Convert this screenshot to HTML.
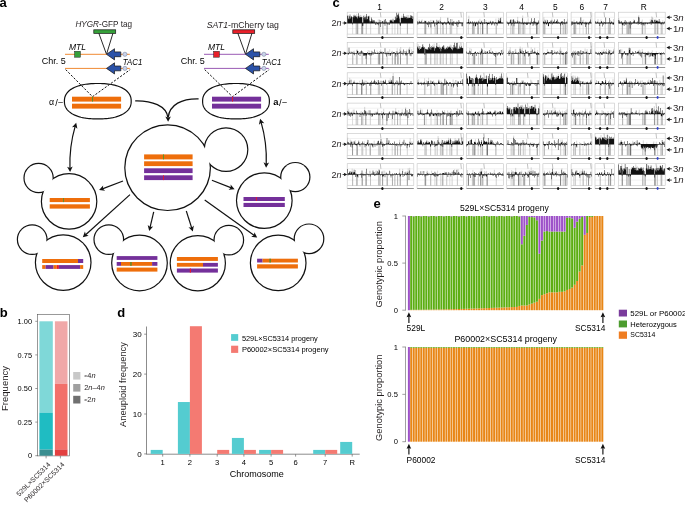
<!DOCTYPE html>
<html><head><meta charset="utf-8"><style>
html,body{margin:0;padding:0;background:#fff;overflow:hidden;}
svg{display:block;font-family:"Liberation Sans", sans-serif;}
#wrap{will-change:transform;}
</style></head><body>
<div id="wrap"><svg width="685" height="505" viewBox="0 0 685 505" font-family='"Liberation Sans", sans-serif'>
<rect width="685" height="505" fill="#fff"/>
<text x="-0.50" y="7.00" font-size="13" text-anchor="start" font-weight="bold" fill="#000" >a</text>
<text x="75.4" y="26.6" font-size="8.4" fill="#231f20" textLength="56.6" lengthAdjust="spacingAndGlyphs"><tspan font-style="italic">HYGR</tspan>-GFP tag</text>
<rect x="93.80" y="29.80" width="21.90" height="3.60" fill="#36a03a" stroke="#1a1a1a" stroke-width="0.7"/>
<line x1="98.90" y1="33.40" x2="106.40" y2="54.00" stroke="#111" stroke-width="0.9" />
<line x1="112.90" y1="33.40" x2="106.60" y2="54.00" stroke="#111" stroke-width="0.9" />
<line x1="65.00" y1="54.30" x2="129.80" y2="54.30" stroke="#f08a33" stroke-width="1.0" />
<path d="M106.50,54.30 L114.50,48.70 L114.50,51.90 L120.80,51.90 L120.80,56.70 L114.50,56.70 L114.50,59.90 Z" fill="#2b52a8" stroke="#111" stroke-width="0.7" stroke-linejoin="miter"/>
<circle cx="124.90" cy="54.30" r="2.1" fill="#c9d3ea" stroke="#6b7490" stroke-width="0.5"/>
<line x1="65.00" y1="68.40" x2="129.80" y2="68.40" stroke="#f08a33" stroke-width="1.0" />
<path d="M106.50,68.40 L114.50,62.80 L114.50,66.00 L120.80,66.00 L120.80,70.80 L114.50,70.80 L114.50,74.00 Z" fill="#2b52a8" stroke="#111" stroke-width="0.7" stroke-linejoin="miter"/>
<circle cx="124.90" cy="68.40" r="2.1" fill="#c9d3ea" stroke="#6b7490" stroke-width="0.5"/>
<rect x="74.60" y="51.30" width="5.80" height="5.90" fill="#36a03a" stroke="#222" stroke-width="0.5"/>
<text x="69.00" y="50.00" font-size="8.3" text-anchor="start" font-style="italic" textLength="17" lengthAdjust="spacingAndGlyphs">MTL</text>
<text x="41.70" y="64.00" font-size="8.6" text-anchor="start" textLength="24" lengthAdjust="spacingAndGlyphs">Chr. 5</text>
<text x="122.80" y="65.20" font-size="8.3" text-anchor="start" font-style="italic" textLength="19.5" lengthAdjust="spacingAndGlyphs">TAC1</text>
<path d="M65.70,69.6 L92.50,96.7 L130.20,69.6" fill="none" stroke="#111" stroke-width="1.0" stroke-dasharray="2.2,1.6"/>
<polygon points="131.20,101.20 131.16,102.56 131.04,103.68 130.84,104.73 130.56,105.72 130.21,106.66 129.77,107.57 129.26,108.45 128.67,109.30 128.01,110.11 127.27,110.89 126.46,111.64 125.58,112.35 124.62,113.03 123.60,113.68 122.51,114.29 121.35,114.87 120.13,115.42 118.84,115.92 117.49,116.39 116.08,116.82 114.61,117.21 113.08,117.56 111.48,117.87 109.83,118.14 108.11,118.37 106.32,118.56 104.46,118.71 102.49,118.82 100.37,118.88 97.80,118.90 95.23,118.88 93.11,118.82 91.14,118.71 89.28,118.56 87.49,118.37 85.77,118.14 84.12,117.87 82.52,117.56 80.99,117.21 79.52,116.82 78.11,116.39 76.76,115.92 75.47,115.42 74.25,114.87 73.09,114.29 72.00,113.68 70.98,113.03 70.02,112.35 69.14,111.64 68.33,110.89 67.59,110.11 66.93,109.30 66.34,108.45 65.83,107.57 65.39,106.66 65.04,105.72 64.76,104.73 64.56,103.68 64.44,102.56 64.40,101.20 64.44,99.84 64.56,98.72 64.76,97.67 65.04,96.68 65.39,95.74 65.83,94.83 66.34,93.95 66.93,93.10 67.59,92.29 68.33,91.51 69.14,90.76 70.02,90.05 70.98,89.37 72.00,88.72 73.09,88.11 74.25,87.53 75.47,86.98 76.76,86.48 78.11,86.01 79.52,85.58 80.99,85.19 82.52,84.84 84.12,84.53 85.77,84.26 87.49,84.03 89.28,83.84 91.14,83.69 93.11,83.58 95.23,83.52 97.80,83.50 100.37,83.52 102.49,83.58 104.46,83.69 106.32,83.84 108.11,84.03 109.83,84.26 111.48,84.53 113.08,84.84 114.61,85.19 116.08,85.58 117.49,86.01 118.84,86.48 120.13,86.98 121.35,87.53 122.51,88.11 123.60,88.72 124.62,89.37 125.58,90.05 126.46,90.76 127.27,91.51 128.01,92.29 128.67,93.10 129.26,93.95 129.77,94.83 130.21,95.74 130.56,96.68 130.84,97.67 131.04,98.72 131.16,99.84" fill="none" stroke="#111" stroke-width="1.2"/>
<rect x="72.00" y="96.70" width="49.10" height="4.90" fill="#ee6e0b" />
<rect x="72.00" y="103.70" width="49.10" height="4.90" fill="#ee6e0b" />
<rect x="92.00" y="96.70" width="0.90" height="4.90" fill="#4a9a2a" />
<text x="206.8" y="27.6" font-size="8.4" fill="#231f20" textLength="72.2" lengthAdjust="spacingAndGlyphs"><tspan font-style="italic">SAT1</tspan>-mCherry tag</text>
<rect x="232.80" y="29.80" width="21.90" height="3.60" fill="#e8202a" stroke="#1a1a1a" stroke-width="0.7"/>
<line x1="237.90" y1="33.40" x2="245.40" y2="54.00" stroke="#111" stroke-width="0.9" />
<line x1="251.90" y1="33.40" x2="245.60" y2="54.00" stroke="#111" stroke-width="0.9" />
<line x1="204.00" y1="54.30" x2="268.80" y2="54.30" stroke="#9a5bb5" stroke-width="1.0" />
<path d="M245.50,54.30 L253.50,48.70 L253.50,51.90 L259.80,51.90 L259.80,56.70 L253.50,56.70 L253.50,59.90 Z" fill="#2b52a8" stroke="#111" stroke-width="0.7" stroke-linejoin="miter"/>
<circle cx="263.90" cy="54.30" r="2.1" fill="#c9d3ea" stroke="#6b7490" stroke-width="0.5"/>
<line x1="204.00" y1="68.40" x2="268.80" y2="68.40" stroke="#9a5bb5" stroke-width="1.0" />
<path d="M245.50,68.40 L253.50,62.80 L253.50,66.00 L259.80,66.00 L259.80,70.80 L253.50,70.80 L253.50,74.00 Z" fill="#2b52a8" stroke="#111" stroke-width="0.7" stroke-linejoin="miter"/>
<circle cx="263.90" cy="68.40" r="2.1" fill="#c9d3ea" stroke="#6b7490" stroke-width="0.5"/>
<rect x="213.60" y="51.30" width="5.80" height="5.90" fill="#e8202a" stroke="#222" stroke-width="0.5"/>
<text x="208.00" y="50.00" font-size="8.3" text-anchor="start" font-style="italic" textLength="17" lengthAdjust="spacingAndGlyphs">MTL</text>
<text x="180.70" y="64.00" font-size="8.6" text-anchor="start" textLength="24" lengthAdjust="spacingAndGlyphs">Chr. 5</text>
<text x="261.80" y="65.20" font-size="8.3" text-anchor="start" font-style="italic" textLength="19.5" lengthAdjust="spacingAndGlyphs">TAC1</text>
<path d="M204.70,69.6 L232.50,96.7 L269.20,69.6" fill="none" stroke="#111" stroke-width="1.0" stroke-dasharray="2.2,1.6"/>
<polygon points="269.40,101.20 269.36,102.56 269.24,103.68 269.04,104.73 268.76,105.72 268.41,106.66 267.97,107.57 267.46,108.45 266.87,109.30 266.21,110.11 265.47,110.89 264.66,111.64 263.78,112.35 262.82,113.03 261.80,113.68 260.71,114.29 259.55,114.87 258.33,115.42 257.04,115.92 255.69,116.39 254.28,116.82 252.81,117.21 251.28,117.56 249.68,117.87 248.03,118.14 246.31,118.37 244.52,118.56 242.66,118.71 240.69,118.82 238.57,118.88 236.00,118.90 233.43,118.88 231.31,118.82 229.34,118.71 227.48,118.56 225.69,118.37 223.97,118.14 222.32,117.87 220.72,117.56 219.19,117.21 217.72,116.82 216.31,116.39 214.96,115.92 213.67,115.42 212.45,114.87 211.29,114.29 210.20,113.68 209.18,113.03 208.22,112.35 207.34,111.64 206.53,110.89 205.79,110.11 205.13,109.30 204.54,108.45 204.03,107.57 203.59,106.66 203.24,105.72 202.96,104.73 202.76,103.68 202.64,102.56 202.60,101.20 202.64,99.84 202.76,98.72 202.96,97.67 203.24,96.68 203.59,95.74 204.03,94.83 204.54,93.95 205.13,93.10 205.79,92.29 206.53,91.51 207.34,90.76 208.22,90.05 209.18,89.37 210.20,88.72 211.29,88.11 212.45,87.53 213.67,86.98 214.96,86.48 216.31,86.01 217.72,85.58 219.19,85.19 220.72,84.84 222.32,84.53 223.97,84.26 225.69,84.03 227.48,83.84 229.34,83.69 231.31,83.58 233.43,83.52 236.00,83.50 238.57,83.52 240.69,83.58 242.66,83.69 244.52,83.84 246.31,84.03 248.03,84.26 249.68,84.53 251.28,84.84 252.81,85.19 254.28,85.58 255.69,86.01 257.04,86.48 258.33,86.98 259.55,87.53 260.71,88.11 261.80,88.72 262.82,89.37 263.78,90.05 264.66,90.76 265.47,91.51 266.21,92.29 266.87,93.10 267.46,93.95 267.97,94.83 268.41,95.74 268.76,96.68 269.04,97.67 269.24,98.72 269.36,99.84" fill="none" stroke="#111" stroke-width="1.2"/>
<rect x="212.00" y="96.70" width="49.10" height="4.90" fill="#74309a" />
<rect x="212.00" y="103.70" width="49.10" height="4.90" fill="#74309a" />
<rect x="232.00" y="96.70" width="0.90" height="4.90" fill="#e5172b" />
<text x="49.00" y="105.30" font-size="8.8" text-anchor="start" >α</text>
<text x="55.30" y="105.60" font-size="9.4" text-anchor="start" >/</text>
<text x="58.20" y="105.30" font-size="8.2" text-anchor="start" >–</text>
<text x="273.20" y="105.30" font-size="9.4" text-anchor="start" font-weight="bold" >a</text>
<text x="279.00" y="105.60" font-size="9.4" text-anchor="start" >/</text>
<text x="282.20" y="105.30" font-size="8.2" text-anchor="start" >–</text>
<circle cx="226.00" cy="149.60" r="21.20" fill="none" stroke="#111" stroke-width="2.40"/>
<circle cx="167.60" cy="167.70" r="42.20" fill="none" stroke="#111" stroke-width="2.40"/>
<circle cx="226.00" cy="149.60" r="21.20" fill="#fff"/>
<circle cx="167.60" cy="167.70" r="42.20" fill="#fff"/>
<circle cx="38.60" cy="178.00" r="14.00" fill="none" stroke="#111" stroke-width="2.40"/>
<circle cx="69.10" cy="201.40" r="27.10" fill="none" stroke="#111" stroke-width="2.40"/>
<circle cx="38.60" cy="178.00" r="14.00" fill="#fff"/>
<circle cx="69.10" cy="201.40" r="27.10" fill="#fff"/>
<circle cx="295.30" cy="177.10" r="14.00" fill="none" stroke="#111" stroke-width="2.40"/>
<circle cx="264.30" cy="200.60" r="27.20" fill="none" stroke="#111" stroke-width="2.40"/>
<circle cx="295.30" cy="177.10" r="14.00" fill="#fff"/>
<circle cx="264.30" cy="200.60" r="27.20" fill="#fff"/>
<circle cx="32.20" cy="239.60" r="14.20" fill="none" stroke="#111" stroke-width="2.40"/>
<circle cx="63.20" cy="262.60" r="27.20" fill="none" stroke="#111" stroke-width="2.40"/>
<circle cx="32.20" cy="239.60" r="14.20" fill="#fff"/>
<circle cx="63.20" cy="262.60" r="27.20" fill="#fff"/>
<circle cx="108.80" cy="239.60" r="14.20" fill="none" stroke="#111" stroke-width="2.40"/>
<circle cx="139.50" cy="263.00" r="27.20" fill="none" stroke="#111" stroke-width="2.40"/>
<circle cx="108.80" cy="239.60" r="14.20" fill="#fff"/>
<circle cx="139.50" cy="263.00" r="27.20" fill="#fff"/>
<circle cx="228.80" cy="240.10" r="14.20" fill="none" stroke="#111" stroke-width="2.40"/>
<circle cx="197.80" cy="263.20" r="27.00" fill="none" stroke="#111" stroke-width="2.40"/>
<circle cx="228.80" cy="240.10" r="14.20" fill="#fff"/>
<circle cx="197.80" cy="263.20" r="27.00" fill="#fff"/>
<circle cx="309.00" cy="238.80" r="14.20" fill="none" stroke="#111" stroke-width="2.40"/>
<circle cx="278.20" cy="262.90" r="27.20" fill="none" stroke="#111" stroke-width="2.40"/>
<circle cx="309.00" cy="238.80" r="14.20" fill="#fff"/>
<circle cx="278.20" cy="262.90" r="27.20" fill="#fff"/>
<rect x="144.10" y="154.40" width="48.50" height="5.00" fill="#ee6e0b" />
<rect x="144.10" y="161.30" width="48.50" height="4.80" fill="#ee6e0b" />
<rect x="144.10" y="168.30" width="48.50" height="4.80" fill="#74309a" />
<rect x="144.10" y="175.30" width="48.50" height="4.80" fill="#74309a" />
<rect x="163.00" y="154.40" width="0.90" height="5.00" fill="#4a9a2a" />
<rect x="163.00" y="175.30" width="0.90" height="4.80" fill="#e5172b" />
<rect x="49.70" y="198.00" width="40.20" height="4.10" fill="#ee6e0b" />
<rect x="49.70" y="204.30" width="40.20" height="4.30" fill="#ee6e0b" />
<rect x="63.20" y="198.00" width="0.80" height="4.10" fill="#4a9a2a" />
<rect x="243.50" y="197.00" width="41.30" height="4.00" fill="#74309a" />
<rect x="243.50" y="202.90" width="41.30" height="4.10" fill="#74309a" />
<rect x="255.90" y="197.00" width="0.90" height="4.00" fill="#e5172b" />
<rect x="42.20" y="259.00" width="35.80" height="4.00" fill="#ee6e0b" />
<rect x="78.00" y="259.00" width="5.20" height="4.00" fill="#74309a" />
<rect x="42.20" y="265.10" width="3.40" height="3.80" fill="#ee6e0b" />
<rect x="45.60" y="265.10" width="8.00" height="3.80" fill="#74309a" />
<rect x="53.60" y="265.10" width="3.20" height="3.80" fill="#ee6e0b" />
<rect x="56.80" y="265.10" width="2.10" height="3.80" fill="#e5172b" />
<rect x="58.90" y="265.10" width="21.20" height="3.80" fill="#74309a" />
<rect x="80.10" y="265.10" width="3.10" height="3.80" fill="#ee6e0b" />
<rect x="116.70" y="256.10" width="40.70" height="3.80" fill="#74309a" />
<rect x="116.70" y="262.00" width="4.30" height="3.80" fill="#74309a" />
<rect x="121.00" y="262.00" width="31.10" height="3.80" fill="#ee6e0b" />
<rect x="152.10" y="262.00" width="5.30" height="3.80" fill="#74309a" />
<rect x="130.20" y="262.00" width="1.50" height="3.80" fill="#5b8a2a" />
<rect x="116.70" y="267.60" width="40.70" height="4.00" fill="#ee6e0b" />
<rect x="176.90" y="257.00" width="41.00" height="3.90" fill="#ee6e0b" />
<rect x="176.90" y="262.90" width="26.10" height="3.80" fill="#ee6e0b" />
<rect x="203.00" y="262.90" width="14.90" height="3.80" fill="#74309a" />
<rect x="176.90" y="268.50" width="41.00" height="4.10" fill="#74309a" />
<rect x="189.80" y="268.50" width="1.20" height="4.10" fill="#e5172b" />
<rect x="257.10" y="258.70" width="5.50" height="3.80" fill="#74309a" />
<rect x="262.60" y="258.70" width="35.30" height="3.80" fill="#ee6e0b" />
<rect x="269.40" y="258.70" width="1.50" height="3.80" fill="#5b8a2a" />
<rect x="257.10" y="264.30" width="40.80" height="4.20" fill="#ee6e0b" />
<line x1="123.00" y1="181.00" x2="102.37" y2="188.85" stroke="#111" stroke-width="1.2" />
<path d="M99.10,190.10 L103.15,185.56 L102.88,188.66 L105.14,190.80 Z" fill="#111"/>
<line x1="211.90" y1="180.30" x2="231.34" y2="187.92" stroke="#111" stroke-width="1.2" />
<path d="M234.60,189.20 L228.55,189.84 L230.83,187.72 L230.59,184.62 Z" fill="#111"/>
<line x1="130.00" y1="194.60" x2="85.40" y2="234.95" stroke="#111" stroke-width="1.2" />
<path d="M82.80,237.30 L84.93,231.60 L85.80,234.58 L88.68,235.75 Z" fill="#111"/>
<line x1="153.70" y1="211.80" x2="150.00" y2="227.59" stroke="#111" stroke-width="1.2" />
<path d="M149.20,231.00 L147.71,225.10 L150.12,227.06 L153.16,226.38 Z" fill="#111"/>
<line x1="186.30" y1="211.00" x2="191.74" y2="228.16" stroke="#111" stroke-width="1.2" />
<path d="M192.80,231.50 L188.50,227.20 L191.58,227.64 L193.84,225.51 Z" fill="#111"/>
<line x1="204.70" y1="200.00" x2="254.35" y2="235.56" stroke="#111" stroke-width="1.2" />
<path d="M257.20,237.60 L251.18,236.73 L253.91,235.24 L254.44,232.18 Z" fill="#111"/>
<path d="M75.22,126.16 Q69.18,146.91 69.97,168.50" fill="none" stroke="#111" stroke-width="1.2"/>
<path d="M76.20,122.80 L77.38,128.77 L75.07,126.69 L72.00,127.20 Z" fill="#111"/>
<path d="M70.10,172.00 L67.10,166.71 L69.95,167.95 L72.70,166.50 Z" fill="#111"/>
<path d="M261.08,122.16 Q267.07,142.76 266.24,164.20" fill="none" stroke="#111" stroke-width="1.2"/>
<path d="M260.10,118.80 L264.30,123.20 L261.23,122.69 L258.92,124.77 Z" fill="#111"/>
<path d="M266.10,167.70 L263.51,162.20 L266.26,163.65 L269.11,162.41 Z" fill="#111"/>
<path d="M135.2,100.8 C152,100.4 166.5,106 167.9,117.5" fill="none" stroke="#111" stroke-width="1.3"/>
<path d="M198.6,98.8 C182,98.4 169.5,104.5 168.2,117.5" fill="none" stroke="#111" stroke-width="1.3"/>
<path d="M168.10,121.80 L165.30,116.40 L168.10,117.75 L170.90,116.40 Z" fill="#111"/>
<text x="-0.30" y="316.80" font-size="13" text-anchor="start" font-weight="bold" fill="#000" >b</text>
<rect x="37.4" y="314.3" width="31.9" height="141.6" fill="none" stroke="#555" stroke-width="0.6"/>
<line x1="35.30" y1="321.30" x2="37.40" y2="321.30" stroke="#555" stroke-width="0.6" />
<text x="32.00" y="323.90" font-size="7.4" text-anchor="end" >1.00</text>
<line x1="35.30" y1="354.90" x2="37.40" y2="354.90" stroke="#555" stroke-width="0.6" />
<text x="32.00" y="357.50" font-size="7.4" text-anchor="end" >0.75</text>
<line x1="35.30" y1="388.50" x2="37.40" y2="388.50" stroke="#555" stroke-width="0.6" />
<text x="32.00" y="391.10" font-size="7.4" text-anchor="end" >0.50</text>
<line x1="35.30" y1="422.10" x2="37.40" y2="422.10" stroke="#555" stroke-width="0.6" />
<text x="32.00" y="424.70" font-size="7.4" text-anchor="end" >0.25</text>
<line x1="35.30" y1="455.70" x2="37.40" y2="455.70" stroke="#555" stroke-width="0.6" />
<text x="32.00" y="458.30" font-size="7.4" text-anchor="end" >0</text>
<rect x="39.40" y="321.30" width="13.40" height="91.39" fill="#7fd8d8" />
<rect x="39.40" y="412.69" width="13.40" height="36.96" fill="#1fbcc2" />
<rect x="39.40" y="449.65" width="13.40" height="6.05" fill="#3a8e90" />
<rect x="54.90" y="321.30" width="12.60" height="62.50" fill="#f0a8a8" />
<rect x="54.90" y="383.80" width="12.60" height="65.59" fill="#f2706a" />
<rect x="54.90" y="449.38" width="12.60" height="6.32" fill="#e34040" />
<line x1="46.10" y1="455.90" x2="46.10" y2="458.40" stroke="#555" stroke-width="0.6" />
<line x1="60.40" y1="455.90" x2="60.40" y2="458.40" stroke="#555" stroke-width="0.6" />
<rect x="73.20" y="372.00" width="7.20" height="7.60" fill="#c8c8c8" />
<rect x="73.20" y="384.00" width="7.20" height="7.60" fill="#a0a0a0" />
<rect x="73.20" y="395.80" width="7.20" height="7.70" fill="#707070" />
<text x="84.2" y="377.9" font-size="7.4" fill="#231f20"><tspan font-size="5.6">≈</tspan>4<tspan font-style="italic">n</tspan></text>
<text x="84.2" y="389.9" font-size="7.4" fill="#231f20">2<tspan font-style="italic">n</tspan>–4<tspan font-style="italic">n</tspan></text>
<text x="84.2" y="401.7" font-size="7.4" fill="#231f20"><tspan font-size="5.6">≈</tspan>2<tspan font-style="italic">n</tspan></text>
<text x="0" y="0" font-size="9.5" fill="#231f20" text-anchor="middle" transform="translate(8.4,388.5) rotate(-90)">Frequency</text>
<text x="0" y="0" font-size="7.0" fill="#231f20" text-anchor="end" transform="translate(51.0,465.0) rotate(-45)">529L×SC5314</text>
<text x="0" y="0" font-size="7.0" fill="#231f20" text-anchor="end" transform="translate(64.9,465.0) rotate(-45)">P60002×SC5314</text>
<text x="117.30" y="316.80" font-size="13" text-anchor="start" font-weight="bold" fill="#000" >d</text>
<line x1="146.50" y1="326.50" x2="146.50" y2="454.20" stroke="#666" stroke-width="0.75" />
<line x1="146.20" y1="454.20" x2="359.70" y2="454.20" stroke="#666" stroke-width="0.75" />
<line x1="144.20" y1="453.90" x2="146.50" y2="453.90" stroke="#666" stroke-width="0.7" />
<text x="141.60" y="456.70" font-size="8.0" text-anchor="end" >0</text>
<line x1="144.20" y1="414.00" x2="146.50" y2="414.00" stroke="#666" stroke-width="0.7" />
<text x="141.60" y="416.80" font-size="8.0" text-anchor="end" >10</text>
<line x1="144.20" y1="374.10" x2="146.50" y2="374.10" stroke="#666" stroke-width="0.7" />
<text x="141.60" y="376.90" font-size="8.0" text-anchor="end" >20</text>
<line x1="144.20" y1="334.20" x2="146.50" y2="334.20" stroke="#666" stroke-width="0.7" />
<text x="141.60" y="337.00" font-size="8.0" text-anchor="end" >30</text>
<rect x="150.70" y="449.91" width="12.00" height="3.99" fill="#54ccd0" />
<line x1="162.70" y1="454.20" x2="162.70" y2="456.60" stroke="#666" stroke-width="0.7" />
<text x="162.70" y="465.40" font-size="7.6" text-anchor="middle" >1</text>
<rect x="177.90" y="402.03" width="12.00" height="51.87" fill="#54ccd0" />
<rect x="189.90" y="326.22" width="12.00" height="127.68" fill="#f47a72" />
<line x1="189.90" y1="454.20" x2="189.90" y2="456.60" stroke="#666" stroke-width="0.7" />
<text x="189.90" y="465.40" font-size="7.6" text-anchor="middle" >2</text>
<rect x="217.20" y="449.91" width="12.00" height="3.99" fill="#f47a72" />
<line x1="217.20" y1="454.20" x2="217.20" y2="456.60" stroke="#666" stroke-width="0.7" />
<text x="217.20" y="465.40" font-size="7.6" text-anchor="middle" >3</text>
<rect x="231.90" y="437.94" width="12.00" height="15.96" fill="#54ccd0" />
<rect x="243.90" y="449.91" width="12.00" height="3.99" fill="#f47a72" />
<line x1="243.90" y1="454.20" x2="243.90" y2="456.60" stroke="#666" stroke-width="0.7" />
<text x="243.90" y="465.40" font-size="7.6" text-anchor="middle" >4</text>
<rect x="259.10" y="449.91" width="12.00" height="3.99" fill="#54ccd0" />
<rect x="271.10" y="449.91" width="12.00" height="3.99" fill="#f47a72" />
<line x1="271.10" y1="454.20" x2="271.10" y2="456.60" stroke="#666" stroke-width="0.7" />
<text x="271.10" y="465.40" font-size="7.6" text-anchor="middle" >5</text>
<line x1="295.60" y1="454.20" x2="295.60" y2="456.60" stroke="#666" stroke-width="0.7" />
<text x="295.60" y="465.40" font-size="7.6" text-anchor="middle" >6</text>
<rect x="313.20" y="449.91" width="12.00" height="3.99" fill="#54ccd0" />
<rect x="325.20" y="449.91" width="12.00" height="3.99" fill="#f47a72" />
<line x1="325.20" y1="454.20" x2="325.20" y2="456.60" stroke="#666" stroke-width="0.7" />
<text x="325.20" y="465.40" font-size="7.6" text-anchor="middle" >7</text>
<rect x="340.20" y="441.93" width="12.00" height="11.97" fill="#54ccd0" />
<line x1="352.20" y1="454.20" x2="352.20" y2="456.60" stroke="#666" stroke-width="0.7" />
<text x="352.20" y="465.40" font-size="7.6" text-anchor="middle" >R</text>
<rect x="231.10" y="334.10" width="7.10" height="6.70" fill="#54ccd0" />
<rect x="231.10" y="345.70" width="7.10" height="7.20" fill="#f47a72" />
<text x="241.90" y="340.50" font-size="7.5" text-anchor="start" textLength="75.9" lengthAdjust="spacingAndGlyphs">529L×SC5314 progeny</text>
<text x="241.90" y="351.80" font-size="7.5" text-anchor="start" textLength="86.7" lengthAdjust="spacingAndGlyphs">P60002×SC5314 progeny</text>
<text x="0" y="0" font-size="9.3" fill="#231f20" text-anchor="middle" transform="translate(125.6,384.5) rotate(-90)">Aneuploid frequency</text>
<text x="256.80" y="476.60" font-size="9.0" text-anchor="middle" >Chromosome</text>
<text x="373.40" y="207.70" font-size="13" text-anchor="start" font-weight="bold" fill="#000" >e</text>
<line x1="405.50" y1="215.70" x2="405.50" y2="310.50" stroke="#777" stroke-width="0.7" />
<line x1="402.30" y1="216.00" x2="405.50" y2="216.00" stroke="#777" stroke-width="0.7" />
<text x="397.90" y="218.60" font-size="7.6" text-anchor="end" >1</text>
<line x1="402.30" y1="263.10" x2="405.50" y2="263.10" stroke="#777" stroke-width="0.7" />
<text x="397.90" y="265.70" font-size="7.6" text-anchor="end" >0.5</text>
<line x1="402.30" y1="310.20" x2="405.50" y2="310.20" stroke="#777" stroke-width="0.7" />
<text x="397.90" y="312.80" font-size="7.6" text-anchor="end" >0</text>
<rect x="407.90" y="216.00" width="2.00" height="94.20" fill="#9e52c9" />
<rect x="410.20" y="309.82" width="2.01" height="0.38" fill="#e88616" />
<rect x="410.20" y="216.00" width="2.01" height="93.82" fill="#5cae12" />
<rect x="412.71" y="309.82" width="2.01" height="0.38" fill="#e88616" />
<rect x="412.71" y="216.38" width="2.01" height="93.44" fill="#5cae12" />
<rect x="412.71" y="216.00" width="2.01" height="0.38" fill="#9e52c9" />
<rect x="415.23" y="309.80" width="2.01" height="0.40" fill="#e88616" />
<rect x="415.23" y="216.00" width="2.01" height="93.80" fill="#5cae12" />
<rect x="417.74" y="309.78" width="2.01" height="0.42" fill="#e88616" />
<rect x="417.74" y="216.00" width="2.01" height="93.78" fill="#5cae12" />
<rect x="420.26" y="309.75" width="2.01" height="0.45" fill="#e88616" />
<rect x="420.26" y="216.38" width="2.01" height="93.38" fill="#5cae12" />
<rect x="420.26" y="216.00" width="2.01" height="0.38" fill="#9e52c9" />
<rect x="422.77" y="309.73" width="2.01" height="0.47" fill="#e88616" />
<rect x="422.77" y="216.00" width="2.01" height="93.73" fill="#5cae12" />
<rect x="425.29" y="309.69" width="2.01" height="0.51" fill="#e88616" />
<rect x="425.29" y="216.00" width="2.01" height="93.69" fill="#5cae12" />
<rect x="427.80" y="309.66" width="2.01" height="0.54" fill="#e88616" />
<rect x="427.80" y="216.38" width="2.01" height="93.28" fill="#5cae12" />
<rect x="427.80" y="216.00" width="2.01" height="0.38" fill="#9e52c9" />
<rect x="430.31" y="309.62" width="2.01" height="0.58" fill="#e88616" />
<rect x="430.31" y="216.00" width="2.01" height="93.62" fill="#5cae12" />
<rect x="432.83" y="309.57" width="2.01" height="0.63" fill="#e88616" />
<rect x="432.83" y="216.00" width="2.01" height="93.57" fill="#5cae12" />
<rect x="435.34" y="309.53" width="2.01" height="0.67" fill="#e88616" />
<rect x="435.34" y="216.38" width="2.01" height="93.15" fill="#5cae12" />
<rect x="435.34" y="216.00" width="2.01" height="0.38" fill="#9e52c9" />
<rect x="437.86" y="309.48" width="2.01" height="0.72" fill="#e88616" />
<rect x="437.86" y="216.00" width="2.01" height="93.48" fill="#5cae12" />
<rect x="440.37" y="309.43" width="2.01" height="0.77" fill="#e88616" />
<rect x="440.37" y="216.00" width="2.01" height="93.43" fill="#5cae12" />
<rect x="442.89" y="309.37" width="2.01" height="0.83" fill="#e88616" />
<rect x="442.89" y="216.38" width="2.01" height="93.00" fill="#5cae12" />
<rect x="442.89" y="216.00" width="2.01" height="0.38" fill="#9e52c9" />
<rect x="445.40" y="309.32" width="2.01" height="0.88" fill="#e88616" />
<rect x="445.40" y="216.00" width="2.01" height="93.32" fill="#5cae12" />
<rect x="447.91" y="309.26" width="2.01" height="0.94" fill="#e88616" />
<rect x="447.91" y="216.00" width="2.01" height="93.26" fill="#5cae12" />
<rect x="450.43" y="309.20" width="2.01" height="1.00" fill="#e88616" />
<rect x="450.43" y="216.38" width="2.01" height="92.82" fill="#5cae12" />
<rect x="450.43" y="216.00" width="2.01" height="0.38" fill="#9e52c9" />
<rect x="452.94" y="309.13" width="2.01" height="1.07" fill="#e88616" />
<rect x="452.94" y="216.00" width="2.01" height="93.13" fill="#5cae12" />
<rect x="455.46" y="309.07" width="2.01" height="1.13" fill="#e88616" />
<rect x="455.46" y="216.00" width="2.01" height="93.07" fill="#5cae12" />
<rect x="457.97" y="309.00" width="2.01" height="1.20" fill="#e88616" />
<rect x="457.97" y="216.38" width="2.01" height="92.62" fill="#5cae12" />
<rect x="457.97" y="216.00" width="2.01" height="0.38" fill="#9e52c9" />
<rect x="460.49" y="308.93" width="2.01" height="1.27" fill="#e88616" />
<rect x="460.49" y="216.00" width="2.01" height="92.93" fill="#5cae12" />
<rect x="463.00" y="308.85" width="2.01" height="1.35" fill="#e88616" />
<rect x="463.00" y="216.00" width="2.01" height="92.85" fill="#5cae12" />
<rect x="465.51" y="308.78" width="2.01" height="1.42" fill="#e88616" />
<rect x="465.51" y="216.38" width="2.01" height="92.40" fill="#5cae12" />
<rect x="465.51" y="216.00" width="2.01" height="0.38" fill="#9e52c9" />
<rect x="468.03" y="308.70" width="2.01" height="1.50" fill="#e88616" />
<rect x="468.03" y="216.00" width="2.01" height="92.70" fill="#5cae12" />
<rect x="470.54" y="308.62" width="2.01" height="1.58" fill="#e88616" />
<rect x="470.54" y="216.00" width="2.01" height="92.62" fill="#5cae12" />
<rect x="473.06" y="308.54" width="2.01" height="1.66" fill="#e88616" />
<rect x="473.06" y="216.38" width="2.01" height="92.17" fill="#5cae12" />
<rect x="473.06" y="216.00" width="2.01" height="0.38" fill="#9e52c9" />
<rect x="475.57" y="308.46" width="2.01" height="1.74" fill="#e88616" />
<rect x="475.57" y="216.00" width="2.01" height="92.46" fill="#5cae12" />
<rect x="478.09" y="308.37" width="2.01" height="1.83" fill="#e88616" />
<rect x="478.09" y="216.00" width="2.01" height="92.37" fill="#5cae12" />
<rect x="480.60" y="308.29" width="2.01" height="1.91" fill="#e88616" />
<rect x="480.60" y="216.38" width="2.01" height="91.91" fill="#5cae12" />
<rect x="480.60" y="216.00" width="2.01" height="0.38" fill="#9e52c9" />
<rect x="483.11" y="308.20" width="2.01" height="2.00" fill="#e88616" />
<rect x="483.11" y="216.00" width="2.01" height="92.20" fill="#5cae12" />
<rect x="485.63" y="308.11" width="2.01" height="2.09" fill="#e88616" />
<rect x="485.63" y="216.00" width="2.01" height="92.11" fill="#5cae12" />
<rect x="488.14" y="308.02" width="2.01" height="2.18" fill="#e88616" />
<rect x="488.14" y="216.38" width="2.01" height="91.64" fill="#5cae12" />
<rect x="488.14" y="216.00" width="2.01" height="0.38" fill="#9e52c9" />
<rect x="490.66" y="307.92" width="2.01" height="2.28" fill="#e88616" />
<rect x="490.66" y="216.00" width="2.01" height="91.92" fill="#5cae12" />
<rect x="493.17" y="307.83" width="2.01" height="2.37" fill="#e88616" />
<rect x="493.17" y="216.00" width="2.01" height="91.83" fill="#5cae12" />
<rect x="495.69" y="307.73" width="2.01" height="2.47" fill="#e88616" />
<rect x="495.69" y="216.38" width="2.01" height="91.35" fill="#5cae12" />
<rect x="495.69" y="216.00" width="2.01" height="0.38" fill="#9e52c9" />
<rect x="498.20" y="307.63" width="2.01" height="2.57" fill="#e88616" />
<rect x="498.20" y="216.00" width="2.01" height="91.63" fill="#5cae12" />
<rect x="500.71" y="307.53" width="2.01" height="2.67" fill="#e88616" />
<rect x="500.71" y="216.00" width="2.01" height="91.53" fill="#5cae12" />
<rect x="503.23" y="307.43" width="2.01" height="2.77" fill="#e88616" />
<rect x="503.23" y="216.38" width="2.01" height="91.05" fill="#5cae12" />
<rect x="503.23" y="216.00" width="2.01" height="0.38" fill="#9e52c9" />
<rect x="505.74" y="307.32" width="2.01" height="2.88" fill="#e88616" />
<rect x="505.74" y="216.00" width="2.01" height="91.32" fill="#5cae12" />
<rect x="508.26" y="307.21" width="2.01" height="2.99" fill="#e88616" />
<rect x="508.26" y="216.00" width="2.01" height="91.21" fill="#5cae12" />
<rect x="510.77" y="307.11" width="2.01" height="3.09" fill="#e88616" />
<rect x="510.77" y="216.38" width="2.01" height="90.73" fill="#5cae12" />
<rect x="510.77" y="216.00" width="2.01" height="0.38" fill="#9e52c9" />
<rect x="513.29" y="307.00" width="2.01" height="3.20" fill="#e88616" />
<rect x="513.29" y="216.00" width="2.01" height="91.00" fill="#5cae12" />
<rect x="515.80" y="306.90" width="2.01" height="3.30" fill="#e88616" />
<rect x="515.80" y="216.00" width="2.01" height="90.90" fill="#5cae12" />
<rect x="518.31" y="305.96" width="2.01" height="4.24" fill="#e88616" />
<rect x="518.31" y="216.47" width="2.01" height="89.49" fill="#5cae12" />
<rect x="518.31" y="216.00" width="2.01" height="0.47" fill="#9e52c9" />
<rect x="520.83" y="305.49" width="2.01" height="4.71" fill="#e88616" />
<rect x="520.83" y="244.26" width="2.01" height="61.23" fill="#5cae12" />
<rect x="520.83" y="216.00" width="2.01" height="28.26" fill="#9e52c9" />
<rect x="523.34" y="305.49" width="2.01" height="4.71" fill="#e88616" />
<rect x="523.34" y="235.78" width="2.01" height="69.71" fill="#5cae12" />
<rect x="523.34" y="216.00" width="2.01" height="19.78" fill="#9e52c9" />
<rect x="525.86" y="305.49" width="2.01" height="4.71" fill="#e88616" />
<rect x="525.86" y="224.95" width="2.01" height="80.54" fill="#5cae12" />
<rect x="525.86" y="216.00" width="2.01" height="8.95" fill="#9e52c9" />
<rect x="528.37" y="304.55" width="2.01" height="5.65" fill="#e88616" />
<rect x="528.37" y="216.94" width="2.01" height="87.61" fill="#5cae12" />
<rect x="528.37" y="216.00" width="2.01" height="0.94" fill="#9e52c9" />
<rect x="530.89" y="303.61" width="2.01" height="6.59" fill="#e88616" />
<rect x="530.89" y="217.13" width="2.01" height="86.48" fill="#5cae12" />
<rect x="530.89" y="216.00" width="2.01" height="1.13" fill="#9e52c9" />
<rect x="533.40" y="302.66" width="2.01" height="7.54" fill="#e88616" />
<rect x="533.40" y="217.41" width="2.01" height="85.25" fill="#5cae12" />
<rect x="533.40" y="216.00" width="2.01" height="1.41" fill="#9e52c9" />
<rect x="535.91" y="301.72" width="2.01" height="8.48" fill="#e88616" />
<rect x="535.91" y="220.24" width="2.01" height="81.48" fill="#5cae12" />
<rect x="535.91" y="216.00" width="2.01" height="4.24" fill="#9e52c9" />
<rect x="538.43" y="298.90" width="2.01" height="11.30" fill="#e88616" />
<rect x="538.43" y="253.68" width="2.01" height="45.22" fill="#5cae12" />
<rect x="538.43" y="216.00" width="2.01" height="37.68" fill="#9e52c9" />
<rect x="540.94" y="295.13" width="2.01" height="15.07" fill="#e88616" />
<rect x="540.94" y="240.49" width="2.01" height="54.64" fill="#5cae12" />
<rect x="540.94" y="216.00" width="2.01" height="24.49" fill="#9e52c9" />
<rect x="543.46" y="294.19" width="2.01" height="16.01" fill="#e88616" />
<rect x="543.46" y="231.54" width="2.01" height="62.64" fill="#5cae12" />
<rect x="543.46" y="216.00" width="2.01" height="15.54" fill="#9e52c9" />
<rect x="545.97" y="293.24" width="2.01" height="16.96" fill="#e88616" />
<rect x="545.97" y="231.07" width="2.01" height="62.17" fill="#5cae12" />
<rect x="545.97" y="216.00" width="2.01" height="15.07" fill="#9e52c9" />
<rect x="548.49" y="292.30" width="2.01" height="17.90" fill="#e88616" />
<rect x="548.49" y="231.54" width="2.01" height="60.76" fill="#5cae12" />
<rect x="548.49" y="216.00" width="2.01" height="15.54" fill="#9e52c9" />
<rect x="551.00" y="292.30" width="2.01" height="17.90" fill="#e88616" />
<rect x="551.00" y="231.54" width="2.01" height="60.76" fill="#5cae12" />
<rect x="551.00" y="216.00" width="2.01" height="15.54" fill="#9e52c9" />
<rect x="553.51" y="292.30" width="2.01" height="17.90" fill="#e88616" />
<rect x="553.51" y="231.54" width="2.01" height="60.76" fill="#5cae12" />
<rect x="553.51" y="216.00" width="2.01" height="15.54" fill="#9e52c9" />
<rect x="556.03" y="292.30" width="2.01" height="17.90" fill="#e88616" />
<rect x="556.03" y="231.54" width="2.01" height="60.76" fill="#5cae12" />
<rect x="556.03" y="216.00" width="2.01" height="15.54" fill="#9e52c9" />
<rect x="558.54" y="291.83" width="2.01" height="18.37" fill="#e88616" />
<rect x="558.54" y="231.54" width="2.01" height="60.29" fill="#5cae12" />
<rect x="558.54" y="216.00" width="2.01" height="15.54" fill="#9e52c9" />
<rect x="561.06" y="291.83" width="2.01" height="18.37" fill="#e88616" />
<rect x="561.06" y="231.54" width="2.01" height="60.29" fill="#5cae12" />
<rect x="561.06" y="216.00" width="2.01" height="15.54" fill="#9e52c9" />
<rect x="563.57" y="291.36" width="2.01" height="18.84" fill="#e88616" />
<rect x="563.57" y="231.54" width="2.01" height="59.82" fill="#5cae12" />
<rect x="563.57" y="216.00" width="2.01" height="15.54" fill="#9e52c9" />
<rect x="566.09" y="289.95" width="2.01" height="20.25" fill="#e88616" />
<rect x="566.09" y="217.88" width="2.01" height="72.06" fill="#5cae12" />
<rect x="566.09" y="216.00" width="2.01" height="1.88" fill="#9e52c9" />
<rect x="568.60" y="289.00" width="2.01" height="21.19" fill="#e88616" />
<rect x="568.60" y="217.41" width="2.01" height="71.59" fill="#5cae12" />
<rect x="568.60" y="216.00" width="2.01" height="1.41" fill="#9e52c9" />
<rect x="571.11" y="287.59" width="2.01" height="22.61" fill="#e88616" />
<rect x="571.11" y="218.35" width="2.01" height="69.24" fill="#5cae12" />
<rect x="571.11" y="216.00" width="2.01" height="2.35" fill="#9e52c9" />
<rect x="573.63" y="284.77" width="2.01" height="25.43" fill="#e88616" />
<rect x="573.63" y="227.78" width="2.01" height="56.99" fill="#5cae12" />
<rect x="573.63" y="216.00" width="2.01" height="11.78" fill="#9e52c9" />
<rect x="576.14" y="281.00" width="2.01" height="29.20" fill="#e88616" />
<rect x="576.14" y="221.65" width="2.01" height="59.35" fill="#5cae12" />
<rect x="576.14" y="216.00" width="2.01" height="5.65" fill="#9e52c9" />
<rect x="578.66" y="271.58" width="2.01" height="38.62" fill="#e88616" />
<rect x="578.66" y="218.83" width="2.01" height="52.75" fill="#5cae12" />
<rect x="578.66" y="216.00" width="2.01" height="2.83" fill="#9e52c9" />
<rect x="581.17" y="265.45" width="2.01" height="44.75" fill="#e88616" />
<rect x="581.17" y="216.94" width="2.01" height="48.51" fill="#5cae12" />
<rect x="581.17" y="216.00" width="2.01" height="0.94" fill="#9e52c9" />
<rect x="583.69" y="234.84" width="2.01" height="75.36" fill="#e88616" />
<rect x="583.69" y="216.00" width="2.01" height="18.84" fill="#9e52c9" />
<rect x="586.20" y="232.96" width="2.01" height="77.24" fill="#e88616" />
<rect x="586.20" y="216.00" width="2.01" height="16.96" fill="#5cae12" />
<rect x="588.71" y="216.94" width="2.01" height="93.26" fill="#e88616" />
<rect x="588.71" y="216.00" width="2.01" height="0.94" fill="#5cae12" />
<rect x="591.23" y="216.94" width="2.01" height="93.26" fill="#e88616" />
<rect x="591.23" y="216.00" width="2.01" height="0.94" fill="#5cae12" />
<rect x="593.74" y="216.00" width="2.01" height="94.20" fill="#e88616" />
<rect x="596.26" y="216.00" width="2.01" height="94.20" fill="#e88616" />
<rect x="598.77" y="216.00" width="2.01" height="94.20" fill="#e88616" />
<rect x="601.29" y="216.00" width="2.01" height="94.20" fill="#e88616" />
<line x1="408.90" y1="315.70" x2="408.90" y2="322.90" stroke="#111" stroke-width="1.15" />
<path d="M408.90,312.20 L406.60,317.20 L408.90,316.40 L411.20,317.20 Z" fill="#111"/>
<line x1="602.90" y1="315.70" x2="602.90" y2="322.90" stroke="#111" stroke-width="1.15" />
<path d="M602.90,312.20 L600.60,317.20 L602.90,316.40 L605.20,317.20 Z" fill="#111"/>
<text x="406.60" y="331.10" font-size="8.4" text-anchor="start" >529L</text>
<text x="605.30" y="331.10" font-size="8.4" text-anchor="end" >SC5314</text>
<text x="460.00" y="210.80" font-size="8.4" text-anchor="start" textLength="88.8" lengthAdjust="spacingAndGlyphs">529L×SC5314 progeny</text>
<text x="0" y="0" font-size="9.3" fill="#231f20" text-anchor="middle" transform="translate(382.00,264.30) rotate(-90)">Genotypic proportion</text>
<line x1="405.50" y1="346.70" x2="405.50" y2="442.00" stroke="#777" stroke-width="0.7" />
<line x1="402.30" y1="347.00" x2="405.50" y2="347.00" stroke="#777" stroke-width="0.7" />
<text x="397.90" y="349.60" font-size="7.6" text-anchor="end" >1</text>
<line x1="402.30" y1="394.35" x2="405.50" y2="394.35" stroke="#777" stroke-width="0.7" />
<text x="397.90" y="396.95" font-size="7.6" text-anchor="end" >0.5</text>
<line x1="402.30" y1="441.70" x2="405.50" y2="441.70" stroke="#777" stroke-width="0.7" />
<text x="397.90" y="444.30" font-size="7.6" text-anchor="end" >0</text>
<rect x="407.90" y="347.00" width="2.00" height="94.70" fill="#9e52c9" />
<rect x="410.20" y="347.76" width="2.01" height="93.94" fill="#e88616" />
<rect x="410.20" y="347.00" width="2.01" height="0.76" fill="#5cae12" />
<rect x="412.71" y="347.76" width="2.01" height="93.94" fill="#e88616" />
<rect x="412.71" y="347.00" width="2.01" height="0.76" fill="#5cae12" />
<rect x="415.23" y="347.76" width="2.01" height="93.94" fill="#e88616" />
<rect x="415.23" y="347.00" width="2.01" height="0.76" fill="#5cae12" />
<rect x="417.74" y="347.76" width="2.01" height="93.94" fill="#e88616" />
<rect x="417.74" y="347.00" width="2.01" height="0.76" fill="#5cae12" />
<rect x="420.26" y="347.76" width="2.01" height="93.94" fill="#e88616" />
<rect x="420.26" y="347.00" width="2.01" height="0.76" fill="#5cae12" />
<rect x="422.77" y="347.76" width="2.01" height="93.94" fill="#e88616" />
<rect x="422.77" y="347.00" width="2.01" height="0.76" fill="#5cae12" />
<rect x="425.29" y="347.76" width="2.01" height="93.94" fill="#e88616" />
<rect x="425.29" y="347.00" width="2.01" height="0.76" fill="#5cae12" />
<rect x="427.80" y="347.76" width="2.01" height="93.94" fill="#e88616" />
<rect x="427.80" y="347.00" width="2.01" height="0.76" fill="#5cae12" />
<rect x="430.31" y="347.76" width="2.01" height="93.94" fill="#e88616" />
<rect x="430.31" y="347.00" width="2.01" height="0.76" fill="#5cae12" />
<rect x="432.83" y="347.76" width="2.01" height="93.94" fill="#e88616" />
<rect x="432.83" y="347.00" width="2.01" height="0.76" fill="#5cae12" />
<rect x="435.34" y="347.76" width="2.01" height="93.94" fill="#e88616" />
<rect x="435.34" y="347.00" width="2.01" height="0.76" fill="#5cae12" />
<rect x="437.86" y="347.76" width="2.01" height="93.94" fill="#e88616" />
<rect x="437.86" y="347.00" width="2.01" height="0.76" fill="#5cae12" />
<rect x="440.37" y="347.76" width="2.01" height="93.94" fill="#e88616" />
<rect x="440.37" y="347.00" width="2.01" height="0.76" fill="#5cae12" />
<rect x="442.89" y="347.76" width="2.01" height="93.94" fill="#e88616" />
<rect x="442.89" y="347.00" width="2.01" height="0.76" fill="#5cae12" />
<rect x="445.40" y="347.76" width="2.01" height="93.94" fill="#e88616" />
<rect x="445.40" y="347.00" width="2.01" height="0.76" fill="#5cae12" />
<rect x="447.91" y="347.76" width="2.01" height="93.94" fill="#e88616" />
<rect x="447.91" y="347.00" width="2.01" height="0.76" fill="#5cae12" />
<rect x="450.43" y="347.76" width="2.01" height="93.94" fill="#e88616" />
<rect x="450.43" y="347.00" width="2.01" height="0.76" fill="#5cae12" />
<rect x="452.94" y="347.76" width="2.01" height="93.94" fill="#e88616" />
<rect x="452.94" y="347.00" width="2.01" height="0.76" fill="#5cae12" />
<rect x="455.46" y="347.76" width="2.01" height="93.94" fill="#e88616" />
<rect x="455.46" y="347.00" width="2.01" height="0.76" fill="#5cae12" />
<rect x="457.97" y="347.76" width="2.01" height="93.94" fill="#e88616" />
<rect x="457.97" y="347.00" width="2.01" height="0.76" fill="#5cae12" />
<rect x="460.49" y="347.76" width="2.01" height="93.94" fill="#e88616" />
<rect x="460.49" y="347.00" width="2.01" height="0.76" fill="#5cae12" />
<rect x="463.00" y="347.76" width="2.01" height="93.94" fill="#e88616" />
<rect x="463.00" y="347.00" width="2.01" height="0.76" fill="#5cae12" />
<rect x="465.51" y="347.76" width="2.01" height="93.94" fill="#e88616" />
<rect x="465.51" y="347.00" width="2.01" height="0.76" fill="#5cae12" />
<rect x="468.03" y="347.76" width="2.01" height="93.94" fill="#e88616" />
<rect x="468.03" y="347.00" width="2.01" height="0.76" fill="#5cae12" />
<rect x="470.54" y="347.76" width="2.01" height="93.94" fill="#e88616" />
<rect x="470.54" y="347.00" width="2.01" height="0.76" fill="#5cae12" />
<rect x="473.06" y="347.76" width="2.01" height="93.94" fill="#e88616" />
<rect x="473.06" y="347.00" width="2.01" height="0.76" fill="#5cae12" />
<rect x="475.57" y="347.76" width="2.01" height="93.94" fill="#e88616" />
<rect x="475.57" y="347.00" width="2.01" height="0.76" fill="#5cae12" />
<rect x="478.09" y="347.76" width="2.01" height="93.94" fill="#e88616" />
<rect x="478.09" y="347.00" width="2.01" height="0.76" fill="#5cae12" />
<rect x="480.60" y="347.76" width="2.01" height="93.94" fill="#e88616" />
<rect x="480.60" y="347.00" width="2.01" height="0.76" fill="#5cae12" />
<rect x="483.11" y="347.76" width="2.01" height="93.94" fill="#e88616" />
<rect x="483.11" y="347.00" width="2.01" height="0.76" fill="#5cae12" />
<rect x="485.63" y="347.76" width="2.01" height="93.94" fill="#e88616" />
<rect x="485.63" y="347.00" width="2.01" height="0.76" fill="#5cae12" />
<rect x="488.14" y="347.76" width="2.01" height="93.94" fill="#e88616" />
<rect x="488.14" y="347.00" width="2.01" height="0.76" fill="#5cae12" />
<rect x="490.66" y="347.76" width="2.01" height="93.94" fill="#e88616" />
<rect x="490.66" y="347.00" width="2.01" height="0.76" fill="#5cae12" />
<rect x="493.17" y="347.76" width="2.01" height="93.94" fill="#e88616" />
<rect x="493.17" y="347.00" width="2.01" height="0.76" fill="#5cae12" />
<rect x="495.69" y="347.76" width="2.01" height="93.94" fill="#e88616" />
<rect x="495.69" y="347.00" width="2.01" height="0.76" fill="#5cae12" />
<rect x="498.20" y="347.76" width="2.01" height="93.94" fill="#e88616" />
<rect x="498.20" y="347.00" width="2.01" height="0.76" fill="#5cae12" />
<rect x="500.71" y="347.76" width="2.01" height="93.94" fill="#e88616" />
<rect x="500.71" y="347.00" width="2.01" height="0.76" fill="#5cae12" />
<rect x="503.23" y="347.76" width="2.01" height="93.94" fill="#e88616" />
<rect x="503.23" y="347.00" width="2.01" height="0.76" fill="#5cae12" />
<rect x="505.74" y="347.76" width="2.01" height="93.94" fill="#e88616" />
<rect x="505.74" y="347.00" width="2.01" height="0.76" fill="#5cae12" />
<rect x="508.26" y="347.76" width="2.01" height="93.94" fill="#e88616" />
<rect x="508.26" y="347.00" width="2.01" height="0.76" fill="#5cae12" />
<rect x="510.77" y="347.76" width="2.01" height="93.94" fill="#e88616" />
<rect x="510.77" y="347.00" width="2.01" height="0.76" fill="#5cae12" />
<rect x="513.29" y="347.76" width="2.01" height="93.94" fill="#e88616" />
<rect x="513.29" y="347.00" width="2.01" height="0.76" fill="#5cae12" />
<rect x="515.80" y="347.76" width="2.01" height="93.94" fill="#e88616" />
<rect x="515.80" y="347.00" width="2.01" height="0.76" fill="#5cae12" />
<rect x="518.31" y="347.76" width="2.01" height="93.94" fill="#e88616" />
<rect x="518.31" y="347.00" width="2.01" height="0.76" fill="#5cae12" />
<rect x="520.83" y="347.76" width="2.01" height="93.94" fill="#e88616" />
<rect x="520.83" y="347.00" width="2.01" height="0.76" fill="#5cae12" />
<rect x="523.34" y="347.76" width="2.01" height="93.94" fill="#e88616" />
<rect x="523.34" y="347.00" width="2.01" height="0.76" fill="#5cae12" />
<rect x="525.86" y="347.76" width="2.01" height="93.94" fill="#e88616" />
<rect x="525.86" y="347.00" width="2.01" height="0.76" fill="#5cae12" />
<rect x="528.37" y="347.76" width="2.01" height="93.94" fill="#e88616" />
<rect x="528.37" y="347.00" width="2.01" height="0.76" fill="#5cae12" />
<rect x="530.89" y="347.76" width="2.01" height="93.94" fill="#e88616" />
<rect x="530.89" y="347.00" width="2.01" height="0.76" fill="#5cae12" />
<rect x="533.40" y="347.76" width="2.01" height="93.94" fill="#e88616" />
<rect x="533.40" y="347.00" width="2.01" height="0.76" fill="#5cae12" />
<rect x="535.91" y="347.76" width="2.01" height="93.94" fill="#e88616" />
<rect x="535.91" y="347.00" width="2.01" height="0.76" fill="#5cae12" />
<rect x="538.43" y="347.76" width="2.01" height="93.94" fill="#e88616" />
<rect x="538.43" y="347.00" width="2.01" height="0.76" fill="#5cae12" />
<rect x="540.94" y="347.76" width="2.01" height="93.94" fill="#e88616" />
<rect x="540.94" y="347.00" width="2.01" height="0.76" fill="#5cae12" />
<rect x="543.46" y="347.76" width="2.01" height="93.94" fill="#e88616" />
<rect x="543.46" y="347.00" width="2.01" height="0.76" fill="#5cae12" />
<rect x="545.97" y="347.76" width="2.01" height="93.94" fill="#e88616" />
<rect x="545.97" y="347.00" width="2.01" height="0.76" fill="#5cae12" />
<rect x="548.49" y="347.76" width="2.01" height="93.94" fill="#e88616" />
<rect x="548.49" y="347.00" width="2.01" height="0.76" fill="#5cae12" />
<rect x="551.00" y="347.76" width="2.01" height="93.94" fill="#e88616" />
<rect x="551.00" y="347.00" width="2.01" height="0.76" fill="#5cae12" />
<rect x="553.51" y="347.76" width="2.01" height="93.94" fill="#e88616" />
<rect x="553.51" y="347.00" width="2.01" height="0.76" fill="#5cae12" />
<rect x="556.03" y="347.76" width="2.01" height="93.94" fill="#e88616" />
<rect x="556.03" y="347.00" width="2.01" height="0.76" fill="#5cae12" />
<rect x="558.54" y="347.76" width="2.01" height="93.94" fill="#e88616" />
<rect x="558.54" y="347.00" width="2.01" height="0.76" fill="#5cae12" />
<rect x="561.06" y="347.76" width="2.01" height="93.94" fill="#e88616" />
<rect x="561.06" y="347.00" width="2.01" height="0.76" fill="#5cae12" />
<rect x="563.57" y="347.76" width="2.01" height="93.94" fill="#e88616" />
<rect x="563.57" y="347.00" width="2.01" height="0.76" fill="#5cae12" />
<rect x="566.09" y="347.76" width="2.01" height="93.94" fill="#e88616" />
<rect x="566.09" y="347.00" width="2.01" height="0.76" fill="#5cae12" />
<rect x="568.60" y="347.76" width="2.01" height="93.94" fill="#e88616" />
<rect x="568.60" y="347.00" width="2.01" height="0.76" fill="#5cae12" />
<rect x="571.11" y="347.76" width="2.01" height="93.94" fill="#e88616" />
<rect x="571.11" y="347.00" width="2.01" height="0.76" fill="#5cae12" />
<rect x="573.63" y="347.76" width="2.01" height="93.94" fill="#e88616" />
<rect x="573.63" y="347.00" width="2.01" height="0.76" fill="#5cae12" />
<rect x="576.14" y="347.76" width="2.01" height="93.94" fill="#e88616" />
<rect x="576.14" y="347.00" width="2.01" height="0.76" fill="#5cae12" />
<rect x="578.66" y="347.76" width="2.01" height="93.94" fill="#e88616" />
<rect x="578.66" y="347.00" width="2.01" height="0.76" fill="#5cae12" />
<rect x="581.17" y="347.76" width="2.01" height="93.94" fill="#e88616" />
<rect x="581.17" y="347.00" width="2.01" height="0.76" fill="#5cae12" />
<rect x="583.69" y="347.76" width="2.01" height="93.94" fill="#e88616" />
<rect x="583.69" y="347.00" width="2.01" height="0.76" fill="#5cae12" />
<rect x="586.20" y="347.76" width="2.01" height="93.94" fill="#e88616" />
<rect x="586.20" y="347.00" width="2.01" height="0.76" fill="#5cae12" />
<rect x="588.71" y="347.76" width="2.01" height="93.94" fill="#e88616" />
<rect x="588.71" y="347.00" width="2.01" height="0.76" fill="#5cae12" />
<rect x="591.23" y="347.76" width="2.01" height="93.94" fill="#e88616" />
<rect x="591.23" y="347.00" width="2.01" height="0.76" fill="#5cae12" />
<rect x="593.74" y="347.76" width="2.01" height="93.94" fill="#e88616" />
<rect x="593.74" y="347.00" width="2.01" height="0.76" fill="#5cae12" />
<rect x="596.26" y="347.76" width="2.01" height="93.94" fill="#e88616" />
<rect x="596.26" y="347.00" width="2.01" height="0.76" fill="#5cae12" />
<rect x="598.77" y="347.76" width="2.01" height="93.94" fill="#e88616" />
<rect x="598.77" y="347.00" width="2.01" height="0.76" fill="#5cae12" />
<rect x="601.29" y="347.76" width="2.01" height="93.94" fill="#e88616" />
<rect x="601.29" y="347.00" width="2.01" height="0.76" fill="#5cae12" />
<line x1="408.90" y1="447.20" x2="408.90" y2="454.40" stroke="#111" stroke-width="1.15" />
<path d="M408.90,443.70 L406.60,448.70 L408.90,447.90 L411.20,448.70 Z" fill="#111"/>
<line x1="602.90" y1="447.20" x2="602.90" y2="454.40" stroke="#111" stroke-width="1.15" />
<path d="M602.90,443.70 L600.60,448.70 L602.90,447.90 L605.20,448.70 Z" fill="#111"/>
<text x="406.60" y="462.60" font-size="8.4" text-anchor="start" >P60002</text>
<text x="605.30" y="462.60" font-size="8.4" text-anchor="end" >SC5314</text>
<text x="454.40" y="341.80" font-size="8.4" text-anchor="start" textLength="102.6" lengthAdjust="spacingAndGlyphs">P60002×SC5314 progeny</text>
<text x="0" y="0" font-size="9.3" fill="#231f20" text-anchor="middle" transform="translate(382.00,397.75) rotate(-90)">Genotypic proportion</text>
<rect x="618.80" y="309.70" width="8.20" height="6.80" fill="#7a3c9c" />
<rect x="618.80" y="320.50" width="8.20" height="6.90" fill="#4d9c2f" />
<rect x="618.80" y="331.50" width="8.20" height="7.30" fill="#ef7d22" />
<text x="630.30" y="315.90" font-size="7.4" text-anchor="start" textLength="56" lengthAdjust="spacingAndGlyphs">529L or P60002</text>
<text x="630.30" y="326.90" font-size="7.4" text-anchor="start" textLength="46.5" lengthAdjust="spacingAndGlyphs">Heterozygous</text>
<text x="630.30" y="337.40" font-size="7.4" text-anchor="start" textLength="25" lengthAdjust="spacingAndGlyphs">SC5314</text>
<text x="332.60" y="6.80" font-size="13" text-anchor="start" font-weight="bold" fill="#000" >c</text>
<text x="379.60" y="9.60" font-size="8.4" text-anchor="middle" >1</text>
<text x="441.70" y="9.60" font-size="8.4" text-anchor="middle" >2</text>
<text x="485.40" y="9.60" font-size="8.4" text-anchor="middle" >3</text>
<text x="521.60" y="9.60" font-size="8.4" text-anchor="middle" >4</text>
<text x="555.40" y="9.60" font-size="8.4" text-anchor="middle" >5</text>
<text x="581.90" y="9.60" font-size="8.4" text-anchor="middle" >6</text>
<text x="605.60" y="9.60" font-size="8.4" text-anchor="middle" >7</text>
<text x="643.70" y="9.60" font-size="8.4" text-anchor="middle" >R</text>
<text x="331.6" y="26.10" font-size="9" fill="#231f20">2<tspan font-style="italic">n</tspan></text>
<line x1="342.60" y1="23.00" x2="345.00" y2="23.00" stroke="#111" stroke-width="0.8" />
<path d="M347.3,23.00 L343.8,21.20 L344.4,23.00 L343.8,24.80 Z" fill="#111"/>
<line x1="668.50" y1="17.30" x2="671.80" y2="17.30" stroke="#111" stroke-width="0.8" />
<path d="M666.4,17.30 L670.0,15.40 L669.4,17.30 L670.0,19.20 Z" fill="#111"/>
<text x="672.9" y="20.50" font-size="9.6" fill="#231f20">3<tspan font-style="italic">n</tspan></text>
<line x1="668.50" y1="28.60" x2="671.80" y2="28.60" stroke="#111" stroke-width="0.8" />
<path d="M666.4,28.60 L670.0,26.70 L669.4,28.60 L670.0,30.50 Z" fill="#111"/>
<text x="672.9" y="31.80" font-size="9.6" fill="#231f20">1<tspan font-style="italic">n</tspan></text>
<rect x="347.20" y="12.20" width="66.60" height="21.90" fill="none" stroke="#c4c4c4" stroke-width="0.6"/>
<line x1="347.20" y1="17.30" x2="413.80" y2="17.30" stroke="#e2e2e2" stroke-width="0.5" />
<line x1="347.20" y1="28.60" x2="413.80" y2="28.60" stroke="#e2e2e2" stroke-width="0.5" />
<line x1="352.62" y1="23.00" x2="352.62" y2="34.10" stroke="#bdbdbd" stroke-width="0.5"/><line x1="356.23" y1="23.00" x2="356.23" y2="34.10" stroke="#8a8a8a" stroke-width="0.7"/><line x1="357.70" y1="23.00" x2="357.70" y2="34.10" stroke="#8a8a8a" stroke-width="0.9"/><line x1="361.62" y1="23.00" x2="361.62" y2="34.10" stroke="#8a8a8a" stroke-width="0.7"/><line x1="362.67" y1="23.00" x2="362.67" y2="34.10" stroke="#6a6a6a" stroke-width="0.7"/><line x1="366.26" y1="23.00" x2="366.26" y2="34.10" stroke="#a8a8a8" stroke-width="0.7"/><line x1="370.66" y1="23.00" x2="370.66" y2="34.10" stroke="#a8a8a8" stroke-width="0.5"/><line x1="378.40" y1="23.00" x2="378.40" y2="34.10" stroke="#bdbdbd" stroke-width="0.5"/><line x1="379.02" y1="23.00" x2="379.02" y2="34.10" stroke="#a8a8a8" stroke-width="0.9"/><line x1="379.85" y1="23.00" x2="379.85" y2="34.10" stroke="#a8a8a8" stroke-width="0.5"/><line x1="382.89" y1="23.00" x2="382.89" y2="34.10" stroke="#8a8a8a" stroke-width="0.7"/><line x1="387.10" y1="23.00" x2="387.10" y2="34.10" stroke="#6a6a6a" stroke-width="0.7"/><line x1="392.21" y1="23.00" x2="392.21" y2="34.10" stroke="#a8a8a8" stroke-width="0.5"/><line x1="394.92" y1="23.00" x2="394.92" y2="34.10" stroke="#a8a8a8" stroke-width="0.5"/><line x1="397.74" y1="23.00" x2="397.74" y2="34.10" stroke="#a8a8a8" stroke-width="0.7"/><line x1="400.31" y1="23.00" x2="400.31" y2="34.10" stroke="#8a8a8a" stroke-width="0.5"/><line x1="407.39" y1="23.00" x2="407.39" y2="34.10" stroke="#a8a8a8" stroke-width="0.9"/>
<path d="M354.2 23.0V14.2M356.7 23.0V13.8M357.7 23.0V16.0M359.7 23.0V15.6M360.2 23.0V14.9M360.7 23.0V15.3M361.7 23.0V15.6M364.2 23.0V16.5M364.7 23.0V15.2M367.7 23.0V17.1M369.7 23.0V16.6M378.2 23.0V19.7M379.2 23.0V19.1M381.2 23.0V20.7M384.2 23.0V19.2M395.2 23.0V16.5M398.2 23.0V12.5M398.7 23.0V12.5M401.7 23.0V15.6M402.7 23.0V16.6M406.7 23.0V15.7M407.2 23.0V14.9M408.7 23.0V15.0" stroke="#9a9a9a" stroke-width="0.4" fill="none"/>
<path d="M347.28 23.00L347.25 15.7H347.75L347.75 15.5H348.25L348.25 18.4H348.75L348.75 19.3H349.25L349.25 16.3H349.75L349.75 14.4H350.25L350.25 18.5H350.75L350.75 16.6H351.25L351.25 16.3H351.75L351.75 17.2H352.25L352.25 22.6H352.75L352.75 17.1H353.25L353.25 15.4H353.75L353.75 17.6H354.25L354.25 15.4H354.75L354.75 16.1H355.25L355.25 15.6H355.75L355.75 17.1H356.25L356.25 16.4H356.75L356.75 17.5H357.25L357.25 18.6H357.75L357.75 16.6H358.25L358.25 13.3H358.75L358.75 16.3H359.25L359.25 17.5H359.75L359.75 17.6H360.25L360.25 16.9H360.75L360.75 17.2H361.25L361.25 17.3H361.75L361.75 16.9H362.25L362.25 22.6H362.75L362.75 22.6H363.25L363.25 15.8H363.75L363.75 18.1H364.25L364.25 17.0H364.75L364.75 19.4H365.25L365.25 17.2H365.75L365.75 16.3H366.25L366.25 14.1H366.75L366.75 19.4H367.25L367.25 18.9H367.75L367.75 16.3H368.25L368.25 16.5H368.75L368.75 15.7H369.25L369.25 20.5H369.75L369.75 22.6H370.25L370.25 21.3H370.75L370.75 21.3H371.25L371.25 17.6H371.75L371.75 19.2H372.25L372.25 21.4H372.75L372.75 20.0H373.25L373.25 20.4H373.75L373.75 22.6H374.25L374.25 20.3H374.75L374.75 21.5H375.25L375.25 22.6H375.75L375.75 22.6H376.25L376.25 21.8H376.75L376.75 22.6H377.25L377.25 22.6H377.75L377.75 22.6H378.25L378.25 22.6H378.75L378.75 22.3H379.25L379.25 22.6H379.75L379.75 20.0H380.25L380.25 22.6H380.75L380.75 21.9H381.25L381.25 22.5H381.75L381.75 22.5H382.25L382.25 21.0H382.75L382.75 21.3H383.25L383.25 22.6H383.75L383.75 22.6H384.25L384.25 20.3H384.75L384.75 22.6H385.25L385.25 19.0H385.75L385.75 22.6H386.25L386.25 21.6H386.75L386.75 22.6H387.25L387.25 22.6H387.75L387.75 22.6H388.25L388.25 22.6H388.75L388.75 22.5H389.25L389.25 22.6H389.75L389.75 20.3H390.25L390.25 20.5H390.75L390.75 19.4H391.25L391.25 20.5H391.75L391.75 20.6H392.25L392.25 21.8H392.75L392.75 18.8H393.25L393.25 22.2H393.75L393.75 20.5H394.25L394.25 20.1H394.75L394.75 20.3H395.25L395.25 16.8H395.75L395.75 19.5H396.25L396.25 12.8H396.75L396.75 17.9H397.25L397.25 14.8H397.75L397.75 15.2H398.25L398.25 13.7H398.75L398.75 16.6H399.25L399.25 18.4H399.75L399.75 22.6H400.25L400.25 22.6H400.75L400.75 17.9H401.25L401.25 17.8H401.75L401.75 17.7H402.25L402.25 17.9H402.75L402.75 18.1H403.25L403.25 13.7H403.75L403.75 16.3H404.25L404.25 17.6H404.75L404.75 16.2H405.25L405.25 17.5H405.75L405.75 17.3H406.25L406.25 16.9H406.75L406.75 18.7H407.25L407.25 17.7H407.75L407.75 17.5H408.25L408.25 18.3H408.75L408.75 17.7H409.25L409.25 17.9H409.75L409.75 17.6H410.25L410.25 15.3H410.75L410.75 17.9H411.25L411.25 15.5H411.75L411.75 16.0H412.25L412.25 19.0H412.75L412.75 16.6H413.25L413.22 23.00ZM347.28 23.00L347.25 23.4H347.75L347.75 23.4H348.25L348.25 23.4H348.75L348.75 23.4H349.25L349.25 23.4H349.75L349.75 23.4H350.25L350.25 23.4H350.75L350.75 23.4H351.25L351.25 23.4H351.75L351.75 23.4H352.25L352.25 24.5H352.75L352.75 23.4H353.25L353.25 23.4H353.75L353.75 23.4H354.25L354.25 23.4H354.75L354.75 23.4H355.25L355.25 23.4H355.75L355.75 23.4H356.25L356.25 23.4H356.75L356.75 23.4H357.25L357.25 23.4H357.75L357.75 23.4H358.25L358.25 23.4H358.75L358.75 23.4H359.25L359.25 23.4H359.75L359.75 23.4H360.25L360.25 23.4H360.75L360.75 23.4H361.25L361.25 23.4H361.75L361.75 23.4H362.25L362.25 26.0H362.75L362.75 25.8H363.25L363.25 23.4H363.75L363.75 23.4H364.25L364.25 23.4H364.75L364.75 23.4H365.25L365.25 23.4H365.75L365.75 23.4H366.25L366.25 23.4H366.75L366.75 23.4H367.25L367.25 23.4H367.75L367.75 23.4H368.25L368.25 23.4H368.75L368.75 23.4H369.25L369.25 23.4H369.75L369.75 23.4H370.25L370.25 23.4H370.75L370.75 23.4H371.25L371.25 23.4H371.75L371.75 23.4H372.25L372.25 23.4H372.75L372.75 23.4H373.25L373.25 23.4H373.75L373.75 23.4H374.25L374.25 23.4H374.75L374.75 23.4H375.25L375.25 25.0H375.75L375.75 23.4H376.25L376.25 23.4H376.75L376.75 24.7H377.25L377.25 24.0H377.75L377.75 23.5H378.25L378.25 25.3H378.75L378.75 23.4H379.25L379.25 23.4H379.75L379.75 23.4H380.25L380.25 26.9H380.75L380.75 23.4H381.25L381.25 23.4H381.75L381.75 23.4H382.25L382.25 23.4H382.75L382.75 23.4H383.25L383.25 23.4H383.75L383.75 23.9H384.25L384.25 23.4H384.75L384.75 25.7H385.25L385.25 23.4H385.75L385.75 23.6H386.25L386.25 23.4H386.75L386.75 23.8H387.25L387.25 23.4H387.75L387.75 25.1H388.25L388.25 23.4H388.75L388.75 23.4H389.25L389.25 25.1H389.75L389.75 23.4H390.25L390.25 23.4H390.75L390.75 23.4H391.25L391.25 23.4H391.75L391.75 23.4H392.25L392.25 23.4H392.75L392.75 23.4H393.25L393.25 23.4H393.75L393.75 23.4H394.25L394.25 23.4H394.75L394.75 23.4H395.25L395.25 23.4H395.75L395.75 23.4H396.25L396.25 23.4H396.75L396.75 23.4H397.25L397.25 23.4H397.75L397.75 23.4H398.25L398.25 23.4H398.75L398.75 23.4H399.25L399.25 23.4H399.75L399.75 25.2H400.25L400.25 25.9H400.75L400.75 23.4H401.25L401.25 23.4H401.75L401.75 23.4H402.25L402.25 23.4H402.75L402.75 23.4H403.25L403.25 23.4H403.75L403.75 23.4H404.25L404.25 23.4H404.75L404.75 23.4H405.25L405.25 23.4H405.75L405.75 23.4H406.25L406.25 23.4H406.75L406.75 23.4H407.25L407.25 23.4H407.75L407.75 23.4H408.25L408.25 23.4H408.75L408.75 23.4H409.25L409.25 23.4H409.75L409.75 23.4H410.25L410.25 23.4H410.75L410.75 23.4H411.25L411.25 23.4H411.75L411.75 23.4H412.25L412.25 23.4H412.75L412.75 23.4H413.25L413.22 23.00Z" fill="#111"/>
<line x1="380.30" y1="12.20" x2="380.90" y2="17.30" stroke="#999" stroke-width="0.6"/>
<line x1="347.20" y1="37.50" x2="413.80" y2="37.50" stroke="#8a8a8a" stroke-width="0.95" />
<line x1="347.20" y1="34.10" x2="347.20" y2="37.50" stroke="#c8c8c8" stroke-width="0.6" />
<ellipse cx="382.40" cy="37.50" rx="1.15" ry="1.5" fill="#111"/>
<rect x="417.10" y="12.20" width="46.50" height="21.90" fill="none" stroke="#c4c4c4" stroke-width="0.6"/>
<line x1="417.10" y1="17.30" x2="463.60" y2="17.30" stroke="#e2e2e2" stroke-width="0.5" />
<line x1="417.10" y1="28.60" x2="463.60" y2="28.60" stroke="#e2e2e2" stroke-width="0.5" />
<line x1="424.97" y1="23.00" x2="424.97" y2="34.10" stroke="#8a8a8a" stroke-width="0.9"/><line x1="425.81" y1="23.00" x2="425.81" y2="34.10" stroke="#6a6a6a" stroke-width="0.5"/><line x1="431.08" y1="23.00" x2="431.08" y2="34.10" stroke="#8a8a8a" stroke-width="0.5"/><line x1="435.12" y1="23.00" x2="435.12" y2="34.10" stroke="#8a8a8a" stroke-width="0.5"/><line x1="437.19" y1="23.00" x2="437.19" y2="34.10" stroke="#6a6a6a" stroke-width="0.9"/><line x1="440.59" y1="23.00" x2="440.59" y2="34.10" stroke="#bdbdbd" stroke-width="0.7"/><line x1="442.40" y1="23.00" x2="442.40" y2="34.10" stroke="#a8a8a8" stroke-width="0.5"/><line x1="443.36" y1="23.00" x2="443.36" y2="34.10" stroke="#8a8a8a" stroke-width="0.5"/><line x1="446.44" y1="23.00" x2="446.44" y2="34.10" stroke="#a8a8a8" stroke-width="0.7"/><line x1="450.24" y1="23.00" x2="450.24" y2="34.10" stroke="#6a6a6a" stroke-width="0.5"/><line x1="451.68" y1="23.00" x2="451.68" y2="34.10" stroke="#bdbdbd" stroke-width="0.9"/><line x1="456.94" y1="23.00" x2="456.94" y2="34.10" stroke="#a8a8a8" stroke-width="0.5"/>
<path d="M418.6 23.0V21.3M419.1 23.0V19.5M422.1 23.0V19.3M430.6 23.0V19.9M432.1 23.0V19.9M433.1 23.0V22.0M440.1 23.0V19.2M440.6 23.0V17.2M450.1 23.0V21.7M452.6 23.0V19.2M458.1 23.0V21.7M463.1 23.0V21.9" stroke="#9a9a9a" stroke-width="0.4" fill="none"/>
<path d="M417.18 23.00L417.15 21.3H417.65L417.65 22.6H418.15L418.15 22.6H418.65L418.65 22.4H419.15L419.15 21.0H419.65L419.65 22.2H420.15L420.15 21.8H420.65L420.65 22.6H421.15L421.15 20.8H421.65L421.65 22.6H422.15L422.15 22.6H422.65L422.65 22.6H423.15L423.15 22.3H423.65L423.65 22.6H424.15L424.15 20.8H424.65L424.65 22.6H425.15L425.15 20.9H425.65L425.65 20.7H426.15L426.15 22.6H426.65L426.65 22.6H427.15L427.15 22.6H427.65L427.65 22.6H428.15L428.15 22.6H428.65L428.65 21.0H429.15L429.15 22.6H429.65L429.65 22.0H430.15L430.15 22.6H430.65L430.65 22.6H431.15L431.15 21.9H431.65L431.65 22.6H432.15L432.15 22.2H432.65L432.65 22.6H433.15L433.15 20.6H433.65L433.65 20.7H434.15L434.15 22.6H434.65L434.65 22.6H435.15L435.15 22.6H435.65L435.65 22.6H436.15L436.15 22.6H436.65L436.65 19.8H437.15L437.15 22.6H437.65L437.65 21.2H438.15L438.15 21.9H438.65L438.65 20.5H439.15L439.15 22.6H439.65L439.65 22.6H440.15L440.15 21.1H440.65L440.65 22.6H441.15L441.15 22.6H441.65L441.65 22.0H442.15L442.15 22.6H442.65L442.65 22.6H443.15L443.15 22.6H443.65L443.65 22.3H444.15L444.15 21.7H444.65L444.65 22.6H445.15L445.15 22.6H445.65L445.65 22.3H446.15L446.15 22.6H446.65L446.65 22.6H447.15L447.15 22.3H447.65L447.65 17.7H448.15L448.15 21.1H448.65L448.65 22.0H449.15L449.15 22.6H449.65L449.65 22.6H450.15L450.15 22.6H450.65L450.65 19.0H451.15L451.15 22.6H451.65L451.65 22.6H452.15L452.15 22.6H452.65L452.65 22.0H453.15L453.15 22.6H453.65L453.65 21.1H454.15L454.15 22.6H454.65L454.65 22.6H455.15L455.15 22.6H455.65L455.65 22.6H456.15L456.15 22.6H456.65L456.65 21.4H457.15L457.15 22.2H457.65L457.65 22.6H458.15L458.15 22.6H458.65L458.65 19.9H459.15L459.15 21.7H459.65L459.65 22.6H460.15L460.15 22.6H460.65L460.65 22.0H461.15L461.15 22.6H461.65L461.65 22.6H462.15L462.15 22.6H462.65L462.65 22.6H463.15L463.12 23.00ZM417.18 23.00L417.15 23.4H417.65L417.65 24.8H418.15L418.15 23.4H418.65L418.65 23.4H419.15L419.15 23.4H419.65L419.65 23.4H420.15L420.15 23.4H420.65L420.65 23.4H421.15L421.15 23.4H421.65L421.65 23.4H422.15L422.15 23.4H422.65L422.65 23.4H423.15L423.15 23.4H423.65L423.65 23.4H424.15L424.15 23.4H424.65L424.65 23.4H425.15L425.15 23.4H425.65L425.65 23.4H426.15L426.15 23.4H426.65L426.65 24.2H427.15L427.15 24.9H427.65L427.65 23.4H428.15L428.15 27.2H428.65L428.65 23.4H429.15L429.15 24.4H429.65L429.65 23.4H430.15L430.15 23.4H430.65L430.65 27.4H431.15L431.15 23.4H431.65L431.65 23.4H432.15L432.15 23.4H432.65L432.65 23.7H433.15L433.15 23.4H433.65L433.65 23.4H434.15L434.15 26.5H434.65L434.65 23.4H435.15L435.15 23.4H435.65L435.65 23.6H436.15L436.15 25.0H436.65L436.65 23.4H437.15L437.15 24.0H437.65L437.65 23.4H438.15L438.15 23.4H438.65L438.65 23.4H439.15L439.15 23.4H439.65L439.65 23.4H440.15L440.15 23.4H440.65L440.65 23.5H441.15L441.15 23.7H441.65L441.65 23.4H442.15L442.15 24.4H442.65L442.65 24.9H443.15L443.15 24.1H443.65L443.65 23.4H444.15L444.15 23.4H444.65L444.65 23.4H445.15L445.15 24.4H445.65L445.65 23.4H446.15L446.15 24.4H446.65L446.65 23.4H447.15L447.15 23.4H447.65L447.65 23.4H448.15L448.15 23.4H448.65L448.65 23.4H449.15L449.15 24.2H449.65L449.65 24.9H450.15L450.15 23.4H450.65L450.65 23.4H451.15L451.15 23.4H451.65L451.65 25.2H452.15L452.15 25.6H452.65L452.65 23.4H453.15L453.15 25.8H453.65L453.65 23.4H454.15L454.15 23.4H454.65L454.65 23.8H455.15L455.15 24.0H455.65L455.65 23.4H456.15L456.15 25.4H456.65L456.65 23.4H457.15L457.15 23.4H457.65L457.65 27.0H458.15L458.15 24.2H458.65L458.65 23.4H459.15L459.15 23.4H459.65L459.65 23.4H460.15L460.15 23.4H460.65L460.65 23.4H461.15L461.15 23.4H461.65L461.65 26.3H462.15L462.15 26.2H462.65L462.65 23.4H463.15L463.12 23.00Z" fill="#111"/>
<line x1="460.80" y1="12.20" x2="461.40" y2="17.30" stroke="#999" stroke-width="0.6"/>
<line x1="417.10" y1="37.50" x2="463.60" y2="37.50" stroke="#8a8a8a" stroke-width="0.95" />
<line x1="417.10" y1="34.10" x2="417.10" y2="37.50" stroke="#c8c8c8" stroke-width="0.6" />
<ellipse cx="461.30" cy="37.50" rx="1.15" ry="1.5" fill="#111"/>
<rect x="466.40" y="12.20" width="37.30" height="21.90" fill="none" stroke="#c4c4c4" stroke-width="0.6"/>
<line x1="466.40" y1="17.30" x2="503.70" y2="17.30" stroke="#e2e2e2" stroke-width="0.5" />
<line x1="466.40" y1="28.60" x2="503.70" y2="28.60" stroke="#e2e2e2" stroke-width="0.5" />
<line x1="468.35" y1="23.00" x2="468.35" y2="34.10" stroke="#bdbdbd" stroke-width="0.7"/><line x1="472.44" y1="23.00" x2="472.44" y2="34.10" stroke="#6a6a6a" stroke-width="0.5"/><line x1="473.44" y1="23.00" x2="473.44" y2="34.10" stroke="#a8a8a8" stroke-width="0.9"/><line x1="473.85" y1="23.00" x2="473.85" y2="34.10" stroke="#bdbdbd" stroke-width="0.7"/><line x1="474.54" y1="23.00" x2="474.54" y2="34.10" stroke="#a8a8a8" stroke-width="0.5"/><line x1="478.06" y1="23.00" x2="478.06" y2="34.10" stroke="#6a6a6a" stroke-width="0.9"/><line x1="480.58" y1="23.00" x2="480.58" y2="34.10" stroke="#a8a8a8" stroke-width="0.5"/><line x1="482.50" y1="23.00" x2="482.50" y2="34.10" stroke="#8a8a8a" stroke-width="0.9"/><line x1="482.83" y1="23.00" x2="482.83" y2="34.10" stroke="#6a6a6a" stroke-width="0.7"/><line x1="487.36" y1="23.00" x2="487.36" y2="34.10" stroke="#bdbdbd" stroke-width="0.9"/><line x1="487.08" y1="23.00" x2="487.08" y2="34.10" stroke="#8a8a8a" stroke-width="0.7"/><line x1="496.19" y1="23.00" x2="496.19" y2="34.10" stroke="#8a8a8a" stroke-width="0.7"/>
<path d="M468.9 23.0V15.7M479.4 23.0V21.2M479.9 23.0V18.8M481.4 23.0V20.9M481.9 23.0V20.2M485.9 23.0V19.9M488.9 23.0V21.2M490.4 23.0V20.4M492.4 23.0V20.9M495.9 23.0V18.6M498.4 23.0V17.9M499.4 23.0V18.4M500.4 23.0V18.7M500.9 23.0V17.0" stroke="#9a9a9a" stroke-width="0.4" fill="none"/>
<path d="M466.48 23.00L466.45 22.6H466.95L466.95 22.6H467.45L467.45 22.2H467.95L467.95 21.9H468.45L468.45 19.3H468.95L468.95 22.6H469.45L469.45 22.6H469.95L469.95 21.2H470.45L470.45 22.3H470.95L470.95 22.6H471.45L471.45 22.6H471.95L471.95 22.6H472.45L472.45 21.3H472.95L472.95 22.6H473.45L473.45 22.6H473.95L473.95 21.5H474.45L474.45 22.6H474.95L474.95 22.6H475.45L475.45 22.6H475.95L475.95 22.6H476.45L476.45 21.8H476.95L476.95 22.6H477.45L477.45 22.6H477.95L477.95 20.7H478.45L478.45 22.6H478.95L478.95 22.4H479.45L479.45 22.5H479.95L479.95 22.6H480.45L480.45 22.6H480.95L480.95 22.6H481.45L481.45 21.2H481.95L481.95 22.6H482.45L482.45 22.3H482.95L482.95 22.6H483.45L483.45 22.6H483.95L483.95 18.9H484.45L484.45 22.6H484.95L484.95 22.6H485.45L485.45 22.6H485.95L485.95 22.6H486.45L486.45 22.0H486.95L486.95 22.6H487.45L487.45 22.6H487.95L487.95 22.6H488.45L488.45 22.6H488.95L488.95 22.6H489.45L489.45 22.6H489.95L489.95 22.2H490.45L490.45 21.3H490.95L490.95 22.6H491.45L491.45 22.6H491.95L491.95 22.6H492.45L492.45 21.6H492.95L492.95 21.6H493.45L493.45 22.6H493.95L493.95 22.6H494.45L494.45 22.6H494.95L494.95 22.6H495.45L495.45 21.9H495.95L495.95 22.6H496.45L496.45 22.6H496.95L496.95 22.6H497.45L497.45 22.5H497.95L497.95 21.5H498.45L498.45 19.9H498.95L498.95 21.4H499.45L499.45 21.3H499.95L499.95 20.8H500.45L500.45 18.1H500.95L500.95 22.3H501.45L501.45 22.6H501.95L501.95 22.6H502.45L502.45 22.6H502.95L502.95 22.6H503.45L503.42 23.00ZM466.48 23.00L466.45 23.4H466.95L466.95 23.6H467.45L467.45 23.4H467.95L467.95 23.4H468.45L468.45 23.4H468.95L468.95 24.3H469.45L469.45 23.4H469.95L469.95 23.4H470.45L470.45 23.4H470.95L470.95 23.4H471.45L471.45 23.4H471.95L471.95 23.6H472.45L472.45 23.4H472.95L472.95 25.7H473.45L473.45 23.4H473.95L473.95 23.4H474.45L474.45 23.4H474.95L474.95 26.6H475.45L475.45 26.0H475.95L475.95 24.2H476.45L476.45 23.4H476.95L476.95 23.4H477.45L477.45 25.0H477.95L477.95 23.4H478.45L478.45 23.4H478.95L478.95 23.4H479.45L479.45 23.4H479.95L479.95 24.3H480.45L480.45 24.1H480.95L480.95 23.4H481.45L481.45 23.4H481.95L481.95 24.7H482.45L482.45 23.4H482.95L482.95 23.5H483.45L483.45 23.4H483.95L483.95 23.4H484.45L484.45 24.1H484.95L484.95 23.4H485.45L485.45 23.4H485.95L485.95 23.4H486.45L486.45 23.4H486.95L486.95 23.9H487.45L487.45 25.3H487.95L487.95 23.9H488.45L488.45 24.0H488.95L488.95 23.4H489.45L489.45 24.2H489.95L489.95 23.4H490.45L490.45 23.4H490.95L490.95 23.4H491.45L491.45 25.3H491.95L491.95 24.5H492.45L492.45 23.4H492.95L492.95 23.4H493.45L493.45 23.6H493.95L493.95 25.6H494.45L494.45 23.4H494.95L494.95 23.4H495.45L495.45 23.4H495.95L495.95 24.0H496.45L496.45 23.4H496.95L496.95 25.6H497.45L497.45 23.4H497.95L497.95 23.4H498.45L498.45 23.4H498.95L498.95 23.4H499.45L499.45 23.4H499.95L499.95 23.4H500.45L500.45 23.4H500.95L500.95 23.4H501.45L501.45 23.5H501.95L501.95 23.4H502.45L502.45 23.4H502.95L502.95 23.6H503.45L503.42 23.00Z" fill="#111"/>
<line x1="483.80" y1="12.20" x2="484.40" y2="17.30" stroke="#999" stroke-width="0.6"/>
<line x1="466.40" y1="37.50" x2="503.70" y2="37.50" stroke="#8a8a8a" stroke-width="0.95" />
<line x1="466.40" y1="34.10" x2="466.40" y2="37.50" stroke="#c8c8c8" stroke-width="0.6" />
<rect x="506.70" y="12.20" width="33.10" height="21.90" fill="none" stroke="#c4c4c4" stroke-width="0.6"/>
<line x1="506.70" y1="17.30" x2="539.80" y2="17.30" stroke="#e2e2e2" stroke-width="0.5" />
<line x1="506.70" y1="28.60" x2="539.80" y2="28.60" stroke="#e2e2e2" stroke-width="0.5" />
<line x1="510.89" y1="23.00" x2="510.89" y2="34.10" stroke="#a8a8a8" stroke-width="0.7"/><line x1="512.76" y1="23.00" x2="512.76" y2="34.10" stroke="#a8a8a8" stroke-width="0.9"/><line x1="513.90" y1="23.00" x2="513.90" y2="34.10" stroke="#a8a8a8" stroke-width="0.7"/><line x1="518.56" y1="23.00" x2="518.56" y2="34.10" stroke="#bdbdbd" stroke-width="0.7"/><line x1="518.96" y1="23.00" x2="518.96" y2="34.10" stroke="#6a6a6a" stroke-width="0.7"/><line x1="520.77" y1="23.00" x2="520.77" y2="34.10" stroke="#bdbdbd" stroke-width="0.9"/><line x1="523.10" y1="23.00" x2="523.10" y2="34.10" stroke="#6a6a6a" stroke-width="0.7"/><line x1="524.80" y1="23.00" x2="524.80" y2="34.10" stroke="#bdbdbd" stroke-width="0.9"/><line x1="530.04" y1="23.00" x2="530.04" y2="34.10" stroke="#bdbdbd" stroke-width="0.7"/><line x1="536.65" y1="23.00" x2="536.65" y2="34.10" stroke="#6a6a6a" stroke-width="0.9"/><line x1="537.78" y1="23.00" x2="537.78" y2="34.10" stroke="#6a6a6a" stroke-width="0.5"/>
<path d="M510.2 23.0V20.5M514.2 23.0V19.8M517.7 23.0V16.9M520.7 23.0V21.5M522.7 23.0V15.5M524.2 23.0V21.3M526.7 23.0V21.5M528.2 23.0V18.3M530.7 23.0V21.0M534.2 23.0V19.0M536.7 23.0V21.7" stroke="#9a9a9a" stroke-width="0.4" fill="none"/>
<path d="M506.78 23.00L506.75 21.6H507.25L507.25 22.6H507.75L507.75 22.6H508.25L508.25 22.6H508.75L508.75 22.6H509.25L509.25 22.6H509.75L509.75 21.7H510.25L510.25 19.8H510.75L510.75 19.5H511.25L511.25 22.6H511.75L511.75 22.6H512.25L512.25 22.6H512.75L512.75 19.8H513.25L513.25 19.3H513.75L513.75 22.6H514.25L514.25 22.6H514.75L514.75 20.9H515.25L515.25 22.2H515.75L515.75 22.5H516.25L516.25 22.6H516.75L516.75 21.9H517.25L517.25 20.5H517.75L517.75 22.6H518.25L518.25 22.5H518.75L518.75 20.9H519.25L519.25 22.3H519.75L519.75 22.2H520.25L520.25 22.6H520.75L520.75 22.6H521.25L521.25 22.6H521.75L521.75 22.6H522.25L522.25 18.2H522.75L522.75 22.4H523.25L523.25 22.6H523.75L523.75 22.6H524.25L524.25 22.3H524.75L524.75 22.6H525.25L525.25 22.6H525.75L525.75 22.6H526.25L526.25 22.6H526.75L526.75 22.6H527.25L527.25 22.6H527.75L527.75 22.2H528.25L528.25 22.6H528.75L528.75 22.6H529.25L529.25 22.6H529.75L529.75 22.6H530.25L530.25 22.6H530.75L530.75 22.6H531.25L531.25 18.2H531.75L531.75 22.6H532.25L532.25 21.9H532.75L532.75 22.6H533.25L533.25 21.2H533.75L533.75 22.6H534.25L534.25 17.9H534.75L534.75 21.4H535.25L535.25 22.3H535.75L535.75 22.6H536.25L536.25 22.6H536.75L536.75 22.6H537.25L537.25 22.6H537.75L537.75 22.6H538.25L538.25 20.5H538.75L538.75 22.6H539.25L539.22 23.00ZM506.78 23.00L506.75 23.4H507.25L507.25 23.4H507.75L507.75 23.9H508.25L508.25 25.5H508.75L508.75 23.4H509.25L509.25 23.7H509.75L509.75 23.4H510.25L510.25 23.4H510.75L510.75 23.4H511.25L511.25 25.4H511.75L511.75 23.7H512.25L512.25 23.8H512.75L512.75 23.4H513.25L513.25 23.4H513.75L513.75 26.3H514.25L514.25 23.7H514.75L514.75 23.4H515.25L515.25 23.4H515.75L515.75 23.4H516.25L516.25 23.4H516.75L516.75 23.4H517.25L517.25 23.4H517.75L517.75 23.4H518.25L518.25 23.4H518.75L518.75 23.4H519.25L519.25 23.4H519.75L519.75 23.4H520.25L520.25 23.4H520.75L520.75 23.4H521.25L521.25 23.5H521.75L521.75 24.3H522.25L522.25 23.4H522.75L522.75 23.4H523.25L523.25 24.5H523.75L523.75 24.3H524.25L524.25 23.4H524.75L524.75 23.4H525.25L525.25 23.9H525.75L525.75 23.4H526.25L526.25 25.0H526.75L526.75 24.5H527.25L527.25 24.8H527.75L527.75 23.4H528.25L528.25 23.8H528.75L528.75 23.4H529.25L529.25 23.4H529.75L529.75 24.2H530.25L530.25 24.7H530.75L530.75 23.4H531.25L531.25 23.4H531.75L531.75 23.4H532.25L532.25 23.4H532.75L532.75 25.9H533.25L533.25 23.4H533.75L533.75 24.8H534.25L534.25 23.4H534.75L534.75 23.4H535.25L535.25 23.4H535.75L535.75 25.5H536.25L536.25 23.4H536.75L536.75 24.7H537.25L537.25 24.6H537.75L537.75 24.0H538.25L538.25 23.4H538.75L538.75 23.5H539.25L539.22 23.00Z" fill="#111"/>
<line x1="527.40" y1="12.20" x2="528.00" y2="17.30" stroke="#999" stroke-width="0.6"/>
<line x1="506.70" y1="37.50" x2="539.80" y2="37.50" stroke="#8a8a8a" stroke-width="0.95" />
<line x1="506.70" y1="34.10" x2="506.70" y2="37.50" stroke="#c8c8c8" stroke-width="0.6" />
<ellipse cx="531.90" cy="37.50" rx="1.15" ry="1.5" fill="#111"/>
<rect x="542.90" y="12.20" width="24.60" height="21.90" fill="none" stroke="#c4c4c4" stroke-width="0.6"/>
<line x1="542.90" y1="17.30" x2="567.50" y2="17.30" stroke="#e2e2e2" stroke-width="0.5" />
<line x1="542.90" y1="28.60" x2="567.50" y2="28.60" stroke="#e2e2e2" stroke-width="0.5" />
<line x1="543.94" y1="23.00" x2="543.94" y2="34.10" stroke="#8a8a8a" stroke-width="0.9"/><line x1="544.89" y1="23.00" x2="544.89" y2="34.10" stroke="#a8a8a8" stroke-width="0.9"/><line x1="551.41" y1="23.00" x2="551.41" y2="34.10" stroke="#a8a8a8" stroke-width="0.5"/><line x1="560.60" y1="23.00" x2="560.60" y2="34.10" stroke="#6a6a6a" stroke-width="0.7"/><line x1="563.19" y1="23.00" x2="563.19" y2="34.10" stroke="#6a6a6a" stroke-width="0.5"/><line x1="564.98" y1="23.00" x2="564.98" y2="34.10" stroke="#a8a8a8" stroke-width="0.7"/><line x1="565.72" y1="23.00" x2="565.72" y2="34.10" stroke="#a8a8a8" stroke-width="0.9"/><line x1="565.84" y1="23.00" x2="565.84" y2="34.10" stroke="#a8a8a8" stroke-width="0.5"/>
<path d="M543.9 23.0V17.3M544.4 23.0V20.0M544.9 23.0V19.3M546.9 23.0V19.4M551.9 23.0V18.5M552.4 23.0V20.2M556.9 23.0V19.5M562.4 23.0V21.1M567.4 23.0V19.3" stroke="#9a9a9a" stroke-width="0.4" fill="none"/>
<path d="M542.98 23.00L542.95 21.9H543.45L543.45 21.2H543.95L543.95 22.6H544.45L544.45 22.0H544.95L544.95 22.3H545.45L545.45 20.4H545.95L545.95 22.6H546.45L546.45 22.6H546.95L546.95 21.7H547.45L547.45 20.1H547.95L547.95 22.6H548.45L548.45 22.6H548.95L548.95 22.0H549.45L549.45 21.9H549.95L549.95 20.8H550.45L550.45 22.6H550.95L550.95 22.6H551.45L551.45 20.5H551.95L551.95 22.6H552.45L552.45 22.6H552.95L552.95 21.9H553.45L553.45 21.2H553.95L553.95 22.6H554.45L554.45 19.5H554.95L554.95 22.5H555.45L555.45 22.1H555.95L555.95 21.4H556.45L556.45 20.9H556.95L556.95 22.6H557.45L557.45 19.5H557.95L557.95 22.6H558.45L558.45 21.7H558.95L558.95 22.6H559.45L559.45 22.6H559.95L559.95 22.6H560.45L560.45 22.6H560.95L560.95 21.4H561.45L561.45 21.7H561.95L561.95 22.6H562.45L562.45 21.2H562.95L562.95 22.6H563.45L563.45 22.2H563.95L563.95 19.0H564.45L564.45 22.6H564.95L564.95 22.6H565.45L565.45 22.5H565.95L565.95 22.5H566.45L566.45 21.6H566.95L566.95 22.6H567.45L567.42 23.00ZM542.98 23.00L542.95 23.4H543.45L543.45 23.4H543.95L543.95 24.3H544.45L544.45 23.4H544.95L544.95 23.4H545.45L545.45 23.4H545.95L545.95 24.2H546.45L546.45 24.4H546.95L546.95 23.4H547.45L547.45 23.4H547.95L547.95 26.1H548.45L548.45 26.3H548.95L548.95 23.4H549.45L549.45 23.4H549.95L549.95 23.4H550.45L550.45 23.8H550.95L550.95 23.4H551.45L551.45 23.4H551.95L551.95 24.6H552.45L552.45 23.6H552.95L552.95 23.4H553.45L553.45 23.4H553.95L553.95 23.4H554.45L554.45 23.4H554.95L554.95 23.4H555.45L555.45 23.4H555.95L555.95 23.4H556.45L556.45 23.4H556.95L556.95 23.8H557.45L557.45 23.4H557.95L557.95 23.6H558.45L558.45 23.4H558.95L558.95 23.4H559.45L559.45 23.7H559.95L559.95 23.4H560.45L560.45 25.5H560.95L560.95 23.4H561.45L561.45 23.4H561.95L561.95 25.0H562.45L562.45 23.4H562.95L562.95 23.4H563.45L563.45 23.4H563.95L563.95 23.4H564.45L564.45 24.3H564.95L564.95 23.5H565.45L565.45 23.4H565.95L565.95 23.4H566.45L566.45 23.4H566.95L566.95 23.5H567.45L567.42 23.00Z" fill="#111"/>
<line x1="552.30" y1="12.20" x2="552.90" y2="17.30" stroke="#999" stroke-width="0.6"/>
<line x1="542.90" y1="37.50" x2="567.50" y2="37.50" stroke="#8a8a8a" stroke-width="0.95" />
<line x1="542.90" y1="34.10" x2="542.90" y2="37.50" stroke="#c8c8c8" stroke-width="0.6" />
<ellipse cx="558.10" cy="37.50" rx="1.15" ry="1.5" fill="#111"/>
<rect x="571.10" y="12.20" width="20.80" height="21.90" fill="none" stroke="#c4c4c4" stroke-width="0.6"/>
<line x1="571.10" y1="17.30" x2="591.90" y2="17.30" stroke="#e2e2e2" stroke-width="0.5" />
<line x1="571.10" y1="28.60" x2="591.90" y2="28.60" stroke="#e2e2e2" stroke-width="0.5" />
<line x1="574.15" y1="23.00" x2="574.15" y2="34.10" stroke="#6a6a6a" stroke-width="0.9"/><line x1="575.70" y1="23.00" x2="575.70" y2="34.10" stroke="#8a8a8a" stroke-width="0.7"/><line x1="579.73" y1="23.00" x2="579.73" y2="34.10" stroke="#bdbdbd" stroke-width="0.5"/><line x1="583.15" y1="23.00" x2="583.15" y2="34.10" stroke="#bdbdbd" stroke-width="0.5"/><line x1="586.31" y1="23.00" x2="586.31" y2="34.10" stroke="#8a8a8a" stroke-width="0.7"/><line x1="588.50" y1="23.00" x2="588.50" y2="34.10" stroke="#6a6a6a" stroke-width="0.5"/>
<path d="M574.1 23.0V19.6M576.6 23.0V21.6M580.6 23.0V18.1M582.1 23.0V20.0M583.6 23.0V19.7M590.6 23.0V17.0" stroke="#9a9a9a" stroke-width="0.4" fill="none"/>
<path d="M571.18 23.00L571.15 22.6H571.65L571.65 21.3H572.15L572.15 22.6H572.65L572.65 21.4H573.15L573.15 22.6H573.65L573.65 22.6H574.15L574.15 22.2H574.65L574.65 22.6H575.15L575.15 22.6H575.65L575.65 22.2H576.15L576.15 22.6H576.65L576.65 20.9H577.15L577.15 22.6H577.65L577.65 22.6H578.15L578.15 22.6H578.65L578.65 22.6H579.15L579.15 21.4H579.65L579.65 22.6H580.15L580.15 22.0H580.65L580.65 17.3H581.15L581.15 22.6H581.65L581.65 22.6H582.15L582.15 21.7H582.65L582.65 22.2H583.15L583.15 22.6H583.65L583.65 22.6H584.15L584.15 22.6H584.65L584.65 22.6H585.15L585.15 22.6H585.65L585.65 21.7H586.15L586.15 22.6H586.65L586.65 22.6H587.15L587.15 22.5H587.65L587.65 22.6H588.15L588.15 22.6H588.65L588.65 22.6H589.15L589.15 22.1H589.65L589.65 21.3H590.15L590.15 19.6H590.65L590.65 22.4H591.15L591.15 22.6H591.65L591.62 23.00ZM571.18 23.00L571.15 25.6H571.65L571.65 23.4H572.15L572.15 25.0H572.65L572.65 23.4H573.15L573.15 23.6H573.65L573.65 24.3H574.15L574.15 23.4H574.65L574.65 24.0H575.15L575.15 23.4H575.65L575.65 23.4H576.15L576.15 23.4H576.65L576.65 23.4H577.15L577.15 24.5H577.65L577.65 23.7H578.15L578.15 23.7H578.65L578.65 24.6H579.15L579.15 23.4H579.65L579.65 24.7H580.15L580.15 23.4H580.65L580.65 23.4H581.15L581.15 24.8H581.65L581.65 25.3H582.15L582.15 23.4H582.65L582.65 23.4H583.15L583.15 23.4H583.65L583.65 23.6H584.15L584.15 23.4H584.65L584.65 24.3H585.15L585.15 27.1H585.65L585.65 23.4H586.15L586.15 24.6H586.65L586.65 24.3H587.15L587.15 23.4H587.65L587.65 23.6H588.15L588.15 23.8H588.65L588.65 25.1H589.15L589.15 23.4H589.65L589.65 23.4H590.15L590.15 23.4H590.65L590.65 23.4H591.15L591.15 23.4H591.65L591.62 23.00Z" fill="#111"/>
<line x1="590.60" y1="12.20" x2="591.20" y2="17.30" stroke="#999" stroke-width="0.6"/>
<line x1="571.10" y1="37.50" x2="591.90" y2="37.50" stroke="#8a8a8a" stroke-width="0.95" />
<line x1="571.10" y1="34.10" x2="571.10" y2="37.50" stroke="#c8c8c8" stroke-width="0.6" />
<ellipse cx="589.10" cy="37.50" rx="1.15" ry="1.5" fill="#111"/>
<rect x="595.00" y="12.20" width="19.50" height="21.90" fill="none" stroke="#c4c4c4" stroke-width="0.6"/>
<line x1="595.00" y1="17.30" x2="614.50" y2="17.30" stroke="#e2e2e2" stroke-width="0.5" />
<line x1="595.00" y1="28.60" x2="614.50" y2="28.60" stroke="#e2e2e2" stroke-width="0.5" />
<line x1="599.91" y1="23.00" x2="599.91" y2="34.10" stroke="#a8a8a8" stroke-width="0.9"/><line x1="605.13" y1="23.00" x2="605.13" y2="34.10" stroke="#bdbdbd" stroke-width="0.7"/><line x1="608.30" y1="23.00" x2="608.30" y2="34.10" stroke="#bdbdbd" stroke-width="0.7"/><line x1="609.05" y1="23.00" x2="609.05" y2="34.10" stroke="#a8a8a8" stroke-width="0.9"/><line x1="610.13" y1="23.00" x2="610.13" y2="34.10" stroke="#8a8a8a" stroke-width="0.5"/><line x1="610.41" y1="23.00" x2="610.41" y2="34.10" stroke="#a8a8a8" stroke-width="0.5"/>
<path d="M595.5 23.0V21.3M598.0 23.0V19.0M601.0 23.0V19.4M603.5 23.0V21.1M610.5 23.0V19.9M613.5 23.0V19.0" stroke="#9a9a9a" stroke-width="0.4" fill="none"/>
<path d="M595.08 23.00L595.05 22.6H595.55L595.55 21.3H596.05L596.05 22.4H596.55L596.55 22.6H597.05L597.05 22.2H597.55L597.55 21.4H598.05L598.05 22.6H598.55L598.55 22.6H599.05L599.05 22.6H599.55L599.55 22.6H600.05L600.05 22.6H600.55L600.55 22.6H601.05L601.05 20.9H601.55L601.55 21.7H602.05L602.05 22.6H602.55L602.55 22.6H603.05L603.05 22.6H603.55L603.55 22.6H604.05L604.05 22.6H604.55L604.55 21.9H605.05L605.05 22.6H605.55L605.55 17.6H606.05L606.05 22.6H606.55L606.55 22.6H607.05L607.05 22.6H607.55L607.55 22.6H608.05L608.05 22.6H608.55L608.55 22.3H609.05L609.05 17.9H609.55L609.55 22.5H610.05L610.05 22.6H610.55L610.55 22.6H611.05L611.05 22.2H611.55L611.55 21.3H612.05L612.05 22.6H612.55L612.55 22.6H613.05L613.05 22.6H613.55L613.55 22.6H614.05L614.02 23.00ZM595.08 23.00L595.05 23.4H595.55L595.55 23.4H596.05L596.05 23.4H596.55L596.55 23.8H597.05L597.05 23.4H597.55L597.55 23.4H598.05L598.05 23.7H598.55L598.55 23.4H599.05L599.05 23.4H599.55L599.55 26.0H600.05L600.05 23.7H600.55L600.55 23.4H601.05L601.05 23.4H601.55L601.55 23.4H602.05L602.05 26.5H602.55L602.55 23.4H603.05L603.05 24.7H603.55L603.55 23.4H604.05L604.05 23.4H604.55L604.55 23.4H605.05L605.05 24.2H605.55L605.55 23.4H606.05L606.05 23.6H606.55L606.55 23.4H607.05L607.05 23.4H607.55L607.55 23.4H608.05L608.05 23.4H608.55L608.55 23.4H609.05L609.05 23.4H609.55L609.55 23.4H610.05L610.05 24.2H610.55L610.55 23.8H611.05L611.05 23.4H611.55L611.55 23.4H612.05L612.05 23.4H612.55L612.55 24.6H613.05L613.05 25.1H613.55L613.55 24.0H614.05L614.02 23.00Z" fill="#111"/>
<line x1="604.00" y1="12.20" x2="604.60" y2="17.30" stroke="#999" stroke-width="0.6"/>
<line x1="595.00" y1="37.50" x2="614.50" y2="37.50" stroke="#8a8a8a" stroke-width="0.95" />
<line x1="595.00" y1="34.10" x2="595.00" y2="37.50" stroke="#c8c8c8" stroke-width="0.6" />
<ellipse cx="600.10" cy="37.50" rx="1.15" ry="1.5" fill="#111"/>
<ellipse cx="607.30" cy="37.50" rx="1.15" ry="1.5" fill="#111"/>
<rect x="618.30" y="12.20" width="46.90" height="21.90" fill="none" stroke="#c4c4c4" stroke-width="0.6"/>
<line x1="618.30" y1="17.30" x2="665.20" y2="17.30" stroke="#e2e2e2" stroke-width="0.5" />
<line x1="618.30" y1="28.60" x2="665.20" y2="28.60" stroke="#e2e2e2" stroke-width="0.5" />
<line x1="622.34" y1="23.00" x2="622.34" y2="34.10" stroke="#8a8a8a" stroke-width="0.7"/><line x1="627.12" y1="23.00" x2="627.12" y2="34.10" stroke="#8a8a8a" stroke-width="0.9"/><line x1="627.28" y1="23.00" x2="627.28" y2="34.10" stroke="#bdbdbd" stroke-width="0.5"/><line x1="628.78" y1="23.00" x2="628.78" y2="34.10" stroke="#6a6a6a" stroke-width="0.7"/><line x1="629.68" y1="23.00" x2="629.68" y2="34.10" stroke="#bdbdbd" stroke-width="0.9"/><line x1="630.61" y1="23.00" x2="630.61" y2="34.10" stroke="#8a8a8a" stroke-width="0.7"/><line x1="630.19" y1="23.00" x2="630.19" y2="34.10" stroke="#a8a8a8" stroke-width="0.5"/><line x1="642.25" y1="23.00" x2="642.25" y2="34.10" stroke="#8a8a8a" stroke-width="0.9"/><line x1="644.06" y1="23.00" x2="644.06" y2="34.10" stroke="#bdbdbd" stroke-width="0.5"/><line x1="645.31" y1="23.00" x2="645.31" y2="34.10" stroke="#bdbdbd" stroke-width="0.7"/><line x1="654.68" y1="23.00" x2="654.68" y2="34.10" stroke="#bdbdbd" stroke-width="0.9"/><line x1="655.84" y1="23.00" x2="655.84" y2="34.10" stroke="#6a6a6a" stroke-width="0.5"/><line x1="657.76" y1="23.00" x2="657.76" y2="34.10" stroke="#8a8a8a" stroke-width="0.9"/><line x1="661.18" y1="23.00" x2="661.18" y2="34.10" stroke="#a8a8a8" stroke-width="0.7"/><line x1="662.17" y1="23.00" x2="662.17" y2="34.10" stroke="#a8a8a8" stroke-width="0.7"/>
<path d="M618.8 23.0V18.0M621.3 23.0V21.2M633.8 23.0V19.1M638.8 23.0V15.1M641.3 23.0V20.9M642.3 23.0V19.5M650.3 23.0V19.4M651.8 23.0V16.4M652.3 23.0V17.0M652.8 23.0V18.0M655.8 23.0V18.8M662.8 23.0V20.3" stroke="#9a9a9a" stroke-width="0.4" fill="none"/>
<path d="M618.38 23.00L618.35 19.9H618.85L618.85 22.6H619.35L619.35 20.4H619.85L619.85 21.7H620.35L620.35 22.6H620.85L620.85 22.6H621.35L621.35 21.3H621.85L621.85 22.6H622.35L622.35 22.6H622.85L622.85 22.6H623.35L623.35 22.6H623.85L623.85 22.6H624.35L624.35 21.8H624.85L624.85 20.0H625.35L625.35 22.6H625.85L625.85 22.6H626.35L626.35 21.4H626.85L626.85 22.4H627.35L627.35 22.5H627.85L627.85 22.6H628.35L628.35 22.6H628.85L628.85 21.6H629.35L629.35 22.6H629.85L629.85 22.6H630.35L630.35 20.9H630.85L630.85 22.6H631.35L631.35 22.6H631.85L631.85 22.6H632.35L632.35 22.6H632.85L632.85 22.6H633.35L633.35 21.5H633.85L633.85 21.3H634.35L634.35 20.0H634.85L634.85 22.6H635.35L635.35 22.6H635.85L635.85 22.2H636.35L636.35 22.6H636.85L636.85 22.6H637.35L637.35 21.6H637.85L637.85 22.6H638.35L638.35 16.8H638.85L638.85 17.5H639.35L639.35 22.6H639.85L639.85 22.6H640.35L640.35 21.9H640.85L640.85 22.6H641.35L641.35 22.0H641.85L641.85 22.6H642.35L642.35 22.6H642.85L642.85 22.6H643.35L643.35 22.6H643.85L643.85 22.6H644.35L644.35 22.6H644.85L644.85 22.2H645.35L645.35 22.6H645.85L645.85 22.6H646.35L646.35 22.6H646.85L646.85 22.6H647.35L647.35 22.6H647.85L647.85 22.6H648.35L648.35 22.6H648.85L648.85 22.6H649.35L649.35 22.2H649.85L649.85 22.6H650.35L650.35 21.5H650.85L650.85 22.6H651.35L651.35 19.7H651.85L651.85 20.0H652.35L652.35 20.6H652.85L652.85 22.3H653.35L653.35 21.8H653.85L653.85 22.6H654.35L654.35 19.7H654.85L654.85 19.9H655.35L655.35 21.9H655.85L655.85 21.1H656.35L656.35 20.5H656.85L656.85 20.3H657.35L657.35 21.6H657.85L657.85 21.0H658.35L658.35 22.1H658.85L658.85 19.1H659.35L659.35 21.8H659.85L659.85 21.4H660.35L660.35 22.6H660.85L660.85 22.6H661.35L661.35 22.6H661.85L661.85 22.1H662.35L662.35 22.6H662.85L662.85 22.6H663.35L663.35 22.6H663.85L663.85 22.3H664.35L664.35 21.4H664.85L664.82 23.00ZM618.38 23.00L618.35 23.4H618.85L618.85 23.7H619.35L619.35 23.4H619.85L619.85 23.4H620.35L620.35 23.4H620.85L620.85 23.5H621.35L621.35 23.4H621.85L621.85 24.6H622.35L622.35 25.3H622.85L622.85 24.8H623.35L623.35 23.4H623.85L623.85 25.9H624.35L624.35 23.4H624.85L624.85 23.4H625.35L625.35 24.4H625.85L625.85 24.8H626.35L626.35 23.4H626.85L626.85 23.4H627.35L627.35 23.4H627.85L627.85 23.4H628.35L628.35 23.4H628.85L628.85 23.4H629.35L629.35 24.4H629.85L629.85 28.5H630.35L630.35 23.4H630.85L630.85 23.4H631.35L631.35 24.8H631.85L631.85 23.4H632.35L632.35 23.8H632.85L632.85 23.4H633.35L633.35 23.4H633.85L633.85 23.4H634.35L634.35 23.4H634.85L634.85 23.4H635.35L635.35 23.4H635.85L635.85 23.4H636.35L636.35 23.8H636.85L636.85 23.4H637.35L637.35 23.4H637.85L637.85 24.7H638.35L638.35 23.4H638.85L638.85 23.4H639.35L639.35 24.0H639.85L639.85 23.4H640.35L640.35 23.4H640.85L640.85 25.0H641.35L641.35 23.4H641.85L641.85 24.2H642.35L642.35 23.4H642.85L642.85 25.2H643.35L643.35 23.7H643.85L643.85 25.6H644.35L644.35 23.4H644.85L644.85 23.4H645.35L645.35 24.3H645.85L645.85 23.4H646.35L646.35 23.4H646.85L646.85 23.7H647.35L647.35 24.2H647.85L647.85 23.4H648.35L648.35 23.4H648.85L648.85 23.8H649.35L649.35 23.4H649.85L649.85 23.4H650.35L650.35 23.4H650.85L650.85 24.9H651.35L651.35 23.4H651.85L651.85 23.4H652.35L652.35 23.4H652.85L652.85 23.4H653.35L653.35 23.4H653.85L653.85 23.4H654.35L654.35 23.4H654.85L654.85 23.4H655.35L655.35 23.4H655.85L655.85 23.4H656.35L656.35 23.4H656.85L656.85 23.4H657.35L657.35 23.4H657.85L657.85 23.4H658.35L658.35 23.4H658.85L658.85 23.4H659.35L659.35 23.4H659.85L659.85 23.4H660.35L660.35 23.7H660.85L660.85 24.7H661.35L661.35 23.8H661.85L661.85 23.4H662.35L662.35 23.6H662.85L662.85 24.4H663.35L663.35 23.6H663.85L663.85 23.4H664.35L664.35 23.4H664.85L664.82 23.00Z" fill="#111"/>
<line x1="656.00" y1="12.20" x2="656.60" y2="17.30" stroke="#999" stroke-width="0.6"/>
<line x1="618.30" y1="37.50" x2="665.20" y2="37.50" stroke="#8a8a8a" stroke-width="0.95" />
<line x1="618.30" y1="34.10" x2="618.30" y2="37.50" stroke="#c8c8c8" stroke-width="0.6" />
<ellipse cx="646.60" cy="37.50" rx="1.15" ry="1.5" fill="#111"/>
<ellipse cx="657.6" cy="37.50" rx="1.0" ry="1.4" fill="#3344cc"/>
<text x="331.6" y="56.40" font-size="9" fill="#231f20">2<tspan font-style="italic">n</tspan></text>
<line x1="342.60" y1="53.30" x2="345.00" y2="53.30" stroke="#111" stroke-width="0.8" />
<path d="M347.3,53.30 L343.8,51.50 L344.4,53.30 L343.8,55.10 Z" fill="#111"/>
<line x1="668.50" y1="47.60" x2="671.80" y2="47.60" stroke="#111" stroke-width="0.8" />
<path d="M666.4,47.60 L670.0,45.70 L669.4,47.60 L670.0,49.50 Z" fill="#111"/>
<text x="672.9" y="50.80" font-size="9.6" fill="#231f20">3<tspan font-style="italic">n</tspan></text>
<line x1="668.50" y1="58.90" x2="671.80" y2="58.90" stroke="#111" stroke-width="0.8" />
<path d="M666.4,58.90 L670.0,57.00 L669.4,58.90 L670.0,60.80 Z" fill="#111"/>
<text x="672.9" y="62.10" font-size="9.6" fill="#231f20">1<tspan font-style="italic">n</tspan></text>
<rect x="347.20" y="42.50" width="66.60" height="21.90" fill="none" stroke="#c4c4c4" stroke-width="0.6"/>
<line x1="347.20" y1="47.60" x2="413.80" y2="47.60" stroke="#e2e2e2" stroke-width="0.5" />
<line x1="347.20" y1="58.90" x2="413.80" y2="58.90" stroke="#e2e2e2" stroke-width="0.5" />
<line x1="352.75" y1="53.30" x2="352.75" y2="64.40" stroke="#8a8a8a" stroke-width="0.7"/><line x1="356.41" y1="53.30" x2="356.41" y2="64.40" stroke="#a8a8a8" stroke-width="0.7"/><line x1="357.23" y1="53.30" x2="357.23" y2="64.40" stroke="#bdbdbd" stroke-width="0.9"/><line x1="361.83" y1="53.30" x2="361.83" y2="64.40" stroke="#bdbdbd" stroke-width="0.7"/><line x1="362.61" y1="53.30" x2="362.61" y2="64.40" stroke="#bdbdbd" stroke-width="0.7"/><line x1="366.37" y1="53.30" x2="366.37" y2="64.40" stroke="#8a8a8a" stroke-width="0.9"/><line x1="370.69" y1="53.30" x2="370.69" y2="64.40" stroke="#a8a8a8" stroke-width="0.9"/><line x1="378.36" y1="53.30" x2="378.36" y2="64.40" stroke="#8a8a8a" stroke-width="0.7"/><line x1="379.40" y1="53.30" x2="379.40" y2="64.40" stroke="#6a6a6a" stroke-width="0.9"/><line x1="379.99" y1="53.30" x2="379.99" y2="64.40" stroke="#bdbdbd" stroke-width="0.7"/><line x1="382.78" y1="53.30" x2="382.78" y2="64.40" stroke="#6a6a6a" stroke-width="0.9"/><line x1="387.07" y1="53.30" x2="387.07" y2="64.40" stroke="#8a8a8a" stroke-width="0.5"/><line x1="392.35" y1="53.30" x2="392.35" y2="64.40" stroke="#6a6a6a" stroke-width="0.5"/><line x1="395.10" y1="53.30" x2="395.10" y2="64.40" stroke="#6a6a6a" stroke-width="0.9"/><line x1="397.93" y1="53.30" x2="397.93" y2="64.40" stroke="#6a6a6a" stroke-width="0.9"/><line x1="400.47" y1="53.30" x2="400.47" y2="64.40" stroke="#6a6a6a" stroke-width="0.7"/><line x1="407.10" y1="53.30" x2="407.10" y2="64.40" stroke="#8a8a8a" stroke-width="0.9"/>
<path d="M351.2 53.3V51.9M353.2 53.3V51.0M354.2 53.3V50.7M362.7 53.3V52.2M368.2 53.3V50.0M369.7 53.3V50.5M371.7 53.3V50.5M377.2 53.3V50.6M380.7 53.3V49.2M386.7 53.3V51.7M389.7 53.3V49.2M392.2 53.3V50.7M396.2 53.3V51.2M397.2 53.3V48.2M399.7 53.3V48.8M400.7 53.3V47.0M406.7 53.3V49.5M408.7 53.3V50.0M409.7 53.3V46.9M411.7 53.3V49.3" stroke="#9a9a9a" stroke-width="0.4" fill="none"/>
<path d="M347.28 53.30L347.25 52.8H347.75L347.75 52.9H348.25L348.25 52.9H348.75L348.75 47.8H349.25L349.25 52.8H349.75L349.75 51.7H350.25L350.25 52.9H350.75L350.75 52.9H351.25L351.25 51.8H351.75L351.75 52.9H352.25L352.25 52.1H352.75L352.75 52.9H353.25L353.25 52.9H353.75L353.75 52.2H354.25L354.25 52.9H354.75L354.75 52.9H355.25L355.25 52.9H355.75L355.75 52.9H356.25L356.25 52.9H356.75L356.75 49.7H357.25L357.25 50.9H357.75L357.75 51.1H358.25L358.25 52.9H358.75L358.75 52.9H359.25L359.25 52.3H359.75L359.75 52.9H360.25L360.25 51.5H360.75L360.75 52.9H361.25L361.25 50.6H361.75L361.75 51.1H362.25L362.25 52.9H362.75L362.75 52.3H363.25L363.25 52.9H363.75L363.75 52.9H364.25L364.25 52.9H364.75L364.75 52.9H365.25L365.25 52.9H365.75L365.75 52.9H366.25L366.25 52.9H366.75L366.75 52.9H367.25L367.25 51.9H367.75L367.75 52.9H368.25L368.25 52.9H368.75L368.75 52.9H369.25L369.25 52.9H369.75L369.75 52.9H370.25L370.25 52.9H370.75L370.75 52.9H371.25L371.25 52.9H371.75L371.75 51.2H372.25L372.25 52.4H372.75L372.75 52.9H373.25L373.25 52.2H373.75L373.75 52.7H374.25L374.25 49.5H374.75L374.75 52.9H375.25L375.25 52.3H375.75L375.75 52.9H376.25L376.25 52.9H376.75L376.75 52.9H377.25L377.25 52.9H377.75L377.75 52.0H378.25L378.25 52.9H378.75L378.75 52.9H379.25L379.25 52.9H379.75L379.75 51.2H380.25L380.25 51.9H380.75L380.75 52.9H381.25L381.25 51.9H381.75L381.75 51.6H382.25L382.25 52.9H382.75L382.75 52.2H383.25L383.25 51.9H383.75L383.75 52.7H384.25L384.25 52.9H384.75L384.75 48.2H385.25L385.25 52.9H385.75L385.75 52.5H386.25L386.25 52.9H386.75L386.75 52.9H387.25L387.25 52.9H387.75L387.75 51.4H388.25L388.25 52.9H388.75L388.75 52.9H389.25L389.25 52.9H389.75L389.75 52.9H390.25L390.25 52.9H390.75L390.75 52.9H391.25L391.25 52.7H391.75L391.75 51.8H392.25L392.25 52.9H392.75L392.75 52.9H393.25L393.25 52.1H393.75L393.75 52.0H394.25L394.25 52.3H394.75L394.75 52.9H395.25L395.25 52.9H395.75L395.75 52.9H396.25L396.25 52.9H396.75L396.75 51.3H397.25L397.25 52.9H397.75L397.75 52.7H398.25L398.25 52.9H398.75L398.75 52.6H399.25L399.25 52.3H399.75L399.75 52.8H400.25L400.25 50.8H400.75L400.75 52.9H401.25L401.25 52.9H401.75L401.75 51.6H402.25L402.25 52.9H402.75L402.75 52.9H403.25L403.25 49.4H403.75L403.75 52.9H404.25L404.25 52.9H404.75L404.75 51.1H405.25L405.25 52.9H405.75L405.75 52.9H406.25L406.25 51.4H406.75L406.75 52.9H407.25L407.25 52.9H407.75L407.75 52.9H408.25L408.25 52.9H408.75L408.75 48.7H409.25L409.25 50.1H409.75L409.75 52.9H410.25L410.25 52.9H410.75L410.75 52.9H411.25L411.25 52.5H411.75L411.75 52.9H412.25L412.25 52.9H412.75L412.75 51.1H413.25L413.22 53.30ZM347.28 53.30L347.25 53.6H347.75L347.75 54.4H348.25L348.25 54.4H348.75L348.75 53.6H349.25L349.25 53.6H349.75L349.75 53.6H350.25L350.25 53.8H350.75L350.75 53.6H351.25L351.25 53.6H351.75L351.75 53.6H352.25L352.25 53.6H352.75L352.75 53.6H353.25L353.25 54.3H353.75L353.75 53.6H354.25L354.25 55.2H354.75L354.75 53.7H355.25L355.25 53.6H355.75L355.75 53.6H356.25L356.25 54.3H356.75L356.75 53.6H357.25L357.25 53.6H357.75L357.75 53.6H358.25L358.25 54.9H358.75L358.75 53.6H359.25L359.25 53.6H359.75L359.75 56.0H360.25L360.25 53.6H360.75L360.75 53.6H361.25L361.25 53.6H361.75L361.75 53.6H362.25L362.25 53.6H362.75L362.75 53.6H363.25L363.25 55.4H363.75L363.75 55.9H364.25L364.25 55.5H364.75L364.75 54.5H365.25L365.25 55.5H365.75L365.75 58.7H366.25L366.25 55.6H366.75L366.75 54.7H367.25L367.25 53.6H367.75L367.75 53.6H368.25L368.25 54.6H368.75L368.75 54.7H369.25L369.25 54.3H369.75L369.75 55.8H370.25L370.25 53.6H370.75L370.75 54.2H371.25L371.25 55.5H371.75L371.75 53.6H372.25L372.25 53.6H372.75L372.75 54.9H373.25L373.25 53.6H373.75L373.75 53.6H374.25L374.25 53.6H374.75L374.75 54.1H375.25L375.25 53.6H375.75L375.75 53.9H376.25L376.25 53.6H376.75L376.75 53.8H377.25L377.25 53.9H377.75L377.75 53.6H378.25L378.25 53.6H378.75L378.75 53.8H379.25L379.25 54.0H379.75L379.75 53.6H380.25L380.25 53.6H380.75L380.75 53.8H381.25L381.25 53.6H381.75L381.75 53.6H382.25L382.25 53.6H382.75L382.75 53.6H383.25L383.25 53.6H383.75L383.75 53.6H384.25L384.25 53.6H384.75L384.75 53.6H385.25L385.25 54.3H385.75L385.75 53.6H386.25L386.25 56.5H386.75L386.75 53.6H387.25L387.25 54.2H387.75L387.75 53.6H388.25L388.25 53.9H388.75L388.75 55.8H389.25L389.25 53.6H389.75L389.75 54.3H390.25L390.25 55.9H390.75L390.75 54.5H391.25L391.25 53.6H391.75L391.75 53.6H392.25L392.25 53.6H392.75L392.75 54.0H393.25L393.25 53.6H393.75L393.75 53.6H394.25L394.25 53.6H394.75L394.75 53.6H395.25L395.25 54.5H395.75L395.75 56.4H396.25L396.25 53.6H396.75L396.75 53.6H397.25L397.25 54.8H397.75L397.75 53.6H398.25L398.25 53.7H398.75L398.75 53.6H399.25L399.25 53.6H399.75L399.75 53.6H400.25L400.25 53.6H400.75L400.75 53.6H401.25L401.25 53.9H401.75L401.75 53.6H402.25L402.25 53.7H402.75L402.75 55.3H403.25L403.25 53.6H403.75L403.75 53.6H404.25L404.25 53.6H404.75L404.75 53.6H405.25L405.25 54.6H405.75L405.75 55.7H406.25L406.25 53.6H406.75L406.75 55.2H407.25L407.25 53.6H407.75L407.75 53.6H408.25L408.25 53.6H408.75L408.75 53.6H409.25L409.25 53.6H409.75L409.75 55.5H410.25L410.25 53.6H410.75L410.75 56.2H411.25L411.25 53.6H411.75L411.75 54.2H412.25L412.25 53.8H412.75L412.75 53.6H413.25L413.22 53.30Z" fill="#111"/>
<line x1="380.30" y1="42.50" x2="380.90" y2="47.60" stroke="#999" stroke-width="0.6"/>
<line x1="347.20" y1="67.50" x2="413.80" y2="67.50" stroke="#8a8a8a" stroke-width="0.95" />
<line x1="347.20" y1="64.40" x2="347.20" y2="67.50" stroke="#c8c8c8" stroke-width="0.6" />
<ellipse cx="382.40" cy="67.50" rx="1.15" ry="1.5" fill="#111"/>
<rect x="417.10" y="42.50" width="46.50" height="21.90" fill="none" stroke="#c4c4c4" stroke-width="0.6"/>
<line x1="417.10" y1="47.60" x2="463.60" y2="47.60" stroke="#e2e2e2" stroke-width="0.5" />
<line x1="417.10" y1="58.90" x2="463.60" y2="58.90" stroke="#e2e2e2" stroke-width="0.5" />
<line x1="424.95" y1="53.30" x2="424.95" y2="64.40" stroke="#bdbdbd" stroke-width="0.9"/><line x1="426.04" y1="53.30" x2="426.04" y2="64.40" stroke="#6a6a6a" stroke-width="0.9"/><line x1="430.77" y1="53.30" x2="430.77" y2="64.40" stroke="#6a6a6a" stroke-width="0.5"/><line x1="434.90" y1="53.30" x2="434.90" y2="64.40" stroke="#6a6a6a" stroke-width="0.5"/><line x1="437.11" y1="53.30" x2="437.11" y2="64.40" stroke="#a8a8a8" stroke-width="0.7"/><line x1="440.25" y1="53.30" x2="440.25" y2="64.40" stroke="#a8a8a8" stroke-width="0.9"/><line x1="441.94" y1="53.30" x2="441.94" y2="64.40" stroke="#bdbdbd" stroke-width="0.5"/><line x1="443.25" y1="53.30" x2="443.25" y2="64.40" stroke="#bdbdbd" stroke-width="0.9"/><line x1="446.33" y1="53.30" x2="446.33" y2="64.40" stroke="#6a6a6a" stroke-width="0.5"/><line x1="450.35" y1="53.30" x2="450.35" y2="64.40" stroke="#a8a8a8" stroke-width="0.7"/><line x1="452.12" y1="53.30" x2="452.12" y2="64.40" stroke="#8a8a8a" stroke-width="0.5"/><line x1="457.17" y1="53.30" x2="457.17" y2="64.40" stroke="#bdbdbd" stroke-width="0.9"/>
<path d="M418.1 53.3V44.0M418.6 53.3V45.8M423.1 53.3V44.0M430.1 53.3V45.2M432.6 53.3V44.8M434.1 53.3V43.5M439.1 53.3V44.6M441.1 53.3V48.7M444.1 53.3V45.3M444.6 53.3V46.5M450.1 53.3V44.6M451.1 53.3V44.8M456.6 53.3V42.8M459.6 53.3V44.7" stroke="#9a9a9a" stroke-width="0.4" fill="none"/>
<path d="M417.18 53.30L417.15 46.6H417.65L417.65 47.6H418.15L418.15 48.9H418.65L418.65 48.1H419.15L419.15 49.9H419.65L419.65 46.1H420.15L420.15 48.7H420.65L420.65 48.9H421.15L421.15 47.7H421.65L421.65 47.0H422.15L422.15 44.6H422.65L422.65 46.9H423.15L423.15 46.4H423.65L423.65 48.1H424.15L424.15 47.0H424.65L424.65 52.9H425.15L425.15 49.0H425.65L425.65 48.5H426.15L426.15 49.3H426.65L426.65 49.6H427.15L427.15 48.8H427.65L427.65 50.1H428.15L428.15 47.0H428.65L428.65 47.7H429.15L429.15 43.8H429.65L429.65 48.8H430.15L430.15 47.0H430.65L430.65 49.7H431.15L431.15 46.3H431.65L431.65 47.9H432.15L432.15 47.1H432.65L432.65 47.6H433.15L433.15 47.5H433.65L433.65 46.6H434.15L434.15 50.7H434.65L434.65 47.5H435.15L435.15 48.2H435.65L435.65 48.2H436.15L436.15 46.2H436.65L436.65 43.0H437.15L437.15 46.7H437.65L437.65 47.2H438.15L438.15 47.6H438.65L438.65 46.9H439.15L439.15 48.8H439.65L439.65 46.8H440.15L440.15 47.7H440.65L440.65 51.2H441.15L441.15 49.0H441.65L441.65 47.5H442.15L442.15 47.0H442.65L442.65 46.1H443.15L443.15 45.2H443.65L443.65 47.8H444.15L444.15 49.6H444.65L444.65 48.4H445.15L445.15 48.8H445.65L445.65 49.6H446.15L446.15 47.9H446.65L446.65 47.3H447.15L447.15 48.7H447.65L447.65 46.3H448.15L448.15 47.6H448.65L448.65 47.2H449.15L449.15 46.6H449.65L449.65 47.2H450.15L450.15 48.1H450.65L450.65 46.7H451.15L451.15 49.2H451.65L451.65 48.8H452.15L452.15 50.3H452.65L452.65 47.1H453.15L453.15 48.3H453.65L453.65 45.0H454.15L454.15 42.8H454.65L454.65 47.5H455.15L455.15 47.6H455.65L455.65 46.3H456.15L456.15 42.9H456.65L456.65 48.4H457.15L457.15 42.8H457.65L457.65 49.2H458.15L458.15 48.2H458.65L458.65 49.1H459.15L459.15 46.4H459.65L459.65 48.8H460.15L460.15 47.6H460.65L460.65 47.2H461.15L461.15 45.9H461.65L461.65 47.5H462.15L462.15 48.1H462.65L462.65 48.3H463.15L463.12 53.30ZM417.18 53.30L417.15 53.6H417.65L417.65 53.6H418.15L418.15 53.6H418.65L418.65 53.6H419.15L419.15 53.6H419.65L419.65 53.6H420.15L420.15 53.6H420.65L420.65 53.6H421.15L421.15 53.6H421.65L421.65 53.6H422.15L422.15 53.6H422.65L422.65 53.6H423.15L423.15 53.6H423.65L423.65 53.6H424.15L424.15 53.6H424.65L424.65 55.1H425.15L425.15 53.6H425.65L425.65 53.6H426.15L426.15 53.6H426.65L426.65 53.6H427.15L427.15 53.6H427.65L427.65 53.6H428.15L428.15 53.6H428.65L428.65 53.6H429.15L429.15 53.6H429.65L429.65 53.6H430.15L430.15 53.6H430.65L430.65 53.6H431.15L431.15 53.6H431.65L431.65 53.6H432.15L432.15 53.6H432.65L432.65 53.6H433.15L433.15 53.6H433.65L433.65 53.6H434.15L434.15 53.6H434.65L434.65 53.6H435.15L435.15 53.6H435.65L435.65 53.6H436.15L436.15 53.6H436.65L436.65 53.6H437.15L437.15 53.6H437.65L437.65 53.6H438.15L438.15 53.6H438.65L438.65 53.6H439.15L439.15 53.6H439.65L439.65 53.6H440.15L440.15 53.6H440.65L440.65 53.6H441.15L441.15 53.6H441.65L441.65 53.6H442.15L442.15 53.6H442.65L442.65 53.6H443.15L443.15 53.6H443.65L443.65 53.6H444.15L444.15 53.6H444.65L444.65 53.6H445.15L445.15 53.6H445.65L445.65 53.6H446.15L446.15 53.6H446.65L446.65 53.6H447.15L447.15 53.6H447.65L447.65 53.6H448.15L448.15 53.6H448.65L448.65 53.6H449.15L449.15 53.6H449.65L449.65 53.6H450.15L450.15 53.6H450.65L450.65 53.6H451.15L451.15 53.6H451.65L451.65 53.6H452.15L452.15 53.6H452.65L452.65 53.6H453.15L453.15 53.6H453.65L453.65 53.6H454.15L454.15 53.6H454.65L454.65 53.6H455.15L455.15 53.6H455.65L455.65 53.6H456.15L456.15 53.6H456.65L456.65 53.6H457.15L457.15 53.6H457.65L457.65 53.6H458.15L458.15 53.6H458.65L458.65 53.6H459.15L459.15 53.6H459.65L459.65 53.6H460.15L460.15 53.6H460.65L460.65 53.6H461.15L461.15 53.6H461.65L461.65 53.6H462.15L462.15 53.6H462.65L462.65 53.6H463.15L463.12 53.30Z" fill="#111"/>
<line x1="460.80" y1="42.50" x2="461.40" y2="47.60" stroke="#999" stroke-width="0.6"/>
<line x1="417.10" y1="67.50" x2="463.60" y2="67.50" stroke="#8a8a8a" stroke-width="0.95" />
<line x1="417.10" y1="64.40" x2="417.10" y2="67.50" stroke="#c8c8c8" stroke-width="0.6" />
<ellipse cx="461.30" cy="67.50" rx="1.15" ry="1.5" fill="#111"/>
<rect x="466.40" y="42.50" width="37.30" height="21.90" fill="none" stroke="#c4c4c4" stroke-width="0.6"/>
<line x1="466.40" y1="47.60" x2="503.70" y2="47.60" stroke="#e2e2e2" stroke-width="0.5" />
<line x1="466.40" y1="58.90" x2="503.70" y2="58.90" stroke="#e2e2e2" stroke-width="0.5" />
<line x1="468.89" y1="53.30" x2="468.89" y2="64.40" stroke="#a8a8a8" stroke-width="0.7"/><line x1="472.29" y1="53.30" x2="472.29" y2="64.40" stroke="#bdbdbd" stroke-width="0.5"/><line x1="473.71" y1="53.30" x2="473.71" y2="64.40" stroke="#8a8a8a" stroke-width="0.7"/><line x1="474.23" y1="53.30" x2="474.23" y2="64.40" stroke="#a8a8a8" stroke-width="0.7"/><line x1="474.70" y1="53.30" x2="474.70" y2="64.40" stroke="#8a8a8a" stroke-width="0.9"/><line x1="478.45" y1="53.30" x2="478.45" y2="64.40" stroke="#bdbdbd" stroke-width="0.7"/><line x1="480.88" y1="53.30" x2="480.88" y2="64.40" stroke="#8a8a8a" stroke-width="0.9"/><line x1="482.19" y1="53.30" x2="482.19" y2="64.40" stroke="#bdbdbd" stroke-width="0.7"/><line x1="482.65" y1="53.30" x2="482.65" y2="64.40" stroke="#8a8a8a" stroke-width="0.9"/><line x1="487.34" y1="53.30" x2="487.34" y2="64.40" stroke="#bdbdbd" stroke-width="0.5"/><line x1="487.24" y1="53.30" x2="487.24" y2="64.40" stroke="#bdbdbd" stroke-width="0.5"/><line x1="495.86" y1="53.30" x2="495.86" y2="64.40" stroke="#8a8a8a" stroke-width="0.9"/>
<path d="M469.9 53.3V48.0M471.4 53.3V48.8M479.9 53.3V50.8M484.4 53.3V50.3M486.4 53.3V51.6M490.9 53.3V48.1M493.4 53.3V52.2M495.9 53.3V51.3M502.4 53.3V49.5M503.4 53.3V50.6" stroke="#9a9a9a" stroke-width="0.4" fill="none"/>
<path d="M466.48 53.30L466.45 51.5H466.95L466.95 52.9H467.45L467.45 52.7H467.95L467.95 52.9H468.45L468.45 52.5H468.95L468.95 52.9H469.45L469.45 50.7H469.95L469.95 52.9H470.45L470.45 51.2H470.95L470.95 52.7H471.45L471.45 52.9H471.95L471.95 52.9H472.45L472.45 52.9H472.95L472.95 52.9H473.45L473.45 52.9H473.95L473.95 52.9H474.45L474.45 52.3H474.95L474.95 52.0H475.45L475.45 51.6H475.95L475.95 52.9H476.45L476.45 52.9H476.95L476.95 52.9H477.45L477.45 52.0H477.95L477.95 52.5H478.45L478.45 52.9H478.95L478.95 52.9H479.45L479.45 52.9H479.95L479.95 52.0H480.45L480.45 52.9H480.95L480.95 50.8H481.45L481.45 48.6H481.95L481.95 52.9H482.45L482.45 49.6H482.95L482.95 52.9H483.45L483.45 52.7H483.95L483.95 52.9H484.45L484.45 52.6H484.95L484.95 51.2H485.45L485.45 52.9H485.95L485.95 52.9H486.45L486.45 52.6H486.95L486.95 51.2H487.45L487.45 51.8H487.95L487.95 52.9H488.45L488.45 52.9H488.95L488.95 49.9H489.45L489.45 52.6H489.95L489.95 52.8H490.45L490.45 51.9H490.95L490.95 52.9H491.45L491.45 52.5H491.95L491.95 52.8H492.45L492.45 51.2H492.95L492.95 52.9H493.45L493.45 52.7H493.95L493.95 52.9H494.45L494.45 52.9H494.95L494.95 52.9H495.45L495.45 52.9H495.95L495.95 52.9H496.45L496.45 52.7H496.95L496.95 52.8H497.45L497.45 52.9H497.95L497.95 52.9H498.45L498.45 52.2H498.95L498.95 52.4H499.45L499.45 52.2H499.95L499.95 52.9H500.45L500.45 52.9H500.95L500.95 50.0H501.45L501.45 52.9H501.95L501.95 52.9H502.45L502.45 52.9H502.95L502.95 52.5H503.45L503.42 53.30ZM466.48 53.30L466.45 53.6H466.95L466.95 53.6H467.45L467.45 53.6H467.95L467.95 54.3H468.45L468.45 53.6H468.95L468.95 53.6H469.45L469.45 53.6H469.95L469.95 54.8H470.45L470.45 53.6H470.95L470.95 53.6H471.45L471.45 54.0H471.95L471.95 53.6H472.45L472.45 55.9H472.95L472.95 53.6H473.45L473.45 53.9H473.95L473.95 53.9H474.45L474.45 53.6H474.95L474.95 53.6H475.45L475.45 53.6H475.95L475.95 56.1H476.45L476.45 53.6H476.95L476.95 53.6H477.45L477.45 53.6H477.95L477.95 53.6H478.45L478.45 53.9H478.95L478.95 53.6H479.45L479.45 53.6H479.95L479.95 53.6H480.45L480.45 54.8H480.95L480.95 53.6H481.45L481.45 53.6H481.95L481.95 53.6H482.45L482.45 53.6H482.95L482.95 54.0H483.45L483.45 53.6H483.95L483.95 53.6H484.45L484.45 53.6H484.95L484.95 53.6H485.45L485.45 53.9H485.95L485.95 53.6H486.45L486.45 53.6H486.95L486.95 53.6H487.45L487.45 53.6H487.95L487.95 53.6H488.45L488.45 53.6H488.95L488.95 53.6H489.45L489.45 53.6H489.95L489.95 53.6H490.45L490.45 53.6H490.95L490.95 53.9H491.45L491.45 53.6H491.95L491.95 53.6H492.45L492.45 53.6H492.95L492.95 54.7H493.45L493.45 53.6H493.95L493.95 56.0H494.45L494.45 54.0H494.95L494.95 53.7H495.45L495.45 56.9H495.95L495.95 54.4H496.45L496.45 53.6H496.95L496.95 53.6H497.45L497.45 55.5H497.95L497.95 54.4H498.45L498.45 53.6H498.95L498.95 53.6H499.45L499.45 53.6H499.95L499.95 55.4H500.45L500.45 55.3H500.95L500.95 53.6H501.45L501.45 53.6H501.95L501.95 54.9H502.45L502.45 53.6H502.95L502.95 53.6H503.45L503.42 53.30Z" fill="#111"/>
<line x1="483.80" y1="42.50" x2="484.40" y2="47.60" stroke="#999" stroke-width="0.6"/>
<line x1="466.40" y1="67.50" x2="503.70" y2="67.50" stroke="#8a8a8a" stroke-width="0.95" />
<line x1="466.40" y1="64.40" x2="466.40" y2="67.50" stroke="#c8c8c8" stroke-width="0.6" />
<rect x="506.70" y="42.50" width="33.10" height="21.90" fill="none" stroke="#c4c4c4" stroke-width="0.6"/>
<line x1="506.70" y1="47.60" x2="539.80" y2="47.60" stroke="#e2e2e2" stroke-width="0.5" />
<line x1="506.70" y1="58.90" x2="539.80" y2="58.90" stroke="#e2e2e2" stroke-width="0.5" />
<line x1="511.29" y1="53.30" x2="511.29" y2="64.40" stroke="#8a8a8a" stroke-width="0.9"/><line x1="512.84" y1="53.30" x2="512.84" y2="64.40" stroke="#a8a8a8" stroke-width="0.5"/><line x1="513.74" y1="53.30" x2="513.74" y2="64.40" stroke="#a8a8a8" stroke-width="0.9"/><line x1="518.29" y1="53.30" x2="518.29" y2="64.40" stroke="#6a6a6a" stroke-width="0.5"/><line x1="518.85" y1="53.30" x2="518.85" y2="64.40" stroke="#6a6a6a" stroke-width="0.7"/><line x1="520.37" y1="53.30" x2="520.37" y2="64.40" stroke="#a8a8a8" stroke-width="0.7"/><line x1="523.11" y1="53.30" x2="523.11" y2="64.40" stroke="#a8a8a8" stroke-width="0.9"/><line x1="525.05" y1="53.30" x2="525.05" y2="64.40" stroke="#8a8a8a" stroke-width="0.9"/><line x1="529.96" y1="53.30" x2="529.96" y2="64.40" stroke="#a8a8a8" stroke-width="0.9"/><line x1="537.15" y1="53.30" x2="537.15" y2="64.40" stroke="#6a6a6a" stroke-width="0.7"/><line x1="537.73" y1="53.30" x2="537.73" y2="64.40" stroke="#6a6a6a" stroke-width="0.7"/>
<path d="M509.2 53.3V49.5M510.2 53.3V47.2M512.2 53.3V51.7M515.2 53.3V49.5M515.7 53.3V48.9M516.2 53.3V51.7M520.2 53.3V46.5M520.7 53.3V49.0M522.2 53.3V47.8M531.2 53.3V47.4M531.7 53.3V50.5M534.7 53.3V47.8M537.7 53.3V49.9" stroke="#9a9a9a" stroke-width="0.4" fill="none"/>
<path d="M506.78 53.30L506.75 52.9H507.25L507.25 52.9H507.75L507.75 52.9H508.25L508.25 51.4H508.75L508.75 52.9H509.25L509.25 52.9H509.75L509.75 50.4H510.25L510.25 52.9H510.75L510.75 52.3H511.25L511.25 52.9H511.75L511.75 52.9H512.25L512.25 52.9H512.75L512.75 51.0H513.25L513.25 52.8H513.75L513.75 52.9H514.25L514.25 52.9H514.75L514.75 52.9H515.25L515.25 52.2H515.75L515.75 52.9H516.25L516.25 52.9H516.75L516.75 52.5H517.25L517.25 52.9H517.75L517.75 52.9H518.25L518.25 51.9H518.75L518.75 52.9H519.25L519.25 52.9H519.75L519.75 48.7H520.25L520.25 50.8H520.75L520.75 52.0H521.25L521.25 52.8H521.75L521.75 50.6H522.25L522.25 52.9H522.75L522.75 52.9H523.25L523.25 51.0H523.75L523.75 52.9H524.25L524.25 52.9H524.75L524.75 52.9H525.25L525.25 49.8H525.75L525.75 51.8H526.25L526.25 52.3H526.75L526.75 52.0H527.25L527.25 52.9H527.75L527.75 51.0H528.25L528.25 52.9H528.75L528.75 52.9H529.25L529.25 52.9H529.75L529.75 52.9H530.25L530.25 52.9H530.75L530.75 51.0H531.25L531.25 52.9H531.75L531.75 52.9H532.25L532.25 49.5H532.75L532.75 52.9H533.25L533.25 52.1H533.75L533.75 52.6H534.25L534.25 51.6H534.75L534.75 51.6H535.25L535.25 52.6H535.75L535.75 52.4H536.25L536.25 52.9H536.75L536.75 52.9H537.25L537.25 51.9H537.75L537.75 52.9H538.25L538.25 52.9H538.75L538.75 52.9H539.25L539.22 53.30ZM506.78 53.30L506.75 53.6H507.25L507.25 53.6H507.75L507.75 53.6H508.25L508.25 53.6H508.75L508.75 55.8H509.25L509.25 53.9H509.75L509.75 53.6H510.25L510.25 53.6H510.75L510.75 53.6H511.25L511.25 53.6H511.75L511.75 53.6H512.25L512.25 54.2H512.75L512.75 53.6H513.25L513.25 53.6H513.75L513.75 53.9H514.25L514.25 53.6H514.75L514.75 54.1H515.25L515.25 53.6H515.75L515.75 53.9H516.25L516.25 53.7H516.75L516.75 53.6H517.25L517.25 54.2H517.75L517.75 53.6H518.25L518.25 53.6H518.75L518.75 53.8H519.25L519.25 53.6H519.75L519.75 53.6H520.25L520.25 53.6H520.75L520.75 53.6H521.25L521.25 53.6H521.75L521.75 53.6H522.25L522.25 53.8H522.75L522.75 54.3H523.25L523.25 53.6H523.75L523.75 53.7H524.25L524.25 56.2H524.75L524.75 53.7H525.25L525.25 53.6H525.75L525.75 53.6H526.25L526.25 53.6H526.75L526.75 53.6H527.25L527.25 53.6H527.75L527.75 53.6H528.25L528.25 56.4H528.75L528.75 54.4H529.25L529.25 55.7H529.75L529.75 53.6H530.25L530.25 54.0H530.75L530.75 53.6H531.25L531.25 54.0H531.75L531.75 53.6H532.25L532.25 53.6H532.75L532.75 53.6H533.25L533.25 53.6H533.75L533.75 53.6H534.25L534.25 53.6H534.75L534.75 53.6H535.25L535.25 53.6H535.75L535.75 53.6H536.25L536.25 55.0H536.75L536.75 55.0H537.25L537.25 53.6H537.75L537.75 54.4H538.25L538.25 54.6H538.75L538.75 55.0H539.25L539.22 53.30Z" fill="#111"/>
<line x1="527.40" y1="42.50" x2="528.00" y2="47.60" stroke="#999" stroke-width="0.6"/>
<line x1="506.70" y1="67.50" x2="539.80" y2="67.50" stroke="#8a8a8a" stroke-width="0.95" />
<line x1="506.70" y1="64.40" x2="506.70" y2="67.50" stroke="#c8c8c8" stroke-width="0.6" />
<ellipse cx="531.90" cy="67.50" rx="1.15" ry="1.5" fill="#111"/>
<rect x="542.90" y="42.50" width="24.60" height="21.90" fill="none" stroke="#c4c4c4" stroke-width="0.6"/>
<line x1="542.90" y1="47.60" x2="567.50" y2="47.60" stroke="#e2e2e2" stroke-width="0.5" />
<line x1="542.90" y1="58.90" x2="567.50" y2="58.90" stroke="#e2e2e2" stroke-width="0.5" />
<line x1="544.31" y1="53.30" x2="544.31" y2="64.40" stroke="#a8a8a8" stroke-width="0.7"/><line x1="544.93" y1="53.30" x2="544.93" y2="64.40" stroke="#a8a8a8" stroke-width="0.5"/><line x1="551.83" y1="53.30" x2="551.83" y2="64.40" stroke="#a8a8a8" stroke-width="0.7"/><line x1="560.39" y1="53.30" x2="560.39" y2="64.40" stroke="#8a8a8a" stroke-width="0.5"/><line x1="563.20" y1="53.30" x2="563.20" y2="64.40" stroke="#bdbdbd" stroke-width="0.9"/><line x1="564.96" y1="53.30" x2="564.96" y2="64.40" stroke="#bdbdbd" stroke-width="0.7"/><line x1="565.81" y1="53.30" x2="565.81" y2="64.40" stroke="#6a6a6a" stroke-width="0.9"/><line x1="565.81" y1="53.30" x2="565.81" y2="64.40" stroke="#6a6a6a" stroke-width="0.7"/>
<path d="M547.4 53.3V49.3M554.4 53.3V50.1M555.4 53.3V51.4M559.4 53.3V49.7M560.4 53.3V47.4M560.9 53.3V49.6M561.4 53.3V51.2M561.9 53.3V51.3" stroke="#9a9a9a" stroke-width="0.4" fill="none"/>
<path d="M542.98 53.30L542.95 52.9H543.45L543.45 52.9H543.95L543.95 52.4H544.45L544.45 52.9H544.95L544.95 52.9H545.45L545.45 52.9H545.95L545.95 52.9H546.45L546.45 52.9H546.95L546.95 52.5H547.45L547.45 51.9H547.95L547.95 52.3H548.45L548.45 51.7H548.95L548.95 52.5H549.45L549.45 52.5H549.95L549.95 52.9H550.45L550.45 52.1H550.95L550.95 49.9H551.45L551.45 52.4H551.95L551.95 50.3H552.45L552.45 52.9H552.95L552.95 52.9H553.45L553.45 52.9H553.95L553.95 52.9H554.45L554.45 52.0H554.95L554.95 52.9H555.45L555.45 52.6H555.95L555.95 52.9H556.45L556.45 51.9H556.95L556.95 51.3H557.45L557.45 52.9H557.95L557.95 52.9H558.45L558.45 52.5H558.95L558.95 52.9H559.45L559.45 52.9H559.95L559.95 51.2H560.45L560.45 52.9H560.95L560.95 52.9H561.45L561.45 52.9H561.95L561.95 52.9H562.45L562.45 52.9H562.95L562.95 52.4H563.45L563.45 52.9H563.95L563.95 52.9H564.45L564.45 52.9H564.95L564.95 52.2H565.45L565.45 52.4H565.95L565.95 52.9H566.45L566.45 51.2H566.95L566.95 52.3H567.45L567.42 53.30ZM542.98 53.30L542.95 53.6H543.45L543.45 54.7H543.95L543.95 53.6H544.45L544.45 53.6H544.95L544.95 53.6H545.45L545.45 55.0H545.95L545.95 54.1H546.45L546.45 54.8H546.95L546.95 53.6H547.45L547.45 53.6H547.95L547.95 53.6H548.45L548.45 53.6H548.95L548.95 53.6H549.45L549.45 53.6H549.95L549.95 53.6H550.45L550.45 53.6H550.95L550.95 53.6H551.45L551.45 53.6H551.95L551.95 53.6H552.45L552.45 55.0H552.95L552.95 54.2H553.45L553.45 53.6H553.95L553.95 53.6H554.45L554.45 53.6H554.95L554.95 53.6H555.45L555.45 53.6H555.95L555.95 54.3H556.45L556.45 53.6H556.95L556.95 53.6H557.45L557.45 53.6H557.95L557.95 53.6H558.45L558.45 53.6H558.95L558.95 53.6H559.45L559.45 54.4H559.95L559.95 53.6H560.45L560.45 53.6H560.95L560.95 54.5H561.45L561.45 53.6H561.95L561.95 53.9H562.45L562.45 54.9H562.95L562.95 53.6H563.45L563.45 54.9H563.95L563.95 53.6H564.45L564.45 53.6H564.95L564.95 53.6H565.45L565.45 53.6H565.95L565.95 54.0H566.45L566.45 53.6H566.95L566.95 53.6H567.45L567.42 53.30Z" fill="#111"/>
<line x1="552.30" y1="42.50" x2="552.90" y2="47.60" stroke="#999" stroke-width="0.6"/>
<line x1="542.90" y1="67.50" x2="567.50" y2="67.50" stroke="#8a8a8a" stroke-width="0.95" />
<line x1="542.90" y1="64.40" x2="542.90" y2="67.50" stroke="#c8c8c8" stroke-width="0.6" />
<ellipse cx="558.10" cy="67.50" rx="1.15" ry="1.5" fill="#111"/>
<rect x="571.10" y="42.50" width="20.80" height="21.90" fill="none" stroke="#c4c4c4" stroke-width="0.6"/>
<line x1="571.10" y1="47.60" x2="591.90" y2="47.60" stroke="#e2e2e2" stroke-width="0.5" />
<line x1="571.10" y1="58.90" x2="591.90" y2="58.90" stroke="#e2e2e2" stroke-width="0.5" />
<line x1="574.24" y1="53.30" x2="574.24" y2="64.40" stroke="#6a6a6a" stroke-width="0.7"/><line x1="575.75" y1="53.30" x2="575.75" y2="64.40" stroke="#a8a8a8" stroke-width="0.7"/><line x1="580.19" y1="53.30" x2="580.19" y2="64.40" stroke="#6a6a6a" stroke-width="0.7"/><line x1="583.10" y1="53.30" x2="583.10" y2="64.40" stroke="#8a8a8a" stroke-width="0.5"/><line x1="586.83" y1="53.30" x2="586.83" y2="64.40" stroke="#6a6a6a" stroke-width="0.9"/><line x1="588.44" y1="53.30" x2="588.44" y2="64.40" stroke="#8a8a8a" stroke-width="0.5"/>
<path d="M573.6 53.3V50.4M574.6 53.3V52.0M575.6 53.3V50.4M579.6 53.3V51.1M580.6 53.3V50.6M585.1 53.3V48.5M587.1 53.3V49.1M588.6 53.3V52.3M590.6 53.3V51.6M591.1 53.3V46.1" stroke="#9a9a9a" stroke-width="0.4" fill="none"/>
<path d="M571.18 53.30L571.15 52.9H571.65L571.65 52.9H572.15L572.15 52.9H572.65L572.65 51.7H573.15L573.15 52.9H573.65L573.65 52.9H574.15L574.15 52.9H574.65L574.65 51.5H575.15L575.15 52.9H575.65L575.65 52.9H576.15L576.15 52.9H576.65L576.65 52.2H577.15L577.15 52.9H577.65L577.65 51.1H578.15L578.15 51.3H578.65L578.65 52.9H579.15L579.15 52.3H579.65L579.65 52.9H580.15L580.15 52.9H580.65L580.65 50.3H581.15L581.15 52.9H581.65L581.65 52.9H582.15L582.15 52.9H582.65L582.65 51.1H583.15L583.15 51.5H583.65L583.65 52.9H584.15L584.15 52.9H584.65L584.65 52.3H585.15L585.15 52.4H585.65L585.65 52.9H586.15L586.15 51.8H586.65L586.65 51.7H587.15L587.15 52.9H587.65L587.65 52.9H588.15L588.15 52.9H588.65L588.65 52.9H589.15L589.15 52.9H589.65L589.65 52.9H590.15L590.15 52.9H590.65L590.65 49.3H591.15L591.15 52.9H591.65L591.62 53.30ZM571.18 53.30L571.15 55.7H571.65L571.65 54.2H572.15L572.15 57.4H572.65L572.65 53.6H573.15L573.15 55.3H573.65L573.65 53.6H574.15L574.15 53.6H574.65L574.65 53.6H575.15L575.15 54.6H575.65L575.65 55.0H576.15L576.15 53.6H576.65L576.65 53.6H577.15L577.15 55.2H577.65L577.65 53.6H578.15L578.15 53.6H578.65L578.65 56.1H579.15L579.15 53.6H579.65L579.65 53.6H580.15L580.15 53.8H580.65L580.65 53.6H581.15L581.15 53.8H581.65L581.65 55.0H582.15L582.15 54.0H582.65L582.65 53.6H583.15L583.15 53.6H583.65L583.65 53.6H584.15L584.15 53.6H584.65L584.65 53.6H585.15L585.15 53.6H585.65L585.65 53.6H586.15L586.15 53.6H586.65L586.65 53.6H587.15L587.15 53.6H587.65L587.65 53.7H588.15L588.15 53.6H588.65L588.65 53.8H589.15L589.15 54.4H589.65L589.65 54.1H590.15L590.15 53.6H590.65L590.65 53.6H591.15L591.15 53.7H591.65L591.62 53.30Z" fill="#111"/>
<line x1="590.60" y1="42.50" x2="591.20" y2="47.60" stroke="#999" stroke-width="0.6"/>
<line x1="571.10" y1="67.50" x2="591.90" y2="67.50" stroke="#8a8a8a" stroke-width="0.95" />
<line x1="571.10" y1="64.40" x2="571.10" y2="67.50" stroke="#c8c8c8" stroke-width="0.6" />
<ellipse cx="589.10" cy="67.50" rx="1.15" ry="1.5" fill="#111"/>
<rect x="595.00" y="42.50" width="19.50" height="21.90" fill="none" stroke="#c4c4c4" stroke-width="0.6"/>
<line x1="595.00" y1="47.60" x2="614.50" y2="47.60" stroke="#e2e2e2" stroke-width="0.5" />
<line x1="595.00" y1="58.90" x2="614.50" y2="58.90" stroke="#e2e2e2" stroke-width="0.5" />
<line x1="599.98" y1="53.30" x2="599.98" y2="64.40" stroke="#bdbdbd" stroke-width="0.9"/><line x1="605.18" y1="53.30" x2="605.18" y2="64.40" stroke="#a8a8a8" stroke-width="0.5"/><line x1="608.14" y1="53.30" x2="608.14" y2="64.40" stroke="#8a8a8a" stroke-width="0.9"/><line x1="609.17" y1="53.30" x2="609.17" y2="64.40" stroke="#bdbdbd" stroke-width="0.5"/><line x1="610.19" y1="53.30" x2="610.19" y2="64.40" stroke="#8a8a8a" stroke-width="0.5"/><line x1="610.70" y1="53.30" x2="610.70" y2="64.40" stroke="#bdbdbd" stroke-width="0.5"/>
<path d="M599.0 53.3V51.4M601.5 53.3V52.3M602.0 53.3V50.3M604.0 53.3V49.3M606.5 53.3V48.9M608.0 53.3V52.0M608.5 53.3V49.0M610.0 53.3V49.8M611.0 53.3V50.2M613.5 53.3V48.8" stroke="#9a9a9a" stroke-width="0.4" fill="none"/>
<path d="M595.08 53.30L595.05 52.9H595.55L595.55 51.7H596.05L596.05 52.9H596.55L596.55 52.3H597.05L597.05 52.9H597.55L597.55 52.9H598.05L598.05 52.5H598.55L598.55 52.9H599.05L599.05 52.9H599.55L599.55 52.9H600.05L600.05 51.9H600.55L600.55 52.0H601.05L601.05 52.9H601.55L601.55 52.9H602.05L602.05 52.9H602.55L602.55 52.1H603.05L603.05 51.5H603.55L603.55 52.6H604.05L604.05 52.0H604.55L604.55 52.9H605.05L605.05 51.6H605.55L605.55 52.9H606.05L606.05 52.1H606.55L606.55 52.9H607.05L607.05 52.9H607.55L607.55 52.9H608.05L608.05 51.3H608.55L608.55 52.9H609.05L609.05 50.3H609.55L609.55 52.2H610.05L610.05 52.9H610.55L610.55 52.9H611.05L611.05 52.9H611.55L611.55 52.9H612.05L612.05 51.7H612.55L612.55 52.9H613.05L613.05 52.8H613.55L613.55 50.8H614.05L614.02 53.30ZM595.08 53.30L595.05 53.6H595.55L595.55 53.6H596.05L596.05 53.7H596.55L596.55 53.6H597.05L597.05 53.6H597.55L597.55 55.0H598.05L598.05 53.6H598.55L598.55 54.5H599.05L599.05 53.6H599.55L599.55 55.3H600.05L600.05 53.6H600.55L600.55 53.6H601.05L601.05 55.0H601.55L601.55 54.3H602.05L602.05 55.1H602.55L602.55 53.6H603.05L603.05 53.6H603.55L603.55 53.6H604.05L604.05 53.6H604.55L604.55 53.6H605.05L605.05 53.6H605.55L605.55 53.6H606.05L606.05 53.6H606.55L606.55 54.1H607.05L607.05 53.6H607.55L607.55 53.6H608.05L608.05 53.6H608.55L608.55 54.8H609.05L609.05 53.6H609.55L609.55 53.6H610.05L610.05 53.6H610.55L610.55 55.0H611.05L611.05 53.9H611.55L611.55 54.4H612.05L612.05 53.6H612.55L612.55 53.6H613.05L613.05 53.6H613.55L613.55 53.6H614.05L614.02 53.30Z" fill="#111"/>
<line x1="604.00" y1="42.50" x2="604.60" y2="47.60" stroke="#999" stroke-width="0.6"/>
<line x1="595.00" y1="67.50" x2="614.50" y2="67.50" stroke="#8a8a8a" stroke-width="0.95" />
<line x1="595.00" y1="64.40" x2="595.00" y2="67.50" stroke="#c8c8c8" stroke-width="0.6" />
<ellipse cx="600.10" cy="67.50" rx="1.15" ry="1.5" fill="#111"/>
<ellipse cx="607.30" cy="67.50" rx="1.15" ry="1.5" fill="#111"/>
<rect x="618.30" y="42.50" width="46.90" height="21.90" fill="none" stroke="#c4c4c4" stroke-width="0.6"/>
<line x1="618.30" y1="47.60" x2="665.20" y2="47.60" stroke="#e2e2e2" stroke-width="0.5" />
<line x1="618.30" y1="58.90" x2="665.20" y2="58.90" stroke="#e2e2e2" stroke-width="0.5" />
<line x1="622.57" y1="53.30" x2="622.57" y2="64.40" stroke="#8a8a8a" stroke-width="0.7"/><line x1="626.84" y1="53.30" x2="626.84" y2="64.40" stroke="#a8a8a8" stroke-width="0.5"/><line x1="627.33" y1="53.30" x2="627.33" y2="64.40" stroke="#a8a8a8" stroke-width="0.7"/><line x1="628.48" y1="53.30" x2="628.48" y2="64.40" stroke="#bdbdbd" stroke-width="0.5"/><line x1="629.73" y1="53.30" x2="629.73" y2="64.40" stroke="#a8a8a8" stroke-width="0.7"/><line x1="630.49" y1="53.30" x2="630.49" y2="64.40" stroke="#6a6a6a" stroke-width="0.5"/><line x1="630.47" y1="53.30" x2="630.47" y2="64.40" stroke="#bdbdbd" stroke-width="0.9"/><line x1="642.56" y1="53.30" x2="642.56" y2="64.40" stroke="#a8a8a8" stroke-width="0.5"/><line x1="644.22" y1="53.30" x2="644.22" y2="64.40" stroke="#bdbdbd" stroke-width="0.5"/><line x1="645.64" y1="53.30" x2="645.64" y2="64.40" stroke="#6a6a6a" stroke-width="0.9"/><line x1="654.60" y1="53.30" x2="654.60" y2="64.40" stroke="#8a8a8a" stroke-width="0.9"/><line x1="655.57" y1="53.30" x2="655.57" y2="64.40" stroke="#6a6a6a" stroke-width="0.9"/><line x1="657.46" y1="53.30" x2="657.46" y2="64.40" stroke="#bdbdbd" stroke-width="0.9"/><line x1="661.18" y1="53.30" x2="661.18" y2="64.40" stroke="#8a8a8a" stroke-width="0.9"/><line x1="661.86" y1="53.30" x2="661.86" y2="64.40" stroke="#bdbdbd" stroke-width="0.7"/>
<path d="M621.8 53.3V49.3M623.8 53.3V51.7M624.3 53.3V51.5M628.8 53.3V51.4M629.3 53.3V46.9M639.3 53.3V49.6M640.3 53.3V50.6M642.3 53.3V49.0M643.8 53.3V52.0M647.8 53.3V51.6M648.3 53.3V51.1M652.3 53.3V50.3M656.3 53.3V51.3" stroke="#9a9a9a" stroke-width="0.4" fill="none"/>
<path d="M618.38 53.30L618.35 52.9H618.85L618.85 52.9H619.35L619.35 50.1H619.85L619.85 49.6H620.35L620.35 52.9H620.85L620.85 52.9H621.35L621.35 52.9H621.85L621.85 52.9H622.35L622.35 52.9H622.85L622.85 52.9H623.35L623.35 52.9H623.85L623.85 52.6H624.35L624.35 51.1H624.85L624.85 52.9H625.35L625.35 52.9H625.85L625.85 52.9H626.35L626.35 52.9H626.85L626.85 52.9H627.35L627.35 52.9H627.85L627.85 52.9H628.35L628.35 52.9H628.85L628.85 48.1H629.35L629.35 50.1H629.85L629.85 48.3H630.35L630.35 52.9H630.85L630.85 52.9H631.35L631.35 52.9H631.85L631.85 52.9H632.35L632.35 51.6H632.85L632.85 52.9H633.35L633.35 52.2H633.85L633.85 52.9H634.35L634.35 52.9H634.85L634.85 52.9H635.35L635.35 51.1H635.85L635.85 52.9H636.35L636.35 52.5H636.85L636.85 52.2H637.35L637.35 51.9H637.85L637.85 50.7H638.35L638.35 51.8H638.85L638.85 52.9H639.35L639.35 52.4H639.85L639.85 52.4H640.35L640.35 52.9H640.85L640.85 51.9H641.35L641.35 52.9H641.85L641.85 52.7H642.35L642.35 51.7H642.85L642.85 52.9H643.35L643.35 52.9H643.85L643.85 52.8H644.35L644.35 52.9H644.85L644.85 52.9H645.35L645.35 52.5H645.85L645.85 52.9H646.35L646.35 52.9H646.85L646.85 52.9H647.35L647.35 52.9H647.85L647.85 52.5H648.35L648.35 52.9H648.85L648.85 52.9H649.35L649.35 52.7H649.85L649.85 52.8H650.35L650.35 52.9H650.85L650.85 52.9H651.35L651.35 52.4H651.85L651.85 52.9H652.35L652.35 52.9H652.85L652.85 52.9H653.35L653.35 52.9H653.85L653.85 52.9H654.35L654.35 52.9H654.85L654.85 52.9H655.35L655.35 52.9H655.85L655.85 52.9H656.35L656.35 52.9H656.85L656.85 52.9H657.35L657.35 52.9H657.85L657.85 52.9H658.35L658.35 52.9H658.85L658.85 52.4H659.35L659.35 52.9H659.85L659.85 52.9H660.35L660.35 52.9H660.85L660.85 52.9H661.35L661.35 52.4H661.85L661.85 52.9H662.35L662.35 52.9H662.85L662.85 52.9H663.35L663.35 52.3H663.85L663.85 52.9H664.35L664.35 52.9H664.85L664.82 53.30ZM618.38 53.30L618.35 53.6H618.85L618.85 53.6H619.35L619.35 53.6H619.85L619.85 53.6H620.35L620.35 53.6H620.85L620.85 53.6H621.35L621.35 58.6H621.85L621.85 54.4H622.35L622.35 56.5H622.85L622.85 53.6H623.35L623.35 54.5H623.85L623.85 53.6H624.35L624.35 53.6H624.85L624.85 53.6H625.35L625.35 54.9H625.85L625.85 55.0H626.35L626.35 53.6H626.85L626.85 53.6H627.35L627.35 55.5H627.85L627.85 55.3H628.35L628.35 53.6H628.85L628.85 53.6H629.35L629.35 53.6H629.85L629.85 53.6H630.35L630.35 54.3H630.85L630.85 54.2H631.35L631.35 55.0H631.85L631.85 54.0H632.35L632.35 53.6H632.85L632.85 55.9H633.35L633.35 53.6H633.85L633.85 53.9H634.35L634.35 53.6H634.85L634.85 53.6H635.35L635.35 53.6H635.85L635.85 53.6H636.35L636.35 53.6H636.85L636.85 53.6H637.35L637.35 53.6H637.85L637.85 53.6H638.35L638.35 53.6H638.85L638.85 55.3H639.35L639.35 53.6H639.85L639.85 53.6H640.35L640.35 56.3H640.85L640.85 53.6H641.35L641.35 57.5H641.85L641.85 53.6H642.35L642.35 53.6H642.85L642.85 53.6H643.35L643.35 54.0H643.85L643.85 53.6H644.35L644.35 53.9H644.85L644.85 56.7H645.35L645.35 53.6H645.85L645.85 54.2H646.35L646.35 54.9H646.85L646.85 55.5H647.35L647.35 54.9H647.85L647.85 53.6H648.35L648.35 55.1H648.85L648.85 57.2H649.35L649.35 53.6H649.85L649.85 53.6H650.35L650.35 56.5H650.85L650.85 55.4H651.35L651.35 53.6H651.85L651.85 56.3H652.35L652.35 56.3H652.85L652.85 56.7H653.35L653.35 54.6H653.85L653.85 54.7H654.35L654.35 55.0H654.85L654.85 56.1H655.35L655.35 58.9H655.85L655.85 54.5H656.35L656.35 54.2H656.85L656.85 53.9H657.35L657.35 54.5H657.85L657.85 54.1H658.35L658.35 53.6H658.85L658.85 53.6H659.35L659.35 53.6H659.85L659.85 55.1H660.35L660.35 54.3H660.85L660.85 54.9H661.35L661.35 53.6H661.85L661.85 53.6H662.35L662.35 54.3H662.85L662.85 53.6H663.35L663.35 53.6H663.85L663.85 54.7H664.35L664.35 53.6H664.85L664.82 53.30Z" fill="#111"/>
<line x1="656.00" y1="42.50" x2="656.60" y2="47.60" stroke="#999" stroke-width="0.6"/>
<line x1="618.30" y1="67.50" x2="665.20" y2="67.50" stroke="#8a8a8a" stroke-width="0.95" />
<line x1="618.30" y1="64.40" x2="618.30" y2="67.50" stroke="#c8c8c8" stroke-width="0.6" />
<ellipse cx="646.60" cy="67.50" rx="1.15" ry="1.5" fill="#111"/>
<ellipse cx="657.6" cy="67.50" rx="1.0" ry="1.4" fill="#3344cc"/>
<text x="331.6" y="86.70" font-size="9" fill="#231f20">2<tspan font-style="italic">n</tspan></text>
<line x1="342.60" y1="83.60" x2="345.00" y2="83.60" stroke="#111" stroke-width="0.8" />
<path d="M347.3,83.60 L343.8,81.80 L344.4,83.60 L343.8,85.40 Z" fill="#111"/>
<line x1="668.50" y1="77.90" x2="671.80" y2="77.90" stroke="#111" stroke-width="0.8" />
<path d="M666.4,77.90 L670.0,76.00 L669.4,77.90 L670.0,79.80 Z" fill="#111"/>
<text x="672.9" y="81.10" font-size="9.6" fill="#231f20">3<tspan font-style="italic">n</tspan></text>
<line x1="668.50" y1="89.20" x2="671.80" y2="89.20" stroke="#111" stroke-width="0.8" />
<path d="M666.4,89.20 L670.0,87.30 L669.4,89.20 L670.0,91.10 Z" fill="#111"/>
<text x="672.9" y="92.40" font-size="9.6" fill="#231f20">1<tspan font-style="italic">n</tspan></text>
<rect x="347.20" y="72.80" width="66.60" height="21.90" fill="none" stroke="#c4c4c4" stroke-width="0.6"/>
<line x1="347.20" y1="77.90" x2="413.80" y2="77.90" stroke="#e2e2e2" stroke-width="0.5" />
<line x1="347.20" y1="89.20" x2="413.80" y2="89.20" stroke="#e2e2e2" stroke-width="0.5" />
<line x1="352.45" y1="83.60" x2="352.45" y2="94.70" stroke="#a8a8a8" stroke-width="0.7"/><line x1="356.61" y1="83.60" x2="356.61" y2="94.70" stroke="#a8a8a8" stroke-width="0.9"/><line x1="357.44" y1="83.60" x2="357.44" y2="94.70" stroke="#a8a8a8" stroke-width="0.5"/><line x1="361.67" y1="83.60" x2="361.67" y2="94.70" stroke="#6a6a6a" stroke-width="0.9"/><line x1="362.44" y1="83.60" x2="362.44" y2="94.70" stroke="#a8a8a8" stroke-width="0.5"/><line x1="366.32" y1="83.60" x2="366.32" y2="94.70" stroke="#8a8a8a" stroke-width="0.7"/><line x1="370.74" y1="83.60" x2="370.74" y2="94.70" stroke="#6a6a6a" stroke-width="0.7"/><line x1="378.34" y1="83.60" x2="378.34" y2="94.70" stroke="#a8a8a8" stroke-width="0.7"/><line x1="379.47" y1="83.60" x2="379.47" y2="94.70" stroke="#a8a8a8" stroke-width="0.5"/><line x1="379.82" y1="83.60" x2="379.82" y2="94.70" stroke="#bdbdbd" stroke-width="0.7"/><line x1="382.94" y1="83.60" x2="382.94" y2="94.70" stroke="#6a6a6a" stroke-width="0.5"/><line x1="387.31" y1="83.60" x2="387.31" y2="94.70" stroke="#bdbdbd" stroke-width="0.5"/><line x1="392.24" y1="83.60" x2="392.24" y2="94.70" stroke="#8a8a8a" stroke-width="0.9"/><line x1="394.79" y1="83.60" x2="394.79" y2="94.70" stroke="#bdbdbd" stroke-width="0.9"/><line x1="397.44" y1="83.60" x2="397.44" y2="94.70" stroke="#8a8a8a" stroke-width="0.7"/><line x1="400.23" y1="83.60" x2="400.23" y2="94.70" stroke="#6a6a6a" stroke-width="0.9"/><line x1="407.10" y1="83.60" x2="407.10" y2="94.70" stroke="#bdbdbd" stroke-width="0.7"/>
<path d="M348.2 83.6V80.8M349.7 83.6V77.8M354.2 83.6V80.1M359.7 83.6V80.7M362.2 83.6V79.4M363.2 83.6V81.7M364.2 83.6V80.6M365.7 83.6V80.6M366.7 83.6V80.8M373.2 83.6V82.2M377.2 83.6V80.0M390.2 83.6V78.4M390.7 83.6V80.1M392.2 83.6V79.2M393.2 83.6V73.1M396.2 83.6V80.6M406.2 83.6V82.5M410.2 83.6V81.8" stroke="#9a9a9a" stroke-width="0.4" fill="none"/>
<path d="M347.28 83.60L347.25 83.2H347.75L347.75 83.2H348.25L348.25 83.2H348.75L348.75 83.2H349.25L349.25 80.5H349.75L349.75 83.2H350.25L350.25 83.2H350.75L350.75 79.8H351.25L351.25 83.2H351.75L351.75 83.2H352.25L352.25 83.2H352.75L352.75 82.7H353.25L353.25 81.7H353.75L353.75 83.2H354.25L354.25 81.8H354.75L354.75 83.2H355.25L355.25 83.2H355.75L355.75 82.6H356.25L356.25 83.1H356.75L356.75 83.2H357.25L357.25 82.8H357.75L357.75 82.7H358.25L358.25 83.2H358.75L358.75 83.2H359.25L359.25 83.2H359.75L359.75 83.2H360.25L360.25 83.1H360.75L360.75 83.2H361.25L361.25 83.2H361.75L361.75 82.5H362.25L362.25 79.8H362.75L362.75 83.2H363.25L363.25 83.2H363.75L363.75 82.3H364.25L364.25 83.2H364.75L364.75 83.2H365.25L365.25 83.2H365.75L365.75 83.2H366.25L366.25 83.2H366.75L366.75 83.2H367.25L367.25 82.8H367.75L367.75 82.3H368.25L368.25 83.2H368.75L368.75 83.2H369.25L369.25 83.2H369.75L369.75 82.6H370.25L370.25 82.3H370.75L370.75 83.2H371.25L371.25 80.8H371.75L371.75 83.1H372.25L372.25 82.6H372.75L372.75 83.2H373.25L373.25 81.4H373.75L373.75 83.2H374.25L374.25 79.8H374.75L374.75 80.9H375.25L375.25 83.2H375.75L375.75 82.6H376.25L376.25 82.1H376.75L376.75 83.2H377.25L377.25 83.2H377.75L377.75 83.2H378.25L378.25 80.0H378.75L378.75 81.8H379.25L379.25 83.2H379.75L379.75 83.1H380.25L380.25 83.2H380.75L380.75 80.8H381.25L381.25 83.2H381.75L381.75 83.2H382.25L382.25 83.2H382.75L382.75 81.0H383.25L383.25 80.4H383.75L383.75 83.2H384.25L384.25 82.0H384.75L384.75 81.4H385.25L385.25 79.8H385.75L385.75 83.2H386.25L386.25 83.2H386.75L386.75 83.2H387.25L387.25 83.2H387.75L387.75 83.2H388.25L388.25 83.2H388.75L388.75 80.6H389.25L389.25 82.4H389.75L389.75 82.0H390.25L390.25 82.7H390.75L390.75 81.6H391.25L391.25 80.1H391.75L391.75 81.7H392.25L392.25 82.9H392.75L392.75 76.1H393.25L393.25 82.5H393.75L393.75 83.2H394.25L394.25 83.2H394.75L394.75 83.2H395.25L395.25 81.9H395.75L395.75 83.2H396.25L396.25 83.2H396.75L396.75 80.5H397.25L397.25 83.2H397.75L397.75 81.8H398.25L398.25 83.2H398.75L398.75 83.2H399.25L399.25 77.1H399.75L399.75 83.2H400.25L400.25 81.4H400.75L400.75 83.2H401.25L401.25 80.6H401.75L401.75 83.2H402.25L402.25 83.2H402.75L402.75 82.8H403.25L403.25 82.8H403.75L403.75 83.2H404.25L404.25 83.2H404.75L404.75 83.2H405.25L405.25 83.2H405.75L405.75 83.2H406.25L406.25 83.2H406.75L406.75 83.2H407.25L407.25 83.0H407.75L407.75 83.0H408.25L408.25 83.2H408.75L408.75 83.2H409.25L409.25 83.2H409.75L409.75 83.2H410.25L410.25 83.2H410.75L410.75 81.0H411.25L411.25 83.2H411.75L411.75 83.2H412.25L412.25 83.2H412.75L412.75 83.2H413.25L413.22 83.60ZM347.28 83.60L347.25 85.9H347.75L347.75 83.9H348.25L348.25 84.7H348.75L348.75 84.4H349.25L349.25 83.9H349.75L349.75 83.9H350.25L350.25 84.6H350.75L350.75 83.9H351.25L351.25 84.6H351.75L351.75 83.9H352.25L352.25 86.0H352.75L352.75 83.9H353.25L353.25 83.9H353.75L353.75 84.0H354.25L354.25 83.9H354.75L354.75 83.9H355.25L355.25 83.9H355.75L355.75 83.9H356.25L356.25 83.9H356.75L356.75 84.2H357.25L357.25 83.9H357.75L357.75 83.9H358.25L358.25 83.9H358.75L358.75 84.3H359.25L359.25 83.9H359.75L359.75 84.5H360.25L360.25 83.9H360.75L360.75 84.9H361.25L361.25 85.1H361.75L361.75 83.9H362.25L362.25 83.9H362.75L362.75 85.7H363.25L363.25 85.5H363.75L363.75 83.9H364.25L364.25 84.9H364.75L364.75 83.9H365.25L365.25 84.5H365.75L365.75 83.9H366.25L366.25 83.9H366.75L366.75 83.9H367.25L367.25 83.9H367.75L367.75 83.9H368.25L368.25 83.9H368.75L368.75 83.9H369.25L369.25 85.7H369.75L369.75 83.9H370.25L370.25 83.9H370.75L370.75 85.8H371.25L371.25 83.9H371.75L371.75 83.9H372.25L372.25 83.9H372.75L372.75 83.9H373.25L373.25 83.9H373.75L373.75 83.9H374.25L374.25 83.9H374.75L374.75 83.9H375.25L375.25 84.7H375.75L375.75 83.9H376.25L376.25 83.9H376.75L376.75 84.7H377.25L377.25 83.9H377.75L377.75 84.9H378.25L378.25 83.9H378.75L378.75 83.9H379.25L379.25 83.9H379.75L379.75 83.9H380.25L380.25 83.9H380.75L380.75 83.9H381.25L381.25 85.8H381.75L381.75 84.3H382.25L382.25 84.1H382.75L382.75 83.9H383.25L383.25 83.9H383.75L383.75 83.9H384.25L384.25 83.9H384.75L384.75 83.9H385.25L385.25 83.9H385.75L385.75 84.0H386.25L386.25 84.7H386.75L386.75 83.9H387.25L387.25 84.0H387.75L387.75 84.0H388.25L388.25 83.9H388.75L388.75 83.9H389.25L389.25 83.9H389.75L389.75 83.9H390.25L390.25 83.9H390.75L390.75 83.9H391.25L391.25 83.9H391.75L391.75 83.9H392.25L392.25 83.9H392.75L392.75 83.9H393.25L393.25 83.9H393.75L393.75 85.4H394.25L394.25 84.6H394.75L394.75 83.9H395.25L395.25 83.9H395.75L395.75 84.6H396.25L396.25 83.9H396.75L396.75 83.9H397.25L397.25 83.9H397.75L397.75 83.9H398.25L398.25 85.3H398.75L398.75 84.5H399.25L399.25 83.9H399.75L399.75 85.2H400.25L400.25 83.9H400.75L400.75 83.9H401.25L401.25 83.9H401.75L401.75 83.9H402.25L402.25 83.9H402.75L402.75 83.9H403.25L403.25 83.9H403.75L403.75 85.1H404.25L404.25 85.2H404.75L404.75 84.2H405.25L405.25 84.2H405.75L405.75 83.9H406.25L406.25 84.2H406.75L406.75 83.9H407.25L407.25 83.9H407.75L407.75 83.9H408.25L408.25 83.9H408.75L408.75 83.9H409.25L409.25 84.8H409.75L409.75 83.9H410.25L410.25 83.9H410.75L410.75 83.9H411.25L411.25 84.3H411.75L411.75 83.9H412.25L412.25 83.9H412.75L412.75 83.9H413.25L413.22 83.60Z" fill="#111"/>
<line x1="380.30" y1="72.80" x2="380.90" y2="77.90" stroke="#999" stroke-width="0.6"/>
<line x1="347.20" y1="97.50" x2="413.80" y2="97.50" stroke="#8a8a8a" stroke-width="0.95" />
<line x1="347.20" y1="94.70" x2="347.20" y2="97.50" stroke="#c8c8c8" stroke-width="0.6" />
<ellipse cx="382.40" cy="97.50" rx="1.15" ry="1.5" fill="#111"/>
<rect x="417.10" y="72.80" width="46.50" height="21.90" fill="none" stroke="#c4c4c4" stroke-width="0.6"/>
<line x1="417.10" y1="77.90" x2="463.60" y2="77.90" stroke="#e2e2e2" stroke-width="0.5" />
<line x1="417.10" y1="89.20" x2="463.60" y2="89.20" stroke="#e2e2e2" stroke-width="0.5" />
<line x1="424.46" y1="83.60" x2="424.46" y2="94.70" stroke="#8a8a8a" stroke-width="0.5"/><line x1="425.62" y1="83.60" x2="425.62" y2="94.70" stroke="#bdbdbd" stroke-width="0.5"/><line x1="430.94" y1="83.60" x2="430.94" y2="94.70" stroke="#a8a8a8" stroke-width="0.9"/><line x1="435.03" y1="83.60" x2="435.03" y2="94.70" stroke="#a8a8a8" stroke-width="0.7"/><line x1="437.10" y1="83.60" x2="437.10" y2="94.70" stroke="#a8a8a8" stroke-width="0.5"/><line x1="440.70" y1="83.60" x2="440.70" y2="94.70" stroke="#bdbdbd" stroke-width="0.7"/><line x1="441.98" y1="83.60" x2="441.98" y2="94.70" stroke="#6a6a6a" stroke-width="0.9"/><line x1="443.36" y1="83.60" x2="443.36" y2="94.70" stroke="#6a6a6a" stroke-width="0.7"/><line x1="446.72" y1="83.60" x2="446.72" y2="94.70" stroke="#6a6a6a" stroke-width="0.7"/><line x1="450.16" y1="83.60" x2="450.16" y2="94.70" stroke="#a8a8a8" stroke-width="0.5"/><line x1="451.94" y1="83.60" x2="451.94" y2="94.70" stroke="#8a8a8a" stroke-width="0.5"/><line x1="457.21" y1="83.60" x2="457.21" y2="94.70" stroke="#8a8a8a" stroke-width="0.5"/>
<path d="M417.6 83.6V80.1M418.6 83.6V79.1M419.1 83.6V81.9M420.6 83.6V82.1M421.1 83.6V81.6M424.6 83.6V78.3M426.6 83.6V80.3M427.1 83.6V81.9M428.6 83.6V77.8M431.6 83.6V81.1M433.6 83.6V80.4M436.6 83.6V82.4M439.6 83.6V81.0M441.1 83.6V80.5M444.6 83.6V79.7M446.1 83.6V80.2M453.1 83.6V79.5M454.6 83.6V81.8M455.6 83.6V80.0M456.1 83.6V80.0M457.6 83.6V80.8M461.1 83.6V79.7" stroke="#9a9a9a" stroke-width="0.4" fill="none"/>
<path d="M417.18 83.60L417.15 82.6H417.65L417.65 83.2H418.15L418.15 82.1H418.65L418.65 83.2H419.15L419.15 83.2H419.65L419.65 83.2H420.15L420.15 83.2H420.65L420.65 82.8H421.15L421.15 83.2H421.65L421.65 82.5H422.15L422.15 83.2H422.65L422.65 83.2H423.15L423.15 82.5H423.65L423.65 83.2H424.15L424.15 81.8H424.65L424.65 83.2H425.15L425.15 83.2H425.65L425.65 83.2H426.15L426.15 83.2H426.65L426.65 83.2H427.15L427.15 83.2H427.65L427.65 81.2H428.15L428.15 81.0H428.65L428.65 83.2H429.15L429.15 83.2H429.65L429.65 83.2H430.15L430.15 83.2H430.65L430.65 80.4H431.15L431.15 83.0H431.65L431.65 83.2H432.15L432.15 81.9H432.65L432.65 80.9H433.15L433.15 83.0H433.65L433.65 83.2H434.15L434.15 83.2H434.65L434.65 82.6H435.15L435.15 83.2H435.65L435.65 83.2H436.15L436.15 83.2H436.65L436.65 83.2H437.15L437.15 83.2H437.65L437.65 83.2H438.15L438.15 81.4H438.65L438.65 79.7H439.15L439.15 82.4H439.65L439.65 83.0H440.15L440.15 83.2H440.65L440.65 83.2H441.15L441.15 83.2H441.65L441.65 82.0H442.15L442.15 83.2H442.65L442.65 83.2H443.15L443.15 83.2H443.65L443.65 83.2H444.15L444.15 83.2H444.65L444.65 78.7H445.15L445.15 83.2H445.65L445.65 83.2H446.15L446.15 80.8H446.65L446.65 82.4H447.15L447.15 82.0H447.65L447.65 83.2H448.15L448.15 83.2H448.65L448.65 83.2H449.15L449.15 82.0H449.65L449.65 83.2H450.15L450.15 82.1H450.65L450.65 83.2H451.15L451.15 83.2H451.65L451.65 83.2H452.15L452.15 83.2H452.65L452.65 83.1H453.15L453.15 83.2H453.65L453.65 83.2H454.15L454.15 83.2H454.65L454.65 83.2H455.15L455.15 83.2H455.65L455.65 83.0H456.15L456.15 83.2H456.65L456.65 83.2H457.15L457.15 83.2H457.65L457.65 81.8H458.15L458.15 81.4H458.65L458.65 83.2H459.15L459.15 82.9H459.65L459.65 83.2H460.15L460.15 80.9H460.65L460.65 83.2H461.15L461.15 83.2H461.65L461.65 82.9H462.15L462.15 79.3H462.65L462.65 83.2H463.15L463.12 83.60ZM417.18 83.60L417.15 83.9H417.65L417.65 84.6H418.15L418.15 83.9H418.65L418.65 85.1H419.15L419.15 83.9H419.65L419.65 83.9H420.15L420.15 83.9H420.65L420.65 83.9H421.15L421.15 85.2H421.65L421.65 83.9H422.15L422.15 83.9H422.65L422.65 84.4H423.15L423.15 83.9H423.65L423.65 85.0H424.15L424.15 83.9H424.65L424.65 83.9H425.15L425.15 83.9H425.65L425.65 84.6H426.15L426.15 84.0H426.65L426.65 84.3H427.15L427.15 86.6H427.65L427.65 83.9H428.15L428.15 83.9H428.65L428.65 85.9H429.15L429.15 84.3H429.65L429.65 83.9H430.15L430.15 83.9H430.65L430.65 83.9H431.15L431.15 83.9H431.65L431.65 83.9H432.15L432.15 83.9H432.65L432.65 83.9H433.15L433.15 83.9H433.65L433.65 84.9H434.15L434.15 86.1H434.65L434.65 83.9H435.15L435.15 84.1H435.65L435.65 83.9H436.15L436.15 84.6H436.65L436.65 83.9H437.15L437.15 84.2H437.65L437.65 84.1H438.15L438.15 83.9H438.65L438.65 83.9H439.15L439.15 83.9H439.65L439.65 83.9H440.15L440.15 83.9H440.65L440.65 84.2H441.15L441.15 83.9H441.65L441.65 83.9H442.15L442.15 83.9H442.65L442.65 83.9H443.15L443.15 84.2H443.65L443.65 85.8H444.15L444.15 84.7H444.65L444.65 83.9H445.15L445.15 85.0H445.65L445.65 83.9H446.15L446.15 83.9H446.65L446.65 83.9H447.15L447.15 83.9H447.65L447.65 83.9H448.15L448.15 85.7H448.65L448.65 83.9H449.15L449.15 83.9H449.65L449.65 83.9H450.15L450.15 83.9H450.65L450.65 83.9H451.15L451.15 86.6H451.65L451.65 83.9H452.15L452.15 84.1H452.65L452.65 83.9H453.15L453.15 87.6H453.65L453.65 85.8H454.15L454.15 84.4H454.65L454.65 83.9H455.15L455.15 83.9H455.65L455.65 83.9H456.15L456.15 84.3H456.65L456.65 85.6H457.15L457.15 86.9H457.65L457.65 83.9H458.15L458.15 83.9H458.65L458.65 83.9H459.15L459.15 83.9H459.65L459.65 83.9H460.15L460.15 83.9H460.65L460.65 83.9H461.15L461.15 84.0H461.65L461.65 83.9H462.15L462.15 83.9H462.65L462.65 85.4H463.15L463.12 83.60Z" fill="#111"/>
<line x1="460.80" y1="72.80" x2="461.40" y2="77.90" stroke="#999" stroke-width="0.6"/>
<line x1="417.10" y1="97.50" x2="463.60" y2="97.50" stroke="#8a8a8a" stroke-width="0.95" />
<line x1="417.10" y1="94.70" x2="417.10" y2="97.50" stroke="#c8c8c8" stroke-width="0.6" />
<ellipse cx="461.30" cy="97.50" rx="1.15" ry="1.5" fill="#111"/>
<rect x="466.40" y="72.80" width="37.30" height="21.90" fill="none" stroke="#c4c4c4" stroke-width="0.6"/>
<line x1="466.40" y1="77.90" x2="503.70" y2="77.90" stroke="#e2e2e2" stroke-width="0.5" />
<line x1="466.40" y1="89.20" x2="503.70" y2="89.20" stroke="#e2e2e2" stroke-width="0.5" />
<line x1="468.41" y1="83.60" x2="468.41" y2="94.70" stroke="#a8a8a8" stroke-width="0.5"/><line x1="472.17" y1="83.60" x2="472.17" y2="94.70" stroke="#a8a8a8" stroke-width="0.7"/><line x1="473.95" y1="83.60" x2="473.95" y2="94.70" stroke="#8a8a8a" stroke-width="0.9"/><line x1="473.85" y1="83.60" x2="473.85" y2="94.70" stroke="#bdbdbd" stroke-width="0.7"/><line x1="474.72" y1="83.60" x2="474.72" y2="94.70" stroke="#8a8a8a" stroke-width="0.9"/><line x1="478.16" y1="83.60" x2="478.16" y2="94.70" stroke="#a8a8a8" stroke-width="0.7"/><line x1="480.46" y1="83.60" x2="480.46" y2="94.70" stroke="#bdbdbd" stroke-width="0.5"/><line x1="482.50" y1="83.60" x2="482.50" y2="94.70" stroke="#a8a8a8" stroke-width="0.9"/><line x1="482.67" y1="83.60" x2="482.67" y2="94.70" stroke="#bdbdbd" stroke-width="0.5"/><line x1="487.37" y1="83.60" x2="487.37" y2="94.70" stroke="#bdbdbd" stroke-width="0.7"/><line x1="487.33" y1="83.60" x2="487.33" y2="94.70" stroke="#8a8a8a" stroke-width="0.7"/><line x1="495.85" y1="83.60" x2="495.85" y2="94.70" stroke="#6a6a6a" stroke-width="0.5"/>
<path d="M467.4 83.6V76.1M474.9 83.6V80.1M475.4 83.6V76.5M480.4 83.6V75.6M480.9 83.6V74.5M482.4 83.6V79.0M485.9 83.6V76.1M487.9 83.6V81.7M490.9 83.6V78.4M499.9 83.6V75.9M500.9 83.6V75.9M501.4 83.6V76.5M502.4 83.6V76.4" stroke="#9a9a9a" stroke-width="0.4" fill="none"/>
<path d="M466.48 83.60L466.45 73.7H466.95L466.95 78.9H467.45L467.45 78.1H467.95L467.95 83.2H468.45L468.45 83.2H468.95L468.95 76.3H469.45L469.45 76.3H469.95L469.95 77.5H470.45L470.45 80.1H470.95L470.95 79.9H471.45L471.45 78.1H471.95L471.95 83.2H472.45L472.45 78.1H472.95L472.95 78.8H473.45L473.45 83.2H473.95L473.95 83.2H474.45L474.45 83.2H474.95L474.95 77.7H475.45L475.45 78.3H475.95L475.95 74.5H476.45L476.45 77.3H476.95L476.95 77.5H477.45L477.45 78.4H477.95L477.95 83.2H478.45L478.45 79.0H478.95L478.95 78.2H479.45L479.45 78.2H479.95L479.95 78.9H480.45L480.45 75.6H480.95L480.95 78.3H481.45L481.45 78.3H481.95L481.95 81.0H482.45L482.45 77.6H482.95L482.95 77.8H483.45L483.45 79.4H483.95L483.95 79.2H484.45L484.45 78.4H484.95L484.95 79.0H485.45L485.45 79.1H485.95L485.95 79.1H486.45L486.45 75.6H486.95L486.95 83.2H487.45L487.45 83.2H487.95L487.95 76.0H488.45L488.45 78.6H488.95L488.95 80.2H489.45L489.45 73.8H489.95L489.95 77.9H490.45L490.45 80.3H490.95L490.95 80.1H491.45L491.45 78.4H491.95L491.95 73.9H492.45L492.45 77.7H492.95L492.95 78.0H493.45L493.45 80.6H493.95L493.95 77.8H494.45L494.45 76.1H494.95L494.95 78.2H495.45L495.45 83.2H495.95L495.95 79.7H496.45L496.45 77.1H496.95L496.95 80.1H497.45L497.45 78.9H497.95L497.95 79.0H498.45L498.45 78.6H498.95L498.95 78.5H499.45L499.45 78.1H499.95L499.95 77.7H500.45L500.45 78.5H500.95L500.95 78.8H501.45L501.45 73.5H501.95L501.95 78.0H502.45L502.45 78.6H502.95L502.95 79.3H503.45L503.42 83.60ZM466.48 83.60L466.45 83.9H466.95L466.95 83.9H467.45L467.45 83.9H467.95L467.95 84.4H468.45L468.45 85.9H468.95L468.95 83.9H469.45L469.45 83.9H469.95L469.95 83.9H470.45L470.45 83.9H470.95L470.95 83.9H471.45L471.45 83.9H471.95L471.95 86.4H472.45L472.45 83.9H472.95L472.95 83.9H473.45L473.45 84.3H473.95L473.95 84.2H474.45L474.45 86.1H474.95L474.95 83.9H475.45L475.45 83.9H475.95L475.95 83.9H476.45L476.45 83.9H476.95L476.95 83.9H477.45L477.45 83.9H477.95L477.95 86.0H478.45L478.45 83.9H478.95L478.95 83.9H479.45L479.45 83.9H479.95L479.95 83.9H480.45L480.45 83.9H480.95L480.95 83.9H481.45L481.45 83.9H481.95L481.95 83.9H482.45L482.45 83.9H482.95L482.95 83.9H483.45L483.45 83.9H483.95L483.95 83.9H484.45L484.45 83.9H484.95L484.95 83.9H485.45L485.45 83.9H485.95L485.95 83.9H486.45L486.45 83.9H486.95L486.95 86.4H487.45L487.45 86.6H487.95L487.95 83.9H488.45L488.45 83.9H488.95L488.95 83.9H489.45L489.45 83.9H489.95L489.95 83.9H490.45L490.45 83.9H490.95L490.95 83.9H491.45L491.45 83.9H491.95L491.95 83.9H492.45L492.45 83.9H492.95L492.95 83.9H493.45L493.45 83.9H493.95L493.95 83.9H494.45L494.45 83.9H494.95L494.95 83.9H495.45L495.45 85.1H495.95L495.95 83.9H496.45L496.45 83.9H496.95L496.95 83.9H497.45L497.45 83.9H497.95L497.95 83.9H498.45L498.45 83.9H498.95L498.95 83.9H499.45L499.45 83.9H499.95L499.95 83.9H500.45L500.45 83.9H500.95L500.95 83.9H501.45L501.45 83.9H501.95L501.95 83.9H502.45L502.45 83.9H502.95L502.95 83.9H503.45L503.42 83.60Z" fill="#111"/>
<line x1="483.80" y1="72.80" x2="484.40" y2="77.90" stroke="#999" stroke-width="0.6"/>
<line x1="466.40" y1="97.50" x2="503.70" y2="97.50" stroke="#8a8a8a" stroke-width="0.95" />
<line x1="466.40" y1="94.70" x2="466.40" y2="97.50" stroke="#c8c8c8" stroke-width="0.6" />
<rect x="506.70" y="72.80" width="33.10" height="21.90" fill="none" stroke="#c4c4c4" stroke-width="0.6"/>
<line x1="506.70" y1="77.90" x2="539.80" y2="77.90" stroke="#e2e2e2" stroke-width="0.5" />
<line x1="506.70" y1="89.20" x2="539.80" y2="89.20" stroke="#e2e2e2" stroke-width="0.5" />
<line x1="510.84" y1="83.60" x2="510.84" y2="94.70" stroke="#6a6a6a" stroke-width="0.7"/><line x1="512.54" y1="83.60" x2="512.54" y2="94.70" stroke="#8a8a8a" stroke-width="0.9"/><line x1="513.86" y1="83.60" x2="513.86" y2="94.70" stroke="#bdbdbd" stroke-width="0.9"/><line x1="518.34" y1="83.60" x2="518.34" y2="94.70" stroke="#a8a8a8" stroke-width="0.9"/><line x1="519.19" y1="83.60" x2="519.19" y2="94.70" stroke="#bdbdbd" stroke-width="0.5"/><line x1="520.43" y1="83.60" x2="520.43" y2="94.70" stroke="#bdbdbd" stroke-width="0.9"/><line x1="523.59" y1="83.60" x2="523.59" y2="94.70" stroke="#bdbdbd" stroke-width="0.5"/><line x1="524.62" y1="83.60" x2="524.62" y2="94.70" stroke="#a8a8a8" stroke-width="0.9"/><line x1="529.51" y1="83.60" x2="529.51" y2="94.70" stroke="#a8a8a8" stroke-width="0.7"/><line x1="537.01" y1="83.60" x2="537.01" y2="94.70" stroke="#8a8a8a" stroke-width="0.9"/><line x1="537.54" y1="83.60" x2="537.54" y2="94.70" stroke="#8a8a8a" stroke-width="0.5"/>
<path d="M507.2 83.6V76.5M512.7 83.6V80.8M513.2 83.6V81.8M521.7 83.6V80.4M522.7 83.6V81.0M530.7 83.6V79.7M531.7 83.6V80.5M538.7 83.6V80.0" stroke="#9a9a9a" stroke-width="0.4" fill="none"/>
<path d="M506.78 83.60L506.75 77.7H507.25L507.25 77.8H507.75L507.75 83.2H508.25L508.25 82.2H508.75L508.75 82.0H509.25L509.25 83.2H509.75L509.75 83.2H510.25L510.25 83.2H510.75L510.75 82.5H511.25L511.25 82.8H511.75L511.75 83.2H512.25L512.25 83.2H512.75L512.75 83.2H513.25L513.25 83.2H513.75L513.75 83.2H514.25L514.25 81.5H514.75L514.75 83.2H515.25L515.25 83.0H515.75L515.75 83.2H516.25L516.25 78.0H516.75L516.75 78.1H517.25L517.25 82.9H517.75L517.75 82.4H518.25L518.25 83.2H518.75L518.75 83.2H519.25L519.25 83.0H519.75L519.75 83.2H520.25L520.25 82.5H520.75L520.75 83.2H521.25L521.25 83.0H521.75L521.75 82.6H522.25L522.25 82.6H522.75L522.75 80.6H523.25L523.25 83.2H523.75L523.75 82.7H524.25L524.25 83.2H524.75L524.75 82.1H525.25L525.25 83.2H525.75L525.75 83.2H526.25L526.25 83.2H526.75L526.75 83.2H527.25L527.25 82.2H527.75L527.75 83.2H528.25L528.25 83.2H528.75L528.75 83.2H529.25L529.25 83.2H529.75L529.75 83.2H530.25L530.25 83.2H530.75L530.75 83.2H531.25L531.25 83.2H531.75L531.75 82.5H532.25L532.25 83.2H532.75L532.75 83.2H533.25L533.25 83.2H533.75L533.75 83.1H534.25L534.25 83.2H534.75L534.75 83.2H535.25L535.25 83.0H535.75L535.75 83.2H536.25L536.25 83.2H536.75L536.75 83.2H537.25L537.25 83.2H537.75L537.75 80.0H538.25L538.25 83.2H538.75L538.75 83.2H539.25L539.22 83.60ZM506.78 83.60L506.75 83.9H507.25L507.25 83.9H507.75L507.75 83.9H508.25L508.25 83.9H508.75L508.75 83.9H509.25L509.25 85.0H509.75L509.75 84.6H510.25L510.25 83.9H510.75L510.75 83.9H511.25L511.25 83.9H511.75L511.75 83.9H512.25L512.25 85.3H512.75L512.75 83.9H513.25L513.25 85.2H513.75L513.75 84.8H514.25L514.25 83.9H514.75L514.75 85.1H515.25L515.25 83.9H515.75L515.75 85.4H516.25L516.25 83.9H516.75L516.75 83.9H517.25L517.25 83.9H517.75L517.75 83.9H518.25L518.25 83.9H518.75L518.75 83.9H519.25L519.25 83.9H519.75L519.75 86.4H520.25L520.25 83.9H520.75L520.75 84.3H521.25L521.25 83.9H521.75L521.75 83.9H522.25L522.25 83.9H522.75L522.75 83.9H523.25L523.25 83.9H523.75L523.75 83.9H524.25L524.25 84.3H524.75L524.75 83.9H525.25L525.25 84.7H525.75L525.75 85.9H526.25L526.25 86.0H526.75L526.75 84.1H527.25L527.25 83.9H527.75L527.75 85.0H528.25L528.25 85.8H528.75L528.75 83.9H529.25L529.25 85.9H529.75L529.75 86.0H530.25L530.25 85.6H530.75L530.75 84.3H531.25L531.25 83.9H531.75L531.75 83.9H532.25L532.25 83.9H532.75L532.75 83.9H533.25L533.25 83.9H533.75L533.75 83.9H534.25L534.25 84.6H534.75L534.75 83.9H535.25L535.25 83.9H535.75L535.75 86.1H536.25L536.25 84.1H536.75L536.75 84.1H537.25L537.25 84.6H537.75L537.75 83.9H538.25L538.25 84.0H538.75L538.75 84.8H539.25L539.22 83.60Z" fill="#111"/>
<line x1="527.40" y1="72.80" x2="528.00" y2="77.90" stroke="#999" stroke-width="0.6"/>
<line x1="506.70" y1="97.50" x2="539.80" y2="97.50" stroke="#8a8a8a" stroke-width="0.95" />
<line x1="506.70" y1="94.70" x2="506.70" y2="97.50" stroke="#c8c8c8" stroke-width="0.6" />
<ellipse cx="531.90" cy="97.50" rx="1.15" ry="1.5" fill="#111"/>
<rect x="542.90" y="72.80" width="24.60" height="21.90" fill="none" stroke="#c4c4c4" stroke-width="0.6"/>
<line x1="542.90" y1="77.90" x2="567.50" y2="77.90" stroke="#e2e2e2" stroke-width="0.5" />
<line x1="542.90" y1="89.20" x2="567.50" y2="89.20" stroke="#e2e2e2" stroke-width="0.5" />
<line x1="544.08" y1="83.60" x2="544.08" y2="94.70" stroke="#bdbdbd" stroke-width="0.7"/><line x1="544.77" y1="83.60" x2="544.77" y2="94.70" stroke="#bdbdbd" stroke-width="0.9"/><line x1="551.60" y1="83.60" x2="551.60" y2="94.70" stroke="#8a8a8a" stroke-width="0.5"/><line x1="560.34" y1="83.60" x2="560.34" y2="94.70" stroke="#bdbdbd" stroke-width="0.9"/><line x1="563.69" y1="83.60" x2="563.69" y2="94.70" stroke="#bdbdbd" stroke-width="0.5"/><line x1="565.09" y1="83.60" x2="565.09" y2="94.70" stroke="#8a8a8a" stroke-width="0.9"/><line x1="565.64" y1="83.60" x2="565.64" y2="94.70" stroke="#a8a8a8" stroke-width="0.9"/><line x1="565.52" y1="83.60" x2="565.52" y2="94.70" stroke="#6a6a6a" stroke-width="0.5"/>
<path d="M544.4 83.6V81.4M544.9 83.6V75.6M547.4 83.6V76.4M548.4 83.6V74.6M551.9 83.6V78.0M552.4 83.6V74.2M556.4 83.6V75.6M558.4 83.6V73.9M560.9 83.6V73.1M563.4 83.6V75.0M564.9 83.6V73.1M565.4 83.6V82.2M567.4 83.6V75.5" stroke="#9a9a9a" stroke-width="0.4" fill="none"/>
<path d="M542.98 83.60L542.95 76.8H543.45L543.45 74.2H543.95L543.95 83.2H544.45L544.45 78.4H544.95L544.95 76.5H545.45L545.45 75.0H545.95L545.95 75.8H546.45L546.45 80.6H546.95L546.95 77.5H547.45L547.45 78.8H547.95L547.95 77.7H548.45L548.45 77.9H548.95L548.95 78.6H549.45L549.45 79.6H549.95L549.95 79.7H550.45L550.45 78.4H550.95L550.95 73.5H551.45L551.45 80.2H551.95L551.95 76.5H552.45L552.45 76.9H552.95L552.95 75.6H553.45L553.45 76.9H553.95L553.95 76.9H554.45L554.45 79.5H554.95L554.95 77.5H555.45L555.45 79.2H555.95L555.95 78.7H556.45L556.45 77.2H556.95L556.95 77.9H557.45L557.45 76.6H557.95L557.95 76.1H558.45L558.45 76.1H558.95L558.95 78.4H559.45L559.45 78.9H559.95L559.95 78.4H560.45L560.45 74.3H560.95L560.95 77.1H561.45L561.45 73.1H561.95L561.95 76.0H562.45L562.45 77.9H562.95L562.95 76.5H563.45L563.45 77.8H563.95L563.95 77.8H564.45L564.45 73.7H564.95L564.95 83.2H565.45L565.45 83.2H565.95L565.95 77.3H566.45L566.45 76.7H566.95L566.95 78.1H567.45L567.42 83.60ZM542.98 83.60L542.95 83.9H543.45L543.45 83.9H543.95L543.95 85.7H544.45L544.45 83.9H544.95L544.95 83.9H545.45L545.45 83.9H545.95L545.95 83.9H546.45L546.45 83.9H546.95L546.95 83.9H547.45L547.45 83.9H547.95L547.95 83.9H548.45L548.45 83.9H548.95L548.95 83.9H549.45L549.45 83.9H549.95L549.95 83.9H550.45L550.45 83.9H550.95L550.95 83.9H551.45L551.45 83.9H551.95L551.95 83.9H552.45L552.45 83.9H552.95L552.95 83.9H553.45L553.45 83.9H553.95L553.95 83.9H554.45L554.45 83.9H554.95L554.95 83.9H555.45L555.45 83.9H555.95L555.95 83.9H556.45L556.45 83.9H556.95L556.95 83.9H557.45L557.45 83.9H557.95L557.95 83.9H558.45L558.45 83.9H558.95L558.95 83.9H559.45L559.45 83.9H559.95L559.95 83.9H560.45L560.45 83.9H560.95L560.95 83.9H561.45L561.45 83.9H561.95L561.95 83.9H562.45L562.45 83.9H562.95L562.95 83.9H563.45L563.45 83.9H563.95L563.95 83.9H564.45L564.45 83.9H564.95L564.95 86.5H565.45L565.45 84.3H565.95L565.95 83.9H566.45L566.45 83.9H566.95L566.95 83.9H567.45L567.42 83.60Z" fill="#111"/>
<line x1="552.30" y1="72.80" x2="552.90" y2="77.90" stroke="#999" stroke-width="0.6"/>
<line x1="542.90" y1="97.50" x2="567.50" y2="97.50" stroke="#8a8a8a" stroke-width="0.95" />
<line x1="542.90" y1="94.70" x2="542.90" y2="97.50" stroke="#c8c8c8" stroke-width="0.6" />
<ellipse cx="558.10" cy="97.50" rx="1.15" ry="1.5" fill="#111"/>
<rect x="571.10" y="72.80" width="20.80" height="21.90" fill="none" stroke="#c4c4c4" stroke-width="0.6"/>
<line x1="571.10" y1="77.90" x2="591.90" y2="77.90" stroke="#e2e2e2" stroke-width="0.5" />
<line x1="571.10" y1="89.20" x2="591.90" y2="89.20" stroke="#e2e2e2" stroke-width="0.5" />
<line x1="573.99" y1="83.60" x2="573.99" y2="94.70" stroke="#bdbdbd" stroke-width="0.9"/><line x1="575.52" y1="83.60" x2="575.52" y2="94.70" stroke="#a8a8a8" stroke-width="0.5"/><line x1="580.17" y1="83.60" x2="580.17" y2="94.70" stroke="#a8a8a8" stroke-width="0.5"/><line x1="582.87" y1="83.60" x2="582.87" y2="94.70" stroke="#a8a8a8" stroke-width="0.5"/><line x1="586.85" y1="83.60" x2="586.85" y2="94.70" stroke="#6a6a6a" stroke-width="0.7"/><line x1="588.70" y1="83.60" x2="588.70" y2="94.70" stroke="#6a6a6a" stroke-width="0.9"/>
<path d="M573.1 83.6V75.3M575.1 83.6V75.7M577.6 83.6V76.2M579.1 83.6V77.5M580.1 83.6V80.5M583.1 83.6V81.2M583.6 83.6V81.0M585.6 83.6V81.7M590.6 83.6V80.4M591.1 83.6V78.9" stroke="#9a9a9a" stroke-width="0.4" fill="none"/>
<path d="M571.18 83.60L571.15 81.0H571.65L571.65 76.3H572.15L572.15 80.1H572.65L572.65 77.8H573.15L573.15 81.6H573.65L573.65 81.2H574.15L574.15 79.5H574.65L574.65 79.5H575.15L575.15 82.0H575.65L575.65 77.7H576.15L576.15 81.2H576.65L576.65 78.2H577.15L577.15 79.9H577.65L577.65 77.6H578.15L578.15 81.3H578.65L578.65 80.4H579.15L579.15 83.2H579.65L579.65 83.2H580.15L580.15 83.2H580.65L580.65 81.1H581.15L581.15 83.2H581.65L581.65 83.2H582.15L582.15 81.6H582.65L582.65 82.3H583.15L583.15 83.2H583.65L583.65 83.2H584.15L584.15 82.7H584.65L584.65 83.2H585.15L585.15 83.2H585.65L585.65 83.2H586.15L586.15 82.2H586.65L586.65 82.7H587.15L587.15 81.8H587.65L587.65 82.7H588.15L588.15 82.7H588.65L588.65 83.2H589.15L589.15 83.2H589.65L589.65 81.9H590.15L590.15 83.2H590.65L590.65 80.5H591.15L591.15 81.9H591.65L591.62 83.60ZM571.18 83.60L571.15 83.9H571.65L571.65 83.9H572.15L572.15 83.9H572.65L572.65 83.9H573.15L573.15 83.9H573.65L573.65 83.9H574.15L574.15 83.9H574.65L574.65 83.9H575.15L575.15 83.9H575.65L575.65 83.9H576.15L576.15 83.9H576.65L576.65 83.9H577.15L577.15 83.9H577.65L577.65 83.9H578.15L578.15 83.9H578.65L578.65 83.9H579.15L579.15 83.9H579.65L579.65 85.0H580.15L580.15 86.4H580.65L580.65 83.9H581.15L581.15 83.9H581.65L581.65 83.9H582.15L582.15 83.9H582.65L582.65 83.9H583.15L583.15 84.3H583.65L583.65 84.0H584.15L584.15 83.9H584.65L584.65 84.8H585.15L585.15 83.9H585.65L585.65 83.9H586.15L586.15 83.9H586.65L586.65 83.9H587.15L587.15 83.9H587.65L587.65 83.9H588.15L588.15 83.9H588.65L588.65 84.1H589.15L589.15 84.1H589.65L589.65 83.9H590.15L590.15 84.2H590.65L590.65 83.9H591.15L591.15 83.9H591.65L591.62 83.60Z" fill="#111"/>
<line x1="590.60" y1="72.80" x2="591.20" y2="77.90" stroke="#999" stroke-width="0.6"/>
<line x1="571.10" y1="97.50" x2="591.90" y2="97.50" stroke="#8a8a8a" stroke-width="0.95" />
<line x1="571.10" y1="94.70" x2="571.10" y2="97.50" stroke="#c8c8c8" stroke-width="0.6" />
<ellipse cx="589.10" cy="97.50" rx="1.15" ry="1.5" fill="#111"/>
<rect x="595.00" y="72.80" width="19.50" height="21.90" fill="none" stroke="#c4c4c4" stroke-width="0.6"/>
<line x1="595.00" y1="77.90" x2="614.50" y2="77.90" stroke="#e2e2e2" stroke-width="0.5" />
<line x1="595.00" y1="89.20" x2="614.50" y2="89.20" stroke="#e2e2e2" stroke-width="0.5" />
<line x1="600.28" y1="83.60" x2="600.28" y2="94.70" stroke="#6a6a6a" stroke-width="0.5"/><line x1="605.16" y1="83.60" x2="605.16" y2="94.70" stroke="#8a8a8a" stroke-width="0.9"/><line x1="608.41" y1="83.60" x2="608.41" y2="94.70" stroke="#bdbdbd" stroke-width="0.5"/><line x1="608.63" y1="83.60" x2="608.63" y2="94.70" stroke="#a8a8a8" stroke-width="0.5"/><line x1="610.12" y1="83.60" x2="610.12" y2="94.70" stroke="#bdbdbd" stroke-width="0.7"/><line x1="610.63" y1="83.60" x2="610.63" y2="94.70" stroke="#bdbdbd" stroke-width="0.9"/>
<path d="M596.5 83.6V80.0M597.0 83.6V80.9M601.5 83.6V81.0M605.5 83.6V78.0M609.5 83.6V79.8M613.0 83.6V78.9" stroke="#9a9a9a" stroke-width="0.4" fill="none"/>
<path d="M595.08 83.60L595.05 83.2H595.55L595.55 82.7H596.05L596.05 83.1H596.55L596.55 83.0H597.05L597.05 83.2H597.55L597.55 83.2H598.05L598.05 82.6H598.55L598.55 81.0H599.05L599.05 83.0H599.55L599.55 83.2H600.05L600.05 83.2H600.55L600.55 83.2H601.05L601.05 83.1H601.55L601.55 83.2H602.05L602.05 81.1H602.55L602.55 81.2H603.05L603.05 83.2H603.55L603.55 81.9H604.05L604.05 82.9H604.55L604.55 83.2H605.05L605.05 81.7H605.55L605.55 80.1H606.05L606.05 83.2H606.55L606.55 83.2H607.05L607.05 83.1H607.55L607.55 83.1H608.05L608.05 83.2H608.55L608.55 81.4H609.05L609.05 83.2H609.55L609.55 83.2H610.05L610.05 83.2H610.55L610.55 82.0H611.05L611.05 83.2H611.55L611.55 83.2H612.05L612.05 83.2H612.55L612.55 82.7H613.05L613.05 82.8H613.55L613.55 83.2H614.05L614.02 83.60ZM595.08 83.60L595.05 84.7H595.55L595.55 83.9H596.05L596.05 83.9H596.55L596.55 83.9H597.05L597.05 84.0H597.55L597.55 83.9H598.05L598.05 83.9H598.55L598.55 83.9H599.05L599.05 83.9H599.55L599.55 83.9H600.05L600.05 85.1H600.55L600.55 85.0H601.05L601.05 83.9H601.55L601.55 85.5H602.05L602.05 83.9H602.55L602.55 83.9H603.05L603.05 84.5H603.55L603.55 83.9H604.05L604.05 83.9H604.55L604.55 84.2H605.05L605.05 83.9H605.55L605.55 83.9H606.05L606.05 85.0H606.55L606.55 84.2H607.05L607.05 83.9H607.55L607.55 83.9H608.05L608.05 86.3H608.55L608.55 83.9H609.05L609.05 88.8H609.55L609.55 83.9H610.05L610.05 84.1H610.55L610.55 83.9H611.05L611.05 83.9H611.55L611.55 85.7H612.05L612.05 84.5H612.55L612.55 83.9H613.05L613.05 83.9H613.55L613.55 84.4H614.05L614.02 83.60Z" fill="#111"/>
<line x1="604.00" y1="72.80" x2="604.60" y2="77.90" stroke="#999" stroke-width="0.6"/>
<line x1="595.00" y1="97.50" x2="614.50" y2="97.50" stroke="#8a8a8a" stroke-width="0.95" />
<line x1="595.00" y1="94.70" x2="595.00" y2="97.50" stroke="#c8c8c8" stroke-width="0.6" />
<ellipse cx="600.10" cy="97.50" rx="1.15" ry="1.5" fill="#111"/>
<ellipse cx="607.30" cy="97.50" rx="1.15" ry="1.5" fill="#111"/>
<rect x="618.30" y="72.80" width="46.90" height="21.90" fill="none" stroke="#c4c4c4" stroke-width="0.6"/>
<line x1="618.30" y1="77.90" x2="665.20" y2="77.90" stroke="#e2e2e2" stroke-width="0.5" />
<line x1="618.30" y1="89.20" x2="665.20" y2="89.20" stroke="#e2e2e2" stroke-width="0.5" />
<line x1="622.53" y1="83.60" x2="622.53" y2="94.70" stroke="#a8a8a8" stroke-width="0.7"/><line x1="626.98" y1="83.60" x2="626.98" y2="94.70" stroke="#bdbdbd" stroke-width="0.9"/><line x1="627.35" y1="83.60" x2="627.35" y2="94.70" stroke="#6a6a6a" stroke-width="0.7"/><line x1="628.51" y1="83.60" x2="628.51" y2="94.70" stroke="#bdbdbd" stroke-width="0.5"/><line x1="629.75" y1="83.60" x2="629.75" y2="94.70" stroke="#a8a8a8" stroke-width="0.9"/><line x1="630.31" y1="83.60" x2="630.31" y2="94.70" stroke="#bdbdbd" stroke-width="0.9"/><line x1="630.56" y1="83.60" x2="630.56" y2="94.70" stroke="#bdbdbd" stroke-width="0.5"/><line x1="642.48" y1="83.60" x2="642.48" y2="94.70" stroke="#a8a8a8" stroke-width="0.7"/><line x1="643.81" y1="83.60" x2="643.81" y2="94.70" stroke="#8a8a8a" stroke-width="0.7"/><line x1="645.27" y1="83.60" x2="645.27" y2="94.70" stroke="#bdbdbd" stroke-width="0.7"/><line x1="654.59" y1="83.60" x2="654.59" y2="94.70" stroke="#8a8a8a" stroke-width="0.7"/><line x1="655.64" y1="83.60" x2="655.64" y2="94.70" stroke="#bdbdbd" stroke-width="0.5"/><line x1="657.57" y1="83.60" x2="657.57" y2="94.70" stroke="#8a8a8a" stroke-width="0.9"/><line x1="661.08" y1="83.60" x2="661.08" y2="94.70" stroke="#8a8a8a" stroke-width="0.5"/><line x1="662.34" y1="83.60" x2="662.34" y2="94.70" stroke="#bdbdbd" stroke-width="0.7"/>
<path d="M626.3 83.6V77.4M630.3 83.6V80.6M637.3 83.6V79.8M640.3 83.6V80.7M640.8 83.6V80.6M642.3 83.6V80.3M647.8 83.6V80.7M648.8 83.6V79.6M651.3 83.6V81.1M654.3 83.6V80.2M656.3 83.6V81.5M659.8 83.6V79.8M660.3 83.6V81.9" stroke="#9a9a9a" stroke-width="0.4" fill="none"/>
<path d="M618.38 83.60L618.35 83.2H618.85L618.85 83.2H619.35L619.35 83.2H619.85L619.85 81.9H620.35L620.35 81.0H620.85L620.85 83.2H621.35L621.35 83.2H621.85L621.85 82.0H622.35L622.35 83.2H622.85L622.85 83.2H623.35L623.35 83.2H623.85L623.85 80.2H624.35L624.35 81.7H624.85L624.85 82.4H625.35L625.35 81.8H625.85L625.85 80.4H626.35L626.35 78.6H626.85L626.85 83.2H627.35L627.35 82.7H627.85L627.85 83.2H628.35L628.35 82.6H628.85L628.85 83.2H629.35L629.35 81.5H629.85L629.85 83.2H630.35L630.35 82.7H630.85L630.85 83.2H631.35L631.35 81.4H631.85L631.85 83.2H632.35L632.35 82.5H632.85L632.85 83.2H633.35L633.35 83.2H633.85L633.85 83.2H634.35L634.35 82.2H634.85L634.85 83.2H635.35L635.35 79.1H635.85L635.85 82.9H636.35L636.35 83.1H636.85L636.85 83.2H637.35L637.35 81.9H637.85L637.85 81.4H638.35L638.35 83.2H638.85L638.85 83.2H639.35L639.35 83.2H639.85L639.85 82.6H640.35L640.35 83.2H640.85L640.85 83.2H641.35L641.35 83.2H641.85L641.85 83.2H642.35L642.35 83.2H642.85L642.85 82.8H643.35L643.35 82.5H643.85L643.85 82.4H644.35L644.35 83.2H644.85L644.85 82.0H645.35L645.35 83.2H645.85L645.85 83.2H646.35L646.35 83.2H646.85L646.85 83.2H647.35L647.35 82.6H647.85L647.85 82.7H648.35L648.35 82.3H648.85L648.85 82.4H649.35L649.35 83.2H649.85L649.85 83.2H650.35L650.35 79.9H650.85L650.85 82.5H651.35L651.35 80.9H651.85L651.85 83.2H652.35L652.35 78.1H652.85L652.85 81.3H653.35L653.35 83.2H653.85L653.85 83.2H654.35L654.35 80.2H654.85L654.85 80.5H655.35L655.35 83.0H655.85L655.85 83.2H656.35L656.35 82.9H656.85L656.85 81.6H657.35L657.35 83.2H657.85L657.85 83.2H658.35L658.35 83.2H658.85L658.85 83.2H659.35L659.35 83.2H659.85L659.85 83.2H660.35L660.35 83.2H660.85L660.85 83.2H661.35L661.35 82.8H661.85L661.85 83.2H662.35L662.35 83.2H662.85L662.85 75.5H663.35L663.35 83.2H663.85L663.85 83.2H664.35L664.35 83.2H664.85L664.82 83.60ZM618.38 83.60L618.35 87.1H618.85L618.85 84.0H619.35L619.35 83.9H619.85L619.85 83.9H620.35L620.35 83.9H620.85L620.85 84.1H621.35L621.35 85.2H621.85L621.85 83.9H622.35L622.35 83.9H622.85L622.85 85.5H623.35L623.35 83.9H623.85L623.85 83.9H624.35L624.35 83.9H624.85L624.85 83.9H625.35L625.35 83.9H625.85L625.85 83.9H626.35L626.35 83.9H626.85L626.85 83.9H627.35L627.35 83.9H627.85L627.85 83.9H628.35L628.35 83.9H628.85L628.85 87.0H629.35L629.35 83.9H629.85L629.85 83.9H630.35L630.35 83.9H630.85L630.85 84.4H631.35L631.35 83.9H631.85L631.85 87.9H632.35L632.35 83.9H632.85L632.85 83.9H633.35L633.35 83.9H633.85L633.85 85.5H634.35L634.35 83.9H634.85L634.85 84.4H635.35L635.35 83.9H635.85L635.85 83.9H636.35L636.35 83.9H636.85L636.85 83.9H637.35L637.35 83.9H637.85L637.85 83.9H638.35L638.35 86.1H638.85L638.85 83.9H639.35L639.35 84.8H639.85L639.85 83.9H640.35L640.35 83.9H640.85L640.85 87.0H641.35L641.35 83.9H641.85L641.85 84.1H642.35L642.35 84.0H642.85L642.85 83.9H643.35L643.35 83.9H643.85L643.85 83.9H644.35L644.35 84.9H644.85L644.85 83.9H645.35L645.35 84.6H645.85L645.85 84.9H646.35L646.35 83.9H646.85L646.85 84.5H647.35L647.35 83.9H647.85L647.85 83.9H648.35L648.35 83.9H648.85L648.85 83.9H649.35L649.35 84.7H649.85L649.85 84.0H650.35L650.35 83.9H650.85L650.85 83.9H651.35L651.35 83.9H651.85L651.85 83.9H652.35L652.35 83.9H652.85L652.85 83.9H653.35L653.35 86.0H653.85L653.85 84.4H654.35L654.35 83.9H654.85L654.85 83.9H655.35L655.35 83.9H655.85L655.85 85.3H656.35L656.35 83.9H656.85L656.85 83.9H657.35L657.35 83.9H657.85L657.85 85.0H658.35L658.35 84.2H658.85L658.85 85.8H659.35L659.35 83.9H659.85L659.85 84.2H660.35L660.35 85.0H660.85L660.85 84.3H661.35L661.35 83.9H661.85L661.85 84.4H662.35L662.35 85.5H662.85L662.85 83.9H663.35L663.35 86.2H663.85L663.85 83.9H664.35L664.35 85.8H664.85L664.82 83.60Z" fill="#111"/>
<line x1="656.00" y1="72.80" x2="656.60" y2="77.90" stroke="#999" stroke-width="0.6"/>
<line x1="618.30" y1="97.50" x2="665.20" y2="97.50" stroke="#8a8a8a" stroke-width="0.95" />
<line x1="618.30" y1="94.70" x2="618.30" y2="97.50" stroke="#c8c8c8" stroke-width="0.6" />
<ellipse cx="646.60" cy="97.50" rx="1.15" ry="1.5" fill="#111"/>
<ellipse cx="657.6" cy="97.50" rx="1.0" ry="1.4" fill="#3344cc"/>
<text x="331.6" y="117.00" font-size="9" fill="#231f20">2<tspan font-style="italic">n</tspan></text>
<line x1="342.60" y1="113.90" x2="345.00" y2="113.90" stroke="#111" stroke-width="0.8" />
<path d="M347.3,113.90 L343.8,112.10 L344.4,113.90 L343.8,115.70 Z" fill="#111"/>
<line x1="668.50" y1="108.20" x2="671.80" y2="108.20" stroke="#111" stroke-width="0.8" />
<path d="M666.4,108.20 L670.0,106.30 L669.4,108.20 L670.0,110.10 Z" fill="#111"/>
<text x="672.9" y="111.40" font-size="9.6" fill="#231f20">3<tspan font-style="italic">n</tspan></text>
<line x1="668.50" y1="119.50" x2="671.80" y2="119.50" stroke="#111" stroke-width="0.8" />
<path d="M666.4,119.50 L670.0,117.60 L669.4,119.50 L670.0,121.40 Z" fill="#111"/>
<text x="672.9" y="122.70" font-size="9.6" fill="#231f20">1<tspan font-style="italic">n</tspan></text>
<rect x="347.20" y="103.10" width="66.60" height="21.90" fill="none" stroke="#c4c4c4" stroke-width="0.6"/>
<line x1="347.20" y1="108.20" x2="413.80" y2="108.20" stroke="#e2e2e2" stroke-width="0.5" />
<line x1="347.20" y1="119.50" x2="413.80" y2="119.50" stroke="#e2e2e2" stroke-width="0.5" />
<line x1="352.52" y1="113.90" x2="352.52" y2="125.00" stroke="#bdbdbd" stroke-width="0.5"/><line x1="356.23" y1="113.90" x2="356.23" y2="125.00" stroke="#a8a8a8" stroke-width="0.7"/><line x1="357.68" y1="113.90" x2="357.68" y2="125.00" stroke="#8a8a8a" stroke-width="0.5"/><line x1="361.82" y1="113.90" x2="361.82" y2="125.00" stroke="#6a6a6a" stroke-width="0.7"/><line x1="362.83" y1="113.90" x2="362.83" y2="125.00" stroke="#bdbdbd" stroke-width="0.9"/><line x1="365.83" y1="113.90" x2="365.83" y2="125.00" stroke="#8a8a8a" stroke-width="0.9"/><line x1="370.35" y1="113.90" x2="370.35" y2="125.00" stroke="#bdbdbd" stroke-width="0.7"/><line x1="378.70" y1="113.90" x2="378.70" y2="125.00" stroke="#a8a8a8" stroke-width="0.9"/><line x1="379.41" y1="113.90" x2="379.41" y2="125.00" stroke="#bdbdbd" stroke-width="0.7"/><line x1="380.32" y1="113.90" x2="380.32" y2="125.00" stroke="#a8a8a8" stroke-width="0.5"/><line x1="382.74" y1="113.90" x2="382.74" y2="125.00" stroke="#6a6a6a" stroke-width="0.5"/><line x1="386.82" y1="113.90" x2="386.82" y2="125.00" stroke="#8a8a8a" stroke-width="0.7"/><line x1="392.20" y1="113.90" x2="392.20" y2="125.00" stroke="#a8a8a8" stroke-width="0.5"/><line x1="394.72" y1="113.90" x2="394.72" y2="125.00" stroke="#8a8a8a" stroke-width="0.5"/><line x1="397.55" y1="113.90" x2="397.55" y2="125.00" stroke="#6a6a6a" stroke-width="0.5"/><line x1="400.18" y1="113.90" x2="400.18" y2="125.00" stroke="#bdbdbd" stroke-width="0.9"/><line x1="407.54" y1="113.90" x2="407.54" y2="125.00" stroke="#8a8a8a" stroke-width="0.7"/>
<path d="M348.7 113.9V109.1M351.7 113.9V111.6M353.2 113.9V109.7M354.2 113.9V109.5M360.2 113.9V112.3M361.2 113.9V111.0M362.2 113.9V112.7M364.2 113.9V111.4M364.7 113.9V106.9M367.7 113.9V111.7M368.7 113.9V110.1M375.2 113.9V111.7M377.2 113.9V111.1M377.7 113.9V108.8M381.7 113.9V111.1M383.7 113.9V108.9M394.7 113.9V111.3M395.7 113.9V108.2M398.7 113.9V110.3M401.2 113.9V112.8M402.2 113.9V109.3M404.7 113.9V111.6M405.7 113.9V107.4M410.2 113.9V110.4M410.7 113.9V112.9" stroke="#9a9a9a" stroke-width="0.4" fill="none"/>
<path d="M347.28 113.90L347.25 111.1H347.75L347.75 113.6H348.25L348.25 111.8H348.75L348.75 111.8H349.25L349.25 113.6H349.75L349.75 113.2H350.25L350.25 113.6H350.75L350.75 112.3H351.25L351.25 112.8H351.75L351.75 113.6H352.25L352.25 113.6H352.75L352.75 112.7H353.25L353.25 113.6H353.75L353.75 112.4H354.25L354.25 113.1H354.75L354.75 113.2H355.25L355.25 113.6H355.75L355.75 113.6H356.25L356.25 110.7H356.75L356.75 113.6H357.25L357.25 112.8H357.75L357.75 113.1H358.25L358.25 113.6H358.75L358.75 113.5H359.25L359.25 112.9H359.75L359.75 113.6H360.25L360.25 113.6H360.75L360.75 113.4H361.25L361.25 113.6H361.75L361.75 113.6H362.25L362.25 112.2H362.75L362.75 113.2H363.25L363.25 113.6H363.75L363.75 113.6H364.25L364.25 110.0H364.75L364.75 113.6H365.25L365.25 110.8H365.75L365.75 111.5H366.25L366.25 113.6H366.75L366.75 113.6H367.25L367.25 113.6H367.75L367.75 113.6H368.25L368.25 113.6H368.75L368.75 113.6H369.25L369.25 113.6H369.75L369.75 110.3H370.25L370.25 113.6H370.75L370.75 113.6H371.25L371.25 113.6H371.75L371.75 113.6H372.25L372.25 113.6H372.75L372.75 113.6H373.25L373.25 113.6H373.75L373.75 113.6H374.25L374.25 113.6H374.75L374.75 113.6H375.25L375.25 113.5H375.75L375.75 113.6H376.25L376.25 112.5H376.75L376.75 113.6H377.25L377.25 112.2H377.75L377.75 113.4H378.25L378.25 113.6H378.75L378.75 113.2H379.25L379.25 113.6H379.75L379.75 113.2H380.25L380.25 113.6H380.75L380.75 113.6H381.25L381.25 113.6H381.75L381.75 113.6H382.25L382.25 113.6H382.75L382.75 113.1H383.25L383.25 112.1H383.75L383.75 113.6H384.25L384.25 113.6H384.75L384.75 113.6H385.25L385.25 113.6H385.75L385.75 113.6H386.25L386.25 113.6H386.75L386.75 113.6H387.25L387.25 113.6H387.75L387.75 113.6H388.25L388.25 113.6H388.75L388.75 112.6H389.25L389.25 111.5H389.75L389.75 113.6H390.25L390.25 113.6H390.75L390.75 113.6H391.25L391.25 113.6H391.75L391.75 113.6H392.25L392.25 113.6H392.75L392.75 110.8H393.25L393.25 113.6H393.75L393.75 113.6H394.25L394.25 113.4H394.75L394.75 113.6H395.25L395.25 111.7H395.75L395.75 111.6H396.25L396.25 112.4H396.75L396.75 112.0H397.25L397.25 113.6H397.75L397.75 112.9H398.25L398.25 113.6H398.75L398.75 113.2H399.25L399.25 113.6H399.75L399.75 113.6H400.25L400.25 113.3H400.75L400.75 113.6H401.25L401.25 113.6H401.75L401.75 112.2H402.25L402.25 113.6H402.75L402.75 113.6H403.25L403.25 113.6H403.75L403.75 113.6H404.25L404.25 112.8H404.75L404.75 113.6H405.25L405.25 108.8H405.75L405.75 113.6H406.25L406.25 113.6H406.75L406.75 110.2H407.25L407.25 113.6H407.75L407.75 113.6H408.25L408.25 112.2H408.75L408.75 113.6H409.25L409.25 109.1H409.75L409.75 112.9H410.25L410.25 113.6H410.75L410.75 113.6H411.25L411.25 113.6H411.75L411.75 113.2H412.25L412.25 113.6H412.75L412.75 113.6H413.25L413.22 113.90ZM347.28 113.90L347.25 114.2H347.75L347.75 115.8H348.25L348.25 114.2H348.75L348.75 114.2H349.25L349.25 116.1H349.75L349.75 114.2H350.25L350.25 116.8H350.75L350.75 114.2H351.25L351.25 114.2H351.75L351.75 115.8H352.25L352.25 115.7H352.75L352.75 114.2H353.25L353.25 114.2H353.75L353.75 114.2H354.25L354.25 114.2H354.75L354.75 114.2H355.25L355.25 114.2H355.75L355.75 114.2H356.25L356.25 114.2H356.75L356.75 114.2H357.25L357.25 114.2H357.75L357.75 114.2H358.25L358.25 114.5H358.75L358.75 114.2H359.25L359.25 114.2H359.75L359.75 117.1H360.25L360.25 114.8H360.75L360.75 114.2H361.25L361.25 114.2H361.75L361.75 115.0H362.25L362.25 114.2H362.75L362.75 114.2H363.25L363.25 115.6H363.75L363.75 114.2H364.25L364.25 114.2H364.75L364.75 115.7H365.25L365.25 114.2H365.75L365.75 114.2H366.25L366.25 115.7H366.75L366.75 114.2H367.25L367.25 114.2H367.75L367.75 114.4H368.25L368.25 114.3H368.75L368.75 115.3H369.25L369.25 114.6H369.75L369.75 114.2H370.25L370.25 115.4H370.75L370.75 114.2H371.25L371.25 114.7H371.75L371.75 117.0H372.25L372.25 116.0H372.75L372.75 114.4H373.25L373.25 114.2H373.75L373.75 114.7H374.25L374.25 114.9H374.75L374.75 114.2H375.25L375.25 114.2H375.75L375.75 115.1H376.25L376.25 114.2H376.75L376.75 114.8H377.25L377.25 114.2H377.75L377.75 114.2H378.25L378.25 115.2H378.75L378.75 114.2H379.25L379.25 115.2H379.75L379.75 114.2H380.25L380.25 114.2H380.75L380.75 114.2H381.25L381.25 115.3H381.75L381.75 115.1H382.25L382.25 118.4H382.75L382.75 114.2H383.25L383.25 114.2H383.75L383.75 115.1H384.25L384.25 115.3H384.75L384.75 114.7H385.25L385.25 114.2H385.75L385.75 114.2H386.25L386.25 114.2H386.75L386.75 120.9H387.25L387.25 114.2H387.75L387.75 115.3H388.25L388.25 118.0H388.75L388.75 114.2H389.25L389.25 114.2H389.75L389.75 114.4H390.25L390.25 114.2H390.75L390.75 115.4H391.25L391.25 114.2H391.75L391.75 114.2H392.25L392.25 119.0H392.75L392.75 114.2H393.25L393.25 114.4H393.75L393.75 115.3H394.25L394.25 114.2H394.75L394.75 114.4H395.25L395.25 114.2H395.75L395.75 114.2H396.25L396.25 114.2H396.75L396.75 114.2H397.25L397.25 115.2H397.75L397.75 114.2H398.25L398.25 114.2H398.75L398.75 114.2H399.25L399.25 114.4H399.75L399.75 116.2H400.25L400.25 114.2H400.75L400.75 114.9H401.25L401.25 115.9H401.75L401.75 114.2H402.25L402.25 114.3H402.75L402.75 114.4H403.25L403.25 115.4H403.75L403.75 114.3H404.25L404.25 114.2H404.75L404.75 115.7H405.25L405.25 114.2H405.75L405.75 116.3H406.25L406.25 115.5H406.75L406.75 114.2H407.25L407.25 114.2H407.75L407.75 118.1H408.25L408.25 114.2H408.75L408.75 114.3H409.25L409.25 114.2H409.75L409.75 114.2H410.25L410.25 115.9H410.75L410.75 114.2H411.25L411.25 114.8H411.75L411.75 114.2H412.25L412.25 114.2H412.75L412.75 116.0H413.25L413.22 113.90Z" fill="#111"/>
<line x1="380.30" y1="103.10" x2="380.90" y2="108.20" stroke="#999" stroke-width="0.6"/>
<line x1="347.20" y1="128.50" x2="413.80" y2="128.50" stroke="#8a8a8a" stroke-width="0.95" />
<line x1="347.20" y1="125.00" x2="347.20" y2="128.50" stroke="#c8c8c8" stroke-width="0.6" />
<ellipse cx="382.40" cy="128.50" rx="1.15" ry="1.5" fill="#111"/>
<rect x="417.10" y="103.10" width="46.50" height="21.90" fill="none" stroke="#c4c4c4" stroke-width="0.6"/>
<line x1="417.10" y1="108.20" x2="463.60" y2="108.20" stroke="#e2e2e2" stroke-width="0.5" />
<line x1="417.10" y1="119.50" x2="463.60" y2="119.50" stroke="#e2e2e2" stroke-width="0.5" />
<line x1="424.43" y1="113.90" x2="424.43" y2="125.00" stroke="#6a6a6a" stroke-width="0.7"/><line x1="426.15" y1="113.90" x2="426.15" y2="125.00" stroke="#bdbdbd" stroke-width="0.5"/><line x1="431.00" y1="113.90" x2="431.00" y2="125.00" stroke="#bdbdbd" stroke-width="0.7"/><line x1="435.05" y1="113.90" x2="435.05" y2="125.00" stroke="#a8a8a8" stroke-width="0.5"/><line x1="437.23" y1="113.90" x2="437.23" y2="125.00" stroke="#6a6a6a" stroke-width="0.7"/><line x1="440.46" y1="113.90" x2="440.46" y2="125.00" stroke="#a8a8a8" stroke-width="0.9"/><line x1="442.36" y1="113.90" x2="442.36" y2="125.00" stroke="#8a8a8a" stroke-width="0.5"/><line x1="443.36" y1="113.90" x2="443.36" y2="125.00" stroke="#8a8a8a" stroke-width="0.9"/><line x1="446.50" y1="113.90" x2="446.50" y2="125.00" stroke="#8a8a8a" stroke-width="0.9"/><line x1="450.26" y1="113.90" x2="450.26" y2="125.00" stroke="#6a6a6a" stroke-width="0.9"/><line x1="451.99" y1="113.90" x2="451.99" y2="125.00" stroke="#6a6a6a" stroke-width="0.9"/><line x1="456.94" y1="113.90" x2="456.94" y2="125.00" stroke="#bdbdbd" stroke-width="0.5"/>
<path d="M418.6 113.9V110.7M419.6 113.9V111.8M420.6 113.9V108.5M421.6 113.9V112.6M422.1 113.9V109.6M432.6 113.9V111.6M435.1 113.9V112.6M437.1 113.9V109.9M444.6 113.9V110.2M447.6 113.9V110.5M448.6 113.9V112.2M450.6 113.9V111.2M451.1 113.9V110.5M456.1 113.9V111.8M457.6 113.9V108.6M459.6 113.9V110.8" stroke="#9a9a9a" stroke-width="0.4" fill="none"/>
<path d="M417.18 113.90L417.15 113.4H417.65L417.65 110.7H418.15L418.15 113.6H418.65L418.65 113.6H419.15L419.15 113.6H419.65L419.65 113.6H420.15L420.15 110.2H420.65L420.65 112.7H421.15L421.15 113.6H421.65L421.65 113.3H422.15L422.15 113.6H422.65L422.65 113.6H423.15L423.15 113.6H423.65L423.65 113.6H424.15L424.15 113.6H424.65L424.65 113.6H425.15L425.15 113.6H425.65L425.65 113.0H426.15L426.15 112.4H426.65L426.65 113.6H427.15L427.15 109.6H427.65L427.65 112.0H428.15L428.15 113.6H428.65L428.65 113.1H429.15L429.15 113.6H429.65L429.65 113.6H430.15L430.15 113.6H430.65L430.65 112.1H431.15L431.15 109.4H431.65L431.65 113.6H432.15L432.15 113.6H432.65L432.65 113.6H433.15L433.15 113.6H433.65L433.65 113.6H434.15L434.15 113.6H434.65L434.65 113.6H435.15L435.15 113.0H435.65L435.65 113.6H436.15L436.15 113.6H436.65L436.65 113.6H437.15L437.15 113.6H437.65L437.65 112.9H438.15L438.15 113.6H438.65L438.65 112.6H439.15L439.15 113.6H439.65L439.65 113.6H440.15L440.15 113.2H440.65L440.65 113.6H441.15L441.15 113.6H441.65L441.65 113.6H442.15L442.15 110.8H442.65L442.65 113.4H443.15L443.15 112.1H443.65L443.65 112.5H444.15L444.15 113.6H444.65L444.65 112.4H445.15L445.15 113.6H445.65L445.65 113.6H446.15L446.15 113.6H446.65L446.65 113.6H447.15L447.15 113.6H447.65L447.65 113.2H448.15L448.15 113.6H448.65L448.65 113.6H449.15L449.15 112.8H449.65L449.65 113.6H450.15L450.15 113.6H450.65L450.65 113.3H451.15L451.15 113.4H451.65L451.65 113.6H452.15L452.15 113.6H452.65L452.65 113.6H453.15L453.15 113.6H453.65L453.65 113.6H454.15L454.15 113.0H454.65L454.65 113.0H455.15L455.15 113.6H455.65L455.65 113.6H456.15L456.15 111.1H456.65L456.65 113.6H457.15L457.15 111.5H457.65L457.65 113.6H458.15L458.15 113.6H458.65L458.65 113.6H459.15L459.15 113.6H459.65L459.65 110.1H460.15L460.15 113.6H460.65L460.65 113.6H461.15L461.15 110.7H461.65L461.65 113.6H462.15L462.15 113.1H462.65L462.65 113.6H463.15L463.12 113.90ZM417.18 113.90L417.15 114.2H417.65L417.65 114.2H418.15L418.15 115.2H418.65L418.65 114.2H419.15L419.15 115.0H419.65L419.65 114.3H420.15L420.15 114.2H420.65L420.65 114.2H421.15L421.15 114.8H421.65L421.65 114.2H422.15L422.15 115.5H422.65L422.65 114.2H423.15L423.15 115.0H423.65L423.65 115.1H424.15L424.15 114.4H424.65L424.65 114.4H425.15L425.15 114.2H425.65L425.65 114.2H426.15L426.15 114.2H426.65L426.65 114.5H427.15L427.15 114.2H427.65L427.65 114.2H428.15L428.15 114.2H428.65L428.65 114.2H429.15L429.15 115.8H429.65L429.65 116.9H430.15L430.15 115.9H430.65L430.65 114.2H431.15L431.15 114.2H431.65L431.65 114.2H432.15L432.15 114.3H432.65L432.65 115.4H433.15L433.15 116.0H433.65L433.65 116.1H434.15L434.15 114.2H434.65L434.65 115.6H435.15L435.15 114.2H435.65L435.65 115.3H436.15L436.15 115.6H436.65L436.65 116.3H437.15L437.15 114.2H437.65L437.65 114.2H438.15L438.15 116.3H438.65L438.65 114.2H439.15L439.15 114.2H439.65L439.65 116.4H440.15L440.15 114.2H440.65L440.65 115.6H441.15L441.15 114.5H441.65L441.65 114.8H442.15L442.15 114.2H442.65L442.65 114.2H443.15L443.15 114.2H443.65L443.65 114.2H444.15L444.15 114.8H444.65L444.65 114.2H445.15L445.15 114.2H445.65L445.65 114.3H446.15L446.15 114.2H446.65L446.65 114.2H447.15L447.15 116.6H447.65L447.65 114.2H448.15L448.15 116.0H448.65L448.65 114.2H449.15L449.15 114.2H449.65L449.65 116.3H450.15L450.15 117.1H450.65L450.65 114.2H451.15L451.15 114.2H451.65L451.65 115.1H452.15L452.15 115.6H452.65L452.65 114.3H453.15L453.15 114.8H453.65L453.65 114.8H454.15L454.15 114.2H454.65L454.65 114.2H455.15L455.15 114.2H455.65L455.65 114.7H456.15L456.15 114.2H456.65L456.65 116.8H457.15L457.15 114.2H457.65L457.65 114.8H458.15L458.15 115.9H458.65L458.65 114.2H459.15L459.15 115.1H459.65L459.65 114.2H460.15L460.15 114.6H460.65L460.65 114.2H461.15L461.15 114.2H461.65L461.65 114.2H462.15L462.15 114.2H462.65L462.65 115.1H463.15L463.12 113.90Z" fill="#111"/>
<line x1="460.80" y1="103.10" x2="461.40" y2="108.20" stroke="#999" stroke-width="0.6"/>
<line x1="417.10" y1="128.50" x2="463.60" y2="128.50" stroke="#8a8a8a" stroke-width="0.95" />
<line x1="417.10" y1="125.00" x2="417.10" y2="128.50" stroke="#c8c8c8" stroke-width="0.6" />
<ellipse cx="461.30" cy="128.50" rx="1.15" ry="1.5" fill="#111"/>
<rect x="466.40" y="103.10" width="37.30" height="21.90" fill="none" stroke="#c4c4c4" stroke-width="0.6"/>
<line x1="466.40" y1="108.20" x2="503.70" y2="108.20" stroke="#e2e2e2" stroke-width="0.5" />
<line x1="466.40" y1="119.50" x2="503.70" y2="119.50" stroke="#e2e2e2" stroke-width="0.5" />
<line x1="468.58" y1="113.90" x2="468.58" y2="125.00" stroke="#8a8a8a" stroke-width="0.9"/><line x1="472.27" y1="113.90" x2="472.27" y2="125.00" stroke="#8a8a8a" stroke-width="0.9"/><line x1="473.67" y1="113.90" x2="473.67" y2="125.00" stroke="#a8a8a8" stroke-width="0.5"/><line x1="474.04" y1="113.90" x2="474.04" y2="125.00" stroke="#a8a8a8" stroke-width="0.7"/><line x1="474.63" y1="113.90" x2="474.63" y2="125.00" stroke="#8a8a8a" stroke-width="0.5"/><line x1="478.03" y1="113.90" x2="478.03" y2="125.00" stroke="#6a6a6a" stroke-width="0.7"/><line x1="480.55" y1="113.90" x2="480.55" y2="125.00" stroke="#bdbdbd" stroke-width="0.5"/><line x1="482.36" y1="113.90" x2="482.36" y2="125.00" stroke="#6a6a6a" stroke-width="0.7"/><line x1="482.71" y1="113.90" x2="482.71" y2="125.00" stroke="#bdbdbd" stroke-width="0.9"/><line x1="487.09" y1="113.90" x2="487.09" y2="125.00" stroke="#a8a8a8" stroke-width="0.7"/><line x1="487.15" y1="113.90" x2="487.15" y2="125.00" stroke="#bdbdbd" stroke-width="0.7"/><line x1="495.84" y1="113.90" x2="495.84" y2="125.00" stroke="#bdbdbd" stroke-width="0.5"/>
<path d="M466.9 113.9V110.1M473.4 113.9V112.5M476.9 113.9V112.6M477.9 113.9V111.3M478.9 113.9V110.9M483.9 113.9V111.6M494.9 113.9V110.0M495.4 113.9V110.1M496.9 113.9V110.8M501.9 113.9V111.5" stroke="#9a9a9a" stroke-width="0.4" fill="none"/>
<path d="M466.48 113.90L466.45 112.6H466.95L466.95 113.2H467.45L467.45 113.6H467.95L467.95 111.3H468.45L468.45 113.6H468.95L468.95 113.6H469.45L469.45 113.6H469.95L469.95 113.6H470.45L470.45 113.6H470.95L470.95 113.6H471.45L471.45 113.6H471.95L471.95 112.8H472.45L472.45 113.6H472.95L472.95 113.6H473.45L473.45 113.6H473.95L473.95 113.6H474.45L474.45 113.6H474.95L474.95 111.5H475.45L475.45 112.0H475.95L475.95 113.6H476.45L476.45 113.6H476.95L476.95 113.6H477.45L477.45 113.3H477.95L477.95 111.4H478.45L478.45 113.6H478.95L478.95 113.6H479.45L479.45 113.6H479.95L479.95 113.6H480.45L480.45 113.6H480.95L480.95 113.6H481.45L481.45 112.5H481.95L481.95 112.8H482.45L482.45 108.7H482.95L482.95 111.2H483.45L483.45 113.6H483.95L483.95 113.6H484.45L484.45 113.6H484.95L484.95 113.5H485.45L485.45 113.6H485.95L485.95 113.6H486.45L486.45 113.0H486.95L486.95 111.6H487.45L487.45 113.1H487.95L487.95 112.2H488.45L488.45 112.2H488.95L488.95 111.5H489.45L489.45 113.1H489.95L489.95 112.0H490.45L490.45 111.2H490.95L490.95 113.6H491.45L491.45 112.8H491.95L491.95 113.6H492.45L492.45 113.6H492.95L492.95 112.2H493.45L493.45 113.0H493.95L493.95 112.5H494.45L494.45 111.6H494.95L494.95 111.2H495.45L495.45 113.6H495.95L495.95 113.6H496.45L496.45 113.6H496.95L496.95 113.1H497.45L497.45 112.2H497.95L497.95 113.4H498.45L498.45 112.0H498.95L498.95 111.2H499.45L499.45 113.2H499.95L499.95 111.1H500.45L500.45 111.7H500.95L500.95 113.3H501.45L501.45 113.6H501.95L501.95 111.4H502.45L502.45 112.0H502.95L502.95 112.9H503.45L503.42 113.90ZM466.48 113.90L466.45 114.2H466.95L466.95 114.2H467.45L467.45 115.2H467.95L467.95 114.2H468.45L468.45 114.9H468.95L468.95 114.2H469.45L469.45 114.8H469.95L469.95 114.2H470.45L470.45 115.2H470.95L470.95 114.3H471.45L471.45 115.4H471.95L471.95 114.2H472.45L472.45 115.1H472.95L472.95 114.9H473.45L473.45 116.0H473.95L473.95 114.2H474.45L474.45 115.5H474.95L474.95 114.2H475.45L475.45 114.2H475.95L475.95 114.2H476.45L476.45 115.1H476.95L476.95 114.8H477.45L477.45 114.2H477.95L477.95 114.2H478.45L478.45 115.5H478.95L478.95 115.6H479.45L479.45 116.3H479.95L479.95 114.2H480.45L480.45 114.2H480.95L480.95 114.4H481.45L481.45 114.2H481.95L481.95 114.2H482.45L482.45 114.2H482.95L482.95 114.2H483.45L483.45 114.7H483.95L483.95 114.2H484.45L484.45 114.4H484.95L484.95 114.2H485.45L485.45 114.2H485.95L485.95 114.7H486.45L486.45 114.2H486.95L486.95 114.2H487.45L487.45 114.2H487.95L487.95 114.2H488.45L488.45 114.2H488.95L488.95 114.2H489.45L489.45 114.2H489.95L489.95 114.2H490.45L490.45 114.2H490.95L490.95 114.7H491.45L491.45 114.2H491.95L491.95 114.6H492.45L492.45 116.6H492.95L492.95 114.2H493.45L493.45 114.2H493.95L493.95 114.2H494.45L494.45 114.2H494.95L494.95 114.2H495.45L495.45 116.0H495.95L495.95 114.7H496.45L496.45 114.2H496.95L496.95 114.2H497.45L497.45 114.2H497.95L497.95 114.2H498.45L498.45 114.2H498.95L498.95 114.2H499.45L499.45 114.2H499.95L499.95 114.2H500.45L500.45 114.2H500.95L500.95 114.2H501.45L501.45 114.4H501.95L501.95 114.2H502.45L502.45 114.2H502.95L502.95 114.2H503.45L503.42 113.90Z" fill="#111"/>
<line x1="483.80" y1="103.10" x2="484.40" y2="108.20" stroke="#999" stroke-width="0.6"/>
<line x1="466.40" y1="128.50" x2="503.70" y2="128.50" stroke="#8a8a8a" stroke-width="0.95" />
<line x1="466.40" y1="125.00" x2="466.40" y2="128.50" stroke="#c8c8c8" stroke-width="0.6" />
<rect x="506.70" y="103.10" width="33.10" height="21.90" fill="none" stroke="#c4c4c4" stroke-width="0.6"/>
<line x1="506.70" y1="108.20" x2="539.80" y2="108.20" stroke="#e2e2e2" stroke-width="0.5" />
<line x1="506.70" y1="119.50" x2="539.80" y2="119.50" stroke="#e2e2e2" stroke-width="0.5" />
<line x1="510.82" y1="113.90" x2="510.82" y2="125.00" stroke="#bdbdbd" stroke-width="0.9"/><line x1="512.76" y1="113.90" x2="512.76" y2="125.00" stroke="#bdbdbd" stroke-width="0.9"/><line x1="514.19" y1="113.90" x2="514.19" y2="125.00" stroke="#a8a8a8" stroke-width="0.7"/><line x1="518.56" y1="113.90" x2="518.56" y2="125.00" stroke="#8a8a8a" stroke-width="0.7"/><line x1="519.09" y1="113.90" x2="519.09" y2="125.00" stroke="#8a8a8a" stroke-width="0.9"/><line x1="520.48" y1="113.90" x2="520.48" y2="125.00" stroke="#a8a8a8" stroke-width="0.9"/><line x1="523.46" y1="113.90" x2="523.46" y2="125.00" stroke="#a8a8a8" stroke-width="0.9"/><line x1="524.81" y1="113.90" x2="524.81" y2="125.00" stroke="#a8a8a8" stroke-width="0.5"/><line x1="529.52" y1="113.90" x2="529.52" y2="125.00" stroke="#8a8a8a" stroke-width="0.5"/><line x1="536.71" y1="113.90" x2="536.71" y2="125.00" stroke="#a8a8a8" stroke-width="0.9"/><line x1="537.65" y1="113.90" x2="537.65" y2="125.00" stroke="#8a8a8a" stroke-width="0.7"/>
<path d="M510.7 113.9V110.5M522.2 113.9V104.8M522.7 113.9V105.8M526.2 113.9V106.8M534.7 113.9V107.1M537.7 113.9V110.8M539.2 113.9V105.9" stroke="#9a9a9a" stroke-width="0.4" fill="none"/>
<path d="M506.78 113.90L506.75 107.9H507.25L507.25 106.0H507.75L507.75 108.6H508.25L508.25 109.5H508.75L508.75 107.4H509.25L509.25 109.3H509.75L509.75 107.7H510.25L510.25 113.6H510.75L510.75 113.6H511.25L511.25 109.4H511.75L511.75 108.9H512.25L512.25 113.6H512.75L512.75 113.6H513.25L513.25 107.3H513.75L513.75 109.1H514.25L514.25 107.0H514.75L514.75 107.6H515.25L515.25 110.4H515.75L515.75 106.8H516.25L516.25 107.0H516.75L516.75 108.3H517.25L517.25 108.3H517.75L517.75 103.4H518.25L518.25 108.4H518.75L518.75 113.6H519.25L519.25 107.0H519.75L519.75 106.8H520.25L520.25 108.9H520.75L520.75 105.6H521.25L521.25 107.1H521.75L521.75 108.5H522.25L522.25 109.6H522.75L522.75 108.3H523.25L523.25 108.9H523.75L523.75 107.2H524.25L524.25 113.6H524.75L524.75 113.6H525.25L525.25 104.6H525.75L525.75 109.2H526.25L526.25 107.0H526.75L526.75 108.7H527.25L527.25 107.3H527.75L527.75 109.2H528.25L528.25 108.1H528.75L528.75 108.3H529.25L529.25 113.6H529.75L529.75 106.6H530.25L530.25 108.8H530.75L530.75 108.7H531.25L531.25 106.1H531.75L531.75 105.7H532.25L532.25 108.4H532.75L532.75 106.8H533.25L533.25 107.2H533.75L533.75 107.3H534.25L534.25 110.8H534.75L534.75 104.8H535.25L535.25 108.5H535.75L535.75 108.7H536.25L536.25 113.6H536.75L536.75 113.6H537.25L537.25 113.6H537.75L537.75 113.6H538.25L538.25 108.1H538.75L538.75 108.8H539.25L539.22 113.90ZM506.78 113.90L506.75 114.2H507.25L507.25 114.2H507.75L507.75 114.2H508.25L508.25 114.2H508.75L508.75 114.2H509.25L509.25 114.2H509.75L509.75 114.2H510.25L510.25 114.7H510.75L510.75 116.6H511.25L511.25 114.2H511.75L511.75 114.2H512.25L512.25 115.8H512.75L512.75 116.5H513.25L513.25 114.2H513.75L513.75 114.2H514.25L514.25 114.2H514.75L514.75 114.2H515.25L515.25 114.2H515.75L515.75 114.2H516.25L516.25 114.2H516.75L516.75 114.2H517.25L517.25 114.2H517.75L517.75 114.2H518.25L518.25 114.2H518.75L518.75 116.8H519.25L519.25 114.2H519.75L519.75 114.2H520.25L520.25 114.2H520.75L520.75 114.2H521.25L521.25 114.2H521.75L521.75 114.2H522.25L522.25 114.2H522.75L522.75 114.2H523.25L523.25 114.2H523.75L523.75 114.2H524.25L524.25 116.6H524.75L524.75 116.5H525.25L525.25 114.2H525.75L525.75 114.2H526.25L526.25 114.2H526.75L526.75 114.2H527.25L527.25 114.2H527.75L527.75 114.2H528.25L528.25 114.2H528.75L528.75 114.2H529.25L529.25 114.8H529.75L529.75 114.2H530.25L530.25 114.2H530.75L530.75 114.2H531.25L531.25 114.2H531.75L531.75 114.2H532.25L532.25 114.2H532.75L532.75 114.2H533.25L533.25 114.2H533.75L533.75 114.2H534.25L534.25 114.2H534.75L534.75 114.2H535.25L535.25 114.2H535.75L535.75 114.2H536.25L536.25 114.4H536.75L536.75 115.3H537.25L537.25 114.6H537.75L537.75 114.5H538.25L538.25 114.2H538.75L538.75 114.2H539.25L539.22 113.90Z" fill="#111"/>
<line x1="527.40" y1="103.10" x2="528.00" y2="108.20" stroke="#999" stroke-width="0.6"/>
<line x1="506.70" y1="128.50" x2="539.80" y2="128.50" stroke="#8a8a8a" stroke-width="0.95" />
<line x1="506.70" y1="125.00" x2="506.70" y2="128.50" stroke="#c8c8c8" stroke-width="0.6" />
<ellipse cx="531.90" cy="128.50" rx="1.15" ry="1.5" fill="#111"/>
<rect x="542.90" y="103.10" width="24.60" height="21.90" fill="none" stroke="#c4c4c4" stroke-width="0.6"/>
<line x1="542.90" y1="108.20" x2="567.50" y2="108.20" stroke="#e2e2e2" stroke-width="0.5" />
<line x1="542.90" y1="119.50" x2="567.50" y2="119.50" stroke="#e2e2e2" stroke-width="0.5" />
<line x1="544.20" y1="113.90" x2="544.20" y2="125.00" stroke="#bdbdbd" stroke-width="0.5"/><line x1="544.71" y1="113.90" x2="544.71" y2="125.00" stroke="#a8a8a8" stroke-width="0.7"/><line x1="551.81" y1="113.90" x2="551.81" y2="125.00" stroke="#bdbdbd" stroke-width="0.5"/><line x1="560.35" y1="113.90" x2="560.35" y2="125.00" stroke="#bdbdbd" stroke-width="0.9"/><line x1="563.64" y1="113.90" x2="563.64" y2="125.00" stroke="#6a6a6a" stroke-width="0.5"/><line x1="564.79" y1="113.90" x2="564.79" y2="125.00" stroke="#8a8a8a" stroke-width="0.5"/><line x1="565.70" y1="113.90" x2="565.70" y2="125.00" stroke="#8a8a8a" stroke-width="0.9"/><line x1="565.98" y1="113.90" x2="565.98" y2="125.00" stroke="#8a8a8a" stroke-width="0.5"/>
<path d="M544.9 113.9V110.1M548.9 113.9V110.8M549.9 113.9V109.9M552.9 113.9V109.4M554.4 113.9V112.1M554.9 113.9V107.6M557.4 113.9V111.2M558.4 113.9V111.7M559.4 113.9V109.8M562.4 113.9V110.7M564.4 113.9V111.1M565.9 113.9V110.2M566.4 113.9V112.0M566.9 113.9V109.2" stroke="#9a9a9a" stroke-width="0.4" fill="none"/>
<path d="M542.98 113.90L542.95 113.6H543.45L543.45 113.6H543.95L543.95 113.4H544.45L544.45 113.6H544.95L544.95 113.6H545.45L545.45 113.6H545.95L545.95 113.6H546.45L546.45 112.6H546.95L546.95 113.6H547.45L547.45 109.9H547.95L547.95 113.5H548.45L548.45 113.6H548.95L548.95 113.6H549.45L549.45 112.8H549.95L549.95 113.6H550.45L550.45 112.7H550.95L550.95 113.6H551.45L551.45 110.5H551.95L551.95 113.6H552.45L552.45 113.0H552.95L552.95 111.9H553.45L553.45 113.6H553.95L553.95 113.3H554.45L554.45 111.4H554.95L554.95 112.4H555.45L555.45 110.6H555.95L555.95 112.6H556.45L556.45 113.6H556.95L556.95 112.6H557.45L557.45 113.6H557.95L557.95 113.6H558.45L558.45 113.6H558.95L558.95 113.6H559.45L559.45 113.6H559.95L559.95 113.6H560.45L560.45 111.8H560.95L560.95 113.6H561.45L561.45 113.6H561.95L561.95 113.6H562.45L562.45 113.6H562.95L562.95 113.6H563.45L563.45 113.4H563.95L563.95 113.3H564.45L564.45 113.6H564.95L564.95 112.5H565.45L565.45 113.6H565.95L565.95 113.6H566.45L566.45 112.9H566.95L566.95 113.6H567.45L567.42 113.90ZM542.98 113.90L542.95 114.7H543.45L543.45 114.9H543.95L543.95 114.2H544.45L544.45 116.1H544.95L544.95 114.2H545.45L545.45 115.0H545.95L545.95 115.0H546.45L546.45 114.2H546.95L546.95 114.2H547.45L547.45 114.2H547.95L547.95 114.2H548.45L548.45 117.7H548.95L548.95 114.2H549.45L549.45 114.2H549.95L549.95 114.4H550.45L550.45 114.2H550.95L550.95 114.2H551.45L551.45 114.2H551.95L551.95 115.3H552.45L552.45 114.2H552.95L552.95 114.2H553.45L553.45 114.3H553.95L553.95 114.2H554.45L554.45 114.2H554.95L554.95 114.2H555.45L555.45 114.2H555.95L555.95 114.2H556.45L556.45 116.4H556.95L556.95 114.2H557.45L557.45 116.8H557.95L557.95 116.2H558.45L558.45 114.9H558.95L558.95 114.2H559.45L559.45 114.3H559.95L559.95 114.8H560.45L560.45 114.2H560.95L560.95 114.8H561.45L561.45 114.2H561.95L561.95 116.6H562.45L562.45 116.8H562.95L562.95 115.6H563.45L563.45 114.2H563.95L563.95 114.2H564.45L564.45 114.2H564.95L564.95 114.2H565.45L565.45 114.2H565.95L565.95 114.2H566.45L566.45 114.2H566.95L566.95 114.2H567.45L567.42 113.90Z" fill="#111"/>
<line x1="552.30" y1="103.10" x2="552.90" y2="108.20" stroke="#999" stroke-width="0.6"/>
<line x1="542.90" y1="128.50" x2="567.50" y2="128.50" stroke="#8a8a8a" stroke-width="0.95" />
<line x1="542.90" y1="125.00" x2="542.90" y2="128.50" stroke="#c8c8c8" stroke-width="0.6" />
<ellipse cx="558.10" cy="128.50" rx="1.15" ry="1.5" fill="#111"/>
<rect x="571.10" y="103.10" width="20.80" height="21.90" fill="none" stroke="#c4c4c4" stroke-width="0.6"/>
<line x1="571.10" y1="108.20" x2="591.90" y2="108.20" stroke="#e2e2e2" stroke-width="0.5" />
<line x1="571.10" y1="119.50" x2="591.90" y2="119.50" stroke="#e2e2e2" stroke-width="0.5" />
<line x1="574.05" y1="113.90" x2="574.05" y2="125.00" stroke="#bdbdbd" stroke-width="0.9"/><line x1="575.66" y1="113.90" x2="575.66" y2="125.00" stroke="#6a6a6a" stroke-width="0.9"/><line x1="579.91" y1="113.90" x2="579.91" y2="125.00" stroke="#6a6a6a" stroke-width="0.5"/><line x1="582.87" y1="113.90" x2="582.87" y2="125.00" stroke="#a8a8a8" stroke-width="0.7"/><line x1="586.46" y1="113.90" x2="586.46" y2="125.00" stroke="#6a6a6a" stroke-width="0.7"/><line x1="588.95" y1="113.90" x2="588.95" y2="125.00" stroke="#bdbdbd" stroke-width="0.7"/>
<path d="M571.6 113.9V109.9M578.6 113.9V111.8M579.6 113.9V111.4M581.6 113.9V111.9M582.6 113.9V110.3M585.1 113.9V111.3M585.6 113.9V108.8M587.6 113.9V112.3M590.1 113.9V110.2" stroke="#9a9a9a" stroke-width="0.4" fill="none"/>
<path d="M571.18 113.90L571.15 112.9H571.65L571.65 113.6H572.15L572.15 113.6H572.65L572.65 113.6H573.15L573.15 109.9H573.65L573.65 109.2H574.15L574.15 112.7H574.65L574.65 113.6H575.15L575.15 113.6H575.65L575.65 113.6H576.15L576.15 112.2H576.65L576.65 113.6H577.15L577.15 113.6H577.65L577.65 113.6H578.15L578.15 113.6H578.65L578.65 112.9H579.15L579.15 113.6H579.65L579.65 112.1H580.15L580.15 113.6H580.65L580.65 112.8H581.15L581.15 113.6H581.65L581.65 113.6H582.15L582.15 113.6H582.65L582.65 113.6H583.15L583.15 113.6H583.65L583.65 113.6H584.15L584.15 112.3H584.65L584.65 113.6H585.15L585.15 110.8H585.65L585.65 113.6H586.15L586.15 113.6H586.65L586.65 113.6H587.15L587.15 113.3H587.65L587.65 113.6H588.15L588.15 113.6H588.65L588.65 113.6H589.15L589.15 113.6H589.65L589.65 111.4H590.15L590.15 112.9H590.65L590.65 113.6H591.15L591.15 113.3H591.65L591.62 113.90ZM571.18 113.90L571.15 114.2H571.65L571.65 114.2H572.15L572.15 114.2H572.65L572.65 116.0H573.15L573.15 114.2H573.65L573.65 114.2H574.15L574.15 114.2H574.65L574.65 116.8H575.15L575.15 114.9H575.65L575.65 115.0H576.15L576.15 114.2H576.65L576.65 114.2H577.15L577.15 116.0H577.65L577.65 114.2H578.15L578.15 114.7H578.65L578.65 114.2H579.15L579.15 116.5H579.65L579.65 114.2H580.15L580.15 114.2H580.65L580.65 114.2H581.15L581.15 114.6H581.65L581.65 115.0H582.15L582.15 114.2H582.65L582.65 115.1H583.15L583.15 114.2H583.65L583.65 116.6H584.15L584.15 114.2H584.65L584.65 114.4H585.15L585.15 114.2H585.65L585.65 114.2H586.15L586.15 117.9H586.65L586.65 114.7H587.15L587.15 114.2H587.65L587.65 114.4H588.15L588.15 116.0H588.65L588.65 115.4H589.15L589.15 114.8H589.65L589.65 114.2H590.15L590.15 114.2H590.65L590.65 115.2H591.15L591.15 114.2H591.65L591.62 113.90Z" fill="#111"/>
<line x1="590.60" y1="103.10" x2="591.20" y2="108.20" stroke="#999" stroke-width="0.6"/>
<line x1="571.10" y1="128.50" x2="591.90" y2="128.50" stroke="#8a8a8a" stroke-width="0.95" />
<line x1="571.10" y1="125.00" x2="571.10" y2="128.50" stroke="#c8c8c8" stroke-width="0.6" />
<ellipse cx="589.10" cy="128.50" rx="1.15" ry="1.5" fill="#111"/>
<rect x="595.00" y="103.10" width="19.50" height="21.90" fill="none" stroke="#c4c4c4" stroke-width="0.6"/>
<line x1="595.00" y1="108.20" x2="614.50" y2="108.20" stroke="#e2e2e2" stroke-width="0.5" />
<line x1="595.00" y1="119.50" x2="614.50" y2="119.50" stroke="#e2e2e2" stroke-width="0.5" />
<line x1="600.19" y1="113.90" x2="600.19" y2="125.00" stroke="#8a8a8a" stroke-width="0.7"/><line x1="605.27" y1="113.90" x2="605.27" y2="125.00" stroke="#6a6a6a" stroke-width="0.7"/><line x1="608.54" y1="113.90" x2="608.54" y2="125.00" stroke="#a8a8a8" stroke-width="0.9"/><line x1="609.09" y1="113.90" x2="609.09" y2="125.00" stroke="#bdbdbd" stroke-width="0.7"/><line x1="610.30" y1="113.90" x2="610.30" y2="125.00" stroke="#a8a8a8" stroke-width="0.7"/><line x1="610.46" y1="113.90" x2="610.46" y2="125.00" stroke="#a8a8a8" stroke-width="0.9"/>
<path d="M598.0 113.9V111.7M602.0 113.9V110.0M603.0 113.9V111.2M603.5 113.9V111.3M605.0 113.9V112.0M608.0 113.9V111.1M611.0 113.9V110.9M611.5 113.9V110.6" stroke="#9a9a9a" stroke-width="0.4" fill="none"/>
<path d="M595.08 113.90L595.05 113.6H595.55L595.55 113.6H596.05L596.05 112.4H596.55L596.55 110.4H597.05L597.05 112.6H597.55L597.55 113.6H598.05L598.05 113.4H598.55L598.55 113.3H599.05L599.05 113.5H599.55L599.55 113.6H600.05L600.05 113.4H600.55L600.55 113.6H601.05L601.05 113.6H601.55L601.55 113.6H602.05L602.05 113.6H602.55L602.55 113.6H603.05L603.05 113.6H603.55L603.55 113.0H604.05L604.05 113.3H604.55L604.55 113.6H605.05L605.05 113.6H605.55L605.55 113.0H606.05L606.05 113.6H606.55L606.55 113.6H607.05L607.05 113.6H607.55L607.55 113.6H608.05L608.05 113.1H608.55L608.55 113.6H609.05L609.05 113.5H609.55L609.55 113.6H610.05L610.05 113.6H610.55L610.55 113.6H611.05L611.05 113.5H611.55L611.55 113.6H612.05L612.05 112.0H612.55L612.55 113.6H613.05L613.05 113.6H613.55L613.55 111.3H614.05L614.02 113.90ZM595.08 113.90L595.05 115.1H595.55L595.55 115.2H596.05L596.05 114.2H596.55L596.55 114.2H597.05L597.05 114.2H597.55L597.55 115.1H598.05L598.05 114.2H598.55L598.55 114.2H599.05L599.05 114.2H599.55L599.55 114.5H600.05L600.05 114.2H600.55L600.55 114.2H601.05L601.05 115.2H601.55L601.55 114.2H602.05L602.05 114.9H602.55L602.55 114.3H603.05L603.05 114.3H603.55L603.55 114.2H604.05L604.05 114.2H604.55L604.55 114.7H605.05L605.05 114.8H605.55L605.55 114.2H606.05L606.05 116.5H606.55L606.55 114.6H607.05L607.05 115.1H607.55L607.55 115.4H608.05L608.05 114.2H608.55L608.55 114.4H609.05L609.05 114.2H609.55L609.55 114.4H610.05L610.05 114.5H610.55L610.55 119.1H611.05L611.05 114.2H611.55L611.55 114.4H612.05L612.05 114.2H612.55L612.55 114.2H613.05L613.05 117.9H613.55L613.55 114.2H614.05L614.02 113.90Z" fill="#111"/>
<line x1="604.00" y1="103.10" x2="604.60" y2="108.20" stroke="#999" stroke-width="0.6"/>
<line x1="595.00" y1="128.50" x2="614.50" y2="128.50" stroke="#8a8a8a" stroke-width="0.95" />
<line x1="595.00" y1="125.00" x2="595.00" y2="128.50" stroke="#c8c8c8" stroke-width="0.6" />
<ellipse cx="600.10" cy="128.50" rx="1.15" ry="1.5" fill="#111"/>
<ellipse cx="607.30" cy="128.50" rx="1.15" ry="1.5" fill="#111"/>
<rect x="618.30" y="103.10" width="46.90" height="21.90" fill="none" stroke="#c4c4c4" stroke-width="0.6"/>
<line x1="618.30" y1="108.20" x2="665.20" y2="108.20" stroke="#e2e2e2" stroke-width="0.5" />
<line x1="618.30" y1="119.50" x2="665.20" y2="119.50" stroke="#e2e2e2" stroke-width="0.5" />
<line x1="622.63" y1="113.90" x2="622.63" y2="125.00" stroke="#8a8a8a" stroke-width="0.7"/><line x1="627.04" y1="113.90" x2="627.04" y2="125.00" stroke="#a8a8a8" stroke-width="0.5"/><line x1="627.50" y1="113.90" x2="627.50" y2="125.00" stroke="#bdbdbd" stroke-width="0.9"/><line x1="628.54" y1="113.90" x2="628.54" y2="125.00" stroke="#8a8a8a" stroke-width="0.5"/><line x1="629.64" y1="113.90" x2="629.64" y2="125.00" stroke="#6a6a6a" stroke-width="0.9"/><line x1="630.47" y1="113.90" x2="630.47" y2="125.00" stroke="#bdbdbd" stroke-width="0.7"/><line x1="630.45" y1="113.90" x2="630.45" y2="125.00" stroke="#6a6a6a" stroke-width="0.9"/><line x1="642.80" y1="113.90" x2="642.80" y2="125.00" stroke="#a8a8a8" stroke-width="0.9"/><line x1="644.33" y1="113.90" x2="644.33" y2="125.00" stroke="#8a8a8a" stroke-width="0.9"/><line x1="645.59" y1="113.90" x2="645.59" y2="125.00" stroke="#6a6a6a" stroke-width="0.5"/><line x1="654.48" y1="113.90" x2="654.48" y2="125.00" stroke="#8a8a8a" stroke-width="0.9"/><line x1="655.98" y1="113.90" x2="655.98" y2="125.00" stroke="#bdbdbd" stroke-width="0.5"/><line x1="657.73" y1="113.90" x2="657.73" y2="125.00" stroke="#6a6a6a" stroke-width="0.7"/><line x1="661.29" y1="113.90" x2="661.29" y2="125.00" stroke="#a8a8a8" stroke-width="0.7"/><line x1="662.22" y1="113.90" x2="662.22" y2="125.00" stroke="#8a8a8a" stroke-width="0.7"/>
<path d="M621.8 113.9V112.2M623.3 113.9V112.7M624.3 113.9V112.0M625.3 113.9V112.9M627.3 113.9V110.9M630.8 113.9V111.7M634.3 113.9V112.4M638.8 113.9V112.0M639.3 113.9V109.7M644.8 113.9V111.2M645.3 113.9V112.0M646.3 113.9V110.1M646.8 113.9V109.6M650.8 113.9V112.7M652.3 113.9V109.5M653.3 113.9V110.1M654.3 113.9V106.1M656.8 113.9V107.3M661.8 113.9V110.6" stroke="#9a9a9a" stroke-width="0.4" fill="none"/>
<path d="M618.38 113.90L618.35 113.6H618.85L618.85 113.6H619.35L619.35 112.3H619.85L619.85 113.6H620.35L620.35 113.6H620.85L620.85 112.6H621.35L621.35 113.6H621.85L621.85 112.0H622.35L622.35 113.6H622.85L622.85 113.6H623.35L623.35 112.6H623.85L623.85 113.6H624.35L624.35 112.3H624.85L624.85 113.6H625.35L625.35 113.6H625.85L625.85 113.6H626.35L626.35 113.6H626.85L626.85 113.6H627.35L627.35 113.6H627.85L627.85 113.4H628.35L628.35 113.6H628.85L628.85 113.6H629.35L629.35 113.6H629.85L629.85 113.6H630.35L630.35 113.6H630.85L630.85 108.2H631.35L631.35 112.4H631.85L631.85 113.6H632.35L632.35 111.9H632.85L632.85 113.6H633.35L633.35 113.2H633.85L633.85 113.6H634.35L634.35 113.6H634.85L634.85 113.6H635.35L635.35 112.4H635.85L635.85 110.5H636.35L636.35 113.2H636.85L636.85 113.1H637.35L637.35 113.6H637.85L637.85 113.6H638.35L638.35 113.6H638.85L638.85 113.4H639.35L639.35 113.6H639.85L639.85 113.6H640.35L640.35 113.6H640.85L640.85 113.3H641.35L641.35 113.2H641.85L641.85 113.5H642.35L642.35 112.7H642.85L642.85 113.6H643.35L643.35 113.6H643.85L643.85 113.6H644.35L644.35 113.6H644.85L644.85 113.3H645.35L645.35 110.6H645.85L645.85 113.3H646.35L646.35 111.4H646.85L646.85 111.4H647.35L647.35 112.6H647.85L647.85 113.4H648.35L648.35 113.6H648.85L648.85 113.2H649.35L649.35 110.9H649.85L649.85 113.6H650.35L650.35 113.6H650.85L650.85 112.2H651.35L651.35 108.5H651.85L651.85 111.0H652.35L652.35 108.0H652.85L652.85 112.9H653.35L653.35 113.6H653.85L653.85 109.5H654.35L654.35 113.6H654.85L654.85 111.0H655.35L655.35 110.7H655.85L655.85 113.5H656.35L656.35 109.5H656.85L656.85 110.3H657.35L657.35 111.2H657.85L657.85 112.8H658.35L658.35 106.2H658.85L658.85 111.3H659.35L659.35 112.2H659.85L659.85 113.0H660.35L660.35 108.1H660.85L660.85 113.6H661.35L661.35 113.6H661.85L661.85 113.6H662.35L662.35 110.2H662.85L662.85 113.6H663.35L663.35 113.6H663.85L663.85 112.8H664.35L664.35 113.3H664.85L664.82 113.90ZM618.38 113.90L618.35 114.2H618.85L618.85 114.8H619.35L619.35 114.2H619.85L619.85 115.3H620.35L620.35 114.2H620.85L620.85 114.2H621.35L621.35 114.4H621.85L621.85 114.2H622.35L622.35 117.9H622.85L622.85 114.2H623.35L623.35 114.2H623.85L623.85 115.3H624.35L624.35 114.2H624.85L624.85 115.8H625.35L625.35 114.7H625.85L625.85 115.0H626.35L626.35 116.8H626.85L626.85 114.4H627.35L627.35 114.7H627.85L627.85 114.2H628.35L628.35 114.2H628.85L628.85 114.5H629.35L629.35 114.2H629.85L629.85 114.5H630.35L630.35 114.3H630.85L630.85 114.2H631.35L631.35 114.2H631.85L631.85 114.5H632.35L632.35 114.2H632.85L632.85 114.2H633.35L633.35 114.2H633.85L633.85 114.5H634.35L634.35 114.3H634.85L634.85 114.2H635.35L635.35 114.2H635.85L635.85 114.2H636.35L636.35 114.2H636.85L636.85 114.2H637.35L637.35 114.4H637.85L637.85 114.2H638.35L638.35 114.2H638.85L638.85 114.2H639.35L639.35 115.5H639.85L639.85 114.4H640.35L640.35 114.3H640.85L640.85 114.2H641.35L641.35 114.2H641.85L641.85 114.2H642.35L642.35 114.2H642.85L642.85 114.6H643.35L643.35 114.3H643.85L643.85 114.2H644.35L644.35 114.2H644.85L644.85 114.2H645.35L645.35 114.2H645.85L645.85 114.2H646.35L646.35 114.2H646.85L646.85 114.2H647.35L647.35 114.2H647.85L647.85 114.2H648.35L648.35 114.2H648.85L648.85 114.2H649.35L649.35 114.2H649.85L649.85 114.2H650.35L650.35 114.4H650.85L650.85 114.2H651.35L651.35 114.2H651.85L651.85 114.2H652.35L652.35 114.2H652.85L652.85 114.2H653.35L653.35 114.2H653.85L653.85 114.2H654.35L654.35 115.2H654.85L654.85 114.2H655.35L655.35 114.2H655.85L655.85 114.2H656.35L656.35 114.2H656.85L656.85 114.2H657.35L657.35 114.2H657.85L657.85 114.2H658.35L658.35 114.2H658.85L658.85 114.2H659.35L659.35 114.2H659.85L659.85 114.2H660.35L660.35 114.2H660.85L660.85 116.1H661.35L661.35 116.2H661.85L661.85 116.6H662.35L662.35 114.2H662.85L662.85 114.7H663.35L663.35 115.3H663.85L663.85 114.2H664.35L664.35 114.2H664.85L664.82 113.90Z" fill="#111"/>
<line x1="656.00" y1="103.10" x2="656.60" y2="108.20" stroke="#999" stroke-width="0.6"/>
<line x1="618.30" y1="128.50" x2="665.20" y2="128.50" stroke="#8a8a8a" stroke-width="0.95" />
<line x1="618.30" y1="125.00" x2="618.30" y2="128.50" stroke="#c8c8c8" stroke-width="0.6" />
<ellipse cx="646.60" cy="128.50" rx="1.15" ry="1.5" fill="#111"/>
<ellipse cx="657.6" cy="128.50" rx="1.0" ry="1.4" fill="#3344cc"/>
<text x="331.6" y="147.30" font-size="9" fill="#231f20">2<tspan font-style="italic">n</tspan></text>
<line x1="342.60" y1="144.20" x2="345.00" y2="144.20" stroke="#111" stroke-width="0.8" />
<path d="M347.3,144.20 L343.8,142.40 L344.4,144.20 L343.8,146.00 Z" fill="#111"/>
<line x1="668.50" y1="138.50" x2="671.80" y2="138.50" stroke="#111" stroke-width="0.8" />
<path d="M666.4,138.50 L670.0,136.60 L669.4,138.50 L670.0,140.40 Z" fill="#111"/>
<text x="672.9" y="141.70" font-size="9.6" fill="#231f20">3<tspan font-style="italic">n</tspan></text>
<line x1="668.50" y1="149.80" x2="671.80" y2="149.80" stroke="#111" stroke-width="0.8" />
<path d="M666.4,149.80 L670.0,147.90 L669.4,149.80 L670.0,151.70 Z" fill="#111"/>
<text x="672.9" y="153.00" font-size="9.6" fill="#231f20">1<tspan font-style="italic">n</tspan></text>
<rect x="347.20" y="133.40" width="66.60" height="21.90" fill="none" stroke="#c4c4c4" stroke-width="0.6"/>
<line x1="347.20" y1="138.50" x2="413.80" y2="138.50" stroke="#e2e2e2" stroke-width="0.5" />
<line x1="347.20" y1="149.80" x2="413.80" y2="149.80" stroke="#e2e2e2" stroke-width="0.5" />
<line x1="352.55" y1="144.20" x2="352.55" y2="155.30" stroke="#8a8a8a" stroke-width="0.9"/><line x1="356.59" y1="144.20" x2="356.59" y2="155.30" stroke="#bdbdbd" stroke-width="0.7"/><line x1="357.29" y1="144.20" x2="357.29" y2="155.30" stroke="#8a8a8a" stroke-width="0.9"/><line x1="361.71" y1="144.20" x2="361.71" y2="155.30" stroke="#a8a8a8" stroke-width="0.5"/><line x1="362.75" y1="144.20" x2="362.75" y2="155.30" stroke="#8a8a8a" stroke-width="0.5"/><line x1="366.09" y1="144.20" x2="366.09" y2="155.30" stroke="#bdbdbd" stroke-width="0.9"/><line x1="370.21" y1="144.20" x2="370.21" y2="155.30" stroke="#8a8a8a" stroke-width="0.9"/><line x1="378.46" y1="144.20" x2="378.46" y2="155.30" stroke="#a8a8a8" stroke-width="0.5"/><line x1="379.29" y1="144.20" x2="379.29" y2="155.30" stroke="#bdbdbd" stroke-width="0.5"/><line x1="380.12" y1="144.20" x2="380.12" y2="155.30" stroke="#a8a8a8" stroke-width="0.9"/><line x1="383.10" y1="144.20" x2="383.10" y2="155.30" stroke="#a8a8a8" stroke-width="0.9"/><line x1="386.96" y1="144.20" x2="386.96" y2="155.30" stroke="#bdbdbd" stroke-width="0.5"/><line x1="392.22" y1="144.20" x2="392.22" y2="155.30" stroke="#a8a8a8" stroke-width="0.5"/><line x1="395.09" y1="144.20" x2="395.09" y2="155.30" stroke="#8a8a8a" stroke-width="0.9"/><line x1="397.56" y1="144.20" x2="397.56" y2="155.30" stroke="#6a6a6a" stroke-width="0.5"/><line x1="400.41" y1="144.20" x2="400.41" y2="155.30" stroke="#6a6a6a" stroke-width="0.5"/><line x1="407.32" y1="144.20" x2="407.32" y2="155.30" stroke="#a8a8a8" stroke-width="0.5"/>
<path d="M347.7 144.2V137.7M350.2 144.2V139.6M350.7 144.2V142.7M351.2 144.2V140.6M352.2 144.2V141.9M353.2 144.2V141.0M354.2 144.2V141.0M355.2 144.2V140.1M356.7 144.2V142.9M358.7 144.2V140.1M359.7 144.2V141.7M360.7 144.2V143.1M364.2 144.2V141.3M367.7 144.2V139.6M371.7 144.2V143.2M374.2 144.2V140.7M382.7 144.2V143.2M386.7 144.2V140.4M388.7 144.2V139.9M399.7 144.2V139.7M402.2 144.2V142.2M407.7 144.2V143.0M409.7 144.2V141.2M410.2 144.2V138.2M411.7 144.2V141.4M413.2 144.2V141.5" stroke="#9a9a9a" stroke-width="0.4" fill="none"/>
<path d="M347.28 144.20L347.25 141.7H347.75L347.75 143.6H348.25L348.25 141.9H348.75L348.75 143.4H349.25L349.25 143.7H349.75L349.75 143.0H350.25L350.25 143.9H350.75L350.75 141.8H351.25L351.25 141.7H351.75L351.75 143.9H352.25L352.25 143.9H352.75L352.75 142.5H353.25L353.25 143.9H353.75L353.75 143.9H354.25L354.25 141.5H354.75L354.75 142.7H355.25L355.25 143.9H355.75L355.75 143.9H356.25L356.25 143.9H356.75L356.75 143.9H357.25L357.25 143.0H357.75L357.75 143.9H358.25L358.25 141.6H358.75L358.75 142.6H359.25L359.25 143.9H359.75L359.75 143.9H360.25L360.25 143.9H360.75L360.75 143.9H361.25L361.25 142.9H361.75L361.75 143.9H362.25L362.25 141.6H362.75L362.75 143.3H363.25L363.25 143.6H363.75L363.75 143.9H364.25L364.25 143.4H364.75L364.75 143.9H365.25L365.25 143.9H365.75L365.75 143.9H366.25L366.25 143.9H366.75L366.75 142.7H367.25L367.25 142.6H367.75L367.75 140.0H368.25L368.25 143.9H368.75L368.75 143.9H369.25L369.25 143.5H369.75L369.75 143.5H370.25L370.25 143.9H370.75L370.75 143.2H371.25L371.25 143.9H371.75L371.75 143.1H372.25L372.25 143.9H372.75L372.75 143.9H373.25L373.25 143.9H373.75L373.75 143.4H374.25L374.25 143.9H374.75L374.75 143.9H375.25L375.25 143.8H375.75L375.75 143.9H376.25L376.25 143.4H376.75L376.75 143.9H377.25L377.25 142.8H377.75L377.75 141.1H378.25L378.25 140.7H378.75L378.75 143.9H379.25L379.25 142.9H379.75L379.75 143.9H380.25L380.25 141.6H380.75L380.75 138.9H381.25L381.25 143.9H381.75L381.75 141.8H382.25L382.25 143.9H382.75L382.75 143.9H383.25L383.25 143.5H383.75L383.75 143.9H384.25L384.25 143.9H384.75L384.75 143.9H385.25L385.25 143.7H385.75L385.75 143.9H386.25L386.25 143.2H386.75L386.75 137.9H387.25L387.25 143.6H387.75L387.75 143.4H388.25L388.25 142.8H388.75L388.75 140.5H389.25L389.25 143.9H389.75L389.75 143.9H390.25L390.25 142.9H390.75L390.75 143.9H391.25L391.25 143.9H391.75L391.75 143.9H392.25L392.25 143.0H392.75L392.75 143.5H393.25L393.25 143.9H393.75L393.75 143.9H394.25L394.25 141.5H394.75L394.75 143.9H395.25L395.25 143.9H395.75L395.75 143.7H396.25L396.25 143.9H396.75L396.75 143.3H397.25L397.25 143.9H397.75L397.75 143.9H398.25L398.25 143.9H398.75L398.75 143.9H399.25L399.25 142.6H399.75L399.75 143.9H400.25L400.25 143.9H400.75L400.75 143.9H401.25L401.25 143.9H401.75L401.75 143.9H402.25L402.25 143.9H402.75L402.75 141.7H403.25L403.25 143.7H403.75L403.75 139.7H404.25L404.25 143.9H404.75L404.75 143.9H405.25L405.25 142.8H405.75L405.75 143.5H406.25L406.25 143.9H406.75L406.75 143.9H407.25L407.25 143.9H407.75L407.75 143.9H408.25L408.25 143.9H408.75L408.75 143.9H409.25L409.25 143.9H409.75L409.75 142.1H410.25L410.25 143.2H410.75L410.75 143.3H411.25L411.25 143.9H411.75L411.75 143.5H412.25L412.25 143.0H412.75L412.75 143.9H413.25L413.22 144.20ZM347.28 144.20L347.25 144.6H347.75L347.75 144.6H348.25L348.25 144.6H348.75L348.75 144.6H349.25L349.25 144.6H349.75L349.75 144.6H350.25L350.25 146.7H350.75L350.75 144.6H351.25L351.25 144.6H351.75L351.75 147.4H352.25L352.25 144.8H352.75L352.75 144.6H353.25L353.25 144.6H353.75L353.75 144.6H354.25L354.25 144.6H354.75L354.75 144.6H355.25L355.25 144.9H355.75L355.75 145.3H356.25L356.25 145.5H356.75L356.75 144.7H357.25L357.25 144.6H357.75L357.75 144.6H358.25L358.25 144.6H358.75L358.75 144.6H359.25L359.25 145.1H359.75L359.75 146.4H360.25L360.25 144.6H360.75L360.75 144.6H361.25L361.25 144.6H361.75L361.75 144.6H362.25L362.25 144.6H362.75L362.75 144.6H363.25L363.25 144.6H363.75L363.75 144.6H364.25L364.25 144.6H364.75L364.75 147.2H365.25L365.25 145.2H365.75L365.75 144.8H366.25L366.25 145.9H366.75L366.75 144.6H367.25L367.25 144.6H367.75L367.75 144.6H368.25L368.25 146.2H368.75L368.75 144.7H369.25L369.25 144.6H369.75L369.75 144.6H370.25L370.25 144.6H370.75L370.75 144.6H371.25L371.25 145.2H371.75L371.75 144.6H372.25L372.25 146.4H372.75L372.75 147.4H373.25L373.25 144.6H373.75L373.75 144.6H374.25L374.25 144.6H374.75L374.75 146.8H375.25L375.25 144.6H375.75L375.75 144.6H376.25L376.25 144.6H376.75L376.75 145.8H377.25L377.25 144.6H377.75L377.75 144.6H378.25L378.25 144.6H378.75L378.75 145.1H379.25L379.25 144.6H379.75L379.75 144.6H380.25L380.25 144.6H380.75L380.75 144.6H381.25L381.25 144.6H381.75L381.75 144.6H382.25L382.25 146.9H382.75L382.75 145.8H383.25L383.25 144.6H383.75L383.75 145.8H384.25L384.25 145.4H384.75L384.75 144.6H385.25L385.25 144.6H385.75L385.75 145.0H386.25L386.25 144.6H386.75L386.75 144.6H387.25L387.25 144.6H387.75L387.75 144.6H388.25L388.25 144.6H388.75L388.75 144.6H389.25L389.25 144.8H389.75L389.75 144.7H390.25L390.25 144.6H390.75L390.75 145.1H391.25L391.25 144.6H391.75L391.75 144.9H392.25L392.25 144.6H392.75L392.75 144.6H393.25L393.25 144.9H393.75L393.75 144.6H394.25L394.25 144.6H394.75L394.75 145.6H395.25L395.25 144.7H395.75L395.75 144.6H396.25L396.25 146.1H396.75L396.75 144.6H397.25L397.25 144.6H397.75L397.75 144.7H398.25L398.25 144.6H398.75L398.75 146.2H399.25L399.25 144.6H399.75L399.75 144.6H400.25L400.25 144.6H400.75L400.75 146.6H401.25L401.25 144.6H401.75L401.75 145.3H402.25L402.25 144.6H402.75L402.75 144.6H403.25L403.25 144.6H403.75L403.75 144.6H404.25L404.25 144.6H404.75L404.75 145.9H405.25L405.25 144.6H405.75L405.75 144.6H406.25L406.25 144.6H406.75L406.75 148.3H407.25L407.25 145.4H407.75L407.75 145.3H408.25L408.25 144.6H408.75L408.75 144.6H409.25L409.25 147.2H409.75L409.75 144.6H410.25L410.25 144.6H410.75L410.75 144.6H411.25L411.25 144.7H411.75L411.75 144.6H412.25L412.25 144.6H412.75L412.75 144.6H413.25L413.22 144.20Z" fill="#111"/>
<line x1="380.30" y1="133.40" x2="380.90" y2="138.50" stroke="#999" stroke-width="0.6"/>
<line x1="347.20" y1="158.50" x2="413.80" y2="158.50" stroke="#8a8a8a" stroke-width="0.95" />
<line x1="347.20" y1="155.30" x2="347.20" y2="158.50" stroke="#c8c8c8" stroke-width="0.6" />
<ellipse cx="382.40" cy="158.50" rx="1.15" ry="1.5" fill="#111"/>
<rect x="417.10" y="133.40" width="46.50" height="21.90" fill="none" stroke="#c4c4c4" stroke-width="0.6"/>
<line x1="417.10" y1="138.50" x2="463.60" y2="138.50" stroke="#e2e2e2" stroke-width="0.5" />
<line x1="417.10" y1="149.80" x2="463.60" y2="149.80" stroke="#e2e2e2" stroke-width="0.5" />
<line x1="424.90" y1="144.20" x2="424.90" y2="155.30" stroke="#bdbdbd" stroke-width="0.9"/><line x1="426.11" y1="144.20" x2="426.11" y2="155.30" stroke="#6a6a6a" stroke-width="0.5"/><line x1="430.62" y1="144.20" x2="430.62" y2="155.30" stroke="#8a8a8a" stroke-width="0.5"/><line x1="435.14" y1="144.20" x2="435.14" y2="155.30" stroke="#bdbdbd" stroke-width="0.9"/><line x1="437.19" y1="144.20" x2="437.19" y2="155.30" stroke="#bdbdbd" stroke-width="0.9"/><line x1="440.39" y1="144.20" x2="440.39" y2="155.30" stroke="#bdbdbd" stroke-width="0.9"/><line x1="442.05" y1="144.20" x2="442.05" y2="155.30" stroke="#a8a8a8" stroke-width="0.9"/><line x1="442.94" y1="144.20" x2="442.94" y2="155.30" stroke="#8a8a8a" stroke-width="0.7"/><line x1="446.88" y1="144.20" x2="446.88" y2="155.30" stroke="#a8a8a8" stroke-width="0.5"/><line x1="449.95" y1="144.20" x2="449.95" y2="155.30" stroke="#a8a8a8" stroke-width="0.7"/><line x1="451.77" y1="144.20" x2="451.77" y2="155.30" stroke="#6a6a6a" stroke-width="0.5"/><line x1="457.13" y1="144.20" x2="457.13" y2="155.30" stroke="#bdbdbd" stroke-width="0.9"/>
<path d="M421.1 144.2V139.2M421.6 144.2V139.2M425.1 144.2V141.7M428.6 144.2V141.5M433.6 144.2V142.4M436.1 144.2V141.7M437.1 144.2V143.2M437.6 144.2V143.2M438.1 144.2V136.1M438.6 144.2V138.1M441.1 144.2V141.4M441.6 144.2V139.7M444.1 144.2V140.0M448.1 144.2V140.6M448.6 144.2V137.8M449.1 144.2V138.9M452.1 144.2V141.6M455.1 144.2V138.1M455.6 144.2V141.4M456.6 144.2V139.7M458.6 144.2V140.1" stroke="#9a9a9a" stroke-width="0.4" fill="none"/>
<path d="M417.18 144.20L417.15 141.3H417.65L417.65 143.2H418.15L418.15 140.6H418.65L418.65 142.2H419.15L419.15 143.0H419.65L419.65 142.3H420.15L420.15 139.4H420.65L420.65 140.6H421.15L421.15 140.8H421.65L421.65 142.4H422.15L422.15 143.7H422.65L422.65 143.9H423.15L423.15 142.1H423.65L423.65 143.3H424.15L424.15 143.7H424.65L424.65 143.9H425.15L425.15 142.3H425.65L425.65 143.1H426.15L426.15 141.8H426.65L426.65 140.4H427.15L427.15 142.7H427.65L427.65 143.3H428.15L428.15 143.1H428.65L428.65 141.7H429.15L429.15 142.0H429.65L429.65 142.4H430.15L430.15 143.9H430.65L430.65 143.9H431.15L431.15 140.5H431.65L431.65 140.6H432.15L432.15 141.3H432.65L432.65 143.9H433.15L433.15 143.9H433.65L433.65 143.7H434.15L434.15 141.5H434.65L434.65 143.9H435.15L435.15 143.9H435.65L435.65 143.6H436.15L436.15 143.9H436.65L436.65 143.9H437.15L437.15 143.9H437.65L437.65 140.1H438.15L438.15 141.8H438.65L438.65 143.9H439.15L439.15 142.4H439.65L439.65 143.9H440.15L440.15 143.9H440.65L440.65 143.9H441.15L441.15 142.8H441.65L441.65 143.9H442.15L442.15 139.9H442.65L442.65 143.9H443.15L443.15 142.8H443.65L443.65 142.5H444.15L444.15 141.3H444.65L444.65 143.1H445.15L445.15 143.1H445.65L445.65 141.4H446.15L446.15 142.3H446.65L446.65 140.4H447.15L447.15 141.7H447.65L447.65 141.7H448.15L448.15 139.9H448.65L448.65 141.3H449.15L449.15 143.5H449.65L449.65 142.9H450.15L450.15 138.6H450.65L450.65 140.0H451.15L451.15 143.9H451.65L451.65 143.9H452.15L452.15 143.0H452.65L452.65 141.2H453.15L453.15 143.2H453.65L453.65 141.4H454.15L454.15 142.7H454.65L454.65 140.8H455.15L455.15 142.6H455.65L455.65 140.3H456.15L456.15 140.8H456.65L456.65 142.2H457.15L457.15 140.8H457.65L457.65 140.6H458.15L458.15 142.6H458.65L458.65 138.5H459.15L459.15 141.2H459.65L459.65 142.2H460.15L460.15 143.3H460.65L460.65 143.9H461.15L461.15 143.9H461.65L461.65 137.6H462.15L462.15 141.3H462.65L462.65 141.6H463.15L463.12 144.20ZM417.18 144.20L417.15 144.6H417.65L417.65 144.6H418.15L418.15 144.6H418.65L418.65 144.6H419.15L419.15 144.6H419.65L419.65 144.6H420.15L420.15 144.6H420.65L420.65 144.6H421.15L421.15 144.6H421.65L421.65 144.6H422.15L422.15 144.6H422.65L422.65 146.3H423.15L423.15 144.6H423.65L423.65 144.6H424.15L424.15 144.6H424.65L424.65 144.9H425.15L425.15 144.6H425.65L425.65 144.6H426.15L426.15 144.6H426.65L426.65 144.6H427.15L427.15 144.6H427.65L427.65 144.6H428.15L428.15 144.6H428.65L428.65 144.6H429.15L429.15 144.6H429.65L429.65 144.6H430.15L430.15 147.0H430.65L430.65 146.0H431.15L431.15 144.6H431.65L431.65 144.6H432.15L432.15 144.6H432.65L432.65 145.2H433.15L433.15 144.6H433.65L433.65 144.6H434.15L434.15 144.6H434.65L434.65 147.0H435.15L435.15 146.1H435.65L435.65 144.6H436.15L436.15 145.2H436.65L436.65 146.1H437.15L437.15 145.2H437.65L437.65 144.6H438.15L438.15 144.6H438.65L438.65 144.6H439.15L439.15 144.6H439.65L439.65 144.6H440.15L440.15 144.9H440.65L440.65 146.0H441.15L441.15 144.6H441.65L441.65 146.2H442.15L442.15 144.6H442.65L442.65 147.1H443.15L443.15 144.6H443.65L443.65 144.6H444.15L444.15 144.6H444.65L444.65 144.6H445.15L445.15 144.6H445.65L445.65 144.6H446.15L446.15 144.6H446.65L446.65 144.6H447.15L447.15 144.6H447.65L447.65 144.6H448.15L448.15 144.6H448.65L448.65 144.6H449.15L449.15 144.6H449.65L449.65 144.6H450.15L450.15 144.6H450.65L450.65 144.6H451.15L451.15 145.3H451.65L451.65 147.0H452.15L452.15 144.6H452.65L452.65 144.6H453.15L453.15 144.6H453.65L453.65 144.6H454.15L454.15 144.6H454.65L454.65 144.6H455.15L455.15 144.6H455.65L455.65 144.6H456.15L456.15 144.6H456.65L456.65 144.6H457.15L457.15 144.6H457.65L457.65 144.6H458.15L458.15 144.6H458.65L458.65 144.6H459.15L459.15 144.6H459.65L459.65 144.6H460.15L460.15 144.6H460.65L460.65 144.6H461.15L461.15 145.1H461.65L461.65 144.6H462.15L462.15 144.6H462.65L462.65 144.6H463.15L463.12 144.20Z" fill="#111"/>
<line x1="460.80" y1="133.40" x2="461.40" y2="138.50" stroke="#999" stroke-width="0.6"/>
<line x1="417.10" y1="158.50" x2="463.60" y2="158.50" stroke="#8a8a8a" stroke-width="0.95" />
<line x1="417.10" y1="155.30" x2="417.10" y2="158.50" stroke="#c8c8c8" stroke-width="0.6" />
<ellipse cx="461.30" cy="158.50" rx="1.15" ry="1.5" fill="#111"/>
<rect x="466.40" y="133.40" width="37.30" height="21.90" fill="none" stroke="#c4c4c4" stroke-width="0.6"/>
<line x1="466.40" y1="138.50" x2="503.70" y2="138.50" stroke="#e2e2e2" stroke-width="0.5" />
<line x1="466.40" y1="149.80" x2="503.70" y2="149.80" stroke="#e2e2e2" stroke-width="0.5" />
<line x1="468.88" y1="144.20" x2="468.88" y2="155.30" stroke="#bdbdbd" stroke-width="0.9"/><line x1="472.73" y1="144.20" x2="472.73" y2="155.30" stroke="#6a6a6a" stroke-width="0.5"/><line x1="473.72" y1="144.20" x2="473.72" y2="155.30" stroke="#8a8a8a" stroke-width="0.5"/><line x1="473.99" y1="144.20" x2="473.99" y2="155.30" stroke="#bdbdbd" stroke-width="0.5"/><line x1="474.83" y1="144.20" x2="474.83" y2="155.30" stroke="#6a6a6a" stroke-width="0.9"/><line x1="478.16" y1="144.20" x2="478.16" y2="155.30" stroke="#bdbdbd" stroke-width="0.7"/><line x1="480.53" y1="144.20" x2="480.53" y2="155.30" stroke="#a8a8a8" stroke-width="0.5"/><line x1="482.26" y1="144.20" x2="482.26" y2="155.30" stroke="#8a8a8a" stroke-width="0.9"/><line x1="482.63" y1="144.20" x2="482.63" y2="155.30" stroke="#bdbdbd" stroke-width="0.9"/><line x1="487.09" y1="144.20" x2="487.09" y2="155.30" stroke="#6a6a6a" stroke-width="0.9"/><line x1="487.45" y1="144.20" x2="487.45" y2="155.30" stroke="#6a6a6a" stroke-width="0.9"/><line x1="495.90" y1="144.20" x2="495.90" y2="155.30" stroke="#8a8a8a" stroke-width="0.7"/>
<path d="M469.4 144.2V140.8M475.4 144.2V139.3M480.9 144.2V142.0M483.9 144.2V134.2M490.9 144.2V139.3M495.9 144.2V141.9M497.4 144.2V143.0" stroke="#9a9a9a" stroke-width="0.4" fill="none"/>
<path d="M466.48 144.20L466.45 143.9H466.95L466.95 143.9H467.45L467.45 143.9H467.95L467.95 141.2H468.45L468.45 141.5H468.95L468.95 143.9H469.45L469.45 143.2H469.95L469.95 139.9H470.45L470.45 143.8H470.95L470.95 139.3H471.45L471.45 139.8H471.95L471.95 143.0H472.45L472.45 143.9H472.95L472.95 143.9H473.45L473.45 143.9H473.95L473.95 142.0H474.45L474.45 141.8H474.95L474.95 143.0H475.45L475.45 141.9H475.95L475.95 143.8H476.45L476.45 143.9H476.95L476.95 142.3H477.45L477.45 143.2H477.95L477.95 143.9H478.45L478.45 138.8H478.95L478.95 140.7H479.45L479.45 142.3H479.95L479.95 143.9H480.45L480.45 143.9H480.95L480.95 142.1H481.45L481.45 140.3H481.95L481.95 143.9H482.45L482.45 143.9H482.95L482.95 142.7H483.45L483.45 137.3H483.95L483.95 141.3H484.45L484.45 140.8H484.95L484.95 142.2H485.45L485.45 141.8H485.95L485.95 142.0H486.45L486.45 141.2H486.95L486.95 142.2H487.45L487.45 143.8H487.95L487.95 138.1H488.45L488.45 142.5H488.95L488.95 142.5H489.45L489.45 143.9H489.95L489.95 140.6H490.45L490.45 142.5H490.95L490.95 140.3H491.45L491.45 141.9H491.95L491.95 140.4H492.45L492.45 143.5H492.95L492.95 143.9H493.45L493.45 142.6H493.95L493.95 143.5H494.45L494.45 143.9H494.95L494.95 143.9H495.45L495.45 143.9H495.95L495.95 143.9H496.45L496.45 142.8H496.95L496.95 143.9H497.45L497.45 141.2H497.95L497.95 142.6H498.45L498.45 143.9H498.95L498.95 143.9H499.45L499.45 143.9H499.95L499.95 143.0H500.45L500.45 143.6H500.95L500.95 143.1H501.45L501.45 143.5H501.95L501.95 143.9H502.45L502.45 143.9H502.95L502.95 143.9H503.45L503.42 144.20ZM466.48 144.20L466.45 146.6H466.95L466.95 145.0H467.45L467.45 145.4H467.95L467.95 144.6H468.45L468.45 144.6H468.95L468.95 144.6H469.45L469.45 144.6H469.95L469.95 144.6H470.45L470.45 144.6H470.95L470.95 144.6H471.45L471.45 144.6H471.95L471.95 144.6H472.45L472.45 144.6H472.95L472.95 144.6H473.45L473.45 145.0H473.95L473.95 144.6H474.45L474.45 144.6H474.95L474.95 144.6H475.45L475.45 144.6H475.95L475.95 144.6H476.45L476.45 144.6H476.95L476.95 144.6H477.45L477.45 144.6H477.95L477.95 146.3H478.45L478.45 144.6H478.95L478.95 144.6H479.45L479.45 144.6H479.95L479.95 147.2H480.45L480.45 145.5H480.95L480.95 144.6H481.45L481.45 144.6H481.95L481.95 146.0H482.45L482.45 145.8H482.95L482.95 144.6H483.45L483.45 144.6H483.95L483.95 144.6H484.45L484.45 144.6H484.95L484.95 144.6H485.45L485.45 144.6H485.95L485.95 144.6H486.45L486.45 144.6H486.95L486.95 144.6H487.45L487.45 144.6H487.95L487.95 144.6H488.45L488.45 144.6H488.95L488.95 144.6H489.45L489.45 144.6H489.95L489.95 144.6H490.45L490.45 144.6H490.95L490.95 144.6H491.45L491.45 144.6H491.95L491.95 144.6H492.45L492.45 144.6H492.95L492.95 145.0H493.45L493.45 144.6H493.95L493.95 144.6H494.45L494.45 145.1H494.95L494.95 146.5H495.45L495.45 144.6H495.95L495.95 144.6H496.45L496.45 144.6H496.95L496.95 144.6H497.45L497.45 144.6H497.95L497.95 144.6H498.45L498.45 144.6H498.95L498.95 145.3H499.45L499.45 144.6H499.95L499.95 144.6H500.45L500.45 144.6H500.95L500.95 144.6H501.45L501.45 144.6H501.95L501.95 144.6H502.45L502.45 145.0H502.95L502.95 145.6H503.45L503.42 144.20Z" fill="#111"/>
<line x1="483.80" y1="133.40" x2="484.40" y2="138.50" stroke="#999" stroke-width="0.6"/>
<line x1="466.40" y1="158.50" x2="503.70" y2="158.50" stroke="#8a8a8a" stroke-width="0.95" />
<line x1="466.40" y1="155.30" x2="466.40" y2="158.50" stroke="#c8c8c8" stroke-width="0.6" />
<rect x="506.70" y="133.40" width="33.10" height="21.90" fill="none" stroke="#c4c4c4" stroke-width="0.6"/>
<line x1="506.70" y1="138.50" x2="539.80" y2="138.50" stroke="#e2e2e2" stroke-width="0.5" />
<line x1="506.70" y1="149.80" x2="539.80" y2="149.80" stroke="#e2e2e2" stroke-width="0.5" />
<line x1="511.18" y1="144.20" x2="511.18" y2="155.30" stroke="#8a8a8a" stroke-width="0.5"/><line x1="512.78" y1="144.20" x2="512.78" y2="155.30" stroke="#bdbdbd" stroke-width="0.7"/><line x1="513.98" y1="144.20" x2="513.98" y2="155.30" stroke="#6a6a6a" stroke-width="0.7"/><line x1="518.50" y1="144.20" x2="518.50" y2="155.30" stroke="#a8a8a8" stroke-width="0.9"/><line x1="518.86" y1="144.20" x2="518.86" y2="155.30" stroke="#bdbdbd" stroke-width="0.7"/><line x1="520.58" y1="144.20" x2="520.58" y2="155.30" stroke="#a8a8a8" stroke-width="0.9"/><line x1="523.28" y1="144.20" x2="523.28" y2="155.30" stroke="#bdbdbd" stroke-width="0.9"/><line x1="525.07" y1="144.20" x2="525.07" y2="155.30" stroke="#bdbdbd" stroke-width="0.7"/><line x1="529.89" y1="144.20" x2="529.89" y2="155.30" stroke="#a8a8a8" stroke-width="0.7"/><line x1="536.96" y1="144.20" x2="536.96" y2="155.30" stroke="#a8a8a8" stroke-width="0.5"/><line x1="537.44" y1="144.20" x2="537.44" y2="155.30" stroke="#6a6a6a" stroke-width="0.5"/>
<path d="M508.7 144.2V142.2M513.7 144.2V135.6M520.7 144.2V141.8M526.7 144.2V139.1M531.2 144.2V143.1M532.2 144.2V142.3M533.7 144.2V142.8M539.2 144.2V141.8" stroke="#9a9a9a" stroke-width="0.4" fill="none"/>
<path d="M506.78 144.20L506.75 143.9H507.25L507.25 143.4H507.75L507.75 140.3H508.25L508.25 143.9H508.75L508.75 143.9H509.25L509.25 143.9H509.75L509.75 143.9H510.25L510.25 143.9H510.75L510.75 143.9H511.25L511.25 141.9H511.75L511.75 143.5H512.25L512.25 142.9H512.75L512.75 143.9H513.25L513.25 137.7H513.75L513.75 143.9H514.25L514.25 139.1H514.75L514.75 143.9H515.25L515.25 140.1H515.75L515.75 143.0H516.25L516.25 143.5H516.75L516.75 142.1H517.25L517.25 143.6H517.75L517.75 142.7H518.25L518.25 143.9H518.75L518.75 143.1H519.25L519.25 143.6H519.75L519.75 143.9H520.25L520.25 143.1H520.75L520.75 143.9H521.25L521.25 143.0H521.75L521.75 142.5H522.25L522.25 143.9H522.75L522.75 140.1H523.25L523.25 142.8H523.75L523.75 143.9H524.25L524.25 142.6H524.75L524.75 143.9H525.25L525.25 143.0H525.75L525.75 143.9H526.25L526.25 142.5H526.75L526.75 143.2H527.25L527.25 143.9H527.75L527.75 143.9H528.25L528.25 143.9H528.75L528.75 143.2H529.25L529.25 143.9H529.75L529.75 143.9H530.25L530.25 142.7H530.75L530.75 143.9H531.25L531.25 143.9H531.75L531.75 143.9H532.25L532.25 143.9H532.75L532.75 143.9H533.25L533.25 143.9H533.75L533.75 143.2H534.25L534.25 143.8H534.75L534.75 143.9H535.25L535.25 143.9H535.75L535.75 143.9H536.25L536.25 143.9H536.75L536.75 143.8H537.25L537.25 143.9H537.75L537.75 143.9H538.25L538.25 143.4H538.75L538.75 143.9H539.25L539.22 144.20ZM506.78 144.20L506.75 144.7H507.25L507.25 144.6H507.75L507.75 144.6H508.25L508.25 145.1H508.75L508.75 144.6H509.25L509.25 144.9H509.75L509.75 144.6H510.25L510.25 144.6H510.75L510.75 145.5H511.25L511.25 144.6H511.75L511.75 144.6H512.25L512.25 144.6H512.75L512.75 146.0H513.25L513.25 144.6H513.75L513.75 144.6H514.25L514.25 144.6H514.75L514.75 144.6H515.25L515.25 144.6H515.75L515.75 144.6H516.25L516.25 144.6H516.75L516.75 144.6H517.25L517.25 144.6H517.75L517.75 144.6H518.25L518.25 145.9H518.75L518.75 144.6H519.25L519.25 144.6H519.75L519.75 145.3H520.25L520.25 144.6H520.75L520.75 145.8H521.25L521.25 144.6H521.75L521.75 144.6H522.25L522.25 144.6H522.75L522.75 144.6H523.25L523.25 144.6H523.75L523.75 145.2H524.25L524.25 144.6H524.75L524.75 145.1H525.25L525.25 144.6H525.75L525.75 144.6H526.25L526.25 144.6H526.75L526.75 144.6H527.25L527.25 144.6H527.75L527.75 145.3H528.25L528.25 145.0H528.75L528.75 144.6H529.25L529.25 147.0H529.75L529.75 144.6H530.25L530.25 144.6H530.75L530.75 145.0H531.25L531.25 145.5H531.75L531.75 144.7H532.25L532.25 145.1H532.75L532.75 146.9H533.25L533.25 146.3H533.75L533.75 144.6H534.25L534.25 144.6H534.75L534.75 145.2H535.25L535.25 144.6H535.75L535.75 144.6H536.25L536.25 148.0H536.75L536.75 144.6H537.25L537.25 146.9H537.75L537.75 144.9H538.25L538.25 144.6H538.75L538.75 145.2H539.25L539.22 144.20Z" fill="#111"/>
<line x1="527.40" y1="133.40" x2="528.00" y2="138.50" stroke="#999" stroke-width="0.6"/>
<line x1="506.70" y1="158.50" x2="539.80" y2="158.50" stroke="#8a8a8a" stroke-width="0.95" />
<line x1="506.70" y1="155.30" x2="506.70" y2="158.50" stroke="#c8c8c8" stroke-width="0.6" />
<ellipse cx="531.90" cy="158.50" rx="1.15" ry="1.5" fill="#111"/>
<rect x="542.90" y="133.40" width="24.60" height="21.90" fill="none" stroke="#c4c4c4" stroke-width="0.6"/>
<line x1="542.90" y1="138.50" x2="567.50" y2="138.50" stroke="#e2e2e2" stroke-width="0.5" />
<line x1="542.90" y1="149.80" x2="567.50" y2="149.80" stroke="#e2e2e2" stroke-width="0.5" />
<line x1="544.38" y1="144.20" x2="544.38" y2="155.30" stroke="#6a6a6a" stroke-width="0.5"/><line x1="544.36" y1="144.20" x2="544.36" y2="155.30" stroke="#bdbdbd" stroke-width="0.9"/><line x1="551.82" y1="144.20" x2="551.82" y2="155.30" stroke="#bdbdbd" stroke-width="0.5"/><line x1="560.69" y1="144.20" x2="560.69" y2="155.30" stroke="#bdbdbd" stroke-width="0.9"/><line x1="563.39" y1="144.20" x2="563.39" y2="155.30" stroke="#bdbdbd" stroke-width="0.5"/><line x1="565.17" y1="144.20" x2="565.17" y2="155.30" stroke="#8a8a8a" stroke-width="0.9"/><line x1="565.62" y1="144.20" x2="565.62" y2="155.30" stroke="#a8a8a8" stroke-width="0.9"/><line x1="565.57" y1="144.20" x2="565.57" y2="155.30" stroke="#8a8a8a" stroke-width="0.5"/>
<path d="M546.9 144.2V141.8M554.9 144.2V142.1M555.4 144.2V142.1M557.4 144.2V140.4M560.9 144.2V139.6M562.4 144.2V139.6" stroke="#9a9a9a" stroke-width="0.4" fill="none"/>
<path d="M542.98 144.20L542.95 141.4H543.45L543.45 143.9H543.95L543.95 143.9H544.45L544.45 143.9H544.95L544.95 143.9H545.45L545.45 143.9H545.95L545.95 143.9H546.45L546.45 143.7H546.95L546.95 143.9H547.45L547.45 143.9H547.95L547.95 141.6H548.45L548.45 143.9H548.95L548.95 143.7H549.45L549.45 140.9H549.95L549.95 143.9H550.45L550.45 143.9H550.95L550.95 143.6H551.45L551.45 142.8H551.95L551.95 143.9H552.45L552.45 143.0H552.95L552.95 143.9H553.45L553.45 143.9H553.95L553.95 140.2H554.45L554.45 143.9H554.95L554.95 143.9H555.45L555.45 143.9H555.95L555.95 143.1H556.45L556.45 143.9H556.95L556.95 143.6H557.45L557.45 143.7H557.95L557.95 143.9H558.45L558.45 139.0H558.95L558.95 143.9H559.45L559.45 143.2H559.95L559.95 143.9H560.45L560.45 143.1H560.95L560.95 142.4H561.45L561.45 142.2H561.95L561.95 141.8H562.45L562.45 143.9H562.95L562.95 143.9H563.45L563.45 143.0H563.95L563.95 142.5H564.45L564.45 143.9H564.95L564.95 143.0H565.45L565.45 143.5H565.95L565.95 141.8H566.45L566.45 143.9H566.95L566.95 143.7H567.45L567.42 144.20ZM542.98 144.20L542.95 144.6H543.45L543.45 144.7H543.95L543.95 145.2H544.45L544.45 146.3H544.95L544.95 144.7H545.45L545.45 146.0H545.95L545.95 144.8H546.45L546.45 144.6H546.95L546.95 145.0H547.45L547.45 145.4H547.95L547.95 144.6H548.45L548.45 149.3H548.95L548.95 144.6H549.45L549.45 144.6H549.95L549.95 144.9H550.45L550.45 144.7H550.95L550.95 144.6H551.45L551.45 144.6H551.95L551.95 145.5H552.45L552.45 144.6H552.95L552.95 145.1H553.45L553.45 144.6H553.95L553.95 144.6H554.45L554.45 145.9H554.95L554.95 144.6H555.45L555.45 147.4H555.95L555.95 144.6H556.45L556.45 144.9H556.95L556.95 144.6H557.45L557.45 144.6H557.95L557.95 150.1H558.45L558.45 144.6H558.95L558.95 145.7H559.45L559.45 144.6H559.95L559.95 146.3H560.45L560.45 144.6H560.95L560.95 144.6H561.45L561.45 144.6H561.95L561.95 144.6H562.45L562.45 145.3H562.95L562.95 144.7H563.45L563.45 144.6H563.95L563.95 144.6H564.45L564.45 146.3H564.95L564.95 144.6H565.45L565.45 144.6H565.95L565.95 144.6H566.45L566.45 144.9H566.95L566.95 144.6H567.45L567.42 144.20Z" fill="#111"/>
<line x1="552.30" y1="133.40" x2="552.90" y2="138.50" stroke="#999" stroke-width="0.6"/>
<line x1="542.90" y1="158.50" x2="567.50" y2="158.50" stroke="#8a8a8a" stroke-width="0.95" />
<line x1="542.90" y1="155.30" x2="542.90" y2="158.50" stroke="#c8c8c8" stroke-width="0.6" />
<ellipse cx="558.10" cy="158.50" rx="1.15" ry="1.5" fill="#111"/>
<rect x="571.10" y="133.40" width="20.80" height="21.90" fill="none" stroke="#c4c4c4" stroke-width="0.6"/>
<line x1="571.10" y1="138.50" x2="591.90" y2="138.50" stroke="#e2e2e2" stroke-width="0.5" />
<line x1="571.10" y1="149.80" x2="591.90" y2="149.80" stroke="#e2e2e2" stroke-width="0.5" />
<line x1="573.75" y1="144.20" x2="573.75" y2="155.30" stroke="#6a6a6a" stroke-width="0.5"/><line x1="575.29" y1="144.20" x2="575.29" y2="155.30" stroke="#a8a8a8" stroke-width="0.9"/><line x1="579.88" y1="144.20" x2="579.88" y2="155.30" stroke="#a8a8a8" stroke-width="0.9"/><line x1="583.06" y1="144.20" x2="583.06" y2="155.30" stroke="#bdbdbd" stroke-width="0.5"/><line x1="586.32" y1="144.20" x2="586.32" y2="155.30" stroke="#bdbdbd" stroke-width="0.7"/><line x1="588.63" y1="144.20" x2="588.63" y2="155.30" stroke="#a8a8a8" stroke-width="0.7"/>
<path d="M576.6 144.2V140.7M579.6 144.2V142.0M584.1 144.2V141.2M584.6 144.2V141.8M588.6 144.2V142.4M591.6 144.2V141.1" stroke="#9a9a9a" stroke-width="0.4" fill="none"/>
<path d="M571.18 144.20L571.15 143.9H571.65L571.65 143.8H572.15L572.15 143.9H572.65L572.65 143.9H573.15L573.15 143.3H573.65L573.65 143.9H574.15L574.15 142.0H574.65L574.65 143.9H575.15L575.15 143.9H575.65L575.65 143.9H576.15L576.15 143.9H576.65L576.65 143.9H577.15L577.15 143.7H577.65L577.65 143.9H578.15L578.15 143.9H578.65L578.65 143.9H579.15L579.15 143.9H579.65L579.65 143.9H580.15L580.15 143.9H580.65L580.65 143.3H581.15L581.15 143.9H581.65L581.65 143.9H582.15L582.15 143.9H582.65L582.65 143.9H583.15L583.15 143.9H583.65L583.65 143.9H584.15L584.15 143.9H584.65L584.65 143.4H585.15L585.15 143.3H585.65L585.65 143.9H586.15L586.15 143.7H586.65L586.65 143.9H587.15L587.15 143.1H587.65L587.65 143.7H588.15L588.15 143.9H588.65L588.65 143.1H589.15L589.15 143.9H589.65L589.65 143.9H590.15L590.15 142.7H590.65L590.65 141.5H591.15L591.15 143.9H591.65L591.62 144.20ZM571.18 144.20L571.15 146.0H571.65L571.65 144.6H572.15L572.15 144.6H572.65L572.65 144.6H573.15L573.15 144.6H573.65L573.65 145.8H574.15L574.15 144.6H574.65L574.65 144.7H575.15L575.15 144.8H575.65L575.65 144.7H576.15L576.15 146.6H576.65L576.65 147.4H577.15L577.15 144.6H577.65L577.65 144.6H578.15L578.15 144.6H578.65L578.65 144.6H579.15L579.15 144.6H579.65L579.65 144.6H580.15L580.15 144.6H580.65L580.65 144.6H581.15L581.15 144.6H581.65L581.65 145.2H582.15L582.15 144.7H582.65L582.65 145.1H583.15L583.15 144.6H583.65L583.65 144.6H584.15L584.15 145.9H584.65L584.65 144.6H585.15L585.15 144.6H585.65L585.65 145.4H586.15L586.15 144.6H586.65L586.65 145.4H587.15L587.15 144.6H587.65L587.65 144.6H588.15L588.15 144.8H588.65L588.65 144.6H589.15L589.15 144.6H589.65L589.65 144.6H590.15L590.15 144.6H590.65L590.65 144.6H591.15L591.15 144.9H591.65L591.62 144.20Z" fill="#111"/>
<line x1="590.60" y1="133.40" x2="591.20" y2="138.50" stroke="#999" stroke-width="0.6"/>
<line x1="571.10" y1="158.50" x2="591.90" y2="158.50" stroke="#8a8a8a" stroke-width="0.95" />
<line x1="571.10" y1="155.30" x2="571.10" y2="158.50" stroke="#c8c8c8" stroke-width="0.6" />
<ellipse cx="589.10" cy="158.50" rx="1.15" ry="1.5" fill="#111"/>
<rect x="595.00" y="133.40" width="19.50" height="21.90" fill="none" stroke="#c4c4c4" stroke-width="0.6"/>
<line x1="595.00" y1="138.50" x2="614.50" y2="138.50" stroke="#e2e2e2" stroke-width="0.5" />
<line x1="595.00" y1="149.80" x2="614.50" y2="149.80" stroke="#e2e2e2" stroke-width="0.5" />
<line x1="599.86" y1="144.20" x2="599.86" y2="155.30" stroke="#a8a8a8" stroke-width="0.7"/><line x1="605.36" y1="144.20" x2="605.36" y2="155.30" stroke="#a8a8a8" stroke-width="0.9"/><line x1="608.67" y1="144.20" x2="608.67" y2="155.30" stroke="#8a8a8a" stroke-width="0.7"/><line x1="608.89" y1="144.20" x2="608.89" y2="155.30" stroke="#a8a8a8" stroke-width="0.9"/><line x1="610.01" y1="144.20" x2="610.01" y2="155.30" stroke="#6a6a6a" stroke-width="0.5"/><line x1="610.29" y1="144.20" x2="610.29" y2="155.30" stroke="#a8a8a8" stroke-width="0.7"/>
<path d="M601.0 144.2V135.1M607.0 144.2V134.7" stroke="#9a9a9a" stroke-width="0.4" fill="none"/>
<path d="M595.08 144.20L595.05 137.5H595.55L595.55 136.4H596.05L596.05 139.7H596.55L596.55 137.6H597.05L597.05 138.9H597.55L597.55 139.3H598.05L598.05 137.8H598.55L598.55 139.3H599.05L599.05 137.6H599.55L599.55 143.9H600.05L600.05 137.8H600.55L600.55 138.8H601.05L601.05 140.2H601.55L601.55 138.9H602.05L602.05 137.9H602.55L602.55 136.9H603.05L603.05 137.6H603.55L603.55 138.6H604.05L604.05 139.3H604.55L604.55 137.1H605.05L605.05 140.0H605.55L605.55 137.6H606.05L606.05 140.2H606.55L606.55 138.3H607.05L607.05 139.0H607.55L607.55 134.8H608.05L608.05 138.5H608.55L608.55 143.9H609.05L609.05 136.5H609.55L609.55 139.0H610.05L610.05 138.8H610.55L610.55 137.2H611.05L611.05 139.1H611.55L611.55 136.7H612.05L612.05 139.1H612.55L612.55 138.2H613.05L613.05 139.1H613.55L613.55 137.6H614.05L614.02 144.20ZM595.08 144.20L595.05 144.6H595.55L595.55 144.6H596.05L596.05 144.6H596.55L596.55 144.6H597.05L597.05 144.6H597.55L597.55 144.6H598.05L598.05 144.6H598.55L598.55 144.6H599.05L599.05 144.6H599.55L599.55 145.4H600.05L600.05 144.6H600.55L600.55 144.6H601.05L601.05 144.6H601.55L601.55 144.6H602.05L602.05 144.6H602.55L602.55 144.6H603.05L603.05 144.6H603.55L603.55 144.6H604.05L604.05 144.6H604.55L604.55 144.6H605.05L605.05 144.6H605.55L605.55 144.6H606.05L606.05 144.6H606.55L606.55 144.6H607.05L607.05 144.6H607.55L607.55 144.6H608.05L608.05 144.6H608.55L608.55 147.0H609.05L609.05 144.6H609.55L609.55 144.6H610.05L610.05 144.6H610.55L610.55 144.6H611.05L611.05 144.6H611.55L611.55 144.6H612.05L612.05 144.6H612.55L612.55 144.6H613.05L613.05 144.6H613.55L613.55 144.6H614.05L614.02 144.20Z" fill="#111"/>
<line x1="604.00" y1="133.40" x2="604.60" y2="138.50" stroke="#999" stroke-width="0.6"/>
<line x1="595.00" y1="158.50" x2="614.50" y2="158.50" stroke="#8a8a8a" stroke-width="0.95" />
<line x1="595.00" y1="155.30" x2="595.00" y2="158.50" stroke="#c8c8c8" stroke-width="0.6" />
<ellipse cx="600.10" cy="158.50" rx="1.15" ry="1.5" fill="#111"/>
<ellipse cx="607.30" cy="158.50" rx="1.15" ry="1.5" fill="#111"/>
<rect x="618.30" y="133.40" width="46.90" height="21.90" fill="none" stroke="#c4c4c4" stroke-width="0.6"/>
<line x1="618.30" y1="138.50" x2="665.20" y2="138.50" stroke="#e2e2e2" stroke-width="0.5" />
<line x1="618.30" y1="149.80" x2="665.20" y2="149.80" stroke="#e2e2e2" stroke-width="0.5" />
<line x1="622.10" y1="144.20" x2="622.10" y2="155.30" stroke="#6a6a6a" stroke-width="0.9"/><line x1="627.09" y1="144.20" x2="627.09" y2="155.30" stroke="#bdbdbd" stroke-width="0.5"/><line x1="627.78" y1="144.20" x2="627.78" y2="155.30" stroke="#8a8a8a" stroke-width="0.7"/><line x1="628.33" y1="144.20" x2="628.33" y2="155.30" stroke="#bdbdbd" stroke-width="0.9"/><line x1="629.97" y1="144.20" x2="629.97" y2="155.30" stroke="#6a6a6a" stroke-width="0.5"/><line x1="630.40" y1="144.20" x2="630.40" y2="155.30" stroke="#6a6a6a" stroke-width="0.9"/><line x1="630.72" y1="144.20" x2="630.72" y2="155.30" stroke="#6a6a6a" stroke-width="0.9"/><line x1="642.51" y1="144.20" x2="642.51" y2="155.30" stroke="#bdbdbd" stroke-width="0.7"/><line x1="644.11" y1="144.20" x2="644.11" y2="155.30" stroke="#bdbdbd" stroke-width="0.9"/><line x1="645.50" y1="144.20" x2="645.50" y2="155.30" stroke="#a8a8a8" stroke-width="0.9"/><line x1="654.74" y1="144.20" x2="654.74" y2="155.30" stroke="#6a6a6a" stroke-width="0.9"/><line x1="655.56" y1="144.20" x2="655.56" y2="155.30" stroke="#a8a8a8" stroke-width="0.5"/><line x1="657.61" y1="144.20" x2="657.61" y2="155.30" stroke="#a8a8a8" stroke-width="0.5"/><line x1="660.98" y1="144.20" x2="660.98" y2="155.30" stroke="#6a6a6a" stroke-width="0.5"/><line x1="662.25" y1="144.20" x2="662.25" y2="155.30" stroke="#8a8a8a" stroke-width="0.9"/>
<path d="M620.3 144.2V142.2M623.3 144.2V142.1M630.3 144.2V142.9M632.8 144.2V140.8M633.8 144.2V142.2M635.8 144.2V141.2M636.8 144.2V142.5M637.8 144.2V142.3M643.3 144.2V140.4M646.8 144.2V142.4M653.3 144.2V142.7M653.8 144.2V141.4M656.3 144.2V141.7" stroke="#9a9a9a" stroke-width="0.4" fill="none"/>
<path d="M618.38 144.20L618.35 143.9H618.85L618.85 142.8H619.35L619.35 143.9H619.85L619.85 143.9H620.35L620.35 142.3H620.85L620.85 140.6H621.35L621.35 142.1H621.85L621.85 141.9H622.35L622.35 143.9H622.85L622.85 143.9H623.35L623.35 143.9H623.85L623.85 143.9H624.35L624.35 141.4H624.85L624.85 143.9H625.35L625.35 143.9H625.85L625.85 143.9H626.35L626.35 143.9H626.85L626.85 143.9H627.35L627.35 140.9H627.85L627.85 143.7H628.35L628.35 143.9H628.85L628.85 143.9H629.35L629.35 143.0H629.85L629.85 143.9H630.35L630.35 143.9H630.85L630.85 143.9H631.35L631.35 143.8H631.85L631.85 143.9H632.35L632.35 143.9H632.85L632.85 142.8H633.35L633.35 143.9H633.85L633.85 143.9H634.35L634.35 142.0H634.85L634.85 143.7H635.35L635.35 143.8H635.85L635.85 143.9H636.35L636.35 143.9H636.85L636.85 140.2H637.35L637.35 143.9H637.85L637.85 143.0H638.35L638.35 143.9H638.85L638.85 142.5H639.35L639.35 142.5H639.85L639.85 143.3H640.35L640.35 143.9H640.85L640.85 143.9H641.35L641.35 143.9H641.85L641.85 143.9H642.35L642.35 143.9H642.85L642.85 143.9H643.35L643.35 143.9H643.85L643.85 143.9H644.35L644.35 143.9H644.85L644.85 143.9H645.35L645.35 143.9H645.85L645.85 143.9H646.35L646.35 143.9H646.85L646.85 143.9H647.35L647.35 143.9H647.85L647.85 143.9H648.35L648.35 143.9H648.85L648.85 143.9H649.35L649.35 143.9H649.85L649.85 143.9H650.35L650.35 143.9H650.85L650.85 143.9H651.35L651.35 143.9H651.85L651.85 143.9H652.35L652.35 143.9H652.85L652.85 143.9H653.35L653.35 143.9H653.85L653.85 143.9H654.35L654.35 143.9H654.85L654.85 143.9H655.35L655.35 143.9H655.85L655.85 143.9H656.35L656.35 143.9H656.85L656.85 143.9H657.35L657.35 143.9H657.85L657.85 143.9H658.35L658.35 143.9H658.85L658.85 143.9H659.35L659.35 142.0H659.85L659.85 142.9H660.35L660.35 143.7H660.85L660.85 143.9H661.35L661.35 143.9H661.85L661.85 140.1H662.35L662.35 142.1H662.85L662.85 143.9H663.35L663.35 142.6H663.85L663.85 141.6H664.35L664.35 143.9H664.85L664.82 144.20ZM618.38 144.20L618.35 144.6H618.85L618.85 144.6H619.35L619.35 144.6H619.85L619.85 145.5H620.35L620.35 144.6H620.85L620.85 144.6H621.35L621.35 144.6H621.85L621.85 144.6H622.35L622.35 145.2H622.85L622.85 144.6H623.35L623.35 144.6H623.85L623.85 144.6H624.35L624.35 144.6H624.85L624.85 144.6H625.35L625.35 146.6H625.85L625.85 145.7H626.35L626.35 144.6H626.85L626.85 144.8H627.35L627.35 144.6H627.85L627.85 144.6H628.35L628.35 144.6H628.85L628.85 144.6H629.35L629.35 144.6H629.85L629.85 144.6H630.35L630.35 145.8H630.85L630.85 145.9H631.35L631.35 144.6H631.85L631.85 145.6H632.35L632.35 144.6H632.85L632.85 144.6H633.35L633.35 145.2H633.85L633.85 144.6H634.35L634.35 144.6H634.85L634.85 144.6H635.35L635.35 144.6H635.85L635.85 144.9H636.35L636.35 145.4H636.85L636.85 144.6H637.35L637.35 146.3H637.85L637.85 144.6H638.35L638.35 144.6H638.85L638.85 144.6H639.35L639.35 144.6H639.85L639.85 144.6H640.35L640.35 144.6H640.85L640.85 147.3H641.35L641.35 148.5H641.85L641.85 148.4H642.35L642.35 148.2H642.85L642.85 149.4H643.35L643.35 146.5H643.85L643.85 147.6H644.35L644.35 148.2H644.85L644.85 151.4H645.35L645.35 146.8H645.85L645.85 148.3H646.35L646.35 147.8H646.85L646.85 147.3H647.35L647.35 147.1H647.85L647.85 148.7H648.35L648.35 147.6H648.85L648.85 147.4H649.35L649.35 148.1H649.85L649.85 147.9H650.35L650.35 149.3H650.85L650.85 146.7H651.35L651.35 147.6H651.85L651.85 148.0H652.35L652.35 147.9H652.85L652.85 148.0H653.35L653.35 148.5H653.85L653.85 146.8H654.35L654.35 150.2H654.85L654.85 147.3H655.35L655.35 145.6H655.85L655.85 147.5H656.35L656.35 148.3H656.85L656.85 144.6H657.35L657.35 146.5H657.85L657.85 144.6H658.35L658.35 144.8H658.85L658.85 144.8H659.35L659.35 144.6H659.85L659.85 144.6H660.35L660.35 144.6H660.85L660.85 144.9H661.35L661.35 144.6H661.85L661.85 144.6H662.35L662.35 144.6H662.85L662.85 144.7H663.35L663.35 144.6H663.85L663.85 144.6H664.35L664.35 147.1H664.85L664.82 144.20Z" fill="#111"/>
<line x1="656.00" y1="133.40" x2="656.60" y2="138.50" stroke="#999" stroke-width="0.6"/>
<line x1="618.30" y1="158.50" x2="665.20" y2="158.50" stroke="#8a8a8a" stroke-width="0.95" />
<line x1="618.30" y1="155.30" x2="618.30" y2="158.50" stroke="#c8c8c8" stroke-width="0.6" />
<ellipse cx="646.60" cy="158.50" rx="1.15" ry="1.5" fill="#111"/>
<ellipse cx="657.6" cy="158.50" rx="1.0" ry="1.4" fill="#3344cc"/>
<text x="331.6" y="177.60" font-size="9" fill="#231f20">2<tspan font-style="italic">n</tspan></text>
<line x1="342.60" y1="174.50" x2="345.00" y2="174.50" stroke="#111" stroke-width="0.8" />
<path d="M347.3,174.50 L343.8,172.70 L344.4,174.50 L343.8,176.30 Z" fill="#111"/>
<line x1="668.50" y1="168.80" x2="671.80" y2="168.80" stroke="#111" stroke-width="0.8" />
<path d="M666.4,168.80 L670.0,166.90 L669.4,168.80 L670.0,170.70 Z" fill="#111"/>
<text x="672.9" y="172.00" font-size="9.6" fill="#231f20">3<tspan font-style="italic">n</tspan></text>
<line x1="668.50" y1="180.10" x2="671.80" y2="180.10" stroke="#111" stroke-width="0.8" />
<path d="M666.4,180.10 L670.0,178.20 L669.4,180.10 L670.0,182.00 Z" fill="#111"/>
<text x="672.9" y="183.30" font-size="9.6" fill="#231f20">1<tspan font-style="italic">n</tspan></text>
<rect x="347.20" y="163.70" width="66.60" height="21.90" fill="none" stroke="#c4c4c4" stroke-width="0.6"/>
<line x1="347.20" y1="168.80" x2="413.80" y2="168.80" stroke="#e2e2e2" stroke-width="0.5" />
<line x1="347.20" y1="180.10" x2="413.80" y2="180.10" stroke="#e2e2e2" stroke-width="0.5" />
<line x1="352.63" y1="174.50" x2="352.63" y2="185.60" stroke="#6a6a6a" stroke-width="0.5"/><line x1="356.46" y1="174.50" x2="356.46" y2="185.60" stroke="#8a8a8a" stroke-width="0.5"/><line x1="357.20" y1="174.50" x2="357.20" y2="185.60" stroke="#a8a8a8" stroke-width="0.9"/><line x1="361.61" y1="174.50" x2="361.61" y2="185.60" stroke="#a8a8a8" stroke-width="0.5"/><line x1="362.52" y1="174.50" x2="362.52" y2="185.60" stroke="#8a8a8a" stroke-width="0.7"/><line x1="366.09" y1="174.50" x2="366.09" y2="185.60" stroke="#6a6a6a" stroke-width="0.9"/><line x1="370.50" y1="174.50" x2="370.50" y2="185.60" stroke="#a8a8a8" stroke-width="0.7"/><line x1="378.59" y1="174.50" x2="378.59" y2="185.60" stroke="#bdbdbd" stroke-width="0.9"/><line x1="379.26" y1="174.50" x2="379.26" y2="185.60" stroke="#a8a8a8" stroke-width="0.7"/><line x1="380.20" y1="174.50" x2="380.20" y2="185.60" stroke="#a8a8a8" stroke-width="0.7"/><line x1="382.61" y1="174.50" x2="382.61" y2="185.60" stroke="#8a8a8a" stroke-width="0.9"/><line x1="387.16" y1="174.50" x2="387.16" y2="185.60" stroke="#8a8a8a" stroke-width="0.9"/><line x1="392.46" y1="174.50" x2="392.46" y2="185.60" stroke="#8a8a8a" stroke-width="0.7"/><line x1="394.86" y1="174.50" x2="394.86" y2="185.60" stroke="#6a6a6a" stroke-width="0.5"/><line x1="397.61" y1="174.50" x2="397.61" y2="185.60" stroke="#a8a8a8" stroke-width="0.9"/><line x1="400.23" y1="174.50" x2="400.23" y2="185.60" stroke="#6a6a6a" stroke-width="0.7"/><line x1="407.33" y1="174.50" x2="407.33" y2="185.60" stroke="#6a6a6a" stroke-width="0.7"/>
<path d="M350.7 174.5V171.9M352.2 174.5V168.7M352.7 174.5V171.2M353.7 174.5V170.3M354.2 174.5V169.0M355.7 174.5V173.0M361.7 174.5V172.8M363.7 174.5V172.8M365.7 174.5V171.8M369.7 174.5V170.8M370.2 174.5V170.7M371.2 174.5V172.9M372.7 174.5V171.6M373.7 174.5V172.3M375.7 174.5V170.7M376.7 174.5V170.5M383.2 174.5V170.6M384.7 174.5V170.6M386.2 174.5V172.4M390.2 174.5V171.4M399.7 174.5V168.8M402.7 174.5V168.9M405.7 174.5V171.5M406.2 174.5V172.3M407.2 174.5V171.3M408.2 174.5V168.3M409.7 174.5V167.8" stroke="#9a9a9a" stroke-width="0.4" fill="none"/>
<path d="M347.28 174.50L347.25 169.0H347.75L347.75 174.2H348.25L348.25 173.1H348.75L348.75 173.2H349.25L349.25 172.3H349.75L349.75 171.1H350.25L350.25 173.8H350.75L350.75 173.1H351.25L351.25 171.7H351.75L351.75 172.0H352.25L352.25 174.2H352.75L352.75 173.4H353.25L353.25 172.6H353.75L353.75 172.1H354.25L354.25 172.2H354.75L354.75 170.0H355.25L355.25 174.2H355.75L355.75 173.6H356.25L356.25 174.2H356.75L356.75 174.2H357.25L357.25 174.2H357.75L357.75 174.2H358.25L358.25 174.2H358.75L358.75 174.2H359.25L359.25 174.2H359.75L359.75 174.2H360.25L360.25 174.1H360.75L360.75 173.2H361.25L361.25 174.2H361.75L361.75 170.6H362.25L362.25 173.8H362.75L362.75 174.2H363.25L363.25 174.2H363.75L363.75 174.2H364.25L364.25 174.2H364.75L364.75 174.2H365.25L365.25 174.2H365.75L365.75 174.2H366.25L366.25 168.8H366.75L366.75 174.2H367.25L367.25 173.8H367.75L367.75 173.7H368.25L368.25 174.2H368.75L368.75 174.2H369.25L369.25 174.2H369.75L369.75 174.1H370.25L370.25 174.2H370.75L370.75 174.2H371.25L371.25 174.2H371.75L371.75 173.2H372.25L372.25 174.2H372.75L372.75 170.5H373.25L373.25 173.8H373.75L373.75 172.1H374.25L374.25 174.2H374.75L374.75 173.7H375.25L375.25 174.2H375.75L375.75 173.9H376.25L376.25 173.3H376.75L376.75 174.2H377.25L377.25 171.2H377.75L377.75 174.2H378.25L378.25 172.6H378.75L378.75 169.6H379.25L379.25 170.6H379.75L379.75 174.2H380.25L380.25 174.2H380.75L380.75 174.1H381.25L381.25 174.2H381.75L381.75 171.4H382.25L382.25 174.2H382.75L382.75 174.2H383.25L383.25 174.2H383.75L383.75 174.0H384.25L384.25 174.0H384.75L384.75 174.2H385.25L385.25 173.8H385.75L385.75 174.2H386.25L386.25 172.7H386.75L386.75 174.2H387.25L387.25 174.2H387.75L387.75 173.4H388.25L388.25 174.2H388.75L388.75 174.2H389.25L389.25 170.7H389.75L389.75 174.2H390.25L390.25 174.2H390.75L390.75 174.2H391.25L391.25 174.2H391.75L391.75 174.2H392.25L392.25 173.6H392.75L392.75 174.2H393.25L393.25 174.2H393.75L393.75 174.2H394.25L394.25 173.2H394.75L394.75 174.2H395.25L395.25 174.2H395.75L395.75 173.2H396.25L396.25 173.0H396.75L396.75 174.2H397.25L397.25 174.0H397.75L397.75 174.2H398.25L398.25 173.7H398.75L398.75 174.2H399.25L399.25 172.7H399.75L399.75 174.2H400.25L400.25 174.2H400.75L400.75 173.6H401.25L401.25 174.2H401.75L401.75 174.2H402.25L402.25 171.1H402.75L402.75 174.2H403.25L403.25 174.2H403.75L403.75 173.9H404.25L404.25 174.2H404.75L404.75 172.3H405.25L405.25 174.2H405.75L405.75 173.4H406.25L406.25 174.2H406.75L406.75 173.5H407.25L407.25 172.9H407.75L407.75 171.8H408.25L408.25 174.0H408.75L408.75 174.2H409.25L409.25 170.6H409.75L409.75 174.2H410.25L410.25 174.2H410.75L410.75 173.3H411.25L411.25 174.2H411.75L411.75 174.2H412.25L412.25 174.2H412.75L412.75 173.9H413.25L413.22 174.50ZM347.28 174.50L347.25 174.8H347.75L347.75 175.4H348.25L348.25 174.8H348.75L348.75 174.8H349.25L349.25 174.8H349.75L349.75 174.8H350.25L350.25 174.8H350.75L350.75 174.8H351.25L351.25 174.8H351.75L351.75 174.8H352.25L352.25 175.3H352.75L352.75 174.8H353.25L353.25 174.8H353.75L353.75 174.8H354.25L354.25 174.8H354.75L354.75 174.8H355.25L355.25 177.1H355.75L355.75 174.8H356.25L356.25 174.8H356.75L356.75 176.4H357.25L357.25 176.6H357.75L357.75 177.4H358.25L358.25 174.8H358.75L358.75 174.8H359.25L359.25 174.8H359.75L359.75 175.2H360.25L360.25 174.8H360.75L360.75 174.8H361.25L361.25 177.8H361.75L361.75 174.8H362.25L362.25 174.8H362.75L362.75 175.5H363.25L363.25 175.6H363.75L363.75 175.0H364.25L364.25 175.6H364.75L364.75 175.0H365.25L365.25 175.6H365.75L365.75 174.8H366.25L366.25 174.8H366.75L366.75 174.8H367.25L367.25 174.8H367.75L367.75 174.8H368.25L368.25 174.9H368.75L368.75 176.4H369.25L369.25 174.8H369.75L369.75 174.8H370.25L370.25 176.6H370.75L370.75 174.8H371.25L371.25 174.8H371.75L371.75 174.8H372.25L372.25 174.8H372.75L372.75 174.8H373.25L373.25 174.8H373.75L373.75 174.8H374.25L374.25 176.0H374.75L374.75 174.8H375.25L375.25 175.6H375.75L375.75 174.8H376.25L376.25 174.8H376.75L376.75 175.2H377.25L377.25 174.8H377.75L377.75 175.1H378.25L378.25 174.8H378.75L378.75 174.8H379.25L379.25 174.8H379.75L379.75 174.8H380.25L380.25 175.6H380.75L380.75 174.8H381.25L381.25 175.0H381.75L381.75 174.8H382.25L382.25 176.5H382.75L382.75 176.7H383.25L383.25 176.0H383.75L383.75 174.8H384.25L384.25 174.8H384.75L384.75 177.2H385.25L385.25 174.8H385.75L385.75 174.8H386.25L386.25 174.8H386.75L386.75 175.0H387.25L387.25 175.1H387.75L387.75 174.8H388.25L388.25 175.3H388.75L388.75 174.8H389.25L389.25 174.8H389.75L389.75 174.8H390.25L390.25 175.5H390.75L390.75 177.5H391.25L391.25 174.8H391.75L391.75 176.0H392.25L392.25 174.8H392.75L392.75 174.8H393.25L393.25 175.5H393.75L393.75 174.8H394.25L394.25 174.8H394.75L394.75 174.8H395.25L395.25 175.2H395.75L395.75 174.8H396.25L396.25 174.8H396.75L396.75 175.0H397.25L397.25 174.8H397.75L397.75 174.8H398.25L398.25 174.8H398.75L398.75 174.8H399.25L399.25 174.8H399.75L399.75 176.4H400.25L400.25 176.2H400.75L400.75 174.8H401.25L401.25 174.8H401.75L401.75 174.8H402.25L402.25 174.8H402.75L402.75 176.9H403.25L403.25 174.8H403.75L403.75 174.8H404.25L404.25 176.0H404.75L404.75 174.8H405.25L405.25 174.8H405.75L405.75 174.8H406.25L406.25 175.2H406.75L406.75 174.8H407.25L407.25 174.8H407.75L407.75 174.8H408.25L408.25 174.8H408.75L408.75 179.9H409.25L409.25 174.8H409.75L409.75 174.8H410.25L410.25 174.9H410.75L410.75 174.8H411.25L411.25 176.3H411.75L411.75 176.3H412.25L412.25 176.2H412.75L412.75 174.8H413.25L413.22 174.50Z" fill="#111"/>
<line x1="380.30" y1="163.70" x2="380.90" y2="168.80" stroke="#999" stroke-width="0.6"/>
<line x1="347.20" y1="188.50" x2="413.80" y2="188.50" stroke="#8a8a8a" stroke-width="0.95" />
<line x1="347.20" y1="185.60" x2="347.20" y2="188.50" stroke="#c8c8c8" stroke-width="0.6" />
<ellipse cx="382.40" cy="188.50" rx="1.15" ry="1.5" fill="#111"/>
<rect x="417.10" y="163.70" width="46.50" height="21.90" fill="none" stroke="#c4c4c4" stroke-width="0.6"/>
<line x1="417.10" y1="168.80" x2="463.60" y2="168.80" stroke="#e2e2e2" stroke-width="0.5" />
<line x1="417.10" y1="180.10" x2="463.60" y2="180.10" stroke="#e2e2e2" stroke-width="0.5" />
<line x1="424.99" y1="174.50" x2="424.99" y2="185.60" stroke="#a8a8a8" stroke-width="0.9"/><line x1="425.67" y1="174.50" x2="425.67" y2="185.60" stroke="#6a6a6a" stroke-width="0.7"/><line x1="430.72" y1="174.50" x2="430.72" y2="185.60" stroke="#a8a8a8" stroke-width="0.9"/><line x1="434.93" y1="174.50" x2="434.93" y2="185.60" stroke="#bdbdbd" stroke-width="0.7"/><line x1="436.77" y1="174.50" x2="436.77" y2="185.60" stroke="#8a8a8a" stroke-width="0.7"/><line x1="440.74" y1="174.50" x2="440.74" y2="185.60" stroke="#a8a8a8" stroke-width="0.5"/><line x1="442.37" y1="174.50" x2="442.37" y2="185.60" stroke="#a8a8a8" stroke-width="0.7"/><line x1="442.90" y1="174.50" x2="442.90" y2="185.60" stroke="#a8a8a8" stroke-width="0.9"/><line x1="446.74" y1="174.50" x2="446.74" y2="185.60" stroke="#bdbdbd" stroke-width="0.9"/><line x1="449.81" y1="174.50" x2="449.81" y2="185.60" stroke="#bdbdbd" stroke-width="0.5"/><line x1="452.13" y1="174.50" x2="452.13" y2="185.60" stroke="#bdbdbd" stroke-width="0.7"/><line x1="457.38" y1="174.50" x2="457.38" y2="185.60" stroke="#bdbdbd" stroke-width="0.9"/>
<path d="M422.6 174.5V171.1M426.6 174.5V172.2M427.1 174.5V170.6M427.6 174.5V171.4M429.1 174.5V172.7M431.6 174.5V170.7M437.6 174.5V170.6M444.6 174.5V171.6M446.6 174.5V171.9M451.6 174.5V171.8M454.6 174.5V169.3M457.6 174.5V173.3M458.1 174.5V169.1M459.1 174.5V172.2" stroke="#9a9a9a" stroke-width="0.4" fill="none"/>
<path d="M417.18 174.50L417.15 174.2H417.65L417.65 173.0H418.15L418.15 174.1H418.65L418.65 173.1H419.15L419.15 174.2H419.65L419.65 173.7H420.15L420.15 174.2H420.65L420.65 171.2H421.15L421.15 173.8H421.65L421.65 174.2H422.15L422.15 174.2H422.65L422.65 174.2H423.15L423.15 174.2H423.65L423.65 171.1H424.15L424.15 174.2H424.65L424.65 174.2H425.15L425.15 174.2H425.65L425.65 174.2H426.15L426.15 174.2H426.65L426.65 174.1H427.15L427.15 173.0H427.65L427.65 174.2H428.15L428.15 173.8H428.65L428.65 174.2H429.15L429.15 174.2H429.65L429.65 173.7H430.15L430.15 174.2H430.65L430.65 174.2H431.15L431.15 174.2H431.65L431.65 174.2H432.15L432.15 173.2H432.65L432.65 173.2H433.15L433.15 173.1H433.65L433.65 174.2H434.15L434.15 174.2H434.65L434.65 171.7H435.15L435.15 174.2H435.65L435.65 172.8H436.15L436.15 174.2H436.65L436.65 174.2H437.15L437.15 174.2H437.65L437.65 174.2H438.15L438.15 174.2H438.65L438.65 173.9H439.15L439.15 174.2H439.65L439.65 173.4H440.15L440.15 174.2H440.65L440.65 173.2H441.15L441.15 174.2H441.65L441.65 174.2H442.15L442.15 173.1H442.65L442.65 173.6H443.15L443.15 173.0H443.65L443.65 172.9H444.15L444.15 173.8H444.65L444.65 173.6H445.15L445.15 173.6H445.65L445.65 172.0H446.15L446.15 174.2H446.65L446.65 172.7H447.15L447.15 174.2H447.65L447.65 174.2H448.15L448.15 172.3H448.65L448.65 174.0H449.15L449.15 174.2H449.65L449.65 172.7H450.15L450.15 173.6H450.65L450.65 174.2H451.15L451.15 174.1H451.65L451.65 173.7H452.15L452.15 174.2H452.65L452.65 171.8H453.15L453.15 170.3H453.65L453.65 174.2H454.15L454.15 172.1H454.65L454.65 174.1H455.15L455.15 172.3H455.65L455.65 173.0H456.15L456.15 174.2H456.65L456.65 169.8H457.15L457.15 174.2H457.65L457.65 173.0H458.15L458.15 171.9H458.65L458.65 174.1H459.15L459.15 173.6H459.65L459.65 174.2H460.15L460.15 174.2H460.65L460.65 174.2H461.15L461.15 173.1H461.65L461.65 174.2H462.15L462.15 174.1H462.65L462.65 173.8H463.15L463.12 174.50ZM417.18 174.50L417.15 176.7H417.65L417.65 174.8H418.15L418.15 174.8H418.65L418.65 174.8H419.15L419.15 175.5H419.65L419.65 174.8H420.15L420.15 175.1H420.65L420.65 174.8H421.15L421.15 174.8H421.65L421.65 174.8H422.15L422.15 175.5H422.65L422.65 175.1H423.15L423.15 174.8H423.65L423.65 174.8H424.15L424.15 174.8H424.65L424.65 176.5H425.15L425.15 175.2H425.65L425.65 175.3H426.15L426.15 175.4H426.65L426.65 174.8H427.15L427.15 174.8H427.65L427.65 175.7H428.15L428.15 174.8H428.65L428.65 175.0H429.15L429.15 174.8H429.65L429.65 174.8H430.15L430.15 175.0H430.65L430.65 175.0H431.15L431.15 175.0H431.65L431.65 175.3H432.15L432.15 174.8H432.65L432.65 174.8H433.15L433.15 174.8H433.65L433.65 175.9H434.15L434.15 176.5H434.65L434.65 174.8H435.15L435.15 176.7H435.65L435.65 174.8H436.15L436.15 174.9H436.65L436.65 176.0H437.15L437.15 175.4H437.65L437.65 176.6H438.15L438.15 175.6H438.65L438.65 174.8H439.15L439.15 175.0H439.65L439.65 174.8H440.15L440.15 174.8H440.65L440.65 174.8H441.15L441.15 174.8H441.65L441.65 174.8H442.15L442.15 174.8H442.65L442.65 174.8H443.15L443.15 174.8H443.65L443.65 174.8H444.15L444.15 174.8H444.65L444.65 174.8H445.15L445.15 174.8H445.65L445.65 174.8H446.15L446.15 175.1H446.65L446.65 174.8H447.15L447.15 174.8H447.65L447.65 176.9H448.15L448.15 174.8H448.65L448.65 174.8H449.15L449.15 174.8H449.65L449.65 174.8H450.15L450.15 174.8H450.65L450.65 176.5H451.15L451.15 174.8H451.65L451.65 174.8H452.15L452.15 174.8H452.65L452.65 174.8H453.15L453.15 174.8H453.65L453.65 175.8H454.15L454.15 174.8H454.65L454.65 174.8H455.15L455.15 174.8H455.65L455.65 174.8H456.15L456.15 174.8H456.65L456.65 174.8H457.15L457.15 174.8H457.65L457.65 174.8H458.15L458.15 174.8H458.65L458.65 174.8H459.15L459.15 174.8H459.65L459.65 174.8H460.15L460.15 176.4H460.65L460.65 175.2H461.15L461.15 174.8H461.65L461.65 177.4H462.15L462.15 174.8H462.65L462.65 174.8H463.15L463.12 174.50Z" fill="#111"/>
<line x1="460.80" y1="163.70" x2="461.40" y2="168.80" stroke="#999" stroke-width="0.6"/>
<line x1="417.10" y1="188.50" x2="463.60" y2="188.50" stroke="#8a8a8a" stroke-width="0.95" />
<line x1="417.10" y1="185.60" x2="417.10" y2="188.50" stroke="#c8c8c8" stroke-width="0.6" />
<ellipse cx="461.30" cy="188.50" rx="1.15" ry="1.5" fill="#111"/>
<rect x="466.40" y="163.70" width="37.30" height="21.90" fill="none" stroke="#c4c4c4" stroke-width="0.6"/>
<line x1="466.40" y1="168.80" x2="503.70" y2="168.80" stroke="#e2e2e2" stroke-width="0.5" />
<line x1="466.40" y1="180.10" x2="503.70" y2="180.10" stroke="#e2e2e2" stroke-width="0.5" />
<line x1="468.38" y1="174.50" x2="468.38" y2="185.60" stroke="#6a6a6a" stroke-width="0.9"/><line x1="472.38" y1="174.50" x2="472.38" y2="185.60" stroke="#8a8a8a" stroke-width="0.5"/><line x1="473.45" y1="174.50" x2="473.45" y2="185.60" stroke="#6a6a6a" stroke-width="0.5"/><line x1="474.37" y1="174.50" x2="474.37" y2="185.60" stroke="#8a8a8a" stroke-width="0.9"/><line x1="474.62" y1="174.50" x2="474.62" y2="185.60" stroke="#bdbdbd" stroke-width="0.5"/><line x1="478.36" y1="174.50" x2="478.36" y2="185.60" stroke="#a8a8a8" stroke-width="0.7"/><line x1="480.58" y1="174.50" x2="480.58" y2="185.60" stroke="#8a8a8a" stroke-width="0.9"/><line x1="482.05" y1="174.50" x2="482.05" y2="185.60" stroke="#a8a8a8" stroke-width="0.9"/><line x1="482.87" y1="174.50" x2="482.87" y2="185.60" stroke="#a8a8a8" stroke-width="0.9"/><line x1="487.04" y1="174.50" x2="487.04" y2="185.60" stroke="#6a6a6a" stroke-width="0.7"/><line x1="487.53" y1="174.50" x2="487.53" y2="185.60" stroke="#8a8a8a" stroke-width="0.5"/><line x1="496.24" y1="174.50" x2="496.24" y2="185.60" stroke="#bdbdbd" stroke-width="0.7"/>
<path d="M467.4 174.5V170.0M472.9 174.5V169.9M479.4 174.5V171.8M479.9 174.5V171.6M480.9 174.5V168.5M481.9 174.5V168.3M484.4 174.5V170.9M485.9 174.5V171.8M486.4 174.5V170.9M489.9 174.5V172.5M493.4 174.5V172.6M494.4 174.5V169.8M495.4 174.5V173.1M503.4 174.5V171.3" stroke="#9a9a9a" stroke-width="0.4" fill="none"/>
<path d="M466.48 174.50L466.45 174.2H466.95L466.95 173.6H467.45L467.45 174.1H467.95L467.95 174.2H468.45L468.45 174.2H468.95L468.95 173.1H469.45L469.45 174.2H469.95L469.95 174.2H470.45L470.45 174.2H470.95L470.95 174.2H471.45L471.45 173.5H471.95L471.95 174.2H472.45L472.45 173.0H472.95L472.95 174.2H473.45L473.45 173.8H473.95L473.95 174.2H474.45L474.45 171.9H474.95L474.95 174.2H475.45L475.45 172.9H475.95L475.95 173.2H476.45L476.45 174.2H476.95L476.95 174.2H477.45L477.45 174.1H477.95L477.95 174.1H478.45L478.45 173.1H478.95L478.95 174.2H479.45L479.45 174.2H479.95L479.95 174.2H480.45L480.45 171.7H480.95L480.95 171.4H481.45L481.45 171.4H481.95L481.95 174.2H482.45L482.45 174.2H482.95L482.95 174.2H483.45L483.45 174.2H483.95L483.95 174.2H484.45L484.45 173.4H484.95L484.95 174.2H485.45L485.45 174.2H485.95L485.95 174.2H486.45L486.45 174.2H486.95L486.95 173.7H487.45L487.45 174.2H487.95L487.95 173.0H488.45L488.45 174.2H488.95L488.95 174.2H489.45L489.45 174.2H489.95L489.95 174.0H490.45L490.45 172.6H490.95L490.95 173.6H491.45L491.45 174.2H491.95L491.95 173.2H492.45L492.45 174.2H492.95L492.95 174.2H493.45L493.45 174.2H493.95L493.95 173.4H494.45L494.45 173.7H494.95L494.95 174.2H495.45L495.45 174.2H495.95L495.95 174.2H496.45L496.45 174.2H496.95L496.95 174.2H497.45L497.45 173.3H497.95L497.95 172.8H498.45L498.45 174.2H498.95L498.95 171.9H499.45L499.45 173.9H499.95L499.95 173.8H500.45L500.45 173.3H500.95L500.95 174.2H501.45L501.45 174.2H501.95L501.95 174.2H502.45L502.45 173.3H502.95L502.95 174.2H503.45L503.42 174.50ZM466.48 174.50L466.45 174.8H466.95L466.95 174.8H467.45L467.45 174.8H467.95L467.95 175.0H468.45L468.45 174.8H468.95L468.95 174.8H469.45L469.45 175.6H469.95L469.95 174.8H470.45L470.45 177.9H470.95L470.95 174.8H471.45L471.45 174.8H471.95L471.95 174.8H472.45L472.45 174.8H472.95L472.95 176.3H473.45L473.45 174.8H473.95L473.95 177.1H474.45L474.45 174.8H474.95L474.95 177.1H475.45L475.45 174.8H475.95L475.95 174.8H476.45L476.45 175.1H476.95L476.95 175.0H477.45L477.45 174.8H477.95L477.95 174.8H478.45L478.45 174.8H478.95L478.95 176.6H479.45L479.45 175.2H479.95L479.95 175.7H480.45L480.45 174.8H480.95L480.95 174.8H481.45L481.45 174.8H481.95L481.95 174.8H482.45L482.45 178.1H482.95L482.95 175.8H483.45L483.45 175.5H483.95L483.95 176.3H484.45L484.45 174.8H484.95L484.95 175.8H485.45L485.45 174.9H485.95L485.95 176.9H486.45L486.45 176.1H486.95L486.95 174.8H487.45L487.45 174.8H487.95L487.95 174.8H488.45L488.45 174.8H488.95L488.95 174.8H489.45L489.45 174.8H489.95L489.95 174.8H490.45L490.45 174.8H490.95L490.95 174.8H491.45L491.45 175.0H491.95L491.95 174.8H492.45L492.45 175.6H492.95L492.95 175.1H493.45L493.45 175.7H493.95L493.95 174.8H494.45L494.45 174.8H494.95L494.95 174.8H495.45L495.45 176.7H495.95L495.95 178.1H496.45L496.45 174.8H496.95L496.95 174.9H497.45L497.45 174.8H497.95L497.95 174.8H498.45L498.45 176.5H498.95L498.95 174.8H499.45L499.45 174.8H499.95L499.95 174.8H500.45L500.45 174.8H500.95L500.95 175.0H501.45L501.45 175.5H501.95L501.95 175.9H502.45L502.45 174.8H502.95L502.95 175.8H503.45L503.42 174.50Z" fill="#111"/>
<line x1="483.80" y1="163.70" x2="484.40" y2="168.80" stroke="#999" stroke-width="0.6"/>
<line x1="466.40" y1="188.50" x2="503.70" y2="188.50" stroke="#8a8a8a" stroke-width="0.95" />
<line x1="466.40" y1="185.60" x2="466.40" y2="188.50" stroke="#c8c8c8" stroke-width="0.6" />
<rect x="506.70" y="163.70" width="33.10" height="21.90" fill="none" stroke="#c4c4c4" stroke-width="0.6"/>
<line x1="506.70" y1="168.80" x2="539.80" y2="168.80" stroke="#e2e2e2" stroke-width="0.5" />
<line x1="506.70" y1="180.10" x2="539.80" y2="180.10" stroke="#e2e2e2" stroke-width="0.5" />
<line x1="511.11" y1="174.50" x2="511.11" y2="185.60" stroke="#bdbdbd" stroke-width="0.7"/><line x1="512.61" y1="174.50" x2="512.61" y2="185.60" stroke="#bdbdbd" stroke-width="0.5"/><line x1="513.96" y1="174.50" x2="513.96" y2="185.60" stroke="#6a6a6a" stroke-width="0.7"/><line x1="518.50" y1="174.50" x2="518.50" y2="185.60" stroke="#a8a8a8" stroke-width="0.9"/><line x1="518.83" y1="174.50" x2="518.83" y2="185.60" stroke="#6a6a6a" stroke-width="0.9"/><line x1="520.91" y1="174.50" x2="520.91" y2="185.60" stroke="#8a8a8a" stroke-width="0.5"/><line x1="523.37" y1="174.50" x2="523.37" y2="185.60" stroke="#8a8a8a" stroke-width="0.7"/><line x1="524.68" y1="174.50" x2="524.68" y2="185.60" stroke="#6a6a6a" stroke-width="0.7"/><line x1="529.57" y1="174.50" x2="529.57" y2="185.60" stroke="#8a8a8a" stroke-width="0.7"/><line x1="537.09" y1="174.50" x2="537.09" y2="185.60" stroke="#a8a8a8" stroke-width="0.7"/><line x1="537.61" y1="174.50" x2="537.61" y2="185.60" stroke="#a8a8a8" stroke-width="0.7"/>
<path d="M507.2 174.5V172.0M508.2 174.5V173.2M508.7 174.5V171.6M509.7 174.5V173.4M511.7 174.5V170.0M514.7 174.5V172.5M515.7 174.5V167.9M517.7 174.5V172.8M520.2 174.5V171.2M521.7 174.5V170.6M525.2 174.5V171.3M528.2 174.5V170.6M529.2 174.5V171.1M529.7 174.5V170.2M531.2 174.5V167.3M532.7 174.5V172.1M534.7 174.5V171.2M538.7 174.5V172.2" stroke="#9a9a9a" stroke-width="0.4" fill="none"/>
<path d="M506.78 174.50L506.75 173.7H507.25L507.25 173.6H507.75L507.75 174.2H508.25L508.25 174.2H508.75L508.75 172.2H509.25L509.25 174.2H509.75L509.75 174.2H510.25L510.25 174.2H510.75L510.75 174.2H511.25L511.25 172.4H511.75L511.75 174.2H512.25L512.25 174.2H512.75L512.75 171.4H513.25L513.25 174.2H513.75L513.75 174.2H514.25L514.25 174.2H514.75L514.75 171.9H515.25L515.25 171.8H515.75L515.75 172.7H516.25L516.25 172.0H516.75L516.75 174.2H517.25L517.25 174.2H517.75L517.75 174.2H518.25L518.25 173.8H518.75L518.75 173.4H519.25L519.25 172.1H519.75L519.75 174.2H520.25L520.25 174.2H520.75L520.75 172.3H521.25L521.25 174.2H521.75L521.75 174.2H522.25L522.25 174.2H522.75L522.75 173.9H523.25L523.25 173.5H523.75L523.75 174.2H524.25L524.25 174.2H524.75L524.75 174.2H525.25L525.25 172.0H525.75L525.75 173.5H526.25L526.25 174.2H526.75L526.75 172.7H527.25L527.25 174.2H527.75L527.75 174.2H528.25L528.25 174.2H528.75L528.75 174.0H529.25L529.25 171.9H529.75L529.75 173.4H530.25L530.25 173.6H530.75L530.75 171.0H531.25L531.25 173.2H531.75L531.75 174.2H532.25L532.25 174.2H532.75L532.75 170.4H533.25L533.25 174.2H533.75L533.75 174.1H534.25L534.25 174.2H534.75L534.75 171.2H535.25L535.25 174.2H535.75L535.75 173.5H536.25L536.25 173.9H536.75L536.75 172.9H537.25L537.25 174.2H537.75L537.75 174.2H538.25L538.25 173.4H538.75L538.75 173.5H539.25L539.22 174.50ZM506.78 174.50L506.75 174.8H507.25L507.25 174.8H507.75L507.75 174.8H508.25L508.25 178.3H508.75L508.75 174.8H509.25L509.25 178.4H509.75L509.75 174.8H510.25L510.25 174.9H510.75L510.75 176.9H511.25L511.25 174.8H511.75L511.75 178.7H512.25L512.25 176.8H512.75L512.75 174.8H513.25L513.25 176.1H513.75L513.75 175.1H514.25L514.25 176.3H514.75L514.75 174.8H515.25L515.25 174.8H515.75L515.75 174.8H516.25L516.25 174.8H516.75L516.75 175.0H517.25L517.25 175.1H517.75L517.75 176.3H518.25L518.25 174.8H518.75L518.75 174.8H519.25L519.25 174.8H519.75L519.75 174.8H520.25L520.25 174.8H520.75L520.75 174.8H521.25L521.25 174.8H521.75L521.75 174.8H522.25L522.25 177.1H522.75L522.75 174.8H523.25L523.25 174.8H523.75L523.75 174.8H524.25L524.25 176.0H524.75L524.75 175.4H525.25L525.25 174.8H525.75L525.75 174.8H526.25L526.25 174.8H526.75L526.75 174.8H527.25L527.25 176.0H527.75L527.75 177.9H528.25L528.25 177.0H528.75L528.75 174.8H529.25L529.25 174.8H529.75L529.75 174.8H530.25L530.25 174.8H530.75L530.75 174.8H531.25L531.25 174.8H531.75L531.75 174.8H532.25L532.25 176.1H532.75L532.75 174.8H533.25L533.25 176.0H533.75L533.75 174.8H534.25L534.25 177.4H534.75L534.75 174.8H535.25L535.25 175.9H535.75L535.75 174.8H536.25L536.25 174.8H536.75L536.75 174.8H537.25L537.25 175.3H537.75L537.75 177.0H538.25L538.25 174.8H538.75L538.75 174.8H539.25L539.22 174.50Z" fill="#111"/>
<line x1="527.40" y1="163.70" x2="528.00" y2="168.80" stroke="#999" stroke-width="0.6"/>
<line x1="506.70" y1="188.50" x2="539.80" y2="188.50" stroke="#8a8a8a" stroke-width="0.95" />
<line x1="506.70" y1="185.60" x2="506.70" y2="188.50" stroke="#c8c8c8" stroke-width="0.6" />
<ellipse cx="531.90" cy="188.50" rx="1.15" ry="1.5" fill="#111"/>
<rect x="542.90" y="163.70" width="24.60" height="21.90" fill="none" stroke="#c4c4c4" stroke-width="0.6"/>
<line x1="542.90" y1="168.80" x2="567.50" y2="168.80" stroke="#e2e2e2" stroke-width="0.5" />
<line x1="542.90" y1="180.10" x2="567.50" y2="180.10" stroke="#e2e2e2" stroke-width="0.5" />
<line x1="543.99" y1="174.50" x2="543.99" y2="185.60" stroke="#bdbdbd" stroke-width="0.9"/><line x1="544.91" y1="174.50" x2="544.91" y2="185.60" stroke="#6a6a6a" stroke-width="0.7"/><line x1="551.66" y1="174.50" x2="551.66" y2="185.60" stroke="#a8a8a8" stroke-width="0.7"/><line x1="560.58" y1="174.50" x2="560.58" y2="185.60" stroke="#6a6a6a" stroke-width="0.9"/><line x1="563.20" y1="174.50" x2="563.20" y2="185.60" stroke="#8a8a8a" stroke-width="0.5"/><line x1="565.02" y1="174.50" x2="565.02" y2="185.60" stroke="#6a6a6a" stroke-width="0.5"/><line x1="565.65" y1="174.50" x2="565.65" y2="185.60" stroke="#a8a8a8" stroke-width="0.7"/><line x1="565.96" y1="174.50" x2="565.96" y2="185.60" stroke="#8a8a8a" stroke-width="0.7"/>
<path d="M544.4 174.5V170.6M545.9 174.5V173.1M549.4 174.5V170.6M549.9 174.5V171.5M551.9 174.5V171.9M553.9 174.5V171.4M554.4 174.5V172.3M555.9 174.5V171.0M558.9 174.5V171.8M561.9 174.5V168.2M563.9 174.5V171.1M564.4 174.5V172.3M564.9 174.5V171.6" stroke="#9a9a9a" stroke-width="0.4" fill="none"/>
<path d="M542.98 174.50L542.95 174.2H543.45L543.45 173.0H543.95L543.95 174.2H544.45L544.45 172.8H544.95L544.95 174.2H545.45L545.45 174.2H545.95L545.95 173.0H546.45L546.45 173.5H546.95L546.95 174.2H547.45L547.45 172.3H547.95L547.95 173.5H548.45L548.45 173.8H548.95L548.95 174.2H549.45L549.45 174.2H549.95L549.95 173.5H550.45L550.45 173.5H550.95L550.95 172.4H551.45L551.45 174.2H551.95L551.95 172.0H552.45L552.45 168.8H552.95L552.95 174.2H553.45L553.45 173.6H553.95L553.95 174.2H554.45L554.45 174.2H554.95L554.95 173.3H555.45L555.45 172.7H555.95L555.95 174.2H556.45L556.45 171.5H556.95L556.95 174.2H557.45L557.45 173.6H557.95L557.95 174.2H558.45L558.45 174.2H558.95L558.95 174.2H559.45L559.45 174.2H559.95L559.95 174.2H560.45L560.45 174.2H560.95L560.95 174.2H561.45L561.45 169.8H561.95L561.95 174.1H562.45L562.45 172.7H562.95L562.95 171.7H563.45L563.45 174.2H563.95L563.95 173.8H564.45L564.45 172.9H564.95L564.95 173.4H565.45L565.45 173.2H565.95L565.95 174.2H566.45L566.45 174.0H566.95L566.95 174.2H567.45L567.42 174.50ZM542.98 174.50L542.95 175.4H543.45L543.45 174.8H543.95L543.95 175.9H544.45L544.45 174.8H544.95L544.95 174.8H545.45L545.45 175.3H545.95L545.95 174.8H546.45L546.45 174.8H546.95L546.95 174.8H547.45L547.45 174.8H547.95L547.95 174.8H548.45L548.45 174.8H548.95L548.95 174.8H549.45L549.45 174.8H549.95L549.95 174.8H550.45L550.45 174.8H550.95L550.95 174.8H551.45L551.45 179.2H551.95L551.95 174.8H552.45L552.45 174.8H552.95L552.95 175.7H553.45L553.45 174.8H553.95L553.95 174.8H554.45L554.45 175.5H554.95L554.95 174.8H555.45L555.45 174.8H555.95L555.95 176.6H556.45L556.45 174.8H556.95L556.95 175.3H557.45L557.45 174.8H557.95L557.95 174.8H558.45L558.45 175.5H558.95L558.95 176.3H559.45L559.45 174.8H559.95L559.95 175.1H560.45L560.45 175.0H560.95L560.95 175.5H561.45L561.45 174.8H561.95L561.95 174.8H562.45L562.45 174.8H562.95L562.95 174.8H563.45L563.45 175.3H563.95L563.95 174.8H564.45L564.45 174.8H564.95L564.95 174.8H565.45L565.45 174.8H565.95L565.95 174.8H566.45L566.45 174.8H566.95L566.95 177.4H567.45L567.42 174.50Z" fill="#111"/>
<line x1="552.30" y1="163.70" x2="552.90" y2="168.80" stroke="#999" stroke-width="0.6"/>
<line x1="542.90" y1="188.50" x2="567.50" y2="188.50" stroke="#8a8a8a" stroke-width="0.95" />
<line x1="542.90" y1="185.60" x2="542.90" y2="188.50" stroke="#c8c8c8" stroke-width="0.6" />
<ellipse cx="558.10" cy="188.50" rx="1.15" ry="1.5" fill="#111"/>
<rect x="571.10" y="163.70" width="20.80" height="21.90" fill="none" stroke="#c4c4c4" stroke-width="0.6"/>
<line x1="571.10" y1="168.80" x2="591.90" y2="168.80" stroke="#e2e2e2" stroke-width="0.5" />
<line x1="571.10" y1="180.10" x2="591.90" y2="180.10" stroke="#e2e2e2" stroke-width="0.5" />
<line x1="573.80" y1="174.50" x2="573.80" y2="185.60" stroke="#bdbdbd" stroke-width="0.7"/><line x1="575.29" y1="174.50" x2="575.29" y2="185.60" stroke="#bdbdbd" stroke-width="0.9"/><line x1="580.18" y1="174.50" x2="580.18" y2="185.60" stroke="#bdbdbd" stroke-width="0.5"/><line x1="583.15" y1="174.50" x2="583.15" y2="185.60" stroke="#8a8a8a" stroke-width="0.7"/><line x1="586.53" y1="174.50" x2="586.53" y2="185.60" stroke="#bdbdbd" stroke-width="0.7"/><line x1="588.54" y1="174.50" x2="588.54" y2="185.60" stroke="#6a6a6a" stroke-width="0.7"/>
<path d="M572.6 174.5V172.8M579.6 174.5V172.0M580.1 174.5V170.6M581.6 174.5V170.9M582.6 174.5V169.0M586.6 174.5V171.6" stroke="#9a9a9a" stroke-width="0.4" fill="none"/>
<path d="M571.18 174.50L571.15 174.2H571.65L571.65 169.2H572.15L572.15 174.2H572.65L572.65 172.0H573.15L573.15 173.9H573.65L573.65 173.4H574.15L574.15 174.2H574.65L574.65 174.2H575.15L575.15 172.3H575.65L575.65 170.8H576.15L576.15 174.2H576.65L576.65 170.5H577.15L577.15 173.1H577.65L577.65 172.9H578.15L578.15 173.0H578.65L578.65 173.2H579.15L579.15 174.2H579.65L579.65 174.2H580.15L580.15 174.2H580.65L580.65 174.2H581.15L581.15 173.7H581.65L581.65 173.5H582.15L582.15 172.4H582.65L582.65 170.8H583.15L583.15 172.8H583.65L583.65 174.2H584.15L584.15 170.8H584.65L584.65 173.5H585.15L585.15 174.2H585.65L585.65 173.4H586.15L586.15 173.2H586.65L586.65 174.2H587.15L587.15 174.1H587.65L587.65 174.2H588.15L588.15 174.2H588.65L588.65 173.9H589.15L589.15 174.1H589.65L589.65 174.2H590.15L590.15 173.9H590.65L590.65 171.7H591.15L591.15 174.2H591.65L591.62 174.50ZM571.18 174.50L571.15 175.3H571.65L571.65 174.8H572.15L572.15 176.4H572.65L572.65 174.8H573.15L573.15 174.8H573.65L573.65 174.8H574.15L574.15 174.8H574.65L574.65 175.9H575.15L575.15 174.8H575.65L575.65 174.8H576.15L576.15 174.8H576.65L576.65 174.8H577.15L577.15 174.8H577.65L577.65 174.8H578.15L578.15 174.8H578.65L578.65 174.8H579.15L579.15 175.9H579.65L579.65 177.7H580.15L580.15 174.8H580.65L580.65 175.5H581.15L581.15 174.8H581.65L581.65 174.8H582.15L582.15 174.8H582.65L582.65 174.8H583.15L583.15 174.8H583.65L583.65 174.8H584.15L584.15 174.8H584.65L584.65 174.8H585.15L585.15 175.8H585.65L585.65 174.8H586.15L586.15 174.8H586.65L586.65 176.6H587.15L587.15 174.8H587.65L587.65 177.6H588.15L588.15 174.8H588.65L588.65 174.8H589.15L589.15 174.8H589.65L589.65 178.3H590.15L590.15 174.8H590.65L590.65 174.8H591.15L591.15 176.6H591.65L591.62 174.50Z" fill="#111"/>
<line x1="590.60" y1="163.70" x2="591.20" y2="168.80" stroke="#999" stroke-width="0.6"/>
<line x1="571.10" y1="188.50" x2="591.90" y2="188.50" stroke="#8a8a8a" stroke-width="0.95" />
<line x1="571.10" y1="185.60" x2="571.10" y2="188.50" stroke="#c8c8c8" stroke-width="0.6" />
<ellipse cx="589.10" cy="188.50" rx="1.15" ry="1.5" fill="#111"/>
<rect x="595.00" y="163.70" width="19.50" height="21.90" fill="none" stroke="#c4c4c4" stroke-width="0.6"/>
<line x1="595.00" y1="168.80" x2="614.50" y2="168.80" stroke="#e2e2e2" stroke-width="0.5" />
<line x1="595.00" y1="180.10" x2="614.50" y2="180.10" stroke="#e2e2e2" stroke-width="0.5" />
<line x1="600.23" y1="174.50" x2="600.23" y2="185.60" stroke="#6a6a6a" stroke-width="0.5"/><line x1="605.31" y1="174.50" x2="605.31" y2="185.60" stroke="#bdbdbd" stroke-width="0.5"/><line x1="608.66" y1="174.50" x2="608.66" y2="185.60" stroke="#8a8a8a" stroke-width="0.7"/><line x1="608.72" y1="174.50" x2="608.72" y2="185.60" stroke="#a8a8a8" stroke-width="0.7"/><line x1="610.43" y1="174.50" x2="610.43" y2="185.60" stroke="#a8a8a8" stroke-width="0.9"/><line x1="610.66" y1="174.50" x2="610.66" y2="185.60" stroke="#8a8a8a" stroke-width="0.7"/>
<path d="M596.0 174.5V173.3M602.0 174.5V171.9M605.0 174.5V171.6M607.5 174.5V172.9M609.0 174.5V172.2M609.5 174.5V172.8" stroke="#9a9a9a" stroke-width="0.4" fill="none"/>
<path d="M595.08 174.50L595.05 174.2H595.55L595.55 174.2H596.05L596.05 174.0H596.55L596.55 174.2H597.05L597.05 173.4H597.55L597.55 173.6H598.05L598.05 174.2H598.55L598.55 174.2H599.05L599.05 172.5H599.55L599.55 172.8H600.05L600.05 174.1H600.55L600.55 174.2H601.05L601.05 172.2H601.55L601.55 173.5H602.05L602.05 174.2H602.55L602.55 174.2H603.05L603.05 173.7H603.55L603.55 174.2H604.05L604.05 169.9H604.55L604.55 173.0H605.05L605.05 173.9H605.55L605.55 174.2H606.05L606.05 174.2H606.55L606.55 174.2H607.05L607.05 174.1H607.55L607.55 172.1H608.05L608.05 174.2H608.55L608.55 174.2H609.05L609.05 174.2H609.55L609.55 173.4H610.05L610.05 174.2H610.55L610.55 174.2H611.05L611.05 174.2H611.55L611.55 169.0H612.05L612.05 174.2H612.55L612.55 173.8H613.05L613.05 174.2H613.55L613.55 173.6H614.05L614.02 174.50ZM595.08 174.50L595.05 175.0H595.55L595.55 174.8H596.05L596.05 174.8H596.55L596.55 174.8H597.05L597.05 174.8H597.55L597.55 174.8H598.05L598.05 176.5H598.55L598.55 174.9H599.05L599.05 174.8H599.55L599.55 174.8H600.05L600.05 174.8H600.55L600.55 175.0H601.05L601.05 174.8H601.55L601.55 174.8H602.05L602.05 175.4H602.55L602.55 176.1H603.05L603.05 174.8H603.55L603.55 175.7H604.05L604.05 174.8H604.55L604.55 174.8H605.05L605.05 174.8H605.55L605.55 175.4H606.05L606.05 176.1H606.55L606.55 174.8H607.05L607.05 174.8H607.55L607.55 174.8H608.05L608.05 175.3H608.55L608.55 175.2H609.05L609.05 174.8H609.55L609.55 174.8H610.05L610.05 176.3H610.55L610.55 176.0H611.05L611.05 174.8H611.55L611.55 174.8H612.05L612.05 174.8H612.55L612.55 174.8H613.05L613.05 175.4H613.55L613.55 174.8H614.05L614.02 174.50Z" fill="#111"/>
<line x1="604.00" y1="163.70" x2="604.60" y2="168.80" stroke="#999" stroke-width="0.6"/>
<line x1="595.00" y1="188.50" x2="614.50" y2="188.50" stroke="#8a8a8a" stroke-width="0.95" />
<line x1="595.00" y1="185.60" x2="595.00" y2="188.50" stroke="#c8c8c8" stroke-width="0.6" />
<ellipse cx="600.10" cy="188.50" rx="1.15" ry="1.5" fill="#111"/>
<ellipse cx="607.30" cy="188.50" rx="1.15" ry="1.5" fill="#111"/>
<rect x="618.30" y="163.70" width="46.90" height="21.90" fill="none" stroke="#c4c4c4" stroke-width="0.6"/>
<line x1="618.30" y1="168.80" x2="665.20" y2="168.80" stroke="#e2e2e2" stroke-width="0.5" />
<line x1="618.30" y1="180.10" x2="665.20" y2="180.10" stroke="#e2e2e2" stroke-width="0.5" />
<line x1="622.24" y1="174.50" x2="622.24" y2="185.60" stroke="#6a6a6a" stroke-width="0.9"/><line x1="626.77" y1="174.50" x2="626.77" y2="185.60" stroke="#a8a8a8" stroke-width="0.9"/><line x1="627.85" y1="174.50" x2="627.85" y2="185.60" stroke="#bdbdbd" stroke-width="0.7"/><line x1="628.30" y1="174.50" x2="628.30" y2="185.60" stroke="#bdbdbd" stroke-width="0.9"/><line x1="629.69" y1="174.50" x2="629.69" y2="185.60" stroke="#bdbdbd" stroke-width="0.9"/><line x1="630.34" y1="174.50" x2="630.34" y2="185.60" stroke="#6a6a6a" stroke-width="0.9"/><line x1="630.52" y1="174.50" x2="630.52" y2="185.60" stroke="#a8a8a8" stroke-width="0.5"/><line x1="642.70" y1="174.50" x2="642.70" y2="185.60" stroke="#a8a8a8" stroke-width="0.9"/><line x1="644.09" y1="174.50" x2="644.09" y2="185.60" stroke="#bdbdbd" stroke-width="0.9"/><line x1="645.32" y1="174.50" x2="645.32" y2="185.60" stroke="#a8a8a8" stroke-width="0.9"/><line x1="654.70" y1="174.50" x2="654.70" y2="185.60" stroke="#8a8a8a" stroke-width="0.9"/><line x1="655.60" y1="174.50" x2="655.60" y2="185.60" stroke="#6a6a6a" stroke-width="0.5"/><line x1="657.35" y1="174.50" x2="657.35" y2="185.60" stroke="#bdbdbd" stroke-width="0.9"/><line x1="661.14" y1="174.50" x2="661.14" y2="185.60" stroke="#a8a8a8" stroke-width="0.9"/><line x1="661.86" y1="174.50" x2="661.86" y2="185.60" stroke="#8a8a8a" stroke-width="0.5"/>
<path d="M621.8 174.5V164.0M622.8 174.5V168.5M626.8 174.5V171.0M630.3 174.5V171.8M635.8 174.5V164.5M637.3 174.5V166.3M638.3 174.5V167.3M640.3 174.5V167.5M644.3 174.5V173.3M646.8 174.5V164.0M647.3 174.5V164.8M650.3 174.5V165.5M650.8 174.5V167.1M656.8 174.5V165.7" stroke="#9a9a9a" stroke-width="0.4" fill="none"/>
<path d="M618.38 174.50L618.35 164.6H618.85L618.85 170.4H619.35L619.35 169.7H619.85L619.85 172.7H620.35L620.35 166.1H620.85L620.85 168.3H621.35L621.35 166.0H621.85L621.85 174.2H622.35L622.35 169.7H622.85L622.85 168.7H623.35L623.35 171.2H623.85L623.85 167.9H624.35L624.35 169.2H624.85L624.85 164.0H625.35L625.35 169.5H625.85L625.85 167.1H626.35L626.35 174.2H626.85L626.85 174.2H627.35L627.35 167.1H627.85L627.85 174.2H628.35L628.35 174.2H628.85L628.85 168.9H629.35L629.35 174.2H629.85L629.85 174.2H630.35L630.35 174.2H630.85L630.85 168.8H631.35L631.35 169.4H631.85L631.85 166.9H632.35L632.35 168.0H632.85L632.85 168.2H633.35L633.35 166.1H633.85L633.85 167.5H634.35L634.35 168.1H634.85L634.85 170.0H635.35L635.35 168.1H635.85L635.85 167.4H636.35L636.35 170.6H636.85L636.85 170.2H637.35L637.35 170.2H637.85L637.85 170.6H638.35L638.35 167.9H638.85L638.85 168.8H639.35L639.35 168.5H639.85L639.85 168.7H640.35L640.35 168.3H640.85L640.85 167.1H641.35L641.35 168.5H641.85L641.85 168.6H642.35L642.35 170.7H642.85L642.85 167.6H643.35L643.35 170.2H643.85L643.85 174.2H644.35L644.35 171.0H644.85L644.85 174.2H645.35L645.35 174.2H645.85L645.85 168.4H646.35L646.35 164.0H646.85L646.85 168.3H647.35L647.35 169.6H647.85L647.85 169.6H648.35L648.35 165.6H648.85L648.85 168.8H649.35L649.35 169.3H649.85L649.85 167.0H650.35L650.35 169.1H650.85L650.85 165.4H651.35L651.35 169.5H651.85L651.85 168.3H652.35L652.35 169.8H652.85L652.85 168.6H653.35L653.35 168.3H653.85L653.85 169.4H654.35L654.35 174.2H654.85L654.85 168.6H655.35L655.35 170.2H655.85L655.85 171.5H656.35L656.35 168.0H656.85L656.85 168.1H657.35L657.35 170.2H657.85L657.85 167.7H658.35L658.35 170.5H658.85L658.85 168.1H659.35L659.35 169.4H659.85L659.85 165.7H660.35L660.35 165.8H660.85L660.85 168.0H661.35L661.35 166.8H661.85L661.85 169.7H662.35L662.35 165.0H662.85L662.85 171.2H663.35L663.35 169.5H663.85L663.85 168.5H664.35L664.35 168.5H664.85L664.82 174.50ZM618.38 174.50L618.35 174.8H618.85L618.85 174.8H619.35L619.35 174.8H619.85L619.85 174.8H620.35L620.35 174.8H620.85L620.85 174.8H621.35L621.35 174.8H621.85L621.85 175.9H622.35L622.35 174.8H622.85L622.85 174.8H623.35L623.35 174.8H623.85L623.85 174.8H624.35L624.35 174.8H624.85L624.85 174.8H625.35L625.35 174.8H625.85L625.85 174.8H626.35L626.35 175.2H626.85L626.85 175.5H627.35L627.35 174.8H627.85L627.85 175.4H628.35L628.35 176.8H628.85L628.85 174.8H629.35L629.35 175.2H629.85L629.85 176.5H630.35L630.35 175.9H630.85L630.85 174.8H631.35L631.35 174.8H631.85L631.85 174.8H632.35L632.35 174.8H632.85L632.85 174.8H633.35L633.35 174.8H633.85L633.85 174.8H634.35L634.35 174.8H634.85L634.85 174.8H635.35L635.35 174.8H635.85L635.85 174.8H636.35L636.35 174.8H636.85L636.85 174.8H637.35L637.35 174.8H637.85L637.85 174.8H638.35L638.35 174.8H638.85L638.85 174.8H639.35L639.35 174.8H639.85L639.85 174.8H640.35L640.35 174.8H640.85L640.85 174.8H641.35L641.35 174.8H641.85L641.85 174.8H642.35L642.35 174.8H642.85L642.85 174.8H643.35L643.35 174.8H643.85L643.85 175.6H644.35L644.35 174.8H644.85L644.85 175.6H645.35L645.35 176.5H645.85L645.85 174.8H646.35L646.35 174.8H646.85L646.85 174.8H647.35L647.35 174.8H647.85L647.85 174.8H648.35L648.35 174.8H648.85L648.85 174.8H649.35L649.35 174.8H649.85L649.85 174.8H650.35L650.35 174.8H650.85L650.85 174.8H651.35L651.35 174.8H651.85L651.85 174.8H652.35L652.35 174.8H652.85L652.85 174.8H653.35L653.35 174.8H653.85L653.85 174.8H654.35L654.35 177.5H654.85L654.85 174.8H655.35L655.35 174.8H655.85L655.85 174.8H656.35L656.35 174.8H656.85L656.85 174.8H657.35L657.35 174.8H657.85L657.85 174.8H658.35L658.35 174.8H658.85L658.85 174.8H659.35L659.35 174.8H659.85L659.85 174.8H660.35L660.35 174.8H660.85L660.85 174.8H661.35L661.35 174.8H661.85L661.85 174.8H662.35L662.35 174.8H662.85L662.85 174.8H663.35L663.35 174.8H663.85L663.85 174.8H664.35L664.35 174.8H664.85L664.82 174.50Z" fill="#111"/>
<line x1="656.00" y1="163.70" x2="656.60" y2="168.80" stroke="#999" stroke-width="0.6"/>
<line x1="618.30" y1="188.50" x2="665.20" y2="188.50" stroke="#8a8a8a" stroke-width="0.95" />
<line x1="618.30" y1="185.60" x2="618.30" y2="188.50" stroke="#c8c8c8" stroke-width="0.6" />
<ellipse cx="646.60" cy="188.50" rx="1.15" ry="1.5" fill="#111"/>
<ellipse cx="657.6" cy="188.50" rx="1.0" ry="1.4" fill="#3344cc"/>
</svg></div>
</body></html>
